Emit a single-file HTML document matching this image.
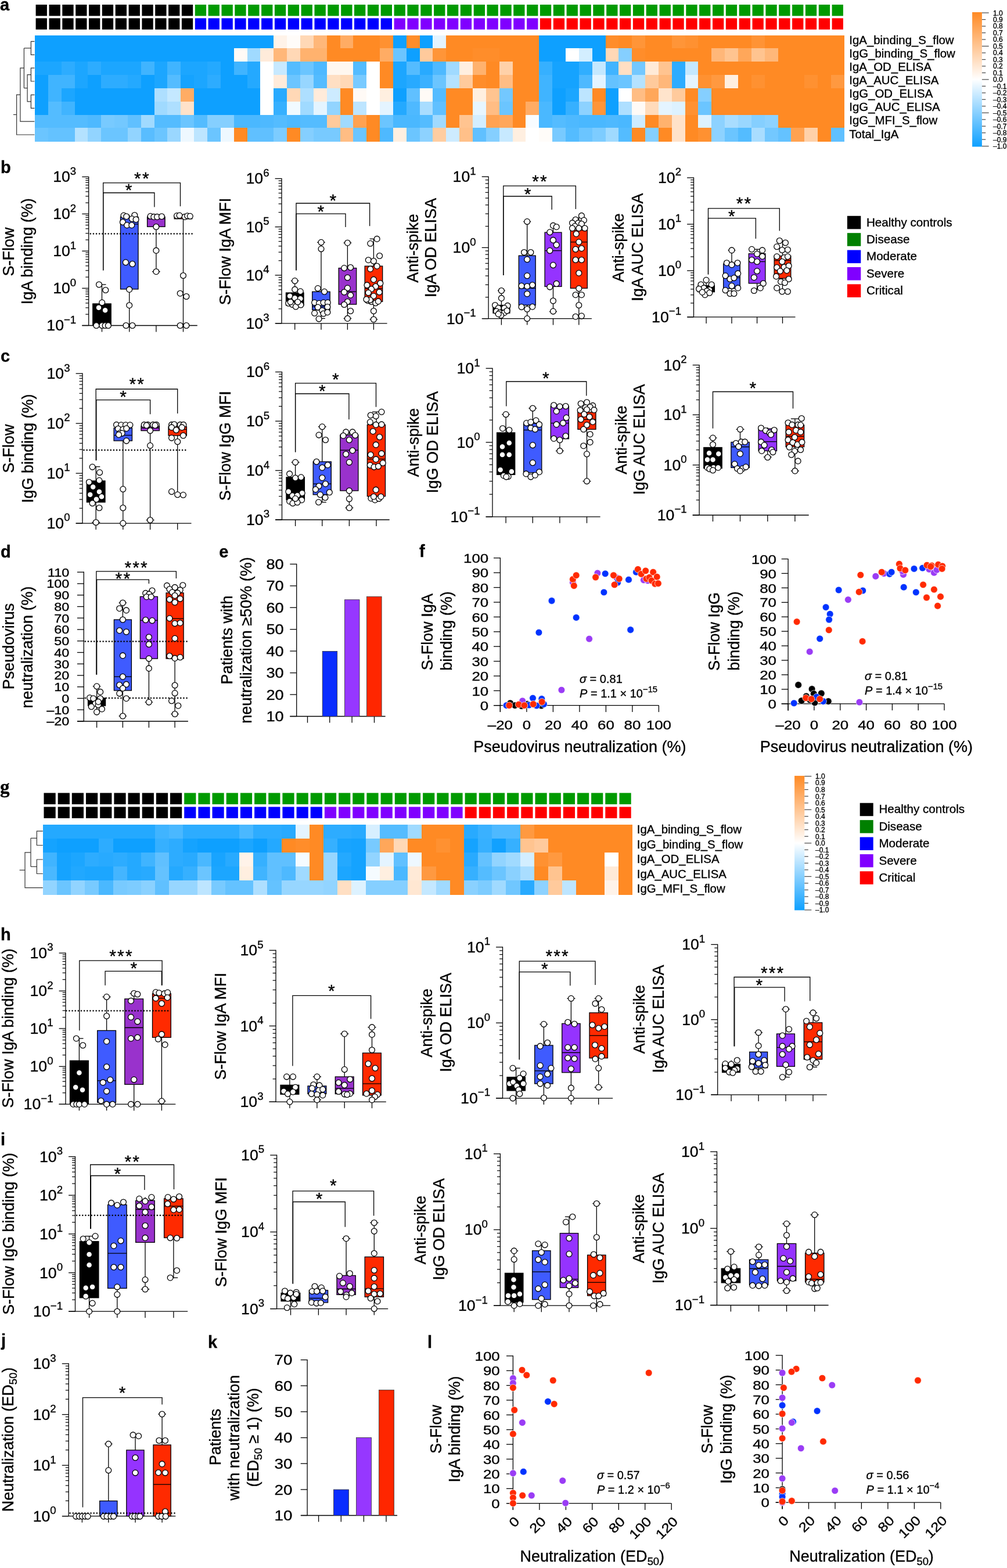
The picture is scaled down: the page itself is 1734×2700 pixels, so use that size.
<!DOCTYPE html>
<html><head><meta charset="utf-8"><style>
html,body{margin:0;padding:0;background:#fff;}
svg{display:block;}
text{stroke:#000;stroke-width:0.35px;}
</style></head><body>
<svg width="1734" height="2700" viewBox="0 0 1734 2700">
<rect width="100%" height="100%" fill="#fff"/>
<rect x="59.9" y="60.5" width="23.4" height="23.3" fill="#0ea0ff" shape-rendering="crispEdges"/>
<rect x="82.8" y="60.5" width="23.4" height="23.3" fill="#0ea0ff" shape-rendering="crispEdges"/>
<rect x="105.6" y="60.5" width="23.4" height="23.3" fill="#0ea0ff" shape-rendering="crispEdges"/>
<rect x="128.5" y="60.5" width="23.4" height="23.3" fill="#0ea0ff" shape-rendering="crispEdges"/>
<rect x="151.3" y="60.5" width="23.4" height="23.3" fill="#0ea0ff" shape-rendering="crispEdges"/>
<rect x="174.2" y="60.5" width="23.4" height="23.3" fill="#0ea0ff" shape-rendering="crispEdges"/>
<rect x="197" y="60.5" width="23.4" height="23.3" fill="#0ea0ff" shape-rendering="crispEdges"/>
<rect x="219.9" y="60.5" width="23.4" height="23.3" fill="#0ea0ff" shape-rendering="crispEdges"/>
<rect x="242.7" y="60.5" width="23.4" height="23.3" fill="#0ea0ff" shape-rendering="crispEdges"/>
<rect x="265.6" y="60.5" width="23.4" height="23.3" fill="#0ea0ff" shape-rendering="crispEdges"/>
<rect x="288.4" y="60.5" width="23.4" height="23.3" fill="#0ea0ff" shape-rendering="crispEdges"/>
<rect x="311.2" y="60.5" width="23.4" height="23.3" fill="#0ea0ff" shape-rendering="crispEdges"/>
<rect x="334.1" y="60.5" width="23.4" height="23.3" fill="#0ea0ff" shape-rendering="crispEdges"/>
<rect x="356.9" y="60.5" width="23.4" height="23.3" fill="#0ea0ff" shape-rendering="crispEdges"/>
<rect x="379.8" y="60.5" width="23.4" height="23.3" fill="#0ea0ff" shape-rendering="crispEdges"/>
<rect x="402.6" y="60.5" width="23.4" height="23.3" fill="#0ea0ff" shape-rendering="crispEdges"/>
<rect x="425.5" y="60.5" width="23.4" height="23.3" fill="#0ea0ff" shape-rendering="crispEdges"/>
<rect x="448.4" y="60.5" width="23.4" height="23.3" fill="#0ea0ff" shape-rendering="crispEdges"/>
<rect x="471.2" y="60.5" width="23.4" height="23.3" fill="#fff3e9" shape-rendering="crispEdges"/>
<rect x="494.1" y="60.5" width="23.4" height="23.3" fill="#fffcf9" shape-rendering="crispEdges"/>
<rect x="516.9" y="60.5" width="23.4" height="23.3" fill="#ffd8b6" shape-rendering="crispEdges"/>
<rect x="539.8" y="60.5" width="23.4" height="23.3" fill="#ffb779" shape-rendering="crispEdges"/>
<rect x="562.6" y="60.5" width="23.4" height="23.3" fill="#ff8a24" shape-rendering="crispEdges"/>
<rect x="585.5" y="60.5" width="23.4" height="23.3" fill="#ffac64" shape-rendering="crispEdges"/>
<rect x="608.3" y="60.5" width="23.4" height="23.3" fill="#ff8a24" shape-rendering="crispEdges"/>
<rect x="631.1" y="60.5" width="23.4" height="23.3" fill="#ff8a24" shape-rendering="crispEdges"/>
<rect x="654" y="60.5" width="23.4" height="23.3" fill="#ff9131" shape-rendering="crispEdges"/>
<rect x="676.9" y="60.5" width="23.4" height="23.3" fill="#0ea0ff" shape-rendering="crispEdges"/>
<rect x="699.7" y="60.5" width="23.4" height="23.3" fill="#ff8d2a" shape-rendering="crispEdges"/>
<rect x="722.6" y="60.5" width="23.4" height="23.3" fill="#0ea0ff" shape-rendering="crispEdges"/>
<rect x="745.4" y="60.5" width="23.4" height="23.3" fill="#e4f4ff" shape-rendering="crispEdges"/>
<rect x="768.2" y="60.5" width="23.4" height="23.3" fill="#ff8a24" shape-rendering="crispEdges"/>
<rect x="791.1" y="60.5" width="23.4" height="23.3" fill="#ff8a24" shape-rendering="crispEdges"/>
<rect x="814" y="60.5" width="23.4" height="23.3" fill="#ff8a24" shape-rendering="crispEdges"/>
<rect x="836.8" y="60.5" width="23.4" height="23.3" fill="#ff8a24" shape-rendering="crispEdges"/>
<rect x="859.6" y="60.5" width="23.4" height="23.3" fill="#ff8a24" shape-rendering="crispEdges"/>
<rect x="882.5" y="60.5" width="23.4" height="23.3" fill="#ff8a24" shape-rendering="crispEdges"/>
<rect x="905.4" y="60.5" width="23.4" height="23.3" fill="#ff8a24" shape-rendering="crispEdges"/>
<rect x="928.2" y="60.5" width="23.4" height="23.3" fill="#0ea0ff" shape-rendering="crispEdges"/>
<rect x="951.1" y="60.5" width="23.4" height="23.3" fill="#0ea0ff" shape-rendering="crispEdges"/>
<rect x="973.9" y="60.5" width="23.4" height="23.3" fill="#0ea0ff" shape-rendering="crispEdges"/>
<rect x="996.8" y="60.5" width="23.4" height="23.3" fill="#0ea0ff" shape-rendering="crispEdges"/>
<rect x="1019.6" y="60.5" width="23.4" height="23.3" fill="#0ea0ff" shape-rendering="crispEdges"/>
<rect x="1042.5" y="60.5" width="23.4" height="23.3" fill="#ff8d2a" shape-rendering="crispEdges"/>
<rect x="1065.3" y="60.5" width="23.4" height="23.3" fill="#ff8a24" shape-rendering="crispEdges"/>
<rect x="1088.2" y="60.5" width="23.4" height="23.3" fill="#ff9538" shape-rendering="crispEdges"/>
<rect x="1111" y="60.5" width="23.4" height="23.3" fill="#ff8a24" shape-rendering="crispEdges"/>
<rect x="1133.9" y="60.5" width="23.4" height="23.3" fill="#ff8a24" shape-rendering="crispEdges"/>
<rect x="1156.7" y="60.5" width="23.4" height="23.3" fill="#ff9538" shape-rendering="crispEdges"/>
<rect x="1179.6" y="60.5" width="23.4" height="23.3" fill="#ff9131" shape-rendering="crispEdges"/>
<rect x="1202.4" y="60.5" width="23.4" height="23.3" fill="#ff8a24" shape-rendering="crispEdges"/>
<rect x="1225.3" y="60.5" width="23.4" height="23.3" fill="#ff8a24" shape-rendering="crispEdges"/>
<rect x="1248.1" y="60.5" width="23.4" height="23.3" fill="#ff8a24" shape-rendering="crispEdges"/>
<rect x="1271" y="60.5" width="23.4" height="23.3" fill="#ff8a24" shape-rendering="crispEdges"/>
<rect x="1293.8" y="60.5" width="23.4" height="23.3" fill="#ff9335" shape-rendering="crispEdges"/>
<rect x="1316.7" y="60.5" width="23.4" height="23.3" fill="#ff8a24" shape-rendering="crispEdges"/>
<rect x="1339.5" y="60.5" width="23.4" height="23.3" fill="#ff8a24" shape-rendering="crispEdges"/>
<rect x="1362.4" y="60.5" width="23.4" height="23.3" fill="#ff8a24" shape-rendering="crispEdges"/>
<rect x="1385.2" y="60.5" width="23.4" height="23.3" fill="#ff8a24" shape-rendering="crispEdges"/>
<rect x="1408.1" y="60.5" width="23.4" height="23.3" fill="#ff8a24" shape-rendering="crispEdges"/>
<rect x="1430.9" y="60.5" width="23.4" height="23.3" fill="#ff8a24" shape-rendering="crispEdges"/>
<rect x="59.9" y="83.3" width="23.4" height="23.3" fill="#0ea0ff" shape-rendering="crispEdges"/>
<rect x="82.8" y="83.3" width="23.4" height="23.3" fill="#0ea0ff" shape-rendering="crispEdges"/>
<rect x="105.6" y="83.3" width="23.4" height="23.3" fill="#0ea0ff" shape-rendering="crispEdges"/>
<rect x="128.5" y="83.3" width="23.4" height="23.3" fill="#0ea0ff" shape-rendering="crispEdges"/>
<rect x="151.3" y="83.3" width="23.4" height="23.3" fill="#0ea0ff" shape-rendering="crispEdges"/>
<rect x="174.2" y="83.3" width="23.4" height="23.3" fill="#0ea0ff" shape-rendering="crispEdges"/>
<rect x="197" y="83.3" width="23.4" height="23.3" fill="#0ea0ff" shape-rendering="crispEdges"/>
<rect x="219.9" y="83.3" width="23.4" height="23.3" fill="#0ea0ff" shape-rendering="crispEdges"/>
<rect x="242.7" y="83.3" width="23.4" height="23.3" fill="#0ea0ff" shape-rendering="crispEdges"/>
<rect x="265.6" y="83.3" width="23.4" height="23.3" fill="#0ea0ff" shape-rendering="crispEdges"/>
<rect x="288.4" y="83.3" width="23.4" height="23.3" fill="#0ea0ff" shape-rendering="crispEdges"/>
<rect x="311.2" y="83.3" width="23.4" height="23.3" fill="#0ea0ff" shape-rendering="crispEdges"/>
<rect x="334.1" y="83.3" width="23.4" height="23.3" fill="#0ea0ff" shape-rendering="crispEdges"/>
<rect x="356.9" y="83.3" width="23.4" height="23.3" fill="#0ea0ff" shape-rendering="crispEdges"/>
<rect x="379.8" y="83.3" width="23.4" height="23.3" fill="#0ea0ff" shape-rendering="crispEdges"/>
<rect x="402.6" y="83.3" width="23.4" height="23.3" fill="#fffaf6" shape-rendering="crispEdges"/>
<rect x="425.5" y="83.3" width="23.4" height="23.3" fill="#a0daff" shape-rendering="crispEdges"/>
<rect x="448.4" y="83.3" width="23.4" height="23.3" fill="#ffebda" shape-rendering="crispEdges"/>
<rect x="471.2" y="83.3" width="23.4" height="23.3" fill="#ffb779" shape-rendering="crispEdges"/>
<rect x="494.1" y="83.3" width="23.4" height="23.3" fill="#ffd8b6" shape-rendering="crispEdges"/>
<rect x="516.9" y="83.3" width="23.4" height="23.3" fill="#ffb26e" shape-rendering="crispEdges"/>
<rect x="539.8" y="83.3" width="23.4" height="23.3" fill="#ffb26e" shape-rendering="crispEdges"/>
<rect x="562.6" y="83.3" width="23.4" height="23.3" fill="#ff8a24" shape-rendering="crispEdges"/>
<rect x="585.5" y="83.3" width="23.4" height="23.3" fill="#ff8a24" shape-rendering="crispEdges"/>
<rect x="608.3" y="83.3" width="23.4" height="23.3" fill="#ff8a24" shape-rendering="crispEdges"/>
<rect x="631.1" y="83.3" width="23.4" height="23.3" fill="#ff8a24" shape-rendering="crispEdges"/>
<rect x="654" y="83.3" width="23.4" height="23.3" fill="#ffac64" shape-rendering="crispEdges"/>
<rect x="676.9" y="83.3" width="23.4" height="23.3" fill="#6bc5ff" shape-rendering="crispEdges"/>
<rect x="699.7" y="83.3" width="23.4" height="23.3" fill="#0ea0ff" shape-rendering="crispEdges"/>
<rect x="722.6" y="83.3" width="23.4" height="23.3" fill="#ffca9c" shape-rendering="crispEdges"/>
<rect x="745.4" y="83.3" width="23.4" height="23.3" fill="#ff9538" shape-rendering="crispEdges"/>
<rect x="768.2" y="83.3" width="23.4" height="23.3" fill="#ff8a24" shape-rendering="crispEdges"/>
<rect x="791.1" y="83.3" width="23.4" height="23.3" fill="#ff8a24" shape-rendering="crispEdges"/>
<rect x="814" y="83.3" width="23.4" height="23.3" fill="#ff8d2a" shape-rendering="crispEdges"/>
<rect x="836.8" y="83.3" width="23.4" height="23.3" fill="#ff8d2a" shape-rendering="crispEdges"/>
<rect x="859.6" y="83.3" width="23.4" height="23.3" fill="#ff8a24" shape-rendering="crispEdges"/>
<rect x="882.5" y="83.3" width="23.4" height="23.3" fill="#ff8a24" shape-rendering="crispEdges"/>
<rect x="905.4" y="83.3" width="23.4" height="23.3" fill="#ff8a24" shape-rendering="crispEdges"/>
<rect x="928.2" y="83.3" width="23.4" height="23.3" fill="#0ea0ff" shape-rendering="crispEdges"/>
<rect x="951.1" y="83.3" width="23.4" height="23.3" fill="#0ea0ff" shape-rendering="crispEdges"/>
<rect x="973.9" y="83.3" width="23.4" height="23.3" fill="#ffffff" shape-rendering="crispEdges"/>
<rect x="996.8" y="83.3" width="23.4" height="23.3" fill="#d3eeff" shape-rendering="crispEdges"/>
<rect x="1019.6" y="83.3" width="23.4" height="23.3" fill="#0ea0ff" shape-rendering="crispEdges"/>
<rect x="1042.5" y="83.3" width="23.4" height="23.3" fill="#ffd8b6" shape-rendering="crispEdges"/>
<rect x="1065.3" y="83.3" width="23.4" height="23.3" fill="#85cfff" shape-rendering="crispEdges"/>
<rect x="1088.2" y="83.3" width="23.4" height="23.3" fill="#ff8d2a" shape-rendering="crispEdges"/>
<rect x="1111" y="83.3" width="23.4" height="23.3" fill="#ff8a24" shape-rendering="crispEdges"/>
<rect x="1133.9" y="83.3" width="23.4" height="23.3" fill="#ff8a24" shape-rendering="crispEdges"/>
<rect x="1156.7" y="83.3" width="23.4" height="23.3" fill="#ff8a24" shape-rendering="crispEdges"/>
<rect x="1179.6" y="83.3" width="23.4" height="23.3" fill="#ff8a24" shape-rendering="crispEdges"/>
<rect x="1202.4" y="83.3" width="23.4" height="23.3" fill="#ff8a24" shape-rendering="crispEdges"/>
<rect x="1225.3" y="83.3" width="23.4" height="23.3" fill="#ffb779" shape-rendering="crispEdges"/>
<rect x="1248.1" y="83.3" width="23.4" height="23.3" fill="#ffc490" shape-rendering="crispEdges"/>
<rect x="1271" y="83.3" width="23.4" height="23.3" fill="#ffa75a" shape-rendering="crispEdges"/>
<rect x="1293.8" y="83.3" width="23.4" height="23.3" fill="#ffc490" shape-rendering="crispEdges"/>
<rect x="1316.7" y="83.3" width="23.4" height="23.3" fill="#ffb779" shape-rendering="crispEdges"/>
<rect x="1339.5" y="83.3" width="23.4" height="23.3" fill="#ff8a24" shape-rendering="crispEdges"/>
<rect x="1362.4" y="83.3" width="23.4" height="23.3" fill="#ff8a24" shape-rendering="crispEdges"/>
<rect x="1385.2" y="83.3" width="23.4" height="23.3" fill="#ff8a24" shape-rendering="crispEdges"/>
<rect x="1408.1" y="83.3" width="23.4" height="23.3" fill="#ff8a24" shape-rendering="crispEdges"/>
<rect x="1430.9" y="83.3" width="23.4" height="23.3" fill="#ff8a24" shape-rendering="crispEdges"/>
<rect x="59.9" y="106.2" width="23.4" height="23.3" fill="#1ca6ff" shape-rendering="crispEdges"/>
<rect x="82.8" y="106.2" width="23.4" height="23.3" fill="#1ca6ff" shape-rendering="crispEdges"/>
<rect x="105.6" y="106.2" width="23.4" height="23.3" fill="#2dacff" shape-rendering="crispEdges"/>
<rect x="128.5" y="106.2" width="23.4" height="23.3" fill="#1ca6ff" shape-rendering="crispEdges"/>
<rect x="151.3" y="106.2" width="23.4" height="23.3" fill="#2dacff" shape-rendering="crispEdges"/>
<rect x="174.2" y="106.2" width="23.4" height="23.3" fill="#1ca6ff" shape-rendering="crispEdges"/>
<rect x="197" y="106.2" width="23.4" height="23.3" fill="#1ca6ff" shape-rendering="crispEdges"/>
<rect x="219.9" y="106.2" width="23.4" height="23.3" fill="#1ca6ff" shape-rendering="crispEdges"/>
<rect x="242.7" y="106.2" width="23.4" height="23.3" fill="#40b4ff" shape-rendering="crispEdges"/>
<rect x="265.6" y="106.2" width="23.4" height="23.3" fill="#1ca6ff" shape-rendering="crispEdges"/>
<rect x="288.4" y="106.2" width="23.4" height="23.3" fill="#40b4ff" shape-rendering="crispEdges"/>
<rect x="311.2" y="106.2" width="23.4" height="23.3" fill="#1ca6ff" shape-rendering="crispEdges"/>
<rect x="334.1" y="106.2" width="23.4" height="23.3" fill="#1ca6ff" shape-rendering="crispEdges"/>
<rect x="356.9" y="106.2" width="23.4" height="23.3" fill="#24a9ff" shape-rendering="crispEdges"/>
<rect x="379.8" y="106.2" width="23.4" height="23.3" fill="#0ea0ff" shape-rendering="crispEdges"/>
<rect x="402.6" y="106.2" width="23.4" height="23.3" fill="#40b4ff" shape-rendering="crispEdges"/>
<rect x="425.5" y="106.2" width="23.4" height="23.3" fill="#24a9ff" shape-rendering="crispEdges"/>
<rect x="448.4" y="106.2" width="23.4" height="23.3" fill="#ffffff" shape-rendering="crispEdges"/>
<rect x="471.2" y="106.2" width="23.4" height="23.3" fill="#c7e9ff" shape-rendering="crispEdges"/>
<rect x="494.1" y="106.2" width="23.4" height="23.3" fill="#54bcff" shape-rendering="crispEdges"/>
<rect x="516.9" y="106.2" width="23.4" height="23.3" fill="#6bc5ff" shape-rendering="crispEdges"/>
<rect x="539.8" y="106.2" width="23.4" height="23.3" fill="#4eb9ff" shape-rendering="crispEdges"/>
<rect x="562.6" y="106.2" width="23.4" height="23.3" fill="#fff7ef" shape-rendering="crispEdges"/>
<rect x="585.5" y="106.2" width="23.4" height="23.3" fill="#fff7ef" shape-rendering="crispEdges"/>
<rect x="608.3" y="106.2" width="23.4" height="23.3" fill="#54bcff" shape-rendering="crispEdges"/>
<rect x="631.1" y="106.2" width="23.4" height="23.3" fill="#ffffff" shape-rendering="crispEdges"/>
<rect x="654" y="106.2" width="23.4" height="23.3" fill="#ff8a24" shape-rendering="crispEdges"/>
<rect x="676.9" y="106.2" width="23.4" height="23.3" fill="#1ca6ff" shape-rendering="crispEdges"/>
<rect x="699.7" y="106.2" width="23.4" height="23.3" fill="#54bcff" shape-rendering="crispEdges"/>
<rect x="722.6" y="106.2" width="23.4" height="23.3" fill="#28aaff" shape-rendering="crispEdges"/>
<rect x="745.4" y="106.2" width="23.4" height="23.3" fill="#4eb9ff" shape-rendering="crispEdges"/>
<rect x="768.2" y="106.2" width="23.4" height="23.3" fill="#a0daff" shape-rendering="crispEdges"/>
<rect x="791.1" y="106.2" width="23.4" height="23.3" fill="#ffefe0" shape-rendering="crispEdges"/>
<rect x="814" y="106.2" width="23.4" height="23.3" fill="#ffb26e" shape-rendering="crispEdges"/>
<rect x="836.8" y="106.2" width="23.4" height="23.3" fill="#ff8a24" shape-rendering="crispEdges"/>
<rect x="859.6" y="106.2" width="23.4" height="23.3" fill="#ffd1a9" shape-rendering="crispEdges"/>
<rect x="882.5" y="106.2" width="23.4" height="23.3" fill="#ff8a24" shape-rendering="crispEdges"/>
<rect x="905.4" y="106.2" width="23.4" height="23.3" fill="#ff8a24" shape-rendering="crispEdges"/>
<rect x="928.2" y="106.2" width="23.4" height="23.3" fill="#36b0ff" shape-rendering="crispEdges"/>
<rect x="951.1" y="106.2" width="23.4" height="23.3" fill="#15a3ff" shape-rendering="crispEdges"/>
<rect x="973.9" y="106.2" width="23.4" height="23.3" fill="#15a3ff" shape-rendering="crispEdges"/>
<rect x="996.8" y="106.2" width="23.4" height="23.3" fill="#30aeff" shape-rendering="crispEdges"/>
<rect x="1019.6" y="106.2" width="23.4" height="23.3" fill="#c4e8ff" shape-rendering="crispEdges"/>
<rect x="1042.5" y="106.2" width="23.4" height="23.3" fill="#40b4ff" shape-rendering="crispEdges"/>
<rect x="1065.3" y="106.2" width="23.4" height="23.3" fill="#ffdfc3" shape-rendering="crispEdges"/>
<rect x="1088.2" y="106.2" width="23.4" height="23.3" fill="#73c8ff" shape-rendering="crispEdges"/>
<rect x="1111" y="106.2" width="23.4" height="23.3" fill="#ffead7" shape-rendering="crispEdges"/>
<rect x="1133.9" y="106.2" width="23.4" height="23.3" fill="#ffc490" shape-rendering="crispEdges"/>
<rect x="1156.7" y="106.2" width="23.4" height="23.3" fill="#2dacff" shape-rendering="crispEdges"/>
<rect x="1179.6" y="106.2" width="23.4" height="23.3" fill="#c4e8ff" shape-rendering="crispEdges"/>
<rect x="1202.4" y="106.2" width="23.4" height="23.3" fill="#ff8a24" shape-rendering="crispEdges"/>
<rect x="1225.3" y="106.2" width="23.4" height="23.3" fill="#ff8a24" shape-rendering="crispEdges"/>
<rect x="1248.1" y="106.2" width="23.4" height="23.3" fill="#ff8a24" shape-rendering="crispEdges"/>
<rect x="1271" y="106.2" width="23.4" height="23.3" fill="#ff8a24" shape-rendering="crispEdges"/>
<rect x="1293.8" y="106.2" width="23.4" height="23.3" fill="#ff8a24" shape-rendering="crispEdges"/>
<rect x="1316.7" y="106.2" width="23.4" height="23.3" fill="#ff8a24" shape-rendering="crispEdges"/>
<rect x="1339.5" y="106.2" width="23.4" height="23.3" fill="#ff8a24" shape-rendering="crispEdges"/>
<rect x="1362.4" y="106.2" width="23.4" height="23.3" fill="#ff8a24" shape-rendering="crispEdges"/>
<rect x="1385.2" y="106.2" width="23.4" height="23.3" fill="#ff8a24" shape-rendering="crispEdges"/>
<rect x="1408.1" y="106.2" width="23.4" height="23.3" fill="#ff8a24" shape-rendering="crispEdges"/>
<rect x="1430.9" y="106.2" width="23.4" height="23.3" fill="#ff8a24" shape-rendering="crispEdges"/>
<rect x="59.9" y="129" width="23.4" height="23.3" fill="#0ea0ff" shape-rendering="crispEdges"/>
<rect x="82.8" y="129" width="23.4" height="23.3" fill="#40b4ff" shape-rendering="crispEdges"/>
<rect x="105.6" y="129" width="23.4" height="23.3" fill="#40b4ff" shape-rendering="crispEdges"/>
<rect x="128.5" y="129" width="23.4" height="23.3" fill="#1ca6ff" shape-rendering="crispEdges"/>
<rect x="151.3" y="129" width="23.4" height="23.3" fill="#0ea0ff" shape-rendering="crispEdges"/>
<rect x="174.2" y="129" width="23.4" height="23.3" fill="#2dacff" shape-rendering="crispEdges"/>
<rect x="197" y="129" width="23.4" height="23.3" fill="#2dacff" shape-rendering="crispEdges"/>
<rect x="219.9" y="129" width="23.4" height="23.3" fill="#24a9ff" shape-rendering="crispEdges"/>
<rect x="242.7" y="129" width="23.4" height="23.3" fill="#0ea0ff" shape-rendering="crispEdges"/>
<rect x="265.6" y="129" width="23.4" height="23.3" fill="#1ca6ff" shape-rendering="crispEdges"/>
<rect x="288.4" y="129" width="23.4" height="23.3" fill="#54bcff" shape-rendering="crispEdges"/>
<rect x="311.2" y="129" width="23.4" height="23.3" fill="#15a3ff" shape-rendering="crispEdges"/>
<rect x="334.1" y="129" width="23.4" height="23.3" fill="#1ca6ff" shape-rendering="crispEdges"/>
<rect x="356.9" y="129" width="23.4" height="23.3" fill="#2dacff" shape-rendering="crispEdges"/>
<rect x="379.8" y="129" width="23.4" height="23.3" fill="#0ea0ff" shape-rendering="crispEdges"/>
<rect x="402.6" y="129" width="23.4" height="23.3" fill="#0ea0ff" shape-rendering="crispEdges"/>
<rect x="425.5" y="129" width="23.4" height="23.3" fill="#24a9ff" shape-rendering="crispEdges"/>
<rect x="448.4" y="129" width="23.4" height="23.3" fill="#ffffff" shape-rendering="crispEdges"/>
<rect x="471.2" y="129" width="23.4" height="23.3" fill="#ffebda" shape-rendering="crispEdges"/>
<rect x="494.1" y="129" width="23.4" height="23.3" fill="#6bc5ff" shape-rendering="crispEdges"/>
<rect x="516.9" y="129" width="23.4" height="23.3" fill="#97d6ff" shape-rendering="crispEdges"/>
<rect x="539.8" y="129" width="23.4" height="23.3" fill="#54bcff" shape-rendering="crispEdges"/>
<rect x="562.6" y="129" width="23.4" height="23.3" fill="#ffdfc3" shape-rendering="crispEdges"/>
<rect x="585.5" y="129" width="23.4" height="23.3" fill="#ffd8b6" shape-rendering="crispEdges"/>
<rect x="608.3" y="129" width="23.4" height="23.3" fill="#78caff" shape-rendering="crispEdges"/>
<rect x="631.1" y="129" width="23.4" height="23.3" fill="#ffffff" shape-rendering="crispEdges"/>
<rect x="654" y="129" width="23.4" height="23.3" fill="#ff8a24" shape-rendering="crispEdges"/>
<rect x="676.9" y="129" width="23.4" height="23.3" fill="#1ca6ff" shape-rendering="crispEdges"/>
<rect x="699.7" y="129" width="23.4" height="23.3" fill="#28aaff" shape-rendering="crispEdges"/>
<rect x="722.6" y="129" width="23.4" height="23.3" fill="#3ab1ff" shape-rendering="crispEdges"/>
<rect x="745.4" y="129" width="23.4" height="23.3" fill="#6bc5ff" shape-rendering="crispEdges"/>
<rect x="768.2" y="129" width="23.4" height="23.3" fill="#b4e2ff" shape-rendering="crispEdges"/>
<rect x="791.1" y="129" width="23.4" height="23.3" fill="#ffca9c" shape-rendering="crispEdges"/>
<rect x="814" y="129" width="23.4" height="23.3" fill="#ff8d2a" shape-rendering="crispEdges"/>
<rect x="836.8" y="129" width="23.4" height="23.3" fill="#ff8a24" shape-rendering="crispEdges"/>
<rect x="859.6" y="129" width="23.4" height="23.3" fill="#ffbd84" shape-rendering="crispEdges"/>
<rect x="882.5" y="129" width="23.4" height="23.3" fill="#ff8a24" shape-rendering="crispEdges"/>
<rect x="905.4" y="129" width="23.4" height="23.3" fill="#ff8a24" shape-rendering="crispEdges"/>
<rect x="928.2" y="129" width="23.4" height="23.3" fill="#40b4ff" shape-rendering="crispEdges"/>
<rect x="951.1" y="129" width="23.4" height="23.3" fill="#15a3ff" shape-rendering="crispEdges"/>
<rect x="973.9" y="129" width="23.4" height="23.3" fill="#15a3ff" shape-rendering="crispEdges"/>
<rect x="996.8" y="129" width="23.4" height="23.3" fill="#4eb9ff" shape-rendering="crispEdges"/>
<rect x="1019.6" y="129" width="23.4" height="23.3" fill="#e4f4ff" shape-rendering="crispEdges"/>
<rect x="1042.5" y="129" width="23.4" height="23.3" fill="#64c2ff" shape-rendering="crispEdges"/>
<rect x="1065.3" y="129" width="23.4" height="23.3" fill="#6bc5ff" shape-rendering="crispEdges"/>
<rect x="1088.2" y="129" width="23.4" height="23.3" fill="#b4e2ff" shape-rendering="crispEdges"/>
<rect x="1111" y="129" width="23.4" height="23.3" fill="#ffca9c" shape-rendering="crispEdges"/>
<rect x="1133.9" y="129" width="23.4" height="23.3" fill="#ffb779" shape-rendering="crispEdges"/>
<rect x="1156.7" y="129" width="23.4" height="23.3" fill="#2dacff" shape-rendering="crispEdges"/>
<rect x="1179.6" y="129" width="23.4" height="23.3" fill="#e4f4ff" shape-rendering="crispEdges"/>
<rect x="1202.4" y="129" width="23.4" height="23.3" fill="#ff9131" shape-rendering="crispEdges"/>
<rect x="1225.3" y="129" width="23.4" height="23.3" fill="#ff9940" shape-rendering="crispEdges"/>
<rect x="1248.1" y="129" width="23.4" height="23.3" fill="#ffefe0" shape-rendering="crispEdges"/>
<rect x="1271" y="129" width="23.4" height="23.3" fill="#ff8a24" shape-rendering="crispEdges"/>
<rect x="1293.8" y="129" width="23.4" height="23.3" fill="#ff9131" shape-rendering="crispEdges"/>
<rect x="1316.7" y="129" width="23.4" height="23.3" fill="#ff8a24" shape-rendering="crispEdges"/>
<rect x="1339.5" y="129" width="23.4" height="23.3" fill="#ff8a24" shape-rendering="crispEdges"/>
<rect x="1362.4" y="129" width="23.4" height="23.3" fill="#ff8a24" shape-rendering="crispEdges"/>
<rect x="1385.2" y="129" width="23.4" height="23.3" fill="#ff9131" shape-rendering="crispEdges"/>
<rect x="1408.1" y="129" width="23.4" height="23.3" fill="#ff8a24" shape-rendering="crispEdges"/>
<rect x="1430.9" y="129" width="23.4" height="23.3" fill="#ff9940" shape-rendering="crispEdges"/>
<rect x="59.9" y="151.9" width="23.4" height="23.3" fill="#0ea0ff" shape-rendering="crispEdges"/>
<rect x="82.8" y="151.9" width="23.4" height="23.3" fill="#40b4ff" shape-rendering="crispEdges"/>
<rect x="105.6" y="151.9" width="23.4" height="23.3" fill="#1ca6ff" shape-rendering="crispEdges"/>
<rect x="128.5" y="151.9" width="23.4" height="23.3" fill="#0ea0ff" shape-rendering="crispEdges"/>
<rect x="151.3" y="151.9" width="23.4" height="23.3" fill="#0ea0ff" shape-rendering="crispEdges"/>
<rect x="174.2" y="151.9" width="23.4" height="23.3" fill="#0ea0ff" shape-rendering="crispEdges"/>
<rect x="197" y="151.9" width="23.4" height="23.3" fill="#0ea0ff" shape-rendering="crispEdges"/>
<rect x="219.9" y="151.9" width="23.4" height="23.3" fill="#0ea0ff" shape-rendering="crispEdges"/>
<rect x="242.7" y="151.9" width="23.4" height="23.3" fill="#0ea0ff" shape-rendering="crispEdges"/>
<rect x="265.6" y="151.9" width="23.4" height="23.3" fill="#aedfff" shape-rendering="crispEdges"/>
<rect x="288.4" y="151.9" width="23.4" height="23.3" fill="#c4e8ff" shape-rendering="crispEdges"/>
<rect x="311.2" y="151.9" width="23.4" height="23.3" fill="#ffac64" shape-rendering="crispEdges"/>
<rect x="334.1" y="151.9" width="23.4" height="23.3" fill="#0ea0ff" shape-rendering="crispEdges"/>
<rect x="356.9" y="151.9" width="23.4" height="23.3" fill="#0ea0ff" shape-rendering="crispEdges"/>
<rect x="379.8" y="151.9" width="23.4" height="23.3" fill="#0ea0ff" shape-rendering="crispEdges"/>
<rect x="402.6" y="151.9" width="23.4" height="23.3" fill="#0ea0ff" shape-rendering="crispEdges"/>
<rect x="425.5" y="151.9" width="23.4" height="23.3" fill="#0ea0ff" shape-rendering="crispEdges"/>
<rect x="448.4" y="151.9" width="23.4" height="23.3" fill="#ffffff" shape-rendering="crispEdges"/>
<rect x="471.2" y="151.9" width="23.4" height="23.3" fill="#28aaff" shape-rendering="crispEdges"/>
<rect x="494.1" y="151.9" width="23.4" height="23.3" fill="#ffd8b6" shape-rendering="crispEdges"/>
<rect x="516.9" y="151.9" width="23.4" height="23.3" fill="#aedfff" shape-rendering="crispEdges"/>
<rect x="539.8" y="151.9" width="23.4" height="23.3" fill="#ffebda" shape-rendering="crispEdges"/>
<rect x="562.6" y="151.9" width="23.4" height="23.3" fill="#cdebff" shape-rendering="crispEdges"/>
<rect x="585.5" y="151.9" width="23.4" height="23.3" fill="#ff8a24" shape-rendering="crispEdges"/>
<rect x="608.3" y="151.9" width="23.4" height="23.3" fill="#fffaf6" shape-rendering="crispEdges"/>
<rect x="631.1" y="151.9" width="23.4" height="23.3" fill="#ffffff" shape-rendering="crispEdges"/>
<rect x="654" y="151.9" width="23.4" height="23.3" fill="#ffefe0" shape-rendering="crispEdges"/>
<rect x="676.9" y="151.9" width="23.4" height="23.3" fill="#0ea0ff" shape-rendering="crispEdges"/>
<rect x="699.7" y="151.9" width="23.4" height="23.3" fill="#60c0ff" shape-rendering="crispEdges"/>
<rect x="722.6" y="151.9" width="23.4" height="23.3" fill="#fffaf6" shape-rendering="crispEdges"/>
<rect x="745.4" y="151.9" width="23.4" height="23.3" fill="#54bcff" shape-rendering="crispEdges"/>
<rect x="768.2" y="151.9" width="23.4" height="23.3" fill="#ff8a24" shape-rendering="crispEdges"/>
<rect x="791.1" y="151.9" width="23.4" height="23.3" fill="#ff8a24" shape-rendering="crispEdges"/>
<rect x="814" y="151.9" width="23.4" height="23.3" fill="#ffefe0" shape-rendering="crispEdges"/>
<rect x="836.8" y="151.9" width="23.4" height="23.3" fill="#ffc490" shape-rendering="crispEdges"/>
<rect x="859.6" y="151.9" width="23.4" height="23.3" fill="#73c8ff" shape-rendering="crispEdges"/>
<rect x="882.5" y="151.9" width="23.4" height="23.3" fill="#ff8a24" shape-rendering="crispEdges"/>
<rect x="905.4" y="151.9" width="23.4" height="23.3" fill="#ff8a24" shape-rendering="crispEdges"/>
<rect x="928.2" y="151.9" width="23.4" height="23.3" fill="#40b4ff" shape-rendering="crispEdges"/>
<rect x="951.1" y="151.9" width="23.4" height="23.3" fill="#0ea0ff" shape-rendering="crispEdges"/>
<rect x="973.9" y="151.9" width="23.4" height="23.3" fill="#1ca6ff" shape-rendering="crispEdges"/>
<rect x="996.8" y="151.9" width="23.4" height="23.3" fill="#bde5ff" shape-rendering="crispEdges"/>
<rect x="1019.6" y="151.9" width="23.4" height="23.3" fill="#ff8a24" shape-rendering="crispEdges"/>
<rect x="1042.5" y="151.9" width="23.4" height="23.3" fill="#0ea0ff" shape-rendering="crispEdges"/>
<rect x="1065.3" y="151.9" width="23.4" height="23.3" fill="#ffffff" shape-rendering="crispEdges"/>
<rect x="1088.2" y="151.9" width="23.4" height="23.3" fill="#ffbd84" shape-rendering="crispEdges"/>
<rect x="1111" y="151.9" width="23.4" height="23.3" fill="#ffa75a" shape-rendering="crispEdges"/>
<rect x="1133.9" y="151.9" width="23.4" height="23.3" fill="#ffe4cc" shape-rendering="crispEdges"/>
<rect x="1156.7" y="151.9" width="23.4" height="23.3" fill="#ffca9c" shape-rendering="crispEdges"/>
<rect x="1179.6" y="151.9" width="23.4" height="23.3" fill="#ff8a24" shape-rendering="crispEdges"/>
<rect x="1202.4" y="151.9" width="23.4" height="23.3" fill="#85cfff" shape-rendering="crispEdges"/>
<rect x="1225.3" y="151.9" width="23.4" height="23.3" fill="#ff8a24" shape-rendering="crispEdges"/>
<rect x="1248.1" y="151.9" width="23.4" height="23.3" fill="#ff8a24" shape-rendering="crispEdges"/>
<rect x="1271" y="151.9" width="23.4" height="23.3" fill="#ff8a24" shape-rendering="crispEdges"/>
<rect x="1293.8" y="151.9" width="23.4" height="23.3" fill="#ff8a24" shape-rendering="crispEdges"/>
<rect x="1316.7" y="151.9" width="23.4" height="23.3" fill="#ff8a24" shape-rendering="crispEdges"/>
<rect x="1339.5" y="151.9" width="23.4" height="23.3" fill="#ff8a24" shape-rendering="crispEdges"/>
<rect x="1362.4" y="151.9" width="23.4" height="23.3" fill="#ff8a24" shape-rendering="crispEdges"/>
<rect x="1385.2" y="151.9" width="23.4" height="23.3" fill="#ff8a24" shape-rendering="crispEdges"/>
<rect x="1408.1" y="151.9" width="23.4" height="23.3" fill="#ff8a24" shape-rendering="crispEdges"/>
<rect x="1430.9" y="151.9" width="23.4" height="23.3" fill="#ff8a24" shape-rendering="crispEdges"/>
<rect x="59.9" y="174.7" width="23.4" height="23.3" fill="#0ea0ff" shape-rendering="crispEdges"/>
<rect x="82.8" y="174.7" width="23.4" height="23.3" fill="#54bcff" shape-rendering="crispEdges"/>
<rect x="105.6" y="174.7" width="23.4" height="23.3" fill="#40b4ff" shape-rendering="crispEdges"/>
<rect x="128.5" y="174.7" width="23.4" height="23.3" fill="#0ea0ff" shape-rendering="crispEdges"/>
<rect x="151.3" y="174.7" width="23.4" height="23.3" fill="#0ea0ff" shape-rendering="crispEdges"/>
<rect x="174.2" y="174.7" width="23.4" height="23.3" fill="#0ea0ff" shape-rendering="crispEdges"/>
<rect x="197" y="174.7" width="23.4" height="23.3" fill="#0ea0ff" shape-rendering="crispEdges"/>
<rect x="219.9" y="174.7" width="23.4" height="23.3" fill="#0ea0ff" shape-rendering="crispEdges"/>
<rect x="242.7" y="174.7" width="23.4" height="23.3" fill="#0ea0ff" shape-rendering="crispEdges"/>
<rect x="265.6" y="174.7" width="23.4" height="23.3" fill="#a0daff" shape-rendering="crispEdges"/>
<rect x="288.4" y="174.7" width="23.4" height="23.3" fill="#aedfff" shape-rendering="crispEdges"/>
<rect x="311.2" y="174.7" width="23.4" height="23.3" fill="#ffe2c9" shape-rendering="crispEdges"/>
<rect x="334.1" y="174.7" width="23.4" height="23.3" fill="#0ea0ff" shape-rendering="crispEdges"/>
<rect x="356.9" y="174.7" width="23.4" height="23.3" fill="#0ea0ff" shape-rendering="crispEdges"/>
<rect x="379.8" y="174.7" width="23.4" height="23.3" fill="#0ea0ff" shape-rendering="crispEdges"/>
<rect x="402.6" y="174.7" width="23.4" height="23.3" fill="#0ea0ff" shape-rendering="crispEdges"/>
<rect x="425.5" y="174.7" width="23.4" height="23.3" fill="#0ea0ff" shape-rendering="crispEdges"/>
<rect x="448.4" y="174.7" width="23.4" height="23.3" fill="#ffffff" shape-rendering="crispEdges"/>
<rect x="471.2" y="174.7" width="23.4" height="23.3" fill="#36b0ff" shape-rendering="crispEdges"/>
<rect x="494.1" y="174.7" width="23.4" height="23.3" fill="#f1faff" shape-rendering="crispEdges"/>
<rect x="516.9" y="174.7" width="23.4" height="23.3" fill="#a0daff" shape-rendering="crispEdges"/>
<rect x="539.8" y="174.7" width="23.4" height="23.3" fill="#e4f4ff" shape-rendering="crispEdges"/>
<rect x="562.6" y="174.7" width="23.4" height="23.3" fill="#92d4ff" shape-rendering="crispEdges"/>
<rect x="585.5" y="174.7" width="23.4" height="23.3" fill="#ff8a24" shape-rendering="crispEdges"/>
<rect x="608.3" y="174.7" width="23.4" height="23.3" fill="#bde5ff" shape-rendering="crispEdges"/>
<rect x="631.1" y="174.7" width="23.4" height="23.3" fill="#ffffff" shape-rendering="crispEdges"/>
<rect x="654" y="174.7" width="23.4" height="23.3" fill="#e4f4ff" shape-rendering="crispEdges"/>
<rect x="676.9" y="174.7" width="23.4" height="23.3" fill="#24a9ff" shape-rendering="crispEdges"/>
<rect x="699.7" y="174.7" width="23.4" height="23.3" fill="#4eb9ff" shape-rendering="crispEdges"/>
<rect x="722.6" y="174.7" width="23.4" height="23.3" fill="#a9ddff" shape-rendering="crispEdges"/>
<rect x="745.4" y="174.7" width="23.4" height="23.3" fill="#60c0ff" shape-rendering="crispEdges"/>
<rect x="768.2" y="174.7" width="23.4" height="23.3" fill="#ff8a24" shape-rendering="crispEdges"/>
<rect x="791.1" y="174.7" width="23.4" height="23.3" fill="#ff8a24" shape-rendering="crispEdges"/>
<rect x="814" y="174.7" width="23.4" height="23.3" fill="#e7f6ff" shape-rendering="crispEdges"/>
<rect x="836.8" y="174.7" width="23.4" height="23.3" fill="#ffbd84" shape-rendering="crispEdges"/>
<rect x="859.6" y="174.7" width="23.4" height="23.3" fill="#6bc5ff" shape-rendering="crispEdges"/>
<rect x="882.5" y="174.7" width="23.4" height="23.3" fill="#ff8a24" shape-rendering="crispEdges"/>
<rect x="905.4" y="174.7" width="23.4" height="23.3" fill="#ffac64" shape-rendering="crispEdges"/>
<rect x="928.2" y="174.7" width="23.4" height="23.3" fill="#4ab8ff" shape-rendering="crispEdges"/>
<rect x="951.1" y="174.7" width="23.4" height="23.3" fill="#0ea0ff" shape-rendering="crispEdges"/>
<rect x="973.9" y="174.7" width="23.4" height="23.3" fill="#36b0ff" shape-rendering="crispEdges"/>
<rect x="996.8" y="174.7" width="23.4" height="23.3" fill="#8dd2ff" shape-rendering="crispEdges"/>
<rect x="1019.6" y="174.7" width="23.4" height="23.3" fill="#ff9538" shape-rendering="crispEdges"/>
<rect x="1042.5" y="174.7" width="23.4" height="23.3" fill="#0ea0ff" shape-rendering="crispEdges"/>
<rect x="1065.3" y="174.7" width="23.4" height="23.3" fill="#aedfff" shape-rendering="crispEdges"/>
<rect x="1088.2" y="174.7" width="23.4" height="23.3" fill="#fffaf6" shape-rendering="crispEdges"/>
<rect x="1111" y="174.7" width="23.4" height="23.3" fill="#ffdbbb" shape-rendering="crispEdges"/>
<rect x="1133.9" y="174.7" width="23.4" height="23.3" fill="#e4f4ff" shape-rendering="crispEdges"/>
<rect x="1156.7" y="174.7" width="23.4" height="23.3" fill="#ddf2ff" shape-rendering="crispEdges"/>
<rect x="1179.6" y="174.7" width="23.4" height="23.3" fill="#ff9131" shape-rendering="crispEdges"/>
<rect x="1202.4" y="174.7" width="23.4" height="23.3" fill="#6bc5ff" shape-rendering="crispEdges"/>
<rect x="1225.3" y="174.7" width="23.4" height="23.3" fill="#ff8a24" shape-rendering="crispEdges"/>
<rect x="1248.1" y="174.7" width="23.4" height="23.3" fill="#ff8a24" shape-rendering="crispEdges"/>
<rect x="1271" y="174.7" width="23.4" height="23.3" fill="#ff8a24" shape-rendering="crispEdges"/>
<rect x="1293.8" y="174.7" width="23.4" height="23.3" fill="#ff8a24" shape-rendering="crispEdges"/>
<rect x="1316.7" y="174.7" width="23.4" height="23.3" fill="#ff8a24" shape-rendering="crispEdges"/>
<rect x="1339.5" y="174.7" width="23.4" height="23.3" fill="#ff8a24" shape-rendering="crispEdges"/>
<rect x="1362.4" y="174.7" width="23.4" height="23.3" fill="#ff8a24" shape-rendering="crispEdges"/>
<rect x="1385.2" y="174.7" width="23.4" height="23.3" fill="#ff8a24" shape-rendering="crispEdges"/>
<rect x="1408.1" y="174.7" width="23.4" height="23.3" fill="#ff8a24" shape-rendering="crispEdges"/>
<rect x="1430.9" y="174.7" width="23.4" height="23.3" fill="#ff8a24" shape-rendering="crispEdges"/>
<rect x="59.9" y="197.5" width="23.4" height="23.3" fill="#54bcff" shape-rendering="crispEdges"/>
<rect x="82.8" y="197.5" width="23.4" height="23.3" fill="#54bcff" shape-rendering="crispEdges"/>
<rect x="105.6" y="197.5" width="23.4" height="23.3" fill="#54bcff" shape-rendering="crispEdges"/>
<rect x="128.5" y="197.5" width="23.4" height="23.3" fill="#54bcff" shape-rendering="crispEdges"/>
<rect x="151.3" y="197.5" width="23.4" height="23.3" fill="#4eb9ff" shape-rendering="crispEdges"/>
<rect x="174.2" y="197.5" width="23.4" height="23.3" fill="#78caff" shape-rendering="crispEdges"/>
<rect x="197" y="197.5" width="23.4" height="23.3" fill="#73c8ff" shape-rendering="crispEdges"/>
<rect x="219.9" y="197.5" width="23.4" height="23.3" fill="#60c0ff" shape-rendering="crispEdges"/>
<rect x="242.7" y="197.5" width="23.4" height="23.3" fill="#a0daff" shape-rendering="crispEdges"/>
<rect x="265.6" y="197.5" width="23.4" height="23.3" fill="#54bcff" shape-rendering="crispEdges"/>
<rect x="288.4" y="197.5" width="23.4" height="23.3" fill="#54bcff" shape-rendering="crispEdges"/>
<rect x="311.2" y="197.5" width="23.4" height="23.3" fill="#6bc5ff" shape-rendering="crispEdges"/>
<rect x="334.1" y="197.5" width="23.4" height="23.3" fill="#54bcff" shape-rendering="crispEdges"/>
<rect x="356.9" y="197.5" width="23.4" height="23.3" fill="#85cfff" shape-rendering="crispEdges"/>
<rect x="379.8" y="197.5" width="23.4" height="23.3" fill="#85cfff" shape-rendering="crispEdges"/>
<rect x="402.6" y="197.5" width="23.4" height="23.3" fill="#4ab8ff" shape-rendering="crispEdges"/>
<rect x="425.5" y="197.5" width="23.4" height="23.3" fill="#4ab8ff" shape-rendering="crispEdges"/>
<rect x="448.4" y="197.5" width="23.4" height="23.3" fill="#4eb9ff" shape-rendering="crispEdges"/>
<rect x="471.2" y="197.5" width="23.4" height="23.3" fill="#54bcff" shape-rendering="crispEdges"/>
<rect x="494.1" y="197.5" width="23.4" height="23.3" fill="#4eb9ff" shape-rendering="crispEdges"/>
<rect x="516.9" y="197.5" width="23.4" height="23.3" fill="#54bcff" shape-rendering="crispEdges"/>
<rect x="539.8" y="197.5" width="23.4" height="23.3" fill="#54bcff" shape-rendering="crispEdges"/>
<rect x="562.6" y="197.5" width="23.4" height="23.3" fill="#ffca9c" shape-rendering="crispEdges"/>
<rect x="585.5" y="197.5" width="23.4" height="23.3" fill="#a0daff" shape-rendering="crispEdges"/>
<rect x="608.3" y="197.5" width="23.4" height="23.3" fill="#ffa251" shape-rendering="crispEdges"/>
<rect x="631.1" y="197.5" width="23.4" height="23.3" fill="#ff8a24" shape-rendering="crispEdges"/>
<rect x="654" y="197.5" width="23.4" height="23.3" fill="#6bc5ff" shape-rendering="crispEdges"/>
<rect x="676.9" y="197.5" width="23.4" height="23.3" fill="#4ab8ff" shape-rendering="crispEdges"/>
<rect x="699.7" y="197.5" width="23.4" height="23.3" fill="#4ab8ff" shape-rendering="crispEdges"/>
<rect x="722.6" y="197.5" width="23.4" height="23.3" fill="#54bcff" shape-rendering="crispEdges"/>
<rect x="745.4" y="197.5" width="23.4" height="23.3" fill="#a0daff" shape-rendering="crispEdges"/>
<rect x="768.2" y="197.5" width="23.4" height="23.3" fill="#ff8a24" shape-rendering="crispEdges"/>
<rect x="791.1" y="197.5" width="23.4" height="23.3" fill="#ffc490" shape-rendering="crispEdges"/>
<rect x="814" y="197.5" width="23.4" height="23.3" fill="#d3eeff" shape-rendering="crispEdges"/>
<rect x="836.8" y="197.5" width="23.4" height="23.3" fill="#ffa251" shape-rendering="crispEdges"/>
<rect x="859.6" y="197.5" width="23.4" height="23.3" fill="#ffa75a" shape-rendering="crispEdges"/>
<rect x="882.5" y="197.5" width="23.4" height="23.3" fill="#ff8a24" shape-rendering="crispEdges"/>
<rect x="905.4" y="197.5" width="23.4" height="23.3" fill="#f8fcff" shape-rendering="crispEdges"/>
<rect x="928.2" y="197.5" width="23.4" height="23.3" fill="#4ab8ff" shape-rendering="crispEdges"/>
<rect x="951.1" y="197.5" width="23.4" height="23.3" fill="#54bcff" shape-rendering="crispEdges"/>
<rect x="973.9" y="197.5" width="23.4" height="23.3" fill="#4eb9ff" shape-rendering="crispEdges"/>
<rect x="996.8" y="197.5" width="23.4" height="23.3" fill="#4ab8ff" shape-rendering="crispEdges"/>
<rect x="1019.6" y="197.5" width="23.4" height="23.3" fill="#4ab8ff" shape-rendering="crispEdges"/>
<rect x="1042.5" y="197.5" width="23.4" height="23.3" fill="#4eb9ff" shape-rendering="crispEdges"/>
<rect x="1065.3" y="197.5" width="23.4" height="23.3" fill="#4ab8ff" shape-rendering="crispEdges"/>
<rect x="1088.2" y="197.5" width="23.4" height="23.3" fill="#cdebff" shape-rendering="crispEdges"/>
<rect x="1111" y="197.5" width="23.4" height="23.3" fill="#ff8a24" shape-rendering="crispEdges"/>
<rect x="1133.9" y="197.5" width="23.4" height="23.3" fill="#ffb26e" shape-rendering="crispEdges"/>
<rect x="1156.7" y="197.5" width="23.4" height="23.3" fill="#ffe2c9" shape-rendering="crispEdges"/>
<rect x="1179.6" y="197.5" width="23.4" height="23.3" fill="#ff8a24" shape-rendering="crispEdges"/>
<rect x="1202.4" y="197.5" width="23.4" height="23.3" fill="#ddf2ff" shape-rendering="crispEdges"/>
<rect x="1225.3" y="197.5" width="23.4" height="23.3" fill="#8dd2ff" shape-rendering="crispEdges"/>
<rect x="1248.1" y="197.5" width="23.4" height="23.3" fill="#a9ddff" shape-rendering="crispEdges"/>
<rect x="1271" y="197.5" width="23.4" height="23.3" fill="#9ad7ff" shape-rendering="crispEdges"/>
<rect x="1293.8" y="197.5" width="23.4" height="23.3" fill="#85cfff" shape-rendering="crispEdges"/>
<rect x="1316.7" y="197.5" width="23.4" height="23.3" fill="#8dd2ff" shape-rendering="crispEdges"/>
<rect x="1339.5" y="197.5" width="23.4" height="23.3" fill="#ff8a24" shape-rendering="crispEdges"/>
<rect x="1362.4" y="197.5" width="23.4" height="23.3" fill="#ff8a24" shape-rendering="crispEdges"/>
<rect x="1385.2" y="197.5" width="23.4" height="23.3" fill="#ff8a24" shape-rendering="crispEdges"/>
<rect x="1408.1" y="197.5" width="23.4" height="23.3" fill="#ff8a24" shape-rendering="crispEdges"/>
<rect x="1430.9" y="197.5" width="23.4" height="23.3" fill="#ff8a24" shape-rendering="crispEdges"/>
<rect x="59.9" y="220.4" width="23.4" height="23.3" fill="#6bc5ff" shape-rendering="crispEdges"/>
<rect x="82.8" y="220.4" width="23.4" height="23.3" fill="#64c2ff" shape-rendering="crispEdges"/>
<rect x="105.6" y="220.4" width="23.4" height="23.3" fill="#64c2ff" shape-rendering="crispEdges"/>
<rect x="128.5" y="220.4" width="23.4" height="23.3" fill="#b4e2ff" shape-rendering="crispEdges"/>
<rect x="151.3" y="220.4" width="23.4" height="23.3" fill="#92d4ff" shape-rendering="crispEdges"/>
<rect x="174.2" y="220.4" width="23.4" height="23.3" fill="#6bc5ff" shape-rendering="crispEdges"/>
<rect x="197" y="220.4" width="23.4" height="23.3" fill="#6bc5ff" shape-rendering="crispEdges"/>
<rect x="219.9" y="220.4" width="23.4" height="23.3" fill="#92d4ff" shape-rendering="crispEdges"/>
<rect x="242.7" y="220.4" width="23.4" height="23.3" fill="#59bdff" shape-rendering="crispEdges"/>
<rect x="265.6" y="220.4" width="23.4" height="23.3" fill="#6bc5ff" shape-rendering="crispEdges"/>
<rect x="288.4" y="220.4" width="23.4" height="23.3" fill="#9ad7ff" shape-rendering="crispEdges"/>
<rect x="311.2" y="220.4" width="23.4" height="23.3" fill="#eef8ff" shape-rendering="crispEdges"/>
<rect x="334.1" y="220.4" width="23.4" height="23.3" fill="#bde5ff" shape-rendering="crispEdges"/>
<rect x="356.9" y="220.4" width="23.4" height="23.3" fill="#6bc5ff" shape-rendering="crispEdges"/>
<rect x="379.8" y="220.4" width="23.4" height="23.3" fill="#eef8ff" shape-rendering="crispEdges"/>
<rect x="402.6" y="220.4" width="23.4" height="23.3" fill="#ff8a24" shape-rendering="crispEdges"/>
<rect x="425.5" y="220.4" width="23.4" height="23.3" fill="#60c0ff" shape-rendering="crispEdges"/>
<rect x="448.4" y="220.4" width="23.4" height="23.3" fill="#60c0ff" shape-rendering="crispEdges"/>
<rect x="471.2" y="220.4" width="23.4" height="23.3" fill="#7dccff" shape-rendering="crispEdges"/>
<rect x="494.1" y="220.4" width="23.4" height="23.3" fill="#ff8a24" shape-rendering="crispEdges"/>
<rect x="516.9" y="220.4" width="23.4" height="23.3" fill="#85cfff" shape-rendering="crispEdges"/>
<rect x="539.8" y="220.4" width="23.4" height="23.3" fill="#78caff" shape-rendering="crispEdges"/>
<rect x="562.6" y="220.4" width="23.4" height="23.3" fill="#78caff" shape-rendering="crispEdges"/>
<rect x="585.5" y="220.4" width="23.4" height="23.3" fill="#ffbd84" shape-rendering="crispEdges"/>
<rect x="608.3" y="220.4" width="23.4" height="23.3" fill="#6bc5ff" shape-rendering="crispEdges"/>
<rect x="631.1" y="220.4" width="23.4" height="23.3" fill="#ff8a24" shape-rendering="crispEdges"/>
<rect x="654" y="220.4" width="23.4" height="23.3" fill="#4eb9ff" shape-rendering="crispEdges"/>
<rect x="676.9" y="220.4" width="23.4" height="23.3" fill="#ffefe0" shape-rendering="crispEdges"/>
<rect x="699.7" y="220.4" width="23.4" height="23.3" fill="#6bc5ff" shape-rendering="crispEdges"/>
<rect x="722.6" y="220.4" width="23.4" height="23.3" fill="#8dd2ff" shape-rendering="crispEdges"/>
<rect x="745.4" y="220.4" width="23.4" height="23.3" fill="#ffcda1" shape-rendering="crispEdges"/>
<rect x="768.2" y="220.4" width="23.4" height="23.3" fill="#cdebff" shape-rendering="crispEdges"/>
<rect x="791.1" y="220.4" width="23.4" height="23.3" fill="#ffc089" shape-rendering="crispEdges"/>
<rect x="814" y="220.4" width="23.4" height="23.3" fill="#60c0ff" shape-rendering="crispEdges"/>
<rect x="836.8" y="220.4" width="23.4" height="23.3" fill="#85cfff" shape-rendering="crispEdges"/>
<rect x="859.6" y="220.4" width="23.4" height="23.3" fill="#c7e9ff" shape-rendering="crispEdges"/>
<rect x="882.5" y="220.4" width="23.4" height="23.3" fill="#ffefe0" shape-rendering="crispEdges"/>
<rect x="905.4" y="220.4" width="23.4" height="23.3" fill="#ffffff" shape-rendering="crispEdges"/>
<rect x="928.2" y="220.4" width="23.4" height="23.3" fill="#fffcf9" shape-rendering="crispEdges"/>
<rect x="951.1" y="220.4" width="23.4" height="23.3" fill="#78caff" shape-rendering="crispEdges"/>
<rect x="973.9" y="220.4" width="23.4" height="23.3" fill="#54bcff" shape-rendering="crispEdges"/>
<rect x="996.8" y="220.4" width="23.4" height="23.3" fill="#6bc5ff" shape-rendering="crispEdges"/>
<rect x="1019.6" y="220.4" width="23.4" height="23.3" fill="#7dccff" shape-rendering="crispEdges"/>
<rect x="1042.5" y="220.4" width="23.4" height="23.3" fill="#a0daff" shape-rendering="crispEdges"/>
<rect x="1065.3" y="220.4" width="23.4" height="23.3" fill="#54bcff" shape-rendering="crispEdges"/>
<rect x="1088.2" y="220.4" width="23.4" height="23.3" fill="#ff8a24" shape-rendering="crispEdges"/>
<rect x="1111" y="220.4" width="23.4" height="23.3" fill="#85cfff" shape-rendering="crispEdges"/>
<rect x="1133.9" y="220.4" width="23.4" height="23.3" fill="#ff8a24" shape-rendering="crispEdges"/>
<rect x="1156.7" y="220.4" width="23.4" height="23.3" fill="#ffe2c9" shape-rendering="crispEdges"/>
<rect x="1179.6" y="220.4" width="23.4" height="23.3" fill="#ff8a24" shape-rendering="crispEdges"/>
<rect x="1202.4" y="220.4" width="23.4" height="23.3" fill="#ff9131" shape-rendering="crispEdges"/>
<rect x="1225.3" y="220.4" width="23.4" height="23.3" fill="#8dd2ff" shape-rendering="crispEdges"/>
<rect x="1248.1" y="220.4" width="23.4" height="23.3" fill="#6bc5ff" shape-rendering="crispEdges"/>
<rect x="1271" y="220.4" width="23.4" height="23.3" fill="#54bcff" shape-rendering="crispEdges"/>
<rect x="1293.8" y="220.4" width="23.4" height="23.3" fill="#a9ddff" shape-rendering="crispEdges"/>
<rect x="1316.7" y="220.4" width="23.4" height="23.3" fill="#73c8ff" shape-rendering="crispEdges"/>
<rect x="1339.5" y="220.4" width="23.4" height="23.3" fill="#64c2ff" shape-rendering="crispEdges"/>
<rect x="1362.4" y="220.4" width="23.4" height="23.3" fill="#ffa251" shape-rendering="crispEdges"/>
<rect x="1385.2" y="220.4" width="23.4" height="23.3" fill="#ffd1a9" shape-rendering="crispEdges"/>
<rect x="1408.1" y="220.4" width="23.4" height="23.3" fill="#ff8a24" shape-rendering="crispEdges"/>
<rect x="1430.9" y="220.4" width="23.4" height="23.3" fill="#60c0ff" shape-rendering="crispEdges"/>
<rect x="61.6" y="8" width="19.3" height="19.4" fill="#000000"/>
<rect x="61.6" y="31.4" width="19.3" height="19.4" fill="#000000"/>
<rect x="84.5" y="8" width="19.3" height="19.4" fill="#000000"/>
<rect x="84.5" y="31.4" width="19.3" height="19.4" fill="#000000"/>
<rect x="107.3" y="8" width="19.3" height="19.4" fill="#000000"/>
<rect x="107.3" y="31.4" width="19.3" height="19.4" fill="#000000"/>
<rect x="130.2" y="8" width="19.3" height="19.4" fill="#000000"/>
<rect x="130.2" y="31.4" width="19.3" height="19.4" fill="#000000"/>
<rect x="153" y="8" width="19.3" height="19.4" fill="#000000"/>
<rect x="153" y="31.4" width="19.3" height="19.4" fill="#000000"/>
<rect x="175.8" y="8" width="19.3" height="19.4" fill="#000000"/>
<rect x="175.8" y="31.4" width="19.3" height="19.4" fill="#000000"/>
<rect x="198.7" y="8" width="19.3" height="19.4" fill="#000000"/>
<rect x="198.7" y="31.4" width="19.3" height="19.4" fill="#000000"/>
<rect x="221.6" y="8" width="19.3" height="19.4" fill="#000000"/>
<rect x="221.6" y="31.4" width="19.3" height="19.4" fill="#000000"/>
<rect x="244.4" y="8" width="19.3" height="19.4" fill="#000000"/>
<rect x="244.4" y="31.4" width="19.3" height="19.4" fill="#000000"/>
<rect x="267.2" y="8" width="19.3" height="19.4" fill="#000000"/>
<rect x="267.2" y="31.4" width="19.3" height="19.4" fill="#000000"/>
<rect x="290.1" y="8" width="19.3" height="19.4" fill="#000000"/>
<rect x="290.1" y="31.4" width="19.3" height="19.4" fill="#000000"/>
<rect x="312.9" y="8" width="19.3" height="19.4" fill="#000000"/>
<rect x="312.9" y="31.4" width="19.3" height="19.4" fill="#000000"/>
<rect x="335.8" y="8" width="19.3" height="19.4" fill="#009a00"/>
<rect x="335.8" y="31.4" width="19.3" height="19.4" fill="#0000ff"/>
<rect x="358.6" y="8" width="19.3" height="19.4" fill="#009a00"/>
<rect x="358.6" y="31.4" width="19.3" height="19.4" fill="#0000ff"/>
<rect x="381.5" y="8" width="19.3" height="19.4" fill="#009a00"/>
<rect x="381.5" y="31.4" width="19.3" height="19.4" fill="#0000ff"/>
<rect x="404.3" y="8" width="19.3" height="19.4" fill="#009a00"/>
<rect x="404.3" y="31.4" width="19.3" height="19.4" fill="#0000ff"/>
<rect x="427.2" y="8" width="19.3" height="19.4" fill="#009a00"/>
<rect x="427.2" y="31.4" width="19.3" height="19.4" fill="#0000ff"/>
<rect x="450.1" y="8" width="19.3" height="19.4" fill="#009a00"/>
<rect x="450.1" y="31.4" width="19.3" height="19.4" fill="#0000ff"/>
<rect x="472.9" y="8" width="19.3" height="19.4" fill="#009a00"/>
<rect x="472.9" y="31.4" width="19.3" height="19.4" fill="#0000ff"/>
<rect x="495.8" y="8" width="19.3" height="19.4" fill="#009a00"/>
<rect x="495.8" y="31.4" width="19.3" height="19.4" fill="#0000ff"/>
<rect x="518.6" y="8" width="19.3" height="19.4" fill="#009a00"/>
<rect x="518.6" y="31.4" width="19.3" height="19.4" fill="#0000ff"/>
<rect x="541.5" y="8" width="19.3" height="19.4" fill="#009a00"/>
<rect x="541.5" y="31.4" width="19.3" height="19.4" fill="#0000ff"/>
<rect x="564.3" y="8" width="19.3" height="19.4" fill="#009a00"/>
<rect x="564.3" y="31.4" width="19.3" height="19.4" fill="#0000ff"/>
<rect x="587.2" y="8" width="19.3" height="19.4" fill="#009a00"/>
<rect x="587.2" y="31.4" width="19.3" height="19.4" fill="#0000ff"/>
<rect x="610" y="8" width="19.3" height="19.4" fill="#009a00"/>
<rect x="610" y="31.4" width="19.3" height="19.4" fill="#0000ff"/>
<rect x="632.9" y="8" width="19.3" height="19.4" fill="#009a00"/>
<rect x="632.9" y="31.4" width="19.3" height="19.4" fill="#0000ff"/>
<rect x="655.7" y="8" width="19.3" height="19.4" fill="#009a00"/>
<rect x="655.7" y="31.4" width="19.3" height="19.4" fill="#0000ff"/>
<rect x="678.6" y="8" width="19.3" height="19.4" fill="#009a00"/>
<rect x="678.6" y="31.4" width="19.3" height="19.4" fill="#8000ff"/>
<rect x="701.4" y="8" width="19.3" height="19.4" fill="#009a00"/>
<rect x="701.4" y="31.4" width="19.3" height="19.4" fill="#8000ff"/>
<rect x="724.3" y="8" width="19.3" height="19.4" fill="#009a00"/>
<rect x="724.3" y="31.4" width="19.3" height="19.4" fill="#8000ff"/>
<rect x="747.1" y="8" width="19.3" height="19.4" fill="#009a00"/>
<rect x="747.1" y="31.4" width="19.3" height="19.4" fill="#8000ff"/>
<rect x="770" y="8" width="19.3" height="19.4" fill="#009a00"/>
<rect x="770" y="31.4" width="19.3" height="19.4" fill="#8000ff"/>
<rect x="792.8" y="8" width="19.3" height="19.4" fill="#009a00"/>
<rect x="792.8" y="31.4" width="19.3" height="19.4" fill="#8000ff"/>
<rect x="815.7" y="8" width="19.3" height="19.4" fill="#009a00"/>
<rect x="815.7" y="31.4" width="19.3" height="19.4" fill="#8000ff"/>
<rect x="838.5" y="8" width="19.3" height="19.4" fill="#009a00"/>
<rect x="838.5" y="31.4" width="19.3" height="19.4" fill="#8000ff"/>
<rect x="861.4" y="8" width="19.3" height="19.4" fill="#009a00"/>
<rect x="861.4" y="31.4" width="19.3" height="19.4" fill="#8000ff"/>
<rect x="884.2" y="8" width="19.3" height="19.4" fill="#009a00"/>
<rect x="884.2" y="31.4" width="19.3" height="19.4" fill="#8000ff"/>
<rect x="907.1" y="8" width="19.3" height="19.4" fill="#009a00"/>
<rect x="907.1" y="31.4" width="19.3" height="19.4" fill="#8000ff"/>
<rect x="929.9" y="8" width="19.3" height="19.4" fill="#009a00"/>
<rect x="929.9" y="31.4" width="19.3" height="19.4" fill="#ff0000"/>
<rect x="952.8" y="8" width="19.3" height="19.4" fill="#009a00"/>
<rect x="952.8" y="31.4" width="19.3" height="19.4" fill="#ff0000"/>
<rect x="975.6" y="8" width="19.3" height="19.4" fill="#009a00"/>
<rect x="975.6" y="31.4" width="19.3" height="19.4" fill="#ff0000"/>
<rect x="998.5" y="8" width="19.3" height="19.4" fill="#009a00"/>
<rect x="998.5" y="31.4" width="19.3" height="19.4" fill="#ff0000"/>
<rect x="1021.3" y="8" width="19.3" height="19.4" fill="#009a00"/>
<rect x="1021.3" y="31.4" width="19.3" height="19.4" fill="#ff0000"/>
<rect x="1044.2" y="8" width="19.3" height="19.4" fill="#009a00"/>
<rect x="1044.2" y="31.4" width="19.3" height="19.4" fill="#ff0000"/>
<rect x="1067" y="8" width="19.3" height="19.4" fill="#009a00"/>
<rect x="1067" y="31.4" width="19.3" height="19.4" fill="#ff0000"/>
<rect x="1089.9" y="8" width="19.3" height="19.4" fill="#009a00"/>
<rect x="1089.9" y="31.4" width="19.3" height="19.4" fill="#ff0000"/>
<rect x="1112.7" y="8" width="19.3" height="19.4" fill="#009a00"/>
<rect x="1112.7" y="31.4" width="19.3" height="19.4" fill="#ff0000"/>
<rect x="1135.6" y="8" width="19.3" height="19.4" fill="#009a00"/>
<rect x="1135.6" y="31.4" width="19.3" height="19.4" fill="#ff0000"/>
<rect x="1158.4" y="8" width="19.3" height="19.4" fill="#009a00"/>
<rect x="1158.4" y="31.4" width="19.3" height="19.4" fill="#ff0000"/>
<rect x="1181.3" y="8" width="19.3" height="19.4" fill="#009a00"/>
<rect x="1181.3" y="31.4" width="19.3" height="19.4" fill="#ff0000"/>
<rect x="1204.1" y="8" width="19.3" height="19.4" fill="#009a00"/>
<rect x="1204.1" y="31.4" width="19.3" height="19.4" fill="#ff0000"/>
<rect x="1227" y="8" width="19.3" height="19.4" fill="#009a00"/>
<rect x="1227" y="31.4" width="19.3" height="19.4" fill="#ff0000"/>
<rect x="1249.8" y="8" width="19.3" height="19.4" fill="#009a00"/>
<rect x="1249.8" y="31.4" width="19.3" height="19.4" fill="#ff0000"/>
<rect x="1272.7" y="8" width="19.3" height="19.4" fill="#009a00"/>
<rect x="1272.7" y="31.4" width="19.3" height="19.4" fill="#ff0000"/>
<rect x="1295.5" y="8" width="19.3" height="19.4" fill="#009a00"/>
<rect x="1295.5" y="31.4" width="19.3" height="19.4" fill="#ff0000"/>
<rect x="1318.4" y="8" width="19.3" height="19.4" fill="#009a00"/>
<rect x="1318.4" y="31.4" width="19.3" height="19.4" fill="#ff0000"/>
<rect x="1341.2" y="8" width="19.3" height="19.4" fill="#009a00"/>
<rect x="1341.2" y="31.4" width="19.3" height="19.4" fill="#ff0000"/>
<rect x="1364.1" y="8" width="19.3" height="19.4" fill="#009a00"/>
<rect x="1364.1" y="31.4" width="19.3" height="19.4" fill="#ff0000"/>
<rect x="1386.9" y="8" width="19.3" height="19.4" fill="#009a00"/>
<rect x="1386.9" y="31.4" width="19.3" height="19.4" fill="#ff0000"/>
<rect x="1409.8" y="8" width="19.3" height="19.4" fill="#009a00"/>
<rect x="1409.8" y="31.4" width="19.3" height="19.4" fill="#ff0000"/>
<rect x="1432.6" y="8" width="19.3" height="19.4" fill="#009a00"/>
<rect x="1432.6" y="31.4" width="19.3" height="19.4" fill="#ff0000"/>
<text x="1462.3" y="75.9" font-size="20.4" text-anchor="start" font-weight="normal" font-family='"Liberation Sans", Arial, sans-serif'>IgA_binding_S_flow</text>
<text x="1462.3" y="99" font-size="20.4" text-anchor="start" font-weight="normal" font-family='"Liberation Sans", Arial, sans-serif'>IgG_binding_S_flow</text>
<text x="1462.3" y="122.1" font-size="20.4" text-anchor="start" font-weight="normal" font-family='"Liberation Sans", Arial, sans-serif'>IgA_OD_ELISA</text>
<text x="1462.3" y="145.1" font-size="20.4" text-anchor="start" font-weight="normal" font-family='"Liberation Sans", Arial, sans-serif'>IgA_AUC_ELISA</text>
<text x="1462.3" y="168.2" font-size="20.4" text-anchor="start" font-weight="normal" font-family='"Liberation Sans", Arial, sans-serif'>IgG_OD_ELISA</text>
<text x="1462.3" y="191.3" font-size="20.4" text-anchor="start" font-weight="normal" font-family='"Liberation Sans", Arial, sans-serif'>IgG_AUC_ELISA</text>
<text x="1462.3" y="214.4" font-size="20.4" text-anchor="start" font-weight="normal" font-family='"Liberation Sans", Arial, sans-serif'>IgG_MFI_S_flow</text>
<text x="1462.3" y="237.5" font-size="20.4" text-anchor="start" font-weight="normal" font-family='"Liberation Sans", Arial, sans-serif'>Total_IgA</text>
<polyline points="59.4,71.4 53.4,71.4 53.4,94.3 59.4,94.3" fill="none" stroke="#333" stroke-width="1.2"/>
<polyline points="53.4,82.9 41.4,82.9" fill="none" stroke="#333" stroke-width="1.2"/>
<polyline points="59.4,117.1 53.4,117.1 53.4,140 59.4,140" fill="none" stroke="#333" stroke-width="1.2"/>
<polyline points="59.4,163.4 53.4,163.4 53.4,186.3 59.4,186.3" fill="none" stroke="#333" stroke-width="1.2"/>
<polyline points="53.4,128.6 47.1,128.6 47.1,174.9 53.4,174.9" fill="none" stroke="#333" stroke-width="1.2"/>
<polyline points="47.1,151.7 41.4,151.7" fill="none" stroke="#333" stroke-width="1.2"/>
<polyline points="41.4,82.9 41.4,151.7" fill="none" stroke="#333" stroke-width="1.2"/>
<polyline points="41.4,117.1 34.9,117.1 34.9,209.1 59.4,209.1" fill="none" stroke="#333" stroke-width="1.2"/>
<polyline points="34.9,163.1 28.6,163.1 28.6,232 59.4,232" fill="none" stroke="#333" stroke-width="1.2"/>
<polyline points="28.6,197.4 22.9,197.4" fill="none" stroke="#333" stroke-width="1.2"/>
<text x="0" y="18" font-size="29" text-anchor="start" font-weight="bold" font-family='"Liberation Sans", Arial, sans-serif'>a</text>
<defs><linearGradient id="cb629" x1="0" y1="0" x2="0" y2="1"><stop offset="0" stop-color="#ff8a24"/><stop offset="0.5" stop-color="#ffffff"/><stop offset="1" stop-color="#0ea0ff"/></linearGradient></defs>
<rect x="1674.1" y="21" width="16.8" height="231.6" fill="url(#cb629)"/>
<line x1="1690.9" y1="22.1" x2="1702.7" y2="22.1" stroke="#444" stroke-width="1.2"/>
<text x="1710" y="26.5" font-size="12.1" text-anchor="start" font-weight="normal" font-family='"Liberation Sans", Arial, sans-serif'>1.0</text>
<line x1="1690.9" y1="33.6" x2="1697.3" y2="33.6" stroke="#444" stroke-width="1.2"/>
<text x="1710" y="37.9" font-size="12.1" text-anchor="start" font-weight="normal" font-family='"Liberation Sans", Arial, sans-serif'>0.9</text>
<line x1="1690.9" y1="45.1" x2="1697.3" y2="45.1" stroke="#444" stroke-width="1.2"/>
<text x="1710" y="49.4" font-size="12.1" text-anchor="start" font-weight="normal" font-family='"Liberation Sans", Arial, sans-serif'>0.8</text>
<line x1="1690.9" y1="56.5" x2="1697.3" y2="56.5" stroke="#444" stroke-width="1.2"/>
<text x="1710" y="60.9" font-size="12.1" text-anchor="start" font-weight="normal" font-family='"Liberation Sans", Arial, sans-serif'>0.7</text>
<line x1="1690.9" y1="68" x2="1697.3" y2="68" stroke="#444" stroke-width="1.2"/>
<text x="1710" y="72.4" font-size="12.1" text-anchor="start" font-weight="normal" font-family='"Liberation Sans", Arial, sans-serif'>0.6</text>
<line x1="1690.9" y1="79.5" x2="1702.7" y2="79.5" stroke="#444" stroke-width="1.2"/>
<text x="1710" y="83.9" font-size="12.1" text-anchor="start" font-weight="normal" font-family='"Liberation Sans", Arial, sans-serif'>0.5</text>
<line x1="1690.9" y1="91" x2="1697.3" y2="91" stroke="#444" stroke-width="1.2"/>
<text x="1710" y="95.3" font-size="12.1" text-anchor="start" font-weight="normal" font-family='"Liberation Sans", Arial, sans-serif'>0.4</text>
<line x1="1690.9" y1="102.5" x2="1697.3" y2="102.5" stroke="#444" stroke-width="1.2"/>
<text x="1710" y="106.8" font-size="12.1" text-anchor="start" font-weight="normal" font-family='"Liberation Sans", Arial, sans-serif'>0.3</text>
<line x1="1690.9" y1="113.9" x2="1697.3" y2="113.9" stroke="#444" stroke-width="1.2"/>
<text x="1710" y="118.3" font-size="12.1" text-anchor="start" font-weight="normal" font-family='"Liberation Sans", Arial, sans-serif'>0.2</text>
<line x1="1690.9" y1="125.4" x2="1697.3" y2="125.4" stroke="#444" stroke-width="1.2"/>
<text x="1710" y="129.8" font-size="12.1" text-anchor="start" font-weight="normal" font-family='"Liberation Sans", Arial, sans-serif'>0.1</text>
<line x1="1690.9" y1="136.9" x2="1702.7" y2="136.9" stroke="#444" stroke-width="1.2"/>
<text x="1710" y="141.3" font-size="12.1" text-anchor="start" font-weight="normal" font-family='"Liberation Sans", Arial, sans-serif'>0.0</text>
<line x1="1690.9" y1="148.4" x2="1697.3" y2="148.4" stroke="#444" stroke-width="1.2"/>
<text x="1710" y="152.7" font-size="12.1" text-anchor="start" font-weight="normal" font-family='"Liberation Sans", Arial, sans-serif'>–0.1</text>
<line x1="1690.9" y1="159.9" x2="1697.3" y2="159.9" stroke="#444" stroke-width="1.2"/>
<text x="1710" y="164.2" font-size="12.1" text-anchor="start" font-weight="normal" font-family='"Liberation Sans", Arial, sans-serif'>–0.2</text>
<line x1="1690.9" y1="171.3" x2="1697.3" y2="171.3" stroke="#444" stroke-width="1.2"/>
<text x="1710" y="175.7" font-size="12.1" text-anchor="start" font-weight="normal" font-family='"Liberation Sans", Arial, sans-serif'>–0.3</text>
<line x1="1690.9" y1="182.8" x2="1697.3" y2="182.8" stroke="#444" stroke-width="1.2"/>
<text x="1710" y="187.2" font-size="12.1" text-anchor="start" font-weight="normal" font-family='"Liberation Sans", Arial, sans-serif'>–0.4</text>
<line x1="1690.9" y1="194.3" x2="1702.7" y2="194.3" stroke="#444" stroke-width="1.2"/>
<text x="1710" y="198.7" font-size="12.1" text-anchor="start" font-weight="normal" font-family='"Liberation Sans", Arial, sans-serif'>–0.5</text>
<line x1="1690.9" y1="205.8" x2="1697.3" y2="205.8" stroke="#444" stroke-width="1.2"/>
<text x="1710" y="210.1" font-size="12.1" text-anchor="start" font-weight="normal" font-family='"Liberation Sans", Arial, sans-serif'>–0.6</text>
<line x1="1690.9" y1="217.3" x2="1697.3" y2="217.3" stroke="#444" stroke-width="1.2"/>
<text x="1710" y="221.6" font-size="12.1" text-anchor="start" font-weight="normal" font-family='"Liberation Sans", Arial, sans-serif'>–0.7</text>
<line x1="1690.9" y1="228.7" x2="1697.3" y2="228.7" stroke="#444" stroke-width="1.2"/>
<text x="1710" y="233.1" font-size="12.1" text-anchor="start" font-weight="normal" font-family='"Liberation Sans", Arial, sans-serif'>–0.8</text>
<line x1="1690.9" y1="240.2" x2="1697.3" y2="240.2" stroke="#444" stroke-width="1.2"/>
<text x="1710" y="244.6" font-size="12.1" text-anchor="start" font-weight="normal" font-family='"Liberation Sans", Arial, sans-serif'>–0.9</text>
<line x1="1690.9" y1="251.7" x2="1702.7" y2="251.7" stroke="#444" stroke-width="1.2"/>
<text x="1710" y="256.1" font-size="12.1" text-anchor="start" font-weight="normal" font-family='"Liberation Sans", Arial, sans-serif'>–1.0</text>
<rect x="1458.9" y="371.8" width="23.4" height="22.6" fill="#000000"/>
<text x="1492" y="389.5" font-size="20.6" text-anchor="start" font-weight="normal" font-family='"Liberation Sans", Arial, sans-serif'>Healthy controls</text>
<rect x="1458.9" y="401.2" width="23.4" height="22.6" fill="#008000"/>
<text x="1492" y="418.9" font-size="20.6" text-anchor="start" font-weight="normal" font-family='"Liberation Sans", Arial, sans-serif'>Disease</text>
<rect x="1458.9" y="430.6" width="23.4" height="22.6" fill="#0000ff"/>
<text x="1492" y="448.3" font-size="20.6" text-anchor="start" font-weight="normal" font-family='"Liberation Sans", Arial, sans-serif'>Moderate</text>
<rect x="1458.9" y="460" width="23.4" height="22.6" fill="#8000ff"/>
<text x="1492" y="477.7" font-size="20.6" text-anchor="start" font-weight="normal" font-family='"Liberation Sans", Arial, sans-serif'>Severe</text>
<rect x="1458.9" y="489.4" width="23.4" height="22.6" fill="#ff0000"/>
<text x="1492" y="507.1" font-size="20.6" text-anchor="start" font-weight="normal" font-family='"Liberation Sans", Arial, sans-serif'>Critical</text>
<rect x="73.7" y="1419.9" width="24.7" height="24.6" fill="#24a9ff" shape-rendering="crispEdges"/>
<rect x="97.9" y="1419.9" width="24.7" height="24.6" fill="#24a9ff" shape-rendering="crispEdges"/>
<rect x="122" y="1419.9" width="24.7" height="24.6" fill="#24a9ff" shape-rendering="crispEdges"/>
<rect x="146.2" y="1419.9" width="24.7" height="24.6" fill="#24a9ff" shape-rendering="crispEdges"/>
<rect x="170.4" y="1419.9" width="24.7" height="24.6" fill="#24a9ff" shape-rendering="crispEdges"/>
<rect x="194.6" y="1419.9" width="24.7" height="24.6" fill="#24a9ff" shape-rendering="crispEdges"/>
<rect x="218.7" y="1419.9" width="24.7" height="24.6" fill="#24a9ff" shape-rendering="crispEdges"/>
<rect x="242.9" y="1419.9" width="24.7" height="24.6" fill="#24a9ff" shape-rendering="crispEdges"/>
<rect x="267.1" y="1419.9" width="24.7" height="24.6" fill="#40b4ff" shape-rendering="crispEdges"/>
<rect x="291.2" y="1419.9" width="24.7" height="24.6" fill="#4ab8ff" shape-rendering="crispEdges"/>
<rect x="315.4" y="1419.9" width="24.7" height="24.6" fill="#2dacff" shape-rendering="crispEdges"/>
<rect x="339.6" y="1419.9" width="24.7" height="24.6" fill="#2dacff" shape-rendering="crispEdges"/>
<rect x="363.7" y="1419.9" width="24.7" height="24.6" fill="#2dacff" shape-rendering="crispEdges"/>
<rect x="387.9" y="1419.9" width="24.7" height="24.6" fill="#2dacff" shape-rendering="crispEdges"/>
<rect x="412.1" y="1419.9" width="24.7" height="24.6" fill="#4ab8ff" shape-rendering="crispEdges"/>
<rect x="436.2" y="1419.9" width="24.7" height="24.6" fill="#2dacff" shape-rendering="crispEdges"/>
<rect x="460.4" y="1419.9" width="24.7" height="24.6" fill="#2dacff" shape-rendering="crispEdges"/>
<rect x="484.6" y="1419.9" width="24.7" height="24.6" fill="#28aaff" shape-rendering="crispEdges"/>
<rect x="508.8" y="1419.9" width="24.7" height="24.6" fill="#e4f4ff" shape-rendering="crispEdges"/>
<rect x="532.9" y="1419.9" width="24.7" height="24.6" fill="#ff8a24" shape-rendering="crispEdges"/>
<rect x="557.1" y="1419.9" width="24.7" height="24.6" fill="#2dacff" shape-rendering="crispEdges"/>
<rect x="581.3" y="1419.9" width="24.7" height="24.6" fill="#2dacff" shape-rendering="crispEdges"/>
<rect x="605.4" y="1419.9" width="24.7" height="24.6" fill="#28aaff" shape-rendering="crispEdges"/>
<rect x="629.6" y="1419.9" width="24.7" height="24.6" fill="#d7efff" shape-rendering="crispEdges"/>
<rect x="653.8" y="1419.9" width="24.7" height="24.6" fill="#54bcff" shape-rendering="crispEdges"/>
<rect x="678" y="1419.9" width="24.7" height="24.6" fill="#54bcff" shape-rendering="crispEdges"/>
<rect x="702.1" y="1419.9" width="24.7" height="24.6" fill="#a0daff" shape-rendering="crispEdges"/>
<rect x="726.3" y="1419.9" width="24.7" height="24.6" fill="#ff8a24" shape-rendering="crispEdges"/>
<rect x="750.5" y="1419.9" width="24.7" height="24.6" fill="#ff8a24" shape-rendering="crispEdges"/>
<rect x="774.6" y="1419.9" width="24.7" height="24.6" fill="#ff8a24" shape-rendering="crispEdges"/>
<rect x="798.8" y="1419.9" width="24.7" height="24.6" fill="#28aaff" shape-rendering="crispEdges"/>
<rect x="823" y="1419.9" width="24.7" height="24.6" fill="#3ab1ff" shape-rendering="crispEdges"/>
<rect x="847.1" y="1419.9" width="24.7" height="24.6" fill="#4eb9ff" shape-rendering="crispEdges"/>
<rect x="871.3" y="1419.9" width="24.7" height="24.6" fill="#4eb9ff" shape-rendering="crispEdges"/>
<rect x="895.5" y="1419.9" width="24.7" height="24.6" fill="#ff9940" shape-rendering="crispEdges"/>
<rect x="919.7" y="1419.9" width="24.7" height="24.6" fill="#ff8a24" shape-rendering="crispEdges"/>
<rect x="943.8" y="1419.9" width="24.7" height="24.6" fill="#ff8a24" shape-rendering="crispEdges"/>
<rect x="968" y="1419.9" width="24.7" height="24.6" fill="#ff8a24" shape-rendering="crispEdges"/>
<rect x="992.2" y="1419.9" width="24.7" height="24.6" fill="#ff8a24" shape-rendering="crispEdges"/>
<rect x="1016.3" y="1419.9" width="24.7" height="24.6" fill="#ff8a24" shape-rendering="crispEdges"/>
<rect x="1040.5" y="1419.9" width="24.7" height="24.6" fill="#ff8a24" shape-rendering="crispEdges"/>
<rect x="1064.7" y="1419.9" width="24.7" height="24.6" fill="#ff8a24" shape-rendering="crispEdges"/>
<rect x="73.7" y="1444" width="24.7" height="24.6" fill="#15a3ff" shape-rendering="crispEdges"/>
<rect x="97.9" y="1444" width="24.7" height="24.6" fill="#0ea0ff" shape-rendering="crispEdges"/>
<rect x="122" y="1444" width="24.7" height="24.6" fill="#0ea0ff" shape-rendering="crispEdges"/>
<rect x="146.2" y="1444" width="24.7" height="24.6" fill="#0ea0ff" shape-rendering="crispEdges"/>
<rect x="170.4" y="1444" width="24.7" height="24.6" fill="#2dacff" shape-rendering="crispEdges"/>
<rect x="194.6" y="1444" width="24.7" height="24.6" fill="#0ea0ff" shape-rendering="crispEdges"/>
<rect x="218.7" y="1444" width="24.7" height="24.6" fill="#0ea0ff" shape-rendering="crispEdges"/>
<rect x="242.9" y="1444" width="24.7" height="24.6" fill="#0ea0ff" shape-rendering="crispEdges"/>
<rect x="267.1" y="1444" width="24.7" height="24.6" fill="#36b0ff" shape-rendering="crispEdges"/>
<rect x="291.2" y="1444" width="24.7" height="24.6" fill="#2dacff" shape-rendering="crispEdges"/>
<rect x="315.4" y="1444" width="24.7" height="24.6" fill="#15a3ff" shape-rendering="crispEdges"/>
<rect x="339.6" y="1444" width="24.7" height="24.6" fill="#0ea0ff" shape-rendering="crispEdges"/>
<rect x="363.7" y="1444" width="24.7" height="24.6" fill="#0ea0ff" shape-rendering="crispEdges"/>
<rect x="387.9" y="1444" width="24.7" height="24.6" fill="#0ea0ff" shape-rendering="crispEdges"/>
<rect x="412.1" y="1444" width="24.7" height="24.6" fill="#1ca6ff" shape-rendering="crispEdges"/>
<rect x="436.2" y="1444" width="24.7" height="24.6" fill="#0ea0ff" shape-rendering="crispEdges"/>
<rect x="460.4" y="1444" width="24.7" height="24.6" fill="#24a9ff" shape-rendering="crispEdges"/>
<rect x="484.6" y="1444" width="24.7" height="24.6" fill="#ff8a24" shape-rendering="crispEdges"/>
<rect x="508.8" y="1444" width="24.7" height="24.6" fill="#ff8d2a" shape-rendering="crispEdges"/>
<rect x="532.9" y="1444" width="24.7" height="24.6" fill="#ff8a24" shape-rendering="crispEdges"/>
<rect x="557.1" y="1444" width="24.7" height="24.6" fill="#36b0ff" shape-rendering="crispEdges"/>
<rect x="581.3" y="1444" width="24.7" height="24.6" fill="#18a4ff" shape-rendering="crispEdges"/>
<rect x="605.4" y="1444" width="24.7" height="24.6" fill="#15a3ff" shape-rendering="crispEdges"/>
<rect x="629.6" y="1444" width="24.7" height="24.6" fill="#78caff" shape-rendering="crispEdges"/>
<rect x="653.8" y="1444" width="24.7" height="24.6" fill="#ffa75a" shape-rendering="crispEdges"/>
<rect x="678" y="1444" width="24.7" height="24.6" fill="#ffd8b6" shape-rendering="crispEdges"/>
<rect x="702.1" y="1444" width="24.7" height="24.6" fill="#ff8a24" shape-rendering="crispEdges"/>
<rect x="726.3" y="1444" width="24.7" height="24.6" fill="#ff8a24" shape-rendering="crispEdges"/>
<rect x="750.5" y="1444" width="24.7" height="24.6" fill="#ff9131" shape-rendering="crispEdges"/>
<rect x="774.6" y="1444" width="24.7" height="24.6" fill="#ff8a24" shape-rendering="crispEdges"/>
<rect x="798.8" y="1444" width="24.7" height="24.6" fill="#15a3ff" shape-rendering="crispEdges"/>
<rect x="823" y="1444" width="24.7" height="24.6" fill="#36b0ff" shape-rendering="crispEdges"/>
<rect x="847.1" y="1444" width="24.7" height="24.6" fill="#11a1ff" shape-rendering="crispEdges"/>
<rect x="871.3" y="1444" width="24.7" height="24.6" fill="#36b0ff" shape-rendering="crispEdges"/>
<rect x="895.5" y="1444" width="24.7" height="24.6" fill="#ffc490" shape-rendering="crispEdges"/>
<rect x="919.7" y="1444" width="24.7" height="24.6" fill="#ffca9c" shape-rendering="crispEdges"/>
<rect x="943.8" y="1444" width="24.7" height="24.6" fill="#ff8a24" shape-rendering="crispEdges"/>
<rect x="968" y="1444" width="24.7" height="24.6" fill="#ff8a24" shape-rendering="crispEdges"/>
<rect x="992.2" y="1444" width="24.7" height="24.6" fill="#ff8a24" shape-rendering="crispEdges"/>
<rect x="1016.3" y="1444" width="24.7" height="24.6" fill="#ff8a24" shape-rendering="crispEdges"/>
<rect x="1040.5" y="1444" width="24.7" height="24.6" fill="#ff8a24" shape-rendering="crispEdges"/>
<rect x="1064.7" y="1444" width="24.7" height="24.6" fill="#ff8a24" shape-rendering="crispEdges"/>
<rect x="73.7" y="1468.1" width="24.7" height="24.6" fill="#40b4ff" shape-rendering="crispEdges"/>
<rect x="97.9" y="1468.1" width="24.7" height="24.6" fill="#15a3ff" shape-rendering="crispEdges"/>
<rect x="122" y="1468.1" width="24.7" height="24.6" fill="#1ca6ff" shape-rendering="crispEdges"/>
<rect x="146.2" y="1468.1" width="24.7" height="24.6" fill="#2dacff" shape-rendering="crispEdges"/>
<rect x="170.4" y="1468.1" width="24.7" height="24.6" fill="#28aaff" shape-rendering="crispEdges"/>
<rect x="194.6" y="1468.1" width="24.7" height="24.6" fill="#2dacff" shape-rendering="crispEdges"/>
<rect x="218.7" y="1468.1" width="24.7" height="24.6" fill="#24a9ff" shape-rendering="crispEdges"/>
<rect x="242.9" y="1468.1" width="24.7" height="24.6" fill="#40b4ff" shape-rendering="crispEdges"/>
<rect x="267.1" y="1468.1" width="24.7" height="24.6" fill="#60c0ff" shape-rendering="crispEdges"/>
<rect x="291.2" y="1468.1" width="24.7" height="24.6" fill="#2dacff" shape-rendering="crispEdges"/>
<rect x="315.4" y="1468.1" width="24.7" height="24.6" fill="#28aaff" shape-rendering="crispEdges"/>
<rect x="339.6" y="1468.1" width="24.7" height="24.6" fill="#4ab8ff" shape-rendering="crispEdges"/>
<rect x="363.7" y="1468.1" width="24.7" height="24.6" fill="#18a4ff" shape-rendering="crispEdges"/>
<rect x="387.9" y="1468.1" width="24.7" height="24.6" fill="#28aaff" shape-rendering="crispEdges"/>
<rect x="412.1" y="1468.1" width="24.7" height="24.6" fill="#fff3e9" shape-rendering="crispEdges"/>
<rect x="436.2" y="1468.1" width="24.7" height="24.6" fill="#36b0ff" shape-rendering="crispEdges"/>
<rect x="460.4" y="1468.1" width="24.7" height="24.6" fill="#60c0ff" shape-rendering="crispEdges"/>
<rect x="484.6" y="1468.1" width="24.7" height="24.6" fill="#60c0ff" shape-rendering="crispEdges"/>
<rect x="508.8" y="1468.1" width="24.7" height="24.6" fill="#f5fbff" shape-rendering="crispEdges"/>
<rect x="532.9" y="1468.1" width="24.7" height="24.6" fill="#ff8a24" shape-rendering="crispEdges"/>
<rect x="557.1" y="1468.1" width="24.7" height="24.6" fill="#97d6ff" shape-rendering="crispEdges"/>
<rect x="581.3" y="1468.1" width="24.7" height="24.6" fill="#24a9ff" shape-rendering="crispEdges"/>
<rect x="605.4" y="1468.1" width="24.7" height="24.6" fill="#15a3ff" shape-rendering="crispEdges"/>
<rect x="629.6" y="1468.1" width="24.7" height="24.6" fill="#92d4ff" shape-rendering="crispEdges"/>
<rect x="653.8" y="1468.1" width="24.7" height="24.6" fill="#e4f4ff" shape-rendering="crispEdges"/>
<rect x="678" y="1468.1" width="24.7" height="24.6" fill="#60c0ff" shape-rendering="crispEdges"/>
<rect x="702.1" y="1468.1" width="24.7" height="24.6" fill="#eef8ff" shape-rendering="crispEdges"/>
<rect x="726.3" y="1468.1" width="24.7" height="24.6" fill="#ff8a24" shape-rendering="crispEdges"/>
<rect x="750.5" y="1468.1" width="24.7" height="24.6" fill="#ff8a24" shape-rendering="crispEdges"/>
<rect x="774.6" y="1468.1" width="24.7" height="24.6" fill="#ff8a24" shape-rendering="crispEdges"/>
<rect x="798.8" y="1468.1" width="24.7" height="24.6" fill="#28aaff" shape-rendering="crispEdges"/>
<rect x="823" y="1468.1" width="24.7" height="24.6" fill="#64c2ff" shape-rendering="crispEdges"/>
<rect x="847.1" y="1468.1" width="24.7" height="24.6" fill="#92d4ff" shape-rendering="crispEdges"/>
<rect x="871.3" y="1468.1" width="24.7" height="24.6" fill="#a0daff" shape-rendering="crispEdges"/>
<rect x="895.5" y="1468.1" width="24.7" height="24.6" fill="#d3eeff" shape-rendering="crispEdges"/>
<rect x="919.7" y="1468.1" width="24.7" height="24.6" fill="#ff9131" shape-rendering="crispEdges"/>
<rect x="943.8" y="1468.1" width="24.7" height="24.6" fill="#ff9940" shape-rendering="crispEdges"/>
<rect x="968" y="1468.1" width="24.7" height="24.6" fill="#ff8a24" shape-rendering="crispEdges"/>
<rect x="992.2" y="1468.1" width="24.7" height="24.6" fill="#ff8a24" shape-rendering="crispEdges"/>
<rect x="1016.3" y="1468.1" width="24.7" height="24.6" fill="#ff8a24" shape-rendering="crispEdges"/>
<rect x="1040.5" y="1468.1" width="24.7" height="24.6" fill="#ffffff" shape-rendering="crispEdges"/>
<rect x="1064.7" y="1468.1" width="24.7" height="24.6" fill="#ff8a24" shape-rendering="crispEdges"/>
<rect x="73.7" y="1492.2" width="24.7" height="24.6" fill="#4ab8ff" shape-rendering="crispEdges"/>
<rect x="97.9" y="1492.2" width="24.7" height="24.6" fill="#15a3ff" shape-rendering="crispEdges"/>
<rect x="122" y="1492.2" width="24.7" height="24.6" fill="#21a8ff" shape-rendering="crispEdges"/>
<rect x="146.2" y="1492.2" width="24.7" height="24.6" fill="#1ca6ff" shape-rendering="crispEdges"/>
<rect x="170.4" y="1492.2" width="24.7" height="24.6" fill="#1ca6ff" shape-rendering="crispEdges"/>
<rect x="194.6" y="1492.2" width="24.7" height="24.6" fill="#44b5ff" shape-rendering="crispEdges"/>
<rect x="218.7" y="1492.2" width="24.7" height="24.6" fill="#24a9ff" shape-rendering="crispEdges"/>
<rect x="242.9" y="1492.2" width="24.7" height="24.6" fill="#28aaff" shape-rendering="crispEdges"/>
<rect x="267.1" y="1492.2" width="24.7" height="24.6" fill="#64c2ff" shape-rendering="crispEdges"/>
<rect x="291.2" y="1492.2" width="24.7" height="24.6" fill="#24a9ff" shape-rendering="crispEdges"/>
<rect x="315.4" y="1492.2" width="24.7" height="24.6" fill="#36b0ff" shape-rendering="crispEdges"/>
<rect x="339.6" y="1492.2" width="24.7" height="24.6" fill="#6bc5ff" shape-rendering="crispEdges"/>
<rect x="363.7" y="1492.2" width="24.7" height="24.6" fill="#1ca6ff" shape-rendering="crispEdges"/>
<rect x="387.9" y="1492.2" width="24.7" height="24.6" fill="#1ca6ff" shape-rendering="crispEdges"/>
<rect x="412.1" y="1492.2" width="24.7" height="24.6" fill="#ffefe0" shape-rendering="crispEdges"/>
<rect x="436.2" y="1492.2" width="24.7" height="24.6" fill="#40b4ff" shape-rendering="crispEdges"/>
<rect x="460.4" y="1492.2" width="24.7" height="24.6" fill="#60c0ff" shape-rendering="crispEdges"/>
<rect x="484.6" y="1492.2" width="24.7" height="24.6" fill="#4eb9ff" shape-rendering="crispEdges"/>
<rect x="508.8" y="1492.2" width="24.7" height="24.6" fill="#a0daff" shape-rendering="crispEdges"/>
<rect x="532.9" y="1492.2" width="24.7" height="24.6" fill="#ff8a24" shape-rendering="crispEdges"/>
<rect x="557.1" y="1492.2" width="24.7" height="24.6" fill="#97d6ff" shape-rendering="crispEdges"/>
<rect x="581.3" y="1492.2" width="24.7" height="24.6" fill="#1ca6ff" shape-rendering="crispEdges"/>
<rect x="605.4" y="1492.2" width="24.7" height="24.6" fill="#15a3ff" shape-rendering="crispEdges"/>
<rect x="629.6" y="1492.2" width="24.7" height="24.6" fill="#f5fbff" shape-rendering="crispEdges"/>
<rect x="653.8" y="1492.2" width="24.7" height="24.6" fill="#ffefe0" shape-rendering="crispEdges"/>
<rect x="678" y="1492.2" width="24.7" height="24.6" fill="#4ab8ff" shape-rendering="crispEdges"/>
<rect x="702.1" y="1492.2" width="24.7" height="24.6" fill="#ffead7" shape-rendering="crispEdges"/>
<rect x="726.3" y="1492.2" width="24.7" height="24.6" fill="#ff9940" shape-rendering="crispEdges"/>
<rect x="750.5" y="1492.2" width="24.7" height="24.6" fill="#ff8a24" shape-rendering="crispEdges"/>
<rect x="774.6" y="1492.2" width="24.7" height="24.6" fill="#ff8a24" shape-rendering="crispEdges"/>
<rect x="798.8" y="1492.2" width="24.7" height="24.6" fill="#36b0ff" shape-rendering="crispEdges"/>
<rect x="823" y="1492.2" width="24.7" height="24.6" fill="#54bcff" shape-rendering="crispEdges"/>
<rect x="847.1" y="1492.2" width="24.7" height="24.6" fill="#6bc5ff" shape-rendering="crispEdges"/>
<rect x="871.3" y="1492.2" width="24.7" height="24.6" fill="#8ad1ff" shape-rendering="crispEdges"/>
<rect x="895.5" y="1492.2" width="24.7" height="24.6" fill="#a9ddff" shape-rendering="crispEdges"/>
<rect x="919.7" y="1492.2" width="24.7" height="24.6" fill="#ff8a24" shape-rendering="crispEdges"/>
<rect x="943.8" y="1492.2" width="24.7" height="24.6" fill="#ffc490" shape-rendering="crispEdges"/>
<rect x="968" y="1492.2" width="24.7" height="24.6" fill="#ff8a24" shape-rendering="crispEdges"/>
<rect x="992.2" y="1492.2" width="24.7" height="24.6" fill="#ff8a24" shape-rendering="crispEdges"/>
<rect x="1016.3" y="1492.2" width="24.7" height="24.6" fill="#ff8a24" shape-rendering="crispEdges"/>
<rect x="1040.5" y="1492.2" width="24.7" height="24.6" fill="#ffead7" shape-rendering="crispEdges"/>
<rect x="1064.7" y="1492.2" width="24.7" height="24.6" fill="#ff8a24" shape-rendering="crispEdges"/>
<rect x="73.7" y="1516.3" width="24.7" height="24.6" fill="#92d4ff" shape-rendering="crispEdges"/>
<rect x="97.9" y="1516.3" width="24.7" height="24.6" fill="#6bc5ff" shape-rendering="crispEdges"/>
<rect x="122" y="1516.3" width="24.7" height="24.6" fill="#92d4ff" shape-rendering="crispEdges"/>
<rect x="146.2" y="1516.3" width="24.7" height="24.6" fill="#78caff" shape-rendering="crispEdges"/>
<rect x="170.4" y="1516.3" width="24.7" height="24.6" fill="#4ab8ff" shape-rendering="crispEdges"/>
<rect x="194.6" y="1516.3" width="24.7" height="24.6" fill="#78caff" shape-rendering="crispEdges"/>
<rect x="218.7" y="1516.3" width="24.7" height="24.6" fill="#7dccff" shape-rendering="crispEdges"/>
<rect x="242.9" y="1516.3" width="24.7" height="24.6" fill="#8ad1ff" shape-rendering="crispEdges"/>
<rect x="267.1" y="1516.3" width="24.7" height="24.6" fill="#60c0ff" shape-rendering="crispEdges"/>
<rect x="291.2" y="1516.3" width="24.7" height="24.6" fill="#97d6ff" shape-rendering="crispEdges"/>
<rect x="315.4" y="1516.3" width="24.7" height="24.6" fill="#97d6ff" shape-rendering="crispEdges"/>
<rect x="339.6" y="1516.3" width="24.7" height="24.6" fill="#bde5ff" shape-rendering="crispEdges"/>
<rect x="363.7" y="1516.3" width="24.7" height="24.6" fill="#78caff" shape-rendering="crispEdges"/>
<rect x="387.9" y="1516.3" width="24.7" height="24.6" fill="#64c2ff" shape-rendering="crispEdges"/>
<rect x="412.1" y="1516.3" width="24.7" height="24.6" fill="#64c2ff" shape-rendering="crispEdges"/>
<rect x="436.2" y="1516.3" width="24.7" height="24.6" fill="#aedfff" shape-rendering="crispEdges"/>
<rect x="460.4" y="1516.3" width="24.7" height="24.6" fill="#64c2ff" shape-rendering="crispEdges"/>
<rect x="484.6" y="1516.3" width="24.7" height="24.6" fill="#97d6ff" shape-rendering="crispEdges"/>
<rect x="508.8" y="1516.3" width="24.7" height="24.6" fill="#97d6ff" shape-rendering="crispEdges"/>
<rect x="532.9" y="1516.3" width="24.7" height="24.6" fill="#97d6ff" shape-rendering="crispEdges"/>
<rect x="557.1" y="1516.3" width="24.7" height="24.6" fill="#92d4ff" shape-rendering="crispEdges"/>
<rect x="581.3" y="1516.3" width="24.7" height="24.6" fill="#ffdfc3" shape-rendering="crispEdges"/>
<rect x="605.4" y="1516.3" width="24.7" height="24.6" fill="#ddf2ff" shape-rendering="crispEdges"/>
<rect x="629.6" y="1516.3" width="24.7" height="24.6" fill="#85cfff" shape-rendering="crispEdges"/>
<rect x="653.8" y="1516.3" width="24.7" height="24.6" fill="#85cfff" shape-rendering="crispEdges"/>
<rect x="678" y="1516.3" width="24.7" height="24.6" fill="#85cfff" shape-rendering="crispEdges"/>
<rect x="702.1" y="1516.3" width="24.7" height="24.6" fill="#ffe7d2" shape-rendering="crispEdges"/>
<rect x="726.3" y="1516.3" width="24.7" height="24.6" fill="#c4e8ff" shape-rendering="crispEdges"/>
<rect x="750.5" y="1516.3" width="24.7" height="24.6" fill="#a0daff" shape-rendering="crispEdges"/>
<rect x="774.6" y="1516.3" width="24.7" height="24.6" fill="#ff8a24" shape-rendering="crispEdges"/>
<rect x="798.8" y="1516.3" width="24.7" height="24.6" fill="#8ad1ff" shape-rendering="crispEdges"/>
<rect x="823" y="1516.3" width="24.7" height="24.6" fill="#7dccff" shape-rendering="crispEdges"/>
<rect x="847.1" y="1516.3" width="24.7" height="24.6" fill="#a0daff" shape-rendering="crispEdges"/>
<rect x="871.3" y="1516.3" width="24.7" height="24.6" fill="#70c7ff" shape-rendering="crispEdges"/>
<rect x="895.5" y="1516.3" width="24.7" height="24.6" fill="#28aaff" shape-rendering="crispEdges"/>
<rect x="919.7" y="1516.3" width="24.7" height="24.6" fill="#8dd2ff" shape-rendering="crispEdges"/>
<rect x="943.8" y="1516.3" width="24.7" height="24.6" fill="#ffca9c" shape-rendering="crispEdges"/>
<rect x="968" y="1516.3" width="24.7" height="24.6" fill="#bde5ff" shape-rendering="crispEdges"/>
<rect x="992.2" y="1516.3" width="24.7" height="24.6" fill="#ff8a24" shape-rendering="crispEdges"/>
<rect x="1016.3" y="1516.3" width="24.7" height="24.6" fill="#ff8a24" shape-rendering="crispEdges"/>
<rect x="1040.5" y="1516.3" width="24.7" height="24.6" fill="#fff3e9" shape-rendering="crispEdges"/>
<rect x="1064.7" y="1516.3" width="24.7" height="24.6" fill="#ff8a24" shape-rendering="crispEdges"/>
<rect x="75.5" y="1365.4" width="20.2" height="19.5" fill="#000000"/>
<rect x="75.5" y="1389.4" width="20.2" height="19.5" fill="#000000"/>
<rect x="99.7" y="1365.4" width="20.2" height="19.5" fill="#000000"/>
<rect x="99.7" y="1389.4" width="20.2" height="19.5" fill="#000000"/>
<rect x="123.8" y="1365.4" width="20.2" height="19.5" fill="#000000"/>
<rect x="123.8" y="1389.4" width="20.2" height="19.5" fill="#000000"/>
<rect x="148" y="1365.4" width="20.2" height="19.5" fill="#000000"/>
<rect x="148" y="1389.4" width="20.2" height="19.5" fill="#000000"/>
<rect x="172.2" y="1365.4" width="20.2" height="19.5" fill="#000000"/>
<rect x="172.2" y="1389.4" width="20.2" height="19.5" fill="#000000"/>
<rect x="196.4" y="1365.4" width="20.2" height="19.5" fill="#000000"/>
<rect x="196.4" y="1389.4" width="20.2" height="19.5" fill="#000000"/>
<rect x="220.5" y="1365.4" width="20.2" height="19.5" fill="#000000"/>
<rect x="220.5" y="1389.4" width="20.2" height="19.5" fill="#000000"/>
<rect x="244.7" y="1365.4" width="20.2" height="19.5" fill="#000000"/>
<rect x="244.7" y="1389.4" width="20.2" height="19.5" fill="#000000"/>
<rect x="268.9" y="1365.4" width="20.2" height="19.5" fill="#000000"/>
<rect x="268.9" y="1389.4" width="20.2" height="19.5" fill="#000000"/>
<rect x="293" y="1365.4" width="20.2" height="19.5" fill="#000000"/>
<rect x="293" y="1389.4" width="20.2" height="19.5" fill="#000000"/>
<rect x="317.2" y="1365.4" width="20.2" height="19.5" fill="#009a00"/>
<rect x="317.2" y="1389.4" width="20.2" height="19.5" fill="#0000ff"/>
<rect x="341.4" y="1365.4" width="20.2" height="19.5" fill="#009a00"/>
<rect x="341.4" y="1389.4" width="20.2" height="19.5" fill="#0000ff"/>
<rect x="365.5" y="1365.4" width="20.2" height="19.5" fill="#009a00"/>
<rect x="365.5" y="1389.4" width="20.2" height="19.5" fill="#0000ff"/>
<rect x="389.7" y="1365.4" width="20.2" height="19.5" fill="#009a00"/>
<rect x="389.7" y="1389.4" width="20.2" height="19.5" fill="#0000ff"/>
<rect x="413.9" y="1365.4" width="20.2" height="19.5" fill="#009a00"/>
<rect x="413.9" y="1389.4" width="20.2" height="19.5" fill="#0000ff"/>
<rect x="438.1" y="1365.4" width="20.2" height="19.5" fill="#009a00"/>
<rect x="438.1" y="1389.4" width="20.2" height="19.5" fill="#0000ff"/>
<rect x="462.2" y="1365.4" width="20.2" height="19.5" fill="#009a00"/>
<rect x="462.2" y="1389.4" width="20.2" height="19.5" fill="#0000ff"/>
<rect x="486.4" y="1365.4" width="20.2" height="19.5" fill="#009a00"/>
<rect x="486.4" y="1389.4" width="20.2" height="19.5" fill="#0000ff"/>
<rect x="510.6" y="1365.4" width="20.2" height="19.5" fill="#009a00"/>
<rect x="510.6" y="1389.4" width="20.2" height="19.5" fill="#0000ff"/>
<rect x="534.7" y="1365.4" width="20.2" height="19.5" fill="#009a00"/>
<rect x="534.7" y="1389.4" width="20.2" height="19.5" fill="#0000ff"/>
<rect x="558.9" y="1365.4" width="20.2" height="19.5" fill="#009a00"/>
<rect x="558.9" y="1389.4" width="20.2" height="19.5" fill="#8000ff"/>
<rect x="583.1" y="1365.4" width="20.2" height="19.5" fill="#009a00"/>
<rect x="583.1" y="1389.4" width="20.2" height="19.5" fill="#8000ff"/>
<rect x="607.2" y="1365.4" width="20.2" height="19.5" fill="#009a00"/>
<rect x="607.2" y="1389.4" width="20.2" height="19.5" fill="#8000ff"/>
<rect x="631.4" y="1365.4" width="20.2" height="19.5" fill="#009a00"/>
<rect x="631.4" y="1389.4" width="20.2" height="19.5" fill="#8000ff"/>
<rect x="655.6" y="1365.4" width="20.2" height="19.5" fill="#009a00"/>
<rect x="655.6" y="1389.4" width="20.2" height="19.5" fill="#8000ff"/>
<rect x="679.8" y="1365.4" width="20.2" height="19.5" fill="#009a00"/>
<rect x="679.8" y="1389.4" width="20.2" height="19.5" fill="#8000ff"/>
<rect x="703.9" y="1365.4" width="20.2" height="19.5" fill="#009a00"/>
<rect x="703.9" y="1389.4" width="20.2" height="19.5" fill="#8000ff"/>
<rect x="728.1" y="1365.4" width="20.2" height="19.5" fill="#009a00"/>
<rect x="728.1" y="1389.4" width="20.2" height="19.5" fill="#8000ff"/>
<rect x="752.3" y="1365.4" width="20.2" height="19.5" fill="#009a00"/>
<rect x="752.3" y="1389.4" width="20.2" height="19.5" fill="#8000ff"/>
<rect x="776.4" y="1365.4" width="20.2" height="19.5" fill="#009a00"/>
<rect x="776.4" y="1389.4" width="20.2" height="19.5" fill="#8000ff"/>
<rect x="800.6" y="1365.4" width="20.2" height="19.5" fill="#009a00"/>
<rect x="800.6" y="1389.4" width="20.2" height="19.5" fill="#ff0000"/>
<rect x="824.8" y="1365.4" width="20.2" height="19.5" fill="#009a00"/>
<rect x="824.8" y="1389.4" width="20.2" height="19.5" fill="#ff0000"/>
<rect x="848.9" y="1365.4" width="20.2" height="19.5" fill="#009a00"/>
<rect x="848.9" y="1389.4" width="20.2" height="19.5" fill="#ff0000"/>
<rect x="873.1" y="1365.4" width="20.2" height="19.5" fill="#009a00"/>
<rect x="873.1" y="1389.4" width="20.2" height="19.5" fill="#ff0000"/>
<rect x="897.3" y="1365.4" width="20.2" height="19.5" fill="#009a00"/>
<rect x="897.3" y="1389.4" width="20.2" height="19.5" fill="#ff0000"/>
<rect x="921.5" y="1365.4" width="20.2" height="19.5" fill="#009a00"/>
<rect x="921.5" y="1389.4" width="20.2" height="19.5" fill="#ff0000"/>
<rect x="945.6" y="1365.4" width="20.2" height="19.5" fill="#009a00"/>
<rect x="945.6" y="1389.4" width="20.2" height="19.5" fill="#ff0000"/>
<rect x="969.8" y="1365.4" width="20.2" height="19.5" fill="#009a00"/>
<rect x="969.8" y="1389.4" width="20.2" height="19.5" fill="#ff0000"/>
<rect x="994" y="1365.4" width="20.2" height="19.5" fill="#009a00"/>
<rect x="994" y="1389.4" width="20.2" height="19.5" fill="#ff0000"/>
<rect x="1018.1" y="1365.4" width="20.2" height="19.5" fill="#009a00"/>
<rect x="1018.1" y="1389.4" width="20.2" height="19.5" fill="#ff0000"/>
<rect x="1042.3" y="1365.4" width="20.2" height="19.5" fill="#009a00"/>
<rect x="1042.3" y="1389.4" width="20.2" height="19.5" fill="#ff0000"/>
<rect x="1066.5" y="1365.4" width="20.2" height="19.5" fill="#009a00"/>
<rect x="1066.5" y="1389.4" width="20.2" height="19.5" fill="#ff0000"/>
<text x="1096.8" y="1435.1" font-size="20.4" text-anchor="start" font-weight="normal" font-family='"Liberation Sans", Arial, sans-serif'>IgA_binding_S_flow</text>
<text x="1096.8" y="1460.6" font-size="20.4" text-anchor="start" font-weight="normal" font-family='"Liberation Sans", Arial, sans-serif'>IgG_binding_S_flow</text>
<text x="1096.8" y="1486.2" font-size="20.4" text-anchor="start" font-weight="normal" font-family='"Liberation Sans", Arial, sans-serif'>IgA_OD_ELISA</text>
<text x="1096.8" y="1511.8" font-size="20.4" text-anchor="start" font-weight="normal" font-family='"Liberation Sans", Arial, sans-serif'>IgA_AUC_ELISA</text>
<text x="1096.8" y="1537.3" font-size="20.4" text-anchor="start" font-weight="normal" font-family='"Liberation Sans", Arial, sans-serif'>IgG_MFI_S_flow</text>
<polyline points="73.7,1431.2 63.4,1431.2 63.4,1455.5 73.7,1455.5" fill="none" stroke="#333" stroke-width="1.2"/>
<polyline points="63.4,1443.3 53,1443.3" fill="none" stroke="#333" stroke-width="1.2"/>
<polyline points="73.7,1480 63.4,1480 63.4,1504.5 73.7,1504.5" fill="none" stroke="#333" stroke-width="1.2"/>
<polyline points="63.4,1492.3 53,1492.3" fill="none" stroke="#333" stroke-width="1.2"/>
<polyline points="53,1443.3 53,1492.3" fill="none" stroke="#333" stroke-width="1.2"/>
<polyline points="53,1467.8 43,1467.8 43,1528.7 73.7,1528.7" fill="none" stroke="#333" stroke-width="1.2"/>
<polyline points="43,1498.3 33.6,1498.3" fill="none" stroke="#333" stroke-width="1.2"/>
<text x="0" y="1366" font-size="33" text-anchor="start" font-weight="bold" font-family='"Liberation Serif", serif'>g</text>
<defs><linearGradient id="cb990" x1="0" y1="0" x2="0" y2="1"><stop offset="0" stop-color="#ff8a24"/><stop offset="0.5" stop-color="#ffffff"/><stop offset="1" stop-color="#0ea0ff"/></linearGradient></defs>
<rect x="1368.1" y="1335.9" width="17.2" height="231.5" fill="url(#cb990)"/>
<line x1="1385.3" y1="1336.6" x2="1397.3" y2="1336.6" stroke="#444" stroke-width="1.2"/>
<text x="1404" y="1340.9" font-size="12" text-anchor="start" font-weight="normal" font-family='"Liberation Sans", Arial, sans-serif'>1.0</text>
<line x1="1385.3" y1="1348.1" x2="1391.8" y2="1348.1" stroke="#444" stroke-width="1.2"/>
<text x="1404" y="1352.4" font-size="12" text-anchor="start" font-weight="normal" font-family='"Liberation Sans", Arial, sans-serif'>0.9</text>
<line x1="1385.3" y1="1359.6" x2="1391.8" y2="1359.6" stroke="#444" stroke-width="1.2"/>
<text x="1404" y="1363.9" font-size="12" text-anchor="start" font-weight="normal" font-family='"Liberation Sans", Arial, sans-serif'>0.8</text>
<line x1="1385.3" y1="1371.1" x2="1391.8" y2="1371.1" stroke="#444" stroke-width="1.2"/>
<text x="1404" y="1375.5" font-size="12" text-anchor="start" font-weight="normal" font-family='"Liberation Sans", Arial, sans-serif'>0.7</text>
<line x1="1385.3" y1="1382.7" x2="1391.8" y2="1382.7" stroke="#444" stroke-width="1.2"/>
<text x="1404" y="1387" font-size="12" text-anchor="start" font-weight="normal" font-family='"Liberation Sans", Arial, sans-serif'>0.6</text>
<line x1="1385.3" y1="1394.2" x2="1397.3" y2="1394.2" stroke="#444" stroke-width="1.2"/>
<text x="1404" y="1398.5" font-size="12" text-anchor="start" font-weight="normal" font-family='"Liberation Sans", Arial, sans-serif'>0.5</text>
<line x1="1385.3" y1="1405.7" x2="1391.8" y2="1405.7" stroke="#444" stroke-width="1.2"/>
<text x="1404" y="1410" font-size="12" text-anchor="start" font-weight="normal" font-family='"Liberation Sans", Arial, sans-serif'>0.4</text>
<line x1="1385.3" y1="1417.2" x2="1391.8" y2="1417.2" stroke="#444" stroke-width="1.2"/>
<text x="1404" y="1421.5" font-size="12" text-anchor="start" font-weight="normal" font-family='"Liberation Sans", Arial, sans-serif'>0.3</text>
<line x1="1385.3" y1="1428.7" x2="1391.8" y2="1428.7" stroke="#444" stroke-width="1.2"/>
<text x="1404" y="1433" font-size="12" text-anchor="start" font-weight="normal" font-family='"Liberation Sans", Arial, sans-serif'>0.2</text>
<line x1="1385.3" y1="1440.2" x2="1391.8" y2="1440.2" stroke="#444" stroke-width="1.2"/>
<text x="1404" y="1444.6" font-size="12" text-anchor="start" font-weight="normal" font-family='"Liberation Sans", Arial, sans-serif'>0.1</text>
<line x1="1385.3" y1="1451.8" x2="1397.3" y2="1451.8" stroke="#444" stroke-width="1.2"/>
<text x="1404" y="1456.1" font-size="12" text-anchor="start" font-weight="normal" font-family='"Liberation Sans", Arial, sans-serif'>0.0</text>
<line x1="1385.3" y1="1463.3" x2="1391.8" y2="1463.3" stroke="#444" stroke-width="1.2"/>
<text x="1404" y="1467.6" font-size="12" text-anchor="start" font-weight="normal" font-family='"Liberation Sans", Arial, sans-serif'>–0.1</text>
<line x1="1385.3" y1="1474.8" x2="1391.8" y2="1474.8" stroke="#444" stroke-width="1.2"/>
<text x="1404" y="1479.1" font-size="12" text-anchor="start" font-weight="normal" font-family='"Liberation Sans", Arial, sans-serif'>–0.2</text>
<line x1="1385.3" y1="1486.3" x2="1391.8" y2="1486.3" stroke="#444" stroke-width="1.2"/>
<text x="1404" y="1490.6" font-size="12" text-anchor="start" font-weight="normal" font-family='"Liberation Sans", Arial, sans-serif'>–0.3</text>
<line x1="1385.3" y1="1497.8" x2="1391.8" y2="1497.8" stroke="#444" stroke-width="1.2"/>
<text x="1404" y="1502.1" font-size="12" text-anchor="start" font-weight="normal" font-family='"Liberation Sans", Arial, sans-serif'>–0.4</text>
<line x1="1385.3" y1="1509.3" x2="1397.3" y2="1509.3" stroke="#444" stroke-width="1.2"/>
<text x="1404" y="1513.6" font-size="12" text-anchor="start" font-weight="normal" font-family='"Liberation Sans", Arial, sans-serif'>–0.5</text>
<line x1="1385.3" y1="1520.8" x2="1391.8" y2="1520.8" stroke="#444" stroke-width="1.2"/>
<text x="1404" y="1525.2" font-size="12" text-anchor="start" font-weight="normal" font-family='"Liberation Sans", Arial, sans-serif'>–0.6</text>
<line x1="1385.3" y1="1532.4" x2="1391.8" y2="1532.4" stroke="#444" stroke-width="1.2"/>
<text x="1404" y="1536.7" font-size="12" text-anchor="start" font-weight="normal" font-family='"Liberation Sans", Arial, sans-serif'>–0.7</text>
<line x1="1385.3" y1="1543.9" x2="1391.8" y2="1543.9" stroke="#444" stroke-width="1.2"/>
<text x="1404" y="1548.2" font-size="12" text-anchor="start" font-weight="normal" font-family='"Liberation Sans", Arial, sans-serif'>–0.8</text>
<line x1="1385.3" y1="1555.4" x2="1391.8" y2="1555.4" stroke="#444" stroke-width="1.2"/>
<text x="1404" y="1559.7" font-size="12" text-anchor="start" font-weight="normal" font-family='"Liberation Sans", Arial, sans-serif'>–0.9</text>
<line x1="1385.3" y1="1566.9" x2="1397.3" y2="1566.9" stroke="#444" stroke-width="1.2"/>
<text x="1404" y="1571.2" font-size="12" text-anchor="start" font-weight="normal" font-family='"Liberation Sans", Arial, sans-serif'>–1.0</text>
<rect x="1480.7" y="1382.7" width="23" height="22.5" fill="#000000"/>
<text x="1513.4" y="1400.4" font-size="20.6" text-anchor="start" font-weight="normal" font-family='"Liberation Sans", Arial, sans-serif'>Healthy controls</text>
<rect x="1480.7" y="1412.1" width="23" height="22.5" fill="#008000"/>
<text x="1513.4" y="1429.8" font-size="20.6" text-anchor="start" font-weight="normal" font-family='"Liberation Sans", Arial, sans-serif'>Disease</text>
<rect x="1480.7" y="1441.5" width="23" height="22.5" fill="#0000ff"/>
<text x="1513.4" y="1459.2" font-size="20.6" text-anchor="start" font-weight="normal" font-family='"Liberation Sans", Arial, sans-serif'>Moderate</text>
<rect x="1480.7" y="1470.9" width="23" height="22.5" fill="#8000ff"/>
<text x="1513.4" y="1488.6" font-size="20.6" text-anchor="start" font-weight="normal" font-family='"Liberation Sans", Arial, sans-serif'>Severe</text>
<rect x="1480.7" y="1500.3" width="23" height="22.5" fill="#ff0000"/>
<text x="1513.4" y="1518" font-size="20.6" text-anchor="start" font-weight="normal" font-family='"Liberation Sans", Arial, sans-serif'>Critical</text>
<line x1="152.7" y1="303.9" x2="152.7" y2="560.5" stroke="#000" stroke-width="1.3"/>
<line x1="141.4" y1="560.5" x2="339.8" y2="560.5" stroke="#000" stroke-width="1.3"/>
<line x1="141.3" y1="304.5" x2="152.7" y2="304.5" stroke="#000" stroke-width="1.3"/>
<text x="131.2" y="313.4" font-size="26.7" text-anchor="end" font-family='"Liberation Sans", Arial, sans-serif'>10<tspan font-size="18.6" dy="-12.6">3</tspan></text>
<line x1="141.3" y1="368.4" x2="152.7" y2="368.4" stroke="#000" stroke-width="1.3"/>
<text x="131.2" y="377.3" font-size="26.7" text-anchor="end" font-family='"Liberation Sans", Arial, sans-serif'>10<tspan font-size="18.6" dy="-12.6">2</tspan></text>
<line x1="141.3" y1="432.3" x2="152.7" y2="432.3" stroke="#000" stroke-width="1.3"/>
<text x="131.2" y="441.2" font-size="26.7" text-anchor="end" font-family='"Liberation Sans", Arial, sans-serif'>10<tspan font-size="18.6" dy="-12.6">1</tspan></text>
<line x1="141.3" y1="496.4" x2="152.7" y2="496.4" stroke="#000" stroke-width="1.3"/>
<text x="131.2" y="505.3" font-size="26.7" text-anchor="end" font-family='"Liberation Sans", Arial, sans-serif'>10<tspan font-size="18.6" dy="-12.6">0</tspan></text>
<line x1="141.3" y1="560.5" x2="152.7" y2="560.5" stroke="#000" stroke-width="1.3"/>
<text x="131.2" y="569.4" font-size="26.7" text-anchor="end" font-family='"Liberation Sans", Arial, sans-serif'>10<tspan font-size="18.6" dy="-12.6">−1</tspan></text>
<line x1="147.3" y1="349.2" x2="152.7" y2="349.2" stroke="#000" stroke-width="1.2"/>
<line x1="147.3" y1="337.9" x2="152.7" y2="337.9" stroke="#000" stroke-width="1.2"/>
<line x1="147.3" y1="330" x2="152.7" y2="330" stroke="#000" stroke-width="1.2"/>
<line x1="147.3" y1="323.8" x2="152.7" y2="323.8" stroke="#000" stroke-width="1.2"/>
<line x1="147.3" y1="318.7" x2="152.7" y2="318.7" stroke="#000" stroke-width="1.2"/>
<line x1="147.3" y1="314.4" x2="152.7" y2="314.4" stroke="#000" stroke-width="1.2"/>
<line x1="147.3" y1="310.7" x2="152.7" y2="310.7" stroke="#000" stroke-width="1.2"/>
<line x1="147.3" y1="307.5" x2="152.7" y2="307.5" stroke="#000" stroke-width="1.2"/>
<line x1="147.3" y1="413" x2="152.7" y2="413" stroke="#000" stroke-width="1.2"/>
<line x1="147.3" y1="401.8" x2="152.7" y2="401.8" stroke="#000" stroke-width="1.2"/>
<line x1="147.3" y1="393.8" x2="152.7" y2="393.8" stroke="#000" stroke-width="1.2"/>
<line x1="147.3" y1="387.6" x2="152.7" y2="387.6" stroke="#000" stroke-width="1.2"/>
<line x1="147.3" y1="382.6" x2="152.7" y2="382.6" stroke="#000" stroke-width="1.2"/>
<line x1="147.3" y1="378.3" x2="152.7" y2="378.3" stroke="#000" stroke-width="1.2"/>
<line x1="147.3" y1="374.6" x2="152.7" y2="374.6" stroke="#000" stroke-width="1.2"/>
<line x1="147.3" y1="371.3" x2="152.7" y2="371.3" stroke="#000" stroke-width="1.2"/>
<line x1="147.3" y1="477.1" x2="152.7" y2="477.1" stroke="#000" stroke-width="1.2"/>
<line x1="147.3" y1="465.8" x2="152.7" y2="465.8" stroke="#000" stroke-width="1.2"/>
<line x1="147.3" y1="457.8" x2="152.7" y2="457.8" stroke="#000" stroke-width="1.2"/>
<line x1="147.3" y1="451.6" x2="152.7" y2="451.6" stroke="#000" stroke-width="1.2"/>
<line x1="147.3" y1="446.5" x2="152.7" y2="446.5" stroke="#000" stroke-width="1.2"/>
<line x1="147.3" y1="442.2" x2="152.7" y2="442.2" stroke="#000" stroke-width="1.2"/>
<line x1="147.3" y1="438.5" x2="152.7" y2="438.5" stroke="#000" stroke-width="1.2"/>
<line x1="147.3" y1="435.2" x2="152.7" y2="435.2" stroke="#000" stroke-width="1.2"/>
<line x1="147.3" y1="541.2" x2="152.7" y2="541.2" stroke="#000" stroke-width="1.2"/>
<line x1="147.3" y1="529.9" x2="152.7" y2="529.9" stroke="#000" stroke-width="1.2"/>
<line x1="147.3" y1="521.9" x2="152.7" y2="521.9" stroke="#000" stroke-width="1.2"/>
<line x1="147.3" y1="515.7" x2="152.7" y2="515.7" stroke="#000" stroke-width="1.2"/>
<line x1="147.3" y1="510.6" x2="152.7" y2="510.6" stroke="#000" stroke-width="1.2"/>
<line x1="147.3" y1="506.3" x2="152.7" y2="506.3" stroke="#000" stroke-width="1.2"/>
<line x1="147.3" y1="502.6" x2="152.7" y2="502.6" stroke="#000" stroke-width="1.2"/>
<line x1="147.3" y1="499.3" x2="152.7" y2="499.3" stroke="#000" stroke-width="1.2"/>
<line x1="175.5" y1="560.5" x2="175.5" y2="571.5" stroke="#000" stroke-width="1.3"/>
<line x1="222.7" y1="560.5" x2="222.7" y2="571.5" stroke="#000" stroke-width="1.3"/>
<line x1="268.9" y1="560.5" x2="268.9" y2="571.5" stroke="#000" stroke-width="1.3"/>
<line x1="315.5" y1="560.5" x2="315.5" y2="571.5" stroke="#000" stroke-width="1.3"/>
<line x1="175.5" y1="490" x2="175.5" y2="523" stroke="#000" stroke-width="1.3"/>
<line x1="168.4" y1="490" x2="182.5" y2="490" stroke="#000" stroke-width="1.3"/>
<rect x="159.8" y="523" width="31.4" height="37.5" fill="#000000" stroke="#000" stroke-width="1.3"/>
<line x1="222.7" y1="370" x2="222.7" y2="373.4" stroke="#000" stroke-width="1.3"/>
<line x1="222.7" y1="498" x2="222.7" y2="560.5" stroke="#000" stroke-width="1.3"/>
<rect x="207.5" y="373.4" width="30.5" height="124.5" fill="#3f5bff" stroke="#000" stroke-width="1.3"/>
<line x1="207.5" y1="385.9" x2="238" y2="385.9" stroke="#000" stroke-width="1.3"/>
<line x1="268.9" y1="390.5" x2="268.9" y2="467.7" stroke="#000" stroke-width="1.3"/>
<line x1="262" y1="467.7" x2="275.7" y2="467.7" stroke="#000" stroke-width="1.3"/>
<rect x="253.6" y="373.4" width="30.5" height="17" fill="#9932cc" stroke="#000" stroke-width="1.3"/>
<line x1="253.6" y1="376.8" x2="284.1" y2="376.8" stroke="#000" stroke-width="1.3"/>
<line x1="315.5" y1="376.8" x2="315.5" y2="560.5" stroke="#000" stroke-width="1.3"/>
<rect x="300.2" y="371.6" width="30.5" height="5.2" fill="#ff2a00" stroke="#000" stroke-width="1.3"/>
<line x1="300.2" y1="373.4" x2="330.7" y2="373.4" stroke="#000" stroke-width="1.3"/>
<line x1="155.8" y1="402.5" x2="331.8" y2="402.5" stroke="#000" stroke-width="2.6" stroke-linecap="round" stroke-dasharray="0.01,5.13"/>
<circle cx="170.5" cy="490" r="4.9" fill="#fff" stroke="#000" stroke-width="1.3"/>
<circle cx="181.8" cy="499.5" r="4.9" fill="#fff" stroke="#000" stroke-width="1.3"/>
<circle cx="175.7" cy="521.1" r="4.9" fill="#fff" stroke="#000" stroke-width="1.3"/>
<circle cx="170" cy="529.8" r="4.9" fill="#fff" stroke="#000" stroke-width="1.3"/>
<circle cx="181.1" cy="534.3" r="4.9" fill="#fff" stroke="#000" stroke-width="1.3"/>
<circle cx="165.9" cy="560.5" r="4.9" fill="#fff" stroke="#000" stroke-width="1.3"/>
<circle cx="175.7" cy="560.5" r="4.9" fill="#fff" stroke="#000" stroke-width="1.3"/>
<circle cx="181.1" cy="560.5" r="4.9" fill="#fff" stroke="#000" stroke-width="1.3"/>
<circle cx="186.4" cy="560.5" r="4.9" fill="#fff" stroke="#000" stroke-width="1.3"/>
<circle cx="213" cy="371.1" r="4.9" fill="#fff" stroke="#000" stroke-width="1.3"/>
<circle cx="217.7" cy="372.7" r="4.9" fill="#fff" stroke="#000" stroke-width="1.3"/>
<circle cx="231.8" cy="370.5" r="4.9" fill="#fff" stroke="#000" stroke-width="1.3"/>
<circle cx="227.3" cy="376.8" r="4.9" fill="#fff" stroke="#000" stroke-width="1.3"/>
<circle cx="234.1" cy="378" r="4.9" fill="#fff" stroke="#000" stroke-width="1.3"/>
<circle cx="211.4" cy="382.5" r="4.9" fill="#fff" stroke="#000" stroke-width="1.3"/>
<circle cx="218.6" cy="387.7" r="4.9" fill="#fff" stroke="#000" stroke-width="1.3"/>
<circle cx="226.8" cy="387.7" r="4.9" fill="#fff" stroke="#000" stroke-width="1.3"/>
<circle cx="216.4" cy="451.8" r="4.9" fill="#fff" stroke="#000" stroke-width="1.3"/>
<circle cx="228" cy="454.5" r="4.9" fill="#fff" stroke="#000" stroke-width="1.3"/>
<circle cx="222.7" cy="498.4" r="4.9" fill="#fff" stroke="#000" stroke-width="1.3"/>
<circle cx="222.7" cy="525.7" r="4.9" fill="#fff" stroke="#000" stroke-width="1.3"/>
<circle cx="217" cy="560.5" r="4.9" fill="#fff" stroke="#000" stroke-width="1.3"/>
<circle cx="228" cy="560.5" r="4.9" fill="#fff" stroke="#000" stroke-width="1.3"/>
<circle cx="259.1" cy="372.3" r="4.9" fill="#fff" stroke="#000" stroke-width="1.3"/>
<circle cx="264.8" cy="373.4" r="4.9" fill="#fff" stroke="#000" stroke-width="1.3"/>
<circle cx="270.5" cy="373.4" r="4.9" fill="#fff" stroke="#000" stroke-width="1.3"/>
<circle cx="278.4" cy="372.7" r="4.9" fill="#fff" stroke="#000" stroke-width="1.3"/>
<circle cx="268.9" cy="390.5" r="4.9" fill="#fff" stroke="#000" stroke-width="1.3"/>
<circle cx="268.9" cy="431.4" r="4.9" fill="#fff" stroke="#000" stroke-width="1.3"/>
<circle cx="268.9" cy="467.7" r="4.9" fill="#fff" stroke="#000" stroke-width="1.3"/>
<circle cx="304.5" cy="371.6" r="4.9" fill="#fff" stroke="#000" stroke-width="1.3"/>
<circle cx="309.1" cy="371.1" r="4.9" fill="#fff" stroke="#000" stroke-width="1.3"/>
<circle cx="318.2" cy="373.4" r="4.9" fill="#fff" stroke="#000" stroke-width="1.3"/>
<circle cx="322.7" cy="371.8" r="4.9" fill="#fff" stroke="#000" stroke-width="1.3"/>
<circle cx="327.3" cy="372.3" r="4.9" fill="#fff" stroke="#000" stroke-width="1.3"/>
<circle cx="315.5" cy="474.5" r="4.9" fill="#fff" stroke="#000" stroke-width="1.3"/>
<circle cx="310.2" cy="505.2" r="4.9" fill="#fff" stroke="#000" stroke-width="1.3"/>
<circle cx="320.9" cy="510.5" r="4.9" fill="#fff" stroke="#000" stroke-width="1.3"/>
<circle cx="310.2" cy="560.5" r="4.9" fill="#fff" stroke="#000" stroke-width="1.3"/>
<circle cx="320.9" cy="560.5" r="4.9" fill="#fff" stroke="#000" stroke-width="1.3"/>
<polyline points="177.7,465.5 177.7,332 265.9,332 265.9,356.4" fill="none" stroke="#000" stroke-width="1.3"/>
<text x="222.6" y="337.3" font-size="30" text-anchor="middle" font-weight="normal" font-family='"Liberation Sans", Arial, sans-serif' letter-spacing="2.1">*</text>
<polyline points="177.7,465.5 177.7,314.8 310.5,314.8 310.5,355.2" fill="none" stroke="#000" stroke-width="1.3"/>
<text x="244.9" y="316.9" font-size="30" text-anchor="middle" font-weight="normal" font-family='"Liberation Sans", Arial, sans-serif' letter-spacing="2.1">**</text>
<text x="23.9" y="433.6" font-size="27" text-anchor="middle" font-weight="normal" font-family='"Liberation Sans", Arial, sans-serif' transform="rotate(-90 23.9 433.6)">S-Flow</text>
<text x="55.7" y="432.7" font-size="27" text-anchor="middle" font-weight="normal" font-family='"Liberation Sans", Arial, sans-serif' transform="rotate(-90 55.7 432.7)">IgA binding (%)</text>
<text x="1.1" y="298.4" font-size="29" text-anchor="start" font-weight="bold" font-family='"Liberation Sans", Arial, sans-serif'>b</text>
<line x1="485" y1="306.9" x2="485" y2="556.8" stroke="#000" stroke-width="1.3"/>
<line x1="474.5" y1="556.8" x2="666.6" y2="556.8" stroke="#000" stroke-width="1.3"/>
<line x1="473.6" y1="307.5" x2="485" y2="307.5" stroke="#000" stroke-width="1.3"/>
<text x="463.5" y="316.4" font-size="26.7" text-anchor="end" font-family='"Liberation Sans", Arial, sans-serif'>10<tspan font-size="18.6" dy="-12.6">6</tspan></text>
<line x1="473.6" y1="390.7" x2="485" y2="390.7" stroke="#000" stroke-width="1.3"/>
<text x="463.5" y="399.6" font-size="26.7" text-anchor="end" font-family='"Liberation Sans", Arial, sans-serif'>10<tspan font-size="18.6" dy="-12.6">5</tspan></text>
<line x1="473.6" y1="473.9" x2="485" y2="473.9" stroke="#000" stroke-width="1.3"/>
<text x="463.5" y="482.8" font-size="26.7" text-anchor="end" font-family='"Liberation Sans", Arial, sans-serif'>10<tspan font-size="18.6" dy="-12.6">4</tspan></text>
<line x1="473.6" y1="556.8" x2="485" y2="556.8" stroke="#000" stroke-width="1.3"/>
<text x="463.5" y="565.7" font-size="26.7" text-anchor="end" font-family='"Liberation Sans", Arial, sans-serif'>10<tspan font-size="18.6" dy="-12.6">3</tspan></text>
<line x1="479.6" y1="365.6" x2="485" y2="365.6" stroke="#000" stroke-width="1.2"/>
<line x1="479.6" y1="351" x2="485" y2="351" stroke="#000" stroke-width="1.2"/>
<line x1="479.6" y1="340.6" x2="485" y2="340.6" stroke="#000" stroke-width="1.2"/>
<line x1="479.6" y1="332.5" x2="485" y2="332.5" stroke="#000" stroke-width="1.2"/>
<line x1="479.6" y1="326" x2="485" y2="326" stroke="#000" stroke-width="1.2"/>
<line x1="479.6" y1="320.4" x2="485" y2="320.4" stroke="#000" stroke-width="1.2"/>
<line x1="479.6" y1="315.6" x2="485" y2="315.6" stroke="#000" stroke-width="1.2"/>
<line x1="479.6" y1="311.3" x2="485" y2="311.3" stroke="#000" stroke-width="1.2"/>
<line x1="479.6" y1="448.8" x2="485" y2="448.8" stroke="#000" stroke-width="1.2"/>
<line x1="479.6" y1="434.2" x2="485" y2="434.2" stroke="#000" stroke-width="1.2"/>
<line x1="479.6" y1="423.8" x2="485" y2="423.8" stroke="#000" stroke-width="1.2"/>
<line x1="479.6" y1="415.7" x2="485" y2="415.7" stroke="#000" stroke-width="1.2"/>
<line x1="479.6" y1="409.1" x2="485" y2="409.1" stroke="#000" stroke-width="1.2"/>
<line x1="479.6" y1="403.6" x2="485" y2="403.6" stroke="#000" stroke-width="1.2"/>
<line x1="479.6" y1="398.7" x2="485" y2="398.7" stroke="#000" stroke-width="1.2"/>
<line x1="479.6" y1="394.5" x2="485" y2="394.5" stroke="#000" stroke-width="1.2"/>
<line x1="479.6" y1="531.8" x2="485" y2="531.8" stroke="#000" stroke-width="1.2"/>
<line x1="479.6" y1="517.2" x2="485" y2="517.2" stroke="#000" stroke-width="1.2"/>
<line x1="479.6" y1="506.9" x2="485" y2="506.9" stroke="#000" stroke-width="1.2"/>
<line x1="479.6" y1="498.8" x2="485" y2="498.8" stroke="#000" stroke-width="1.2"/>
<line x1="479.6" y1="492.3" x2="485" y2="492.3" stroke="#000" stroke-width="1.2"/>
<line x1="479.6" y1="486.7" x2="485" y2="486.7" stroke="#000" stroke-width="1.2"/>
<line x1="479.6" y1="481.9" x2="485" y2="481.9" stroke="#000" stroke-width="1.2"/>
<line x1="479.6" y1="477.7" x2="485" y2="477.7" stroke="#000" stroke-width="1.2"/>
<line x1="507.7" y1="556.8" x2="507.7" y2="567.8" stroke="#000" stroke-width="1.3"/>
<line x1="553" y1="556.8" x2="553" y2="567.8" stroke="#000" stroke-width="1.3"/>
<line x1="598.4" y1="556.8" x2="598.4" y2="567.8" stroke="#000" stroke-width="1.3"/>
<line x1="643.4" y1="556.8" x2="643.4" y2="567.8" stroke="#000" stroke-width="1.3"/>
<line x1="507.7" y1="483.6" x2="507.7" y2="504.1" stroke="#000" stroke-width="1.3"/>
<line x1="500.9" y1="483.6" x2="514.6" y2="483.6" stroke="#000" stroke-width="1.3"/>
<line x1="507.7" y1="525.7" x2="507.7" y2="531.4" stroke="#000" stroke-width="1.3"/>
<rect x="492.5" y="504.1" width="30.5" height="21.6" fill="#000000" stroke="#000" stroke-width="1.3"/>
<line x1="492.5" y1="514.3" x2="523" y2="514.3" stroke="#000" stroke-width="1.3"/>
<line x1="553" y1="417.3" x2="553" y2="502.3" stroke="#000" stroke-width="1.3"/>
<line x1="546.1" y1="417.3" x2="559.8" y2="417.3" stroke="#000" stroke-width="1.3"/>
<line x1="553" y1="533.6" x2="553" y2="548.4" stroke="#000" stroke-width="1.3"/>
<line x1="546.1" y1="548.4" x2="559.8" y2="548.4" stroke="#000" stroke-width="1.3"/>
<rect x="537.7" y="502.3" width="30.5" height="31.4" fill="#3f5bff" stroke="#000" stroke-width="1.3"/>
<line x1="537.7" y1="528" x2="568.2" y2="528" stroke="#000" stroke-width="1.3"/>
<line x1="598.4" y1="418.2" x2="598.4" y2="461.6" stroke="#000" stroke-width="1.3"/>
<line x1="591.6" y1="418.2" x2="605.3" y2="418.2" stroke="#000" stroke-width="1.3"/>
<line x1="598.4" y1="524.1" x2="598.4" y2="548.4" stroke="#000" stroke-width="1.3"/>
<line x1="591.6" y1="548.4" x2="605.3" y2="548.4" stroke="#000" stroke-width="1.3"/>
<rect x="583.2" y="461.6" width="30.5" height="62.5" fill="#9932cc" stroke="#000" stroke-width="1.3"/>
<line x1="583.2" y1="502.3" x2="613.6" y2="502.3" stroke="#000" stroke-width="1.3"/>
<line x1="643.4" y1="411.4" x2="643.4" y2="458.2" stroke="#000" stroke-width="1.3"/>
<line x1="636.6" y1="411.4" x2="650.3" y2="411.4" stroke="#000" stroke-width="1.3"/>
<line x1="643.4" y1="519.3" x2="643.4" y2="550" stroke="#000" stroke-width="1.3"/>
<line x1="636.6" y1="550" x2="650.3" y2="550" stroke="#000" stroke-width="1.3"/>
<rect x="628.2" y="458.2" width="30.5" height="61.1" fill="#ff2a00" stroke="#000" stroke-width="1.3"/>
<line x1="628.2" y1="496.8" x2="658.6" y2="496.8" stroke="#000" stroke-width="1.3"/>
<circle cx="507.7" cy="483.6" r="4.9" fill="#fff" stroke="#000" stroke-width="1.3"/>
<circle cx="507.7" cy="498.4" r="4.9" fill="#fff" stroke="#000" stroke-width="1.3"/>
<circle cx="517.3" cy="501.8" r="4.9" fill="#fff" stroke="#000" stroke-width="1.3"/>
<circle cx="499.1" cy="509.8" r="4.9" fill="#fff" stroke="#000" stroke-width="1.3"/>
<circle cx="507.7" cy="513.2" r="4.9" fill="#fff" stroke="#000" stroke-width="1.3"/>
<circle cx="517.3" cy="514.3" r="4.9" fill="#fff" stroke="#000" stroke-width="1.3"/>
<circle cx="496.8" cy="522.3" r="4.9" fill="#fff" stroke="#000" stroke-width="1.3"/>
<circle cx="503.6" cy="524.5" r="4.9" fill="#fff" stroke="#000" stroke-width="1.3"/>
<circle cx="509.3" cy="528" r="4.9" fill="#fff" stroke="#000" stroke-width="1.3"/>
<circle cx="518" cy="525" r="4.9" fill="#fff" stroke="#000" stroke-width="1.3"/>
<circle cx="500.2" cy="520" r="4.9" fill="#fff" stroke="#000" stroke-width="1.3"/>
<circle cx="512.7" cy="520" r="4.9" fill="#fff" stroke="#000" stroke-width="1.3"/>
<circle cx="553" cy="417.3" r="4.9" fill="#fff" stroke="#000" stroke-width="1.3"/>
<circle cx="553" cy="428.6" r="4.9" fill="#fff" stroke="#000" stroke-width="1.3"/>
<circle cx="547.3" cy="496.6" r="4.9" fill="#fff" stroke="#000" stroke-width="1.3"/>
<circle cx="558.6" cy="502.3" r="4.9" fill="#fff" stroke="#000" stroke-width="1.3"/>
<circle cx="541.6" cy="521.1" r="4.9" fill="#fff" stroke="#000" stroke-width="1.3"/>
<circle cx="549.5" cy="522.3" r="4.9" fill="#fff" stroke="#000" stroke-width="1.3"/>
<circle cx="557" cy="521.1" r="4.9" fill="#fff" stroke="#000" stroke-width="1.3"/>
<circle cx="564.3" cy="521.1" r="4.9" fill="#fff" stroke="#000" stroke-width="1.3"/>
<circle cx="547.3" cy="529.1" r="4.9" fill="#fff" stroke="#000" stroke-width="1.3"/>
<circle cx="554.8" cy="534.8" r="4.9" fill="#fff" stroke="#000" stroke-width="1.3"/>
<circle cx="563.9" cy="528.6" r="4.9" fill="#fff" stroke="#000" stroke-width="1.3"/>
<circle cx="541.6" cy="539.3" r="4.9" fill="#fff" stroke="#000" stroke-width="1.3"/>
<circle cx="557" cy="540" r="4.9" fill="#fff" stroke="#000" stroke-width="1.3"/>
<circle cx="563.9" cy="537.7" r="4.9" fill="#fff" stroke="#000" stroke-width="1.3"/>
<circle cx="549.1" cy="549.1" r="4.9" fill="#fff" stroke="#000" stroke-width="1.3"/>
<circle cx="592.7" cy="461.6" r="4.9" fill="#fff" stroke="#000" stroke-width="1.3"/>
<circle cx="603.6" cy="460.5" r="4.9" fill="#fff" stroke="#000" stroke-width="1.3"/>
<circle cx="598.4" cy="478" r="4.9" fill="#fff" stroke="#000" stroke-width="1.3"/>
<circle cx="598.4" cy="496.1" r="4.9" fill="#fff" stroke="#000" stroke-width="1.3"/>
<circle cx="592.7" cy="503" r="4.9" fill="#fff" stroke="#000" stroke-width="1.3"/>
<circle cx="603.6" cy="508.2" r="4.9" fill="#fff" stroke="#000" stroke-width="1.3"/>
<circle cx="598.4" cy="519.5" r="4.9" fill="#fff" stroke="#000" stroke-width="1.3"/>
<circle cx="592.7" cy="524.5" r="4.9" fill="#fff" stroke="#000" stroke-width="1.3"/>
<circle cx="603.6" cy="535.5" r="4.9" fill="#fff" stroke="#000" stroke-width="1.3"/>
<circle cx="598.4" cy="548.4" r="4.9" fill="#fff" stroke="#000" stroke-width="1.3"/>
<circle cx="598.4" cy="418.2" r="4.9" fill="#fff" stroke="#000" stroke-width="1.3"/>
<circle cx="649.1" cy="411.4" r="4.9" fill="#fff" stroke="#000" stroke-width="1.3"/>
<circle cx="637.7" cy="419.3" r="4.9" fill="#fff" stroke="#000" stroke-width="1.3"/>
<circle cx="653.6" cy="440.5" r="4.9" fill="#fff" stroke="#000" stroke-width="1.3"/>
<circle cx="634.3" cy="447.7" r="4.9" fill="#fff" stroke="#000" stroke-width="1.3"/>
<circle cx="643.4" cy="449.5" r="4.9" fill="#fff" stroke="#000" stroke-width="1.3"/>
<circle cx="649.1" cy="458.2" r="4.9" fill="#fff" stroke="#000" stroke-width="1.3"/>
<circle cx="637.7" cy="463.2" r="4.9" fill="#fff" stroke="#000" stroke-width="1.3"/>
<circle cx="643.4" cy="481.4" r="4.9" fill="#fff" stroke="#000" stroke-width="1.3"/>
<circle cx="654.8" cy="487.7" r="4.9" fill="#fff" stroke="#000" stroke-width="1.3"/>
<circle cx="632" cy="490.9" r="4.9" fill="#fff" stroke="#000" stroke-width="1.3"/>
<circle cx="646.8" cy="493.2" r="4.9" fill="#fff" stroke="#000" stroke-width="1.3"/>
<circle cx="639.5" cy="497.7" r="4.9" fill="#fff" stroke="#000" stroke-width="1.3"/>
<circle cx="634.3" cy="504.1" r="4.9" fill="#fff" stroke="#000" stroke-width="1.3"/>
<circle cx="653.2" cy="503" r="4.9" fill="#fff" stroke="#000" stroke-width="1.3"/>
<circle cx="643.4" cy="509.8" r="4.9" fill="#fff" stroke="#000" stroke-width="1.3"/>
<circle cx="633.2" cy="517.7" r="4.9" fill="#fff" stroke="#000" stroke-width="1.3"/>
<circle cx="639.5" cy="519.5" r="4.9" fill="#fff" stroke="#000" stroke-width="1.3"/>
<circle cx="646.8" cy="521.8" r="4.9" fill="#fff" stroke="#000" stroke-width="1.3"/>
<circle cx="651.4" cy="518.9" r="4.9" fill="#fff" stroke="#000" stroke-width="1.3"/>
<circle cx="643.4" cy="535.5" r="4.9" fill="#fff" stroke="#000" stroke-width="1.3"/>
<circle cx="643.4" cy="550" r="4.9" fill="#fff" stroke="#000" stroke-width="1.3"/>
<circle cx="637.3" cy="516.6" r="4.9" fill="#fff" stroke="#000" stroke-width="1.3"/>
<circle cx="630.9" cy="515.5" r="4.9" fill="#fff" stroke="#000" stroke-width="1.3"/>
<polyline points="510,465.5 510,368.2 595,368.2 595,390.9" fill="none" stroke="#000" stroke-width="1.3"/>
<text x="553.5" y="374.4" font-size="30" text-anchor="middle" font-weight="normal" font-family='"Liberation Sans", Arial, sans-serif' letter-spacing="2.1">*</text>
<polyline points="510,465.5 510,350 636.6,350 636.6,389.3" fill="none" stroke="#000" stroke-width="1.3"/>
<text x="574.5" y="355.1" font-size="30" text-anchor="middle" font-weight="normal" font-family='"Liberation Sans", Arial, sans-serif' letter-spacing="2.1">*</text>
<text x="396.8" y="433" font-size="27" text-anchor="middle" font-weight="normal" font-family='"Liberation Sans", Arial, sans-serif' transform="rotate(-90 396.8 433)">S-Flow IgA MFI</text>
<line x1="841.1" y1="303.7" x2="841.1" y2="548.6" stroke="#000" stroke-width="1.3"/>
<line x1="830.5" y1="548.6" x2="1018.9" y2="548.6" stroke="#000" stroke-width="1.3"/>
<line x1="829.7" y1="304.3" x2="841.1" y2="304.3" stroke="#000" stroke-width="1.3"/>
<text x="819.6" y="313.2" font-size="26.7" text-anchor="end" font-family='"Liberation Sans", Arial, sans-serif'>10<tspan font-size="18.6" dy="-12.6">1</tspan></text>
<line x1="829.7" y1="426.4" x2="841.1" y2="426.4" stroke="#000" stroke-width="1.3"/>
<text x="819.6" y="435.3" font-size="26.7" text-anchor="end" font-family='"Liberation Sans", Arial, sans-serif'>10<tspan font-size="18.6" dy="-12.6">0</tspan></text>
<line x1="829.7" y1="548.6" x2="841.1" y2="548.6" stroke="#000" stroke-width="1.3"/>
<text x="819.6" y="557.5" font-size="26.7" text-anchor="end" font-family='"Liberation Sans", Arial, sans-serif'>10<tspan font-size="18.6" dy="-12.6">−1</tspan></text>
<line x1="835.7" y1="389.6" x2="841.1" y2="389.6" stroke="#000" stroke-width="1.2"/>
<line x1="835.7" y1="368.1" x2="841.1" y2="368.1" stroke="#000" stroke-width="1.2"/>
<line x1="835.7" y1="352.9" x2="841.1" y2="352.9" stroke="#000" stroke-width="1.2"/>
<line x1="835.7" y1="341.1" x2="841.1" y2="341.1" stroke="#000" stroke-width="1.2"/>
<line x1="835.7" y1="331.4" x2="841.1" y2="331.4" stroke="#000" stroke-width="1.2"/>
<line x1="835.7" y1="323.2" x2="841.1" y2="323.2" stroke="#000" stroke-width="1.2"/>
<line x1="835.7" y1="316.1" x2="841.1" y2="316.1" stroke="#000" stroke-width="1.2"/>
<line x1="835.7" y1="309.9" x2="841.1" y2="309.9" stroke="#000" stroke-width="1.2"/>
<line x1="835.7" y1="511.8" x2="841.1" y2="511.8" stroke="#000" stroke-width="1.2"/>
<line x1="835.7" y1="490.3" x2="841.1" y2="490.3" stroke="#000" stroke-width="1.2"/>
<line x1="835.7" y1="475" x2="841.1" y2="475" stroke="#000" stroke-width="1.2"/>
<line x1="835.7" y1="463.2" x2="841.1" y2="463.2" stroke="#000" stroke-width="1.2"/>
<line x1="835.7" y1="453.5" x2="841.1" y2="453.5" stroke="#000" stroke-width="1.2"/>
<line x1="835.7" y1="445.3" x2="841.1" y2="445.3" stroke="#000" stroke-width="1.2"/>
<line x1="835.7" y1="438.2" x2="841.1" y2="438.2" stroke="#000" stroke-width="1.2"/>
<line x1="835.7" y1="432" x2="841.1" y2="432" stroke="#000" stroke-width="1.2"/>
<line x1="863.4" y1="548.6" x2="863.4" y2="559.6" stroke="#000" stroke-width="1.3"/>
<line x1="907.7" y1="548.6" x2="907.7" y2="559.6" stroke="#000" stroke-width="1.3"/>
<line x1="952.5" y1="548.6" x2="952.5" y2="559.6" stroke="#000" stroke-width="1.3"/>
<line x1="996.8" y1="548.6" x2="996.8" y2="559.6" stroke="#000" stroke-width="1.3"/>
<line x1="863.4" y1="500.5" x2="863.4" y2="525.5" stroke="#000" stroke-width="1.3"/>
<line x1="856.9" y1="500.5" x2="869.9" y2="500.5" stroke="#000" stroke-width="1.3"/>
<line x1="863.4" y1="539.1" x2="863.4" y2="544.1" stroke="#000" stroke-width="1.3"/>
<rect x="849" y="525.5" width="28.9" height="13.6" fill="#000000" stroke="#000" stroke-width="1.3"/>
<line x1="849" y1="531.6" x2="877.8" y2="531.6" stroke="#000" stroke-width="1.3"/>
<line x1="907.7" y1="381.6" x2="907.7" y2="440.2" stroke="#000" stroke-width="1.3"/>
<line x1="901.2" y1="381.6" x2="914.2" y2="381.6" stroke="#000" stroke-width="1.3"/>
<line x1="907.7" y1="525.5" x2="907.7" y2="548.6" stroke="#000" stroke-width="1.3"/>
<rect x="893.3" y="440.2" width="28.9" height="85.2" fill="#3f5bff" stroke="#000" stroke-width="1.3"/>
<line x1="893.3" y1="496.4" x2="922.2" y2="496.4" stroke="#000" stroke-width="1.3"/>
<line x1="952.5" y1="388.4" x2="952.5" y2="400.2" stroke="#000" stroke-width="1.3"/>
<line x1="952.5" y1="493.4" x2="952.5" y2="536.6" stroke="#000" stroke-width="1.3"/>
<line x1="946" y1="536.6" x2="959" y2="536.6" stroke="#000" stroke-width="1.3"/>
<rect x="938.1" y="400.2" width="28.9" height="93.2" fill="#9533ff" stroke="#000" stroke-width="1.3"/>
<line x1="938.1" y1="431.6" x2="966.9" y2="431.6" stroke="#000" stroke-width="1.3"/>
<line x1="996.8" y1="371.4" x2="996.8" y2="396.4" stroke="#000" stroke-width="1.3"/>
<line x1="996.8" y1="496.4" x2="996.8" y2="544.1" stroke="#000" stroke-width="1.3"/>
<rect x="982.4" y="396.4" width="28.9" height="100" fill="#ff2a00" stroke="#000" stroke-width="1.3"/>
<line x1="982.4" y1="416.8" x2="1011.2" y2="416.8" stroke="#000" stroke-width="1.3"/>
<circle cx="863.4" cy="500.5" r="4.9" fill="#fff" stroke="#000" stroke-width="1.3"/>
<circle cx="863.4" cy="513.4" r="4.9" fill="#fff" stroke="#000" stroke-width="1.3"/>
<circle cx="852.5" cy="525.5" r="4.9" fill="#fff" stroke="#000" stroke-width="1.3"/>
<circle cx="874.1" cy="526.4" r="4.9" fill="#fff" stroke="#000" stroke-width="1.3"/>
<circle cx="858.2" cy="530.5" r="4.9" fill="#fff" stroke="#000" stroke-width="1.3"/>
<circle cx="868.4" cy="530.5" r="4.9" fill="#fff" stroke="#000" stroke-width="1.3"/>
<circle cx="854.8" cy="536.1" r="4.9" fill="#fff" stroke="#000" stroke-width="1.3"/>
<circle cx="860.5" cy="538.4" r="4.9" fill="#fff" stroke="#000" stroke-width="1.3"/>
<circle cx="868.4" cy="538.4" r="4.9" fill="#fff" stroke="#000" stroke-width="1.3"/>
<circle cx="873" cy="535" r="4.9" fill="#fff" stroke="#000" stroke-width="1.3"/>
<circle cx="862.7" cy="543" r="4.9" fill="#fff" stroke="#000" stroke-width="1.3"/>
<circle cx="858.2" cy="540.7" r="4.9" fill="#fff" stroke="#000" stroke-width="1.3"/>
<circle cx="907.7" cy="381.6" r="4.9" fill="#fff" stroke="#000" stroke-width="1.3"/>
<circle cx="902.5" cy="434.5" r="4.9" fill="#fff" stroke="#000" stroke-width="1.3"/>
<circle cx="913.9" cy="434.5" r="4.9" fill="#fff" stroke="#000" stroke-width="1.3"/>
<circle cx="907.7" cy="446.8" r="4.9" fill="#fff" stroke="#000" stroke-width="1.3"/>
<circle cx="907.7" cy="474.8" r="4.9" fill="#fff" stroke="#000" stroke-width="1.3"/>
<circle cx="898" cy="492.3" r="4.9" fill="#fff" stroke="#000" stroke-width="1.3"/>
<circle cx="907.7" cy="493" r="4.9" fill="#fff" stroke="#000" stroke-width="1.3"/>
<circle cx="916.8" cy="490.7" r="4.9" fill="#fff" stroke="#000" stroke-width="1.3"/>
<circle cx="907.7" cy="505.9" r="4.9" fill="#fff" stroke="#000" stroke-width="1.3"/>
<circle cx="898" cy="528.6" r="4.9" fill="#fff" stroke="#000" stroke-width="1.3"/>
<circle cx="907.7" cy="532.3" r="4.9" fill="#fff" stroke="#000" stroke-width="1.3"/>
<circle cx="916.8" cy="528.2" r="4.9" fill="#fff" stroke="#000" stroke-width="1.3"/>
<circle cx="907.7" cy="548.6" r="4.9" fill="#fff" stroke="#000" stroke-width="1.3"/>
<circle cx="952.5" cy="388.4" r="4.9" fill="#fff" stroke="#000" stroke-width="1.3"/>
<circle cx="958.2" cy="390.7" r="4.9" fill="#fff" stroke="#000" stroke-width="1.3"/>
<circle cx="946.8" cy="399.8" r="4.9" fill="#fff" stroke="#000" stroke-width="1.3"/>
<circle cx="952.5" cy="413.4" r="4.9" fill="#fff" stroke="#000" stroke-width="1.3"/>
<circle cx="958.2" cy="421.8" r="4.9" fill="#fff" stroke="#000" stroke-width="1.3"/>
<circle cx="946.8" cy="431.6" r="4.9" fill="#fff" stroke="#000" stroke-width="1.3"/>
<circle cx="952.5" cy="456.6" r="4.9" fill="#fff" stroke="#000" stroke-width="1.3"/>
<circle cx="958.2" cy="488.4" r="4.9" fill="#fff" stroke="#000" stroke-width="1.3"/>
<circle cx="946.8" cy="494.1" r="4.9" fill="#fff" stroke="#000" stroke-width="1.3"/>
<circle cx="952.5" cy="518" r="4.9" fill="#fff" stroke="#000" stroke-width="1.3"/>
<circle cx="952.5" cy="536.1" r="4.9" fill="#fff" stroke="#000" stroke-width="1.3"/>
<circle cx="1001.4" cy="371.4" r="4.9" fill="#fff" stroke="#000" stroke-width="1.3"/>
<circle cx="991.1" cy="378.2" r="4.9" fill="#fff" stroke="#000" stroke-width="1.3"/>
<circle cx="1005.5" cy="379.3" r="4.9" fill="#fff" stroke="#000" stroke-width="1.3"/>
<circle cx="985.5" cy="383.9" r="4.9" fill="#fff" stroke="#000" stroke-width="1.3"/>
<circle cx="995.7" cy="383.9" r="4.9" fill="#fff" stroke="#000" stroke-width="1.3"/>
<circle cx="1001.4" cy="385.5" r="4.9" fill="#fff" stroke="#000" stroke-width="1.3"/>
<circle cx="990" cy="389.5" r="4.9" fill="#fff" stroke="#000" stroke-width="1.3"/>
<circle cx="985.5" cy="393" r="4.9" fill="#fff" stroke="#000" stroke-width="1.3"/>
<circle cx="996.8" cy="393" r="4.9" fill="#fff" stroke="#000" stroke-width="1.3"/>
<circle cx="1007" cy="393" r="4.9" fill="#fff" stroke="#000" stroke-width="1.3"/>
<circle cx="992.3" cy="402.7" r="4.9" fill="#fff" stroke="#000" stroke-width="1.3"/>
<circle cx="996.8" cy="416.8" r="4.9" fill="#fff" stroke="#000" stroke-width="1.3"/>
<circle cx="991.1" cy="429.3" r="4.9" fill="#fff" stroke="#000" stroke-width="1.3"/>
<circle cx="1001.4" cy="427.7" r="4.9" fill="#fff" stroke="#000" stroke-width="1.3"/>
<circle cx="991.1" cy="447.5" r="4.9" fill="#fff" stroke="#000" stroke-width="1.3"/>
<circle cx="1001.4" cy="447.5" r="4.9" fill="#fff" stroke="#000" stroke-width="1.3"/>
<circle cx="996.8" cy="470.2" r="4.9" fill="#fff" stroke="#000" stroke-width="1.3"/>
<circle cx="996.8" cy="496.8" r="4.9" fill="#fff" stroke="#000" stroke-width="1.3"/>
<circle cx="991.1" cy="507.7" r="4.9" fill="#fff" stroke="#000" stroke-width="1.3"/>
<circle cx="1001.4" cy="507.7" r="4.9" fill="#fff" stroke="#000" stroke-width="1.3"/>
<circle cx="996.8" cy="525.5" r="4.9" fill="#fff" stroke="#000" stroke-width="1.3"/>
<circle cx="991.1" cy="545.2" r="4.9" fill="#fff" stroke="#000" stroke-width="1.3"/>
<circle cx="1001.4" cy="544.1" r="4.9" fill="#fff" stroke="#000" stroke-width="1.3"/>
<polyline points="866.8,474.1 866.8,338 950.2,338 950.2,361.1" fill="none" stroke="#000" stroke-width="1.3"/>
<text x="909.7" y="344.4" font-size="30" text-anchor="middle" font-weight="normal" font-family='"Liberation Sans", Arial, sans-serif' letter-spacing="2.1">*</text>
<polyline points="866.8,474.1 866.8,320.2 991.4,320.2 991.4,360" fill="none" stroke="#000" stroke-width="1.3"/>
<text x="930.1" y="321.6" font-size="30" text-anchor="middle" font-weight="normal" font-family='"Liberation Sans", Arial, sans-serif' letter-spacing="2.1">**</text>
<text x="719.5" y="427.5" font-size="27" text-anchor="middle" font-weight="normal" font-family='"Liberation Sans", Arial, sans-serif' transform="rotate(-90 719.5 427.5)">Anti-spike</text>
<text x="751.4" y="426.4" font-size="27" text-anchor="middle" font-weight="normal" font-family='"Liberation Sans", Arial, sans-serif' transform="rotate(-90 751.4 426.4)">IgA OD ELISA</text>
<line x1="1194.5" y1="305.5" x2="1194.5" y2="545.9" stroke="#000" stroke-width="1.3"/>
<line x1="1183.6" y1="545.9" x2="1369.5" y2="545.9" stroke="#000" stroke-width="1.3"/>
<line x1="1183.1" y1="306.1" x2="1194.5" y2="306.1" stroke="#000" stroke-width="1.3"/>
<text x="1173" y="315" font-size="26.7" text-anchor="end" font-family='"Liberation Sans", Arial, sans-serif'>10<tspan font-size="18.6" dy="-12.6">2</tspan></text>
<line x1="1183.1" y1="386.1" x2="1194.5" y2="386.1" stroke="#000" stroke-width="1.3"/>
<text x="1173" y="395" font-size="26.7" text-anchor="end" font-family='"Liberation Sans", Arial, sans-serif'>10<tspan font-size="18.6" dy="-12.6">1</tspan></text>
<line x1="1183.1" y1="466.1" x2="1194.5" y2="466.1" stroke="#000" stroke-width="1.3"/>
<text x="1173" y="475" font-size="26.7" text-anchor="end" font-family='"Liberation Sans", Arial, sans-serif'>10<tspan font-size="18.6" dy="-12.6">0</tspan></text>
<line x1="1183.1" y1="545.9" x2="1194.5" y2="545.9" stroke="#000" stroke-width="1.3"/>
<text x="1173" y="554.8" font-size="26.7" text-anchor="end" font-family='"Liberation Sans", Arial, sans-serif'>10<tspan font-size="18.6" dy="-12.6">−1</tspan></text>
<line x1="1189.1" y1="362.1" x2="1194.5" y2="362.1" stroke="#000" stroke-width="1.2"/>
<line x1="1189.1" y1="348" x2="1194.5" y2="348" stroke="#000" stroke-width="1.2"/>
<line x1="1189.1" y1="338" x2="1194.5" y2="338" stroke="#000" stroke-width="1.2"/>
<line x1="1189.1" y1="330.2" x2="1194.5" y2="330.2" stroke="#000" stroke-width="1.2"/>
<line x1="1189.1" y1="323.9" x2="1194.5" y2="323.9" stroke="#000" stroke-width="1.2"/>
<line x1="1189.1" y1="318.5" x2="1194.5" y2="318.5" stroke="#000" stroke-width="1.2"/>
<line x1="1189.1" y1="313.9" x2="1194.5" y2="313.9" stroke="#000" stroke-width="1.2"/>
<line x1="1189.1" y1="309.8" x2="1194.5" y2="309.8" stroke="#000" stroke-width="1.2"/>
<line x1="1189.1" y1="442.1" x2="1194.5" y2="442.1" stroke="#000" stroke-width="1.2"/>
<line x1="1189.1" y1="428" x2="1194.5" y2="428" stroke="#000" stroke-width="1.2"/>
<line x1="1189.1" y1="418" x2="1194.5" y2="418" stroke="#000" stroke-width="1.2"/>
<line x1="1189.1" y1="410.2" x2="1194.5" y2="410.2" stroke="#000" stroke-width="1.2"/>
<line x1="1189.1" y1="403.9" x2="1194.5" y2="403.9" stroke="#000" stroke-width="1.2"/>
<line x1="1189.1" y1="398.5" x2="1194.5" y2="398.5" stroke="#000" stroke-width="1.2"/>
<line x1="1189.1" y1="393.9" x2="1194.5" y2="393.9" stroke="#000" stroke-width="1.2"/>
<line x1="1189.1" y1="389.8" x2="1194.5" y2="389.8" stroke="#000" stroke-width="1.2"/>
<line x1="1189.1" y1="521.9" x2="1194.5" y2="521.9" stroke="#000" stroke-width="1.2"/>
<line x1="1189.1" y1="507.8" x2="1194.5" y2="507.8" stroke="#000" stroke-width="1.2"/>
<line x1="1189.1" y1="497.9" x2="1194.5" y2="497.9" stroke="#000" stroke-width="1.2"/>
<line x1="1189.1" y1="490.2" x2="1194.5" y2="490.2" stroke="#000" stroke-width="1.2"/>
<line x1="1189.1" y1="483.8" x2="1194.5" y2="483.8" stroke="#000" stroke-width="1.2"/>
<line x1="1189.1" y1="478.5" x2="1194.5" y2="478.5" stroke="#000" stroke-width="1.2"/>
<line x1="1189.1" y1="473.9" x2="1194.5" y2="473.9" stroke="#000" stroke-width="1.2"/>
<line x1="1189.1" y1="469.8" x2="1194.5" y2="469.8" stroke="#000" stroke-width="1.2"/>
<line x1="1216.1" y1="545.9" x2="1216.1" y2="556.9" stroke="#000" stroke-width="1.3"/>
<line x1="1260" y1="545.9" x2="1260" y2="556.9" stroke="#000" stroke-width="1.3"/>
<line x1="1303.6" y1="545.9" x2="1303.6" y2="556.9" stroke="#000" stroke-width="1.3"/>
<line x1="1347.5" y1="545.9" x2="1347.5" y2="556.9" stroke="#000" stroke-width="1.3"/>
<line x1="1216.1" y1="481.6" x2="1216.1" y2="491.8" stroke="#000" stroke-width="1.3"/>
<line x1="1216.1" y1="502.7" x2="1216.1" y2="507.7" stroke="#000" stroke-width="1.3"/>
<rect x="1201.8" y="491.8" width="28.6" height="10.9" fill="#000000" stroke="#000" stroke-width="1.3"/>
<line x1="1201.8" y1="496.4" x2="1230.5" y2="496.4" stroke="#000" stroke-width="1.3"/>
<line x1="1260" y1="430.9" x2="1260" y2="454.3" stroke="#000" stroke-width="1.3"/>
<line x1="1253.6" y1="430.9" x2="1266.4" y2="430.9" stroke="#000" stroke-width="1.3"/>
<line x1="1260" y1="496.8" x2="1260" y2="506.6" stroke="#000" stroke-width="1.3"/>
<rect x="1245.7" y="454.3" width="28.6" height="42.5" fill="#3f5bff" stroke="#000" stroke-width="1.3"/>
<line x1="1245.7" y1="478.2" x2="1274.3" y2="478.2" stroke="#000" stroke-width="1.3"/>
<line x1="1303.6" y1="429.3" x2="1303.6" y2="436.8" stroke="#000" stroke-width="1.3"/>
<line x1="1297.2" y1="429.3" x2="1310.1" y2="429.3" stroke="#000" stroke-width="1.3"/>
<line x1="1303.6" y1="488" x2="1303.6" y2="500.5" stroke="#000" stroke-width="1.3"/>
<rect x="1289.3" y="436.8" width="28.6" height="51.1" fill="#9533ff" stroke="#000" stroke-width="1.3"/>
<line x1="1289.3" y1="450.5" x2="1318" y2="450.5" stroke="#000" stroke-width="1.3"/>
<line x1="1347.5" y1="414.5" x2="1347.5" y2="440.7" stroke="#000" stroke-width="1.3"/>
<line x1="1347.5" y1="479.3" x2="1347.5" y2="503.2" stroke="#000" stroke-width="1.3"/>
<line x1="1341.1" y1="503.2" x2="1353.9" y2="503.2" stroke="#000" stroke-width="1.3"/>
<rect x="1333.2" y="440.7" width="28.6" height="38.6" fill="#ff2a00" stroke="#000" stroke-width="1.3"/>
<line x1="1333.2" y1="448.6" x2="1361.8" y2="448.6" stroke="#000" stroke-width="1.3"/>
<circle cx="1216.1" cy="482.3" r="4.9" fill="#fff" stroke="#000" stroke-width="1.3"/>
<circle cx="1207" cy="490" r="4.9" fill="#fff" stroke="#000" stroke-width="1.3"/>
<circle cx="1225.2" cy="490" r="4.9" fill="#fff" stroke="#000" stroke-width="1.3"/>
<circle cx="1212" cy="495.9" r="4.9" fill="#fff" stroke="#000" stroke-width="1.3"/>
<circle cx="1221.8" cy="499.1" r="4.9" fill="#fff" stroke="#000" stroke-width="1.3"/>
<circle cx="1203.6" cy="497.5" r="4.9" fill="#fff" stroke="#000" stroke-width="1.3"/>
<circle cx="1217.3" cy="500.9" r="4.9" fill="#fff" stroke="#000" stroke-width="1.3"/>
<circle cx="1213.9" cy="507.7" r="4.9" fill="#fff" stroke="#000" stroke-width="1.3"/>
<circle cx="1209.3" cy="503.2" r="4.9" fill="#fff" stroke="#000" stroke-width="1.3"/>
<circle cx="1221.8" cy="504.3" r="4.9" fill="#fff" stroke="#000" stroke-width="1.3"/>
<circle cx="1260" cy="430.9" r="4.9" fill="#fff" stroke="#000" stroke-width="1.3"/>
<circle cx="1251.4" cy="452.7" r="4.9" fill="#fff" stroke="#000" stroke-width="1.3"/>
<circle cx="1260" cy="455.9" r="4.9" fill="#fff" stroke="#000" stroke-width="1.3"/>
<circle cx="1270" cy="452.7" r="4.9" fill="#fff" stroke="#000" stroke-width="1.3"/>
<circle cx="1249.1" cy="474.8" r="4.9" fill="#fff" stroke="#000" stroke-width="1.3"/>
<circle cx="1270.7" cy="470.9" r="4.9" fill="#fff" stroke="#000" stroke-width="1.3"/>
<circle cx="1257" cy="480.5" r="4.9" fill="#fff" stroke="#000" stroke-width="1.3"/>
<circle cx="1263.9" cy="478.6" r="4.9" fill="#fff" stroke="#000" stroke-width="1.3"/>
<circle cx="1260" cy="492.3" r="4.9" fill="#fff" stroke="#000" stroke-width="1.3"/>
<circle cx="1270.7" cy="495.9" r="4.9" fill="#fff" stroke="#000" stroke-width="1.3"/>
<circle cx="1249.1" cy="499.8" r="4.9" fill="#fff" stroke="#000" stroke-width="1.3"/>
<circle cx="1257" cy="505.5" r="4.9" fill="#fff" stroke="#000" stroke-width="1.3"/>
<circle cx="1263.9" cy="505.5" r="4.9" fill="#fff" stroke="#000" stroke-width="1.3"/>
<circle cx="1294.5" cy="429.3" r="4.9" fill="#fff" stroke="#000" stroke-width="1.3"/>
<circle cx="1312.7" cy="430.9" r="4.9" fill="#fff" stroke="#000" stroke-width="1.3"/>
<circle cx="1303.6" cy="437.3" r="4.9" fill="#fff" stroke="#000" stroke-width="1.3"/>
<circle cx="1312.7" cy="441.4" r="4.9" fill="#fff" stroke="#000" stroke-width="1.3"/>
<circle cx="1294.5" cy="447.5" r="4.9" fill="#fff" stroke="#000" stroke-width="1.3"/>
<circle cx="1303.6" cy="450.5" r="4.9" fill="#fff" stroke="#000" stroke-width="1.3"/>
<circle cx="1303.6" cy="466.8" r="4.9" fill="#fff" stroke="#000" stroke-width="1.3"/>
<circle cx="1298.4" cy="477.7" r="4.9" fill="#fff" stroke="#000" stroke-width="1.3"/>
<circle cx="1314.3" cy="488" r="4.9" fill="#fff" stroke="#000" stroke-width="1.3"/>
<circle cx="1309.3" cy="495.9" r="4.9" fill="#fff" stroke="#000" stroke-width="1.3"/>
<circle cx="1298.4" cy="500.5" r="4.9" fill="#fff" stroke="#000" stroke-width="1.3"/>
<circle cx="1342.3" cy="414.5" r="4.9" fill="#fff" stroke="#000" stroke-width="1.3"/>
<circle cx="1352.5" cy="418" r="4.9" fill="#fff" stroke="#000" stroke-width="1.3"/>
<circle cx="1337.7" cy="424.8" r="4.9" fill="#fff" stroke="#000" stroke-width="1.3"/>
<circle cx="1346.8" cy="430.5" r="4.9" fill="#fff" stroke="#000" stroke-width="1.3"/>
<circle cx="1356.4" cy="430" r="4.9" fill="#fff" stroke="#000" stroke-width="1.3"/>
<circle cx="1337.7" cy="441.8" r="4.9" fill="#fff" stroke="#000" stroke-width="1.3"/>
<circle cx="1350.2" cy="443.6" r="4.9" fill="#fff" stroke="#000" stroke-width="1.3"/>
<circle cx="1356.4" cy="441.8" r="4.9" fill="#fff" stroke="#000" stroke-width="1.3"/>
<circle cx="1346.8" cy="450.5" r="4.9" fill="#fff" stroke="#000" stroke-width="1.3"/>
<circle cx="1337.7" cy="460.5" r="4.9" fill="#fff" stroke="#000" stroke-width="1.3"/>
<circle cx="1350.2" cy="460" r="4.9" fill="#fff" stroke="#000" stroke-width="1.3"/>
<circle cx="1358.2" cy="457.7" r="4.9" fill="#fff" stroke="#000" stroke-width="1.3"/>
<circle cx="1343.4" cy="466.8" r="4.9" fill="#fff" stroke="#000" stroke-width="1.3"/>
<circle cx="1354.8" cy="465.7" r="4.9" fill="#fff" stroke="#000" stroke-width="1.3"/>
<circle cx="1336.6" cy="475.9" r="4.9" fill="#fff" stroke="#000" stroke-width="1.3"/>
<circle cx="1358.2" cy="480.5" r="4.9" fill="#fff" stroke="#000" stroke-width="1.3"/>
<circle cx="1344.5" cy="485" r="4.9" fill="#fff" stroke="#000" stroke-width="1.3"/>
<circle cx="1351.4" cy="486.8" r="4.9" fill="#fff" stroke="#000" stroke-width="1.3"/>
<circle cx="1337.7" cy="495.9" r="4.9" fill="#fff" stroke="#000" stroke-width="1.3"/>
<circle cx="1346.8" cy="502" r="4.9" fill="#fff" stroke="#000" stroke-width="1.3"/>
<circle cx="1356.4" cy="502" r="4.9" fill="#fff" stroke="#000" stroke-width="1.3"/>
<polyline points="1219.5,472.5 1219.5,358.9 1342.3,358.9 1342.3,397.5" fill="none" stroke="#000" stroke-width="1.3"/>
<text x="1281.5" y="360.3" font-size="30" text-anchor="middle" font-weight="normal" font-family='"Liberation Sans", Arial, sans-serif' letter-spacing="2.1">**</text>
<polyline points="1219.5,472.5 1219.5,375.9 1301.4,375.9 1301.4,411.1" fill="none" stroke="#000" stroke-width="1.3"/>
<text x="1261" y="381.9" font-size="30" text-anchor="middle" font-weight="normal" font-family='"Liberation Sans", Arial, sans-serif' letter-spacing="2.1">*</text>
<text x="1074.1" y="426.4" font-size="27" text-anchor="middle" font-weight="normal" font-family='"Liberation Sans", Arial, sans-serif' transform="rotate(-90 1074.1 426.4)">Anti-spike</text>
<text x="1107" y="425.7" font-size="27" text-anchor="middle" font-weight="normal" font-family='"Liberation Sans", Arial, sans-serif' transform="rotate(-90 1107 425.7)">IgA AUC ELISA</text>
<line x1="142" y1="642.6" x2="142" y2="901.1" stroke="#000" stroke-width="1.3"/>
<line x1="130.7" y1="901.1" x2="329.5" y2="901.1" stroke="#000" stroke-width="1.3"/>
<line x1="130.6" y1="643.2" x2="142" y2="643.2" stroke="#000" stroke-width="1.3"/>
<text x="120.5" y="652.1" font-size="26.7" text-anchor="end" font-family='"Liberation Sans", Arial, sans-serif'>10<tspan font-size="18.6" dy="-12.6">3</tspan></text>
<line x1="130.6" y1="729.1" x2="142" y2="729.1" stroke="#000" stroke-width="1.3"/>
<text x="120.5" y="738" font-size="26.7" text-anchor="end" font-family='"Liberation Sans", Arial, sans-serif'>10<tspan font-size="18.6" dy="-12.6">2</tspan></text>
<line x1="130.6" y1="815" x2="142" y2="815" stroke="#000" stroke-width="1.3"/>
<text x="120.5" y="823.9" font-size="26.7" text-anchor="end" font-family='"Liberation Sans", Arial, sans-serif'>10<tspan font-size="18.6" dy="-12.6">1</tspan></text>
<line x1="130.6" y1="901.1" x2="142" y2="901.1" stroke="#000" stroke-width="1.3"/>
<text x="120.5" y="910" font-size="26.7" text-anchor="end" font-family='"Liberation Sans", Arial, sans-serif'>10<tspan font-size="18.6" dy="-12.6">0</tspan></text>
<line x1="136.6" y1="703.2" x2="142" y2="703.2" stroke="#000" stroke-width="1.2"/>
<line x1="136.6" y1="688.1" x2="142" y2="688.1" stroke="#000" stroke-width="1.2"/>
<line x1="136.6" y1="677.4" x2="142" y2="677.4" stroke="#000" stroke-width="1.2"/>
<line x1="136.6" y1="669" x2="142" y2="669" stroke="#000" stroke-width="1.2"/>
<line x1="136.6" y1="662.2" x2="142" y2="662.2" stroke="#000" stroke-width="1.2"/>
<line x1="136.6" y1="656.5" x2="142" y2="656.5" stroke="#000" stroke-width="1.2"/>
<line x1="136.6" y1="651.5" x2="142" y2="651.5" stroke="#000" stroke-width="1.2"/>
<line x1="136.6" y1="647.1" x2="142" y2="647.1" stroke="#000" stroke-width="1.2"/>
<line x1="136.6" y1="789.1" x2="142" y2="789.1" stroke="#000" stroke-width="1.2"/>
<line x1="136.6" y1="774" x2="142" y2="774" stroke="#000" stroke-width="1.2"/>
<line x1="136.6" y1="763.3" x2="142" y2="763.3" stroke="#000" stroke-width="1.2"/>
<line x1="136.6" y1="755" x2="142" y2="755" stroke="#000" stroke-width="1.2"/>
<line x1="136.6" y1="748.1" x2="142" y2="748.1" stroke="#000" stroke-width="1.2"/>
<line x1="136.6" y1="742.4" x2="142" y2="742.4" stroke="#000" stroke-width="1.2"/>
<line x1="136.6" y1="737.4" x2="142" y2="737.4" stroke="#000" stroke-width="1.2"/>
<line x1="136.6" y1="733" x2="142" y2="733" stroke="#000" stroke-width="1.2"/>
<line x1="136.6" y1="875.2" x2="142" y2="875.2" stroke="#000" stroke-width="1.2"/>
<line x1="136.6" y1="860" x2="142" y2="860" stroke="#000" stroke-width="1.2"/>
<line x1="136.6" y1="849.3" x2="142" y2="849.3" stroke="#000" stroke-width="1.2"/>
<line x1="136.6" y1="840.9" x2="142" y2="840.9" stroke="#000" stroke-width="1.2"/>
<line x1="136.6" y1="834.1" x2="142" y2="834.1" stroke="#000" stroke-width="1.2"/>
<line x1="136.6" y1="828.3" x2="142" y2="828.3" stroke="#000" stroke-width="1.2"/>
<line x1="136.6" y1="823.3" x2="142" y2="823.3" stroke="#000" stroke-width="1.2"/>
<line x1="136.6" y1="818.9" x2="142" y2="818.9" stroke="#000" stroke-width="1.2"/>
<line x1="165.2" y1="901.1" x2="165.2" y2="912.1" stroke="#000" stroke-width="1.3"/>
<line x1="211.8" y1="901.1" x2="211.8" y2="912.1" stroke="#000" stroke-width="1.3"/>
<line x1="258.6" y1="901.1" x2="258.6" y2="912.1" stroke="#000" stroke-width="1.3"/>
<line x1="305.7" y1="901.1" x2="305.7" y2="912.1" stroke="#000" stroke-width="1.3"/>
<line x1="165.2" y1="803.6" x2="165.2" y2="828" stroke="#000" stroke-width="1.3"/>
<line x1="158.1" y1="803.6" x2="172.3" y2="803.6" stroke="#000" stroke-width="1.3"/>
<line x1="165.2" y1="864.8" x2="165.2" y2="899.5" stroke="#000" stroke-width="1.3"/>
<line x1="158.1" y1="899.5" x2="172.3" y2="899.5" stroke="#000" stroke-width="1.3"/>
<rect x="149.4" y="828" width="31.6" height="36.8" fill="#000000" stroke="#000" stroke-width="1.3"/>
<line x1="149.4" y1="847.3" x2="181" y2="847.3" stroke="#000" stroke-width="1.3"/>
<line x1="211.8" y1="731.4" x2="211.8" y2="737" stroke="#000" stroke-width="1.3"/>
<line x1="211.8" y1="759.1" x2="211.8" y2="901.1" stroke="#000" stroke-width="1.3"/>
<rect x="196.1" y="737" width="31.4" height="22" fill="#3f5bff" stroke="#000" stroke-width="1.3"/>
<line x1="196.1" y1="749.5" x2="227.5" y2="749.5" stroke="#000" stroke-width="1.3"/>
<line x1="258.6" y1="731.4" x2="258.6" y2="733.6" stroke="#000" stroke-width="1.3"/>
<line x1="258.6" y1="741.6" x2="258.6" y2="895.5" stroke="#000" stroke-width="1.3"/>
<line x1="251.6" y1="895.5" x2="265.7" y2="895.5" stroke="#000" stroke-width="1.3"/>
<rect x="243" y="733.6" width="31.4" height="8" fill="#9932cc" stroke="#000" stroke-width="1.3"/>
<line x1="243" y1="737" x2="274.3" y2="737" stroke="#000" stroke-width="1.3"/>
<line x1="305.7" y1="731.4" x2="305.7" y2="734.8" stroke="#000" stroke-width="1.3"/>
<line x1="305.7" y1="750" x2="305.7" y2="851.8" stroke="#000" stroke-width="1.3"/>
<rect x="290" y="734.8" width="31.4" height="15.2" fill="#ff2a00" stroke="#000" stroke-width="1.3"/>
<line x1="290" y1="739.3" x2="321.4" y2="739.3" stroke="#000" stroke-width="1.3"/>
<line x1="144.5" y1="775" x2="322.3" y2="775" stroke="#000" stroke-width="2.6" stroke-linecap="round" stroke-dasharray="0.01,5.13"/>
<circle cx="159.1" cy="804.1" r="4.9" fill="#fff" stroke="#000" stroke-width="1.3"/>
<circle cx="171.6" cy="813.6" r="4.9" fill="#fff" stroke="#000" stroke-width="1.3"/>
<circle cx="153.4" cy="830.2" r="4.9" fill="#fff" stroke="#000" stroke-width="1.3"/>
<circle cx="170.9" cy="827.3" r="4.9" fill="#fff" stroke="#000" stroke-width="1.3"/>
<circle cx="160.2" cy="838.6" r="4.9" fill="#fff" stroke="#000" stroke-width="1.3"/>
<circle cx="170.9" cy="846.8" r="4.9" fill="#fff" stroke="#000" stroke-width="1.3"/>
<circle cx="155.2" cy="851.8" r="4.9" fill="#fff" stroke="#000" stroke-width="1.3"/>
<circle cx="175" cy="855.2" r="4.9" fill="#fff" stroke="#000" stroke-width="1.3"/>
<circle cx="165.9" cy="859.8" r="4.9" fill="#fff" stroke="#000" stroke-width="1.3"/>
<circle cx="159.1" cy="866.6" r="4.9" fill="#fff" stroke="#000" stroke-width="1.3"/>
<circle cx="170.9" cy="874.5" r="4.9" fill="#fff" stroke="#000" stroke-width="1.3"/>
<circle cx="165.2" cy="899.5" r="4.9" fill="#fff" stroke="#000" stroke-width="1.3"/>
<circle cx="200.5" cy="731.4" r="4.9" fill="#fff" stroke="#000" stroke-width="1.3"/>
<circle cx="208.6" cy="731.8" r="4.9" fill="#fff" stroke="#000" stroke-width="1.3"/>
<circle cx="216.4" cy="731.8" r="4.9" fill="#fff" stroke="#000" stroke-width="1.3"/>
<circle cx="223.9" cy="731.8" r="4.9" fill="#fff" stroke="#000" stroke-width="1.3"/>
<circle cx="203.4" cy="738.2" r="4.9" fill="#fff" stroke="#000" stroke-width="1.3"/>
<circle cx="211.8" cy="739.3" r="4.9" fill="#fff" stroke="#000" stroke-width="1.3"/>
<circle cx="217.7" cy="737.7" r="4.9" fill="#fff" stroke="#000" stroke-width="1.3"/>
<circle cx="206.8" cy="745.5" r="4.9" fill="#fff" stroke="#000" stroke-width="1.3"/>
<circle cx="210.2" cy="746.1" r="4.9" fill="#fff" stroke="#000" stroke-width="1.3"/>
<circle cx="204.5" cy="748.4" r="4.9" fill="#fff" stroke="#000" stroke-width="1.3"/>
<circle cx="217.7" cy="759.1" r="4.9" fill="#fff" stroke="#000" stroke-width="1.3"/>
<circle cx="211.8" cy="842.3" r="4.9" fill="#fff" stroke="#000" stroke-width="1.3"/>
<circle cx="211.8" cy="874.5" r="4.9" fill="#fff" stroke="#000" stroke-width="1.3"/>
<circle cx="211.8" cy="901.1" r="4.9" fill="#fff" stroke="#000" stroke-width="1.3"/>
<circle cx="248.2" cy="731.4" r="4.9" fill="#fff" stroke="#000" stroke-width="1.3"/>
<circle cx="254.5" cy="731.4" r="4.9" fill="#fff" stroke="#000" stroke-width="1.3"/>
<circle cx="263.6" cy="731.4" r="4.9" fill="#fff" stroke="#000" stroke-width="1.3"/>
<circle cx="269.3" cy="731.4" r="4.9" fill="#fff" stroke="#000" stroke-width="1.3"/>
<circle cx="252.3" cy="732.5" r="4.9" fill="#fff" stroke="#000" stroke-width="1.3"/>
<circle cx="267" cy="732.5" r="4.9" fill="#fff" stroke="#000" stroke-width="1.3"/>
<circle cx="258.6" cy="741.6" r="4.9" fill="#fff" stroke="#000" stroke-width="1.3"/>
<circle cx="258.6" cy="767.3" r="4.9" fill="#fff" stroke="#000" stroke-width="1.3"/>
<circle cx="258.6" cy="895.5" r="4.9" fill="#fff" stroke="#000" stroke-width="1.3"/>
<circle cx="295.5" cy="731.4" r="4.9" fill="#fff" stroke="#000" stroke-width="1.3"/>
<circle cx="300" cy="730.7" r="4.9" fill="#fff" stroke="#000" stroke-width="1.3"/>
<circle cx="310.2" cy="731.4" r="4.9" fill="#fff" stroke="#000" stroke-width="1.3"/>
<circle cx="315.9" cy="731.4" r="4.9" fill="#fff" stroke="#000" stroke-width="1.3"/>
<circle cx="295.5" cy="735.9" r="4.9" fill="#fff" stroke="#000" stroke-width="1.3"/>
<circle cx="313.2" cy="735.9" r="4.9" fill="#fff" stroke="#000" stroke-width="1.3"/>
<circle cx="303.4" cy="740.5" r="4.9" fill="#fff" stroke="#000" stroke-width="1.3"/>
<circle cx="295.5" cy="754.1" r="4.9" fill="#fff" stroke="#000" stroke-width="1.3"/>
<circle cx="305.7" cy="760.5" r="4.9" fill="#fff" stroke="#000" stroke-width="1.3"/>
<circle cx="315.5" cy="750" r="4.9" fill="#fff" stroke="#000" stroke-width="1.3"/>
<circle cx="295.5" cy="846.6" r="4.9" fill="#fff" stroke="#000" stroke-width="1.3"/>
<circle cx="305.7" cy="851.8" r="4.9" fill="#fff" stroke="#000" stroke-width="1.3"/>
<circle cx="315.5" cy="852.3" r="4.9" fill="#fff" stroke="#000" stroke-width="1.3"/>
<polyline points="165.9,792.7 165.9,688.6 258.6,688.6 258.6,713.2" fill="none" stroke="#000" stroke-width="1.3"/>
<text x="213.1" y="693" font-size="30" text-anchor="middle" font-weight="normal" font-family='"Liberation Sans", Arial, sans-serif' letter-spacing="2.1">*</text>
<polyline points="165.2,792.7 165.2,670 305.7,670 305.7,712" fill="none" stroke="#000" stroke-width="1.3"/>
<text x="236.3" y="671.4" font-size="30" text-anchor="middle" font-weight="normal" font-family='"Liberation Sans", Arial, sans-serif' letter-spacing="2.1">**</text>
<text x="23.9" y="772.5" font-size="27" text-anchor="middle" font-weight="normal" font-family='"Liberation Sans", Arial, sans-serif' transform="rotate(-90 23.9 772.5)">S-Flow</text>
<text x="56.8" y="772.3" font-size="27" text-anchor="middle" font-weight="normal" font-family='"Liberation Sans", Arial, sans-serif' transform="rotate(-90 56.8 772.3)">IgG binding (%)</text>
<text x="1.1" y="623" font-size="29" text-anchor="start" font-weight="bold" font-family='"Liberation Sans", Arial, sans-serif'>c</text>
<line x1="485.5" y1="639.9" x2="485.5" y2="895" stroke="#000" stroke-width="1.3"/>
<line x1="474.1" y1="895" x2="670.7" y2="895" stroke="#000" stroke-width="1.3"/>
<line x1="474.1" y1="640.5" x2="485.5" y2="640.5" stroke="#000" stroke-width="1.3"/>
<text x="464" y="649.4" font-size="26.7" text-anchor="end" font-family='"Liberation Sans", Arial, sans-serif'>10<tspan font-size="18.6" dy="-12.6">6</tspan></text>
<line x1="474.1" y1="725.2" x2="485.5" y2="725.2" stroke="#000" stroke-width="1.3"/>
<text x="464" y="734.1" font-size="26.7" text-anchor="end" font-family='"Liberation Sans", Arial, sans-serif'>10<tspan font-size="18.6" dy="-12.6">5</tspan></text>
<line x1="474.1" y1="810.2" x2="485.5" y2="810.2" stroke="#000" stroke-width="1.3"/>
<text x="464" y="819.1" font-size="26.7" text-anchor="end" font-family='"Liberation Sans", Arial, sans-serif'>10<tspan font-size="18.6" dy="-12.6">4</tspan></text>
<line x1="474.1" y1="895" x2="485.5" y2="895" stroke="#000" stroke-width="1.3"/>
<text x="464" y="903.9" font-size="26.7" text-anchor="end" font-family='"Liberation Sans", Arial, sans-serif'>10<tspan font-size="18.6" dy="-12.6">3</tspan></text>
<line x1="480.1" y1="699.7" x2="485.5" y2="699.7" stroke="#000" stroke-width="1.2"/>
<line x1="480.1" y1="684.8" x2="485.5" y2="684.8" stroke="#000" stroke-width="1.2"/>
<line x1="480.1" y1="674.2" x2="485.5" y2="674.2" stroke="#000" stroke-width="1.2"/>
<line x1="480.1" y1="666" x2="485.5" y2="666" stroke="#000" stroke-width="1.2"/>
<line x1="480.1" y1="659.3" x2="485.5" y2="659.3" stroke="#000" stroke-width="1.2"/>
<line x1="480.1" y1="653.6" x2="485.5" y2="653.6" stroke="#000" stroke-width="1.2"/>
<line x1="480.1" y1="648.7" x2="485.5" y2="648.7" stroke="#000" stroke-width="1.2"/>
<line x1="480.1" y1="644.3" x2="485.5" y2="644.3" stroke="#000" stroke-width="1.2"/>
<line x1="480.1" y1="784.6" x2="485.5" y2="784.6" stroke="#000" stroke-width="1.2"/>
<line x1="480.1" y1="769.7" x2="485.5" y2="769.7" stroke="#000" stroke-width="1.2"/>
<line x1="480.1" y1="759.1" x2="485.5" y2="759.1" stroke="#000" stroke-width="1.2"/>
<line x1="480.1" y1="750.8" x2="485.5" y2="750.8" stroke="#000" stroke-width="1.2"/>
<line x1="480.1" y1="744.1" x2="485.5" y2="744.1" stroke="#000" stroke-width="1.2"/>
<line x1="480.1" y1="738.4" x2="485.5" y2="738.4" stroke="#000" stroke-width="1.2"/>
<line x1="480.1" y1="733.5" x2="485.5" y2="733.5" stroke="#000" stroke-width="1.2"/>
<line x1="480.1" y1="729.1" x2="485.5" y2="729.1" stroke="#000" stroke-width="1.2"/>
<line x1="480.1" y1="869.5" x2="485.5" y2="869.5" stroke="#000" stroke-width="1.2"/>
<line x1="480.1" y1="854.6" x2="485.5" y2="854.6" stroke="#000" stroke-width="1.2"/>
<line x1="480.1" y1="844" x2="485.5" y2="844" stroke="#000" stroke-width="1.2"/>
<line x1="480.1" y1="835.7" x2="485.5" y2="835.7" stroke="#000" stroke-width="1.2"/>
<line x1="480.1" y1="829" x2="485.5" y2="829" stroke="#000" stroke-width="1.2"/>
<line x1="480.1" y1="823.4" x2="485.5" y2="823.4" stroke="#000" stroke-width="1.2"/>
<line x1="480.1" y1="818.4" x2="485.5" y2="818.4" stroke="#000" stroke-width="1.2"/>
<line x1="480.1" y1="814.1" x2="485.5" y2="814.1" stroke="#000" stroke-width="1.2"/>
<line x1="508.6" y1="895" x2="508.6" y2="906" stroke="#000" stroke-width="1.3"/>
<line x1="554.8" y1="895" x2="554.8" y2="906" stroke="#000" stroke-width="1.3"/>
<line x1="601.4" y1="895" x2="601.4" y2="906" stroke="#000" stroke-width="1.3"/>
<line x1="648" y1="895" x2="648" y2="906" stroke="#000" stroke-width="1.3"/>
<line x1="508.6" y1="796.1" x2="508.6" y2="821.8" stroke="#000" stroke-width="1.3"/>
<line x1="501.6" y1="796.1" x2="515.7" y2="796.1" stroke="#000" stroke-width="1.3"/>
<line x1="508.6" y1="860.5" x2="508.6" y2="866.6" stroke="#000" stroke-width="1.3"/>
<rect x="493" y="821.8" width="31.4" height="38.6" fill="#000000" stroke="#000" stroke-width="1.3"/>
<line x1="493" y1="840.5" x2="524.3" y2="840.5" stroke="#000" stroke-width="1.3"/>
<line x1="554.8" y1="734.8" x2="554.8" y2="795" stroke="#000" stroke-width="1.3"/>
<line x1="547.8" y1="734.8" x2="561.8" y2="734.8" stroke="#000" stroke-width="1.3"/>
<line x1="554.8" y1="851.8" x2="554.8" y2="864.8" stroke="#000" stroke-width="1.3"/>
<line x1="547.8" y1="864.8" x2="561.8" y2="864.8" stroke="#000" stroke-width="1.3"/>
<rect x="539.2" y="795" width="31.1" height="56.8" fill="#3f5bff" stroke="#000" stroke-width="1.3"/>
<line x1="539.2" y1="833.2" x2="570.3" y2="833.2" stroke="#000" stroke-width="1.3"/>
<line x1="601.4" y1="743.9" x2="601.4" y2="749.1" stroke="#000" stroke-width="1.3"/>
<line x1="601.4" y1="845" x2="601.4" y2="874.5" stroke="#000" stroke-width="1.3"/>
<line x1="594.4" y1="874.5" x2="608.4" y2="874.5" stroke="#000" stroke-width="1.3"/>
<rect x="585.8" y="749.1" width="31.1" height="95.9" fill="#9932cc" stroke="#000" stroke-width="1.3"/>
<line x1="585.8" y1="775.2" x2="616.9" y2="775.2" stroke="#000" stroke-width="1.3"/>
<line x1="648" y1="709.3" x2="648" y2="731.4" stroke="#000" stroke-width="1.3"/>
<line x1="640.9" y1="709.3" x2="655" y2="709.3" stroke="#000" stroke-width="1.3"/>
<line x1="648" y1="854.5" x2="648" y2="860.9" stroke="#000" stroke-width="1.3"/>
<rect x="632.4" y="731.4" width="31.1" height="123.2" fill="#ff2a00" stroke="#000" stroke-width="1.3"/>
<line x1="632.4" y1="790.5" x2="663.5" y2="790.5" stroke="#000" stroke-width="1.3"/>
<circle cx="508.6" cy="796.1" r="4.9" fill="#fff" stroke="#000" stroke-width="1.3"/>
<circle cx="498.6" cy="815.9" r="4.9" fill="#fff" stroke="#000" stroke-width="1.3"/>
<circle cx="508.6" cy="823" r="4.9" fill="#fff" stroke="#000" stroke-width="1.3"/>
<circle cx="518.4" cy="821.8" r="4.9" fill="#fff" stroke="#000" stroke-width="1.3"/>
<circle cx="496.8" cy="846.6" r="4.9" fill="#fff" stroke="#000" stroke-width="1.3"/>
<circle cx="520.2" cy="849.1" r="4.9" fill="#fff" stroke="#000" stroke-width="1.3"/>
<circle cx="503.6" cy="853.6" r="4.9" fill="#fff" stroke="#000" stroke-width="1.3"/>
<circle cx="512" cy="853" r="4.9" fill="#fff" stroke="#000" stroke-width="1.3"/>
<circle cx="498.6" cy="863.2" r="4.9" fill="#fff" stroke="#000" stroke-width="1.3"/>
<circle cx="519.5" cy="860.9" r="4.9" fill="#fff" stroke="#000" stroke-width="1.3"/>
<circle cx="504.1" cy="866.6" r="4.9" fill="#fff" stroke="#000" stroke-width="1.3"/>
<circle cx="512" cy="865" r="4.9" fill="#fff" stroke="#000" stroke-width="1.3"/>
<circle cx="508.6" cy="858.6" r="4.9" fill="#fff" stroke="#000" stroke-width="1.3"/>
<circle cx="554.8" cy="734.8" r="4.9" fill="#fff" stroke="#000" stroke-width="1.3"/>
<circle cx="549.1" cy="749.1" r="4.9" fill="#fff" stroke="#000" stroke-width="1.3"/>
<circle cx="560.5" cy="757.5" r="4.9" fill="#fff" stroke="#000" stroke-width="1.3"/>
<circle cx="545" cy="795" r="4.9" fill="#fff" stroke="#000" stroke-width="1.3"/>
<circle cx="564.3" cy="800.7" r="4.9" fill="#fff" stroke="#000" stroke-width="1.3"/>
<circle cx="554.8" cy="805.2" r="4.9" fill="#fff" stroke="#000" stroke-width="1.3"/>
<circle cx="554.8" cy="822.7" r="4.9" fill="#fff" stroke="#000" stroke-width="1.3"/>
<circle cx="549.1" cy="837" r="4.9" fill="#fff" stroke="#000" stroke-width="1.3"/>
<circle cx="560.5" cy="833.2" r="4.9" fill="#fff" stroke="#000" stroke-width="1.3"/>
<circle cx="543.4" cy="842.7" r="4.9" fill="#fff" stroke="#000" stroke-width="1.3"/>
<circle cx="567.3" cy="847.7" r="4.9" fill="#fff" stroke="#000" stroke-width="1.3"/>
<circle cx="551.4" cy="851.8" r="4.9" fill="#fff" stroke="#000" stroke-width="1.3"/>
<circle cx="560" cy="856.8" r="4.9" fill="#fff" stroke="#000" stroke-width="1.3"/>
<circle cx="548.6" cy="864.8" r="4.9" fill="#fff" stroke="#000" stroke-width="1.3"/>
<circle cx="595.7" cy="743.9" r="4.9" fill="#fff" stroke="#000" stroke-width="1.3"/>
<circle cx="607" cy="743.9" r="4.9" fill="#fff" stroke="#000" stroke-width="1.3"/>
<circle cx="591.1" cy="750.2" r="4.9" fill="#fff" stroke="#000" stroke-width="1.3"/>
<circle cx="611.6" cy="749.5" r="4.9" fill="#fff" stroke="#000" stroke-width="1.3"/>
<circle cx="601.4" cy="757.5" r="4.9" fill="#fff" stroke="#000" stroke-width="1.3"/>
<circle cx="607" cy="775.7" r="4.9" fill="#fff" stroke="#000" stroke-width="1.3"/>
<circle cx="595.7" cy="782" r="4.9" fill="#fff" stroke="#000" stroke-width="1.3"/>
<circle cx="601.4" cy="796.1" r="4.9" fill="#fff" stroke="#000" stroke-width="1.3"/>
<circle cx="601.4" cy="845" r="4.9" fill="#fff" stroke="#000" stroke-width="1.3"/>
<circle cx="601.4" cy="859.1" r="4.9" fill="#fff" stroke="#000" stroke-width="1.3"/>
<circle cx="601.4" cy="874.5" r="4.9" fill="#fff" stroke="#000" stroke-width="1.3"/>
<circle cx="657" cy="709.3" r="4.9" fill="#fff" stroke="#000" stroke-width="1.3"/>
<circle cx="638.2" cy="715" r="4.9" fill="#fff" stroke="#000" stroke-width="1.3"/>
<circle cx="647.3" cy="716.6" r="4.9" fill="#fff" stroke="#000" stroke-width="1.3"/>
<circle cx="637.3" cy="726.8" r="4.9" fill="#fff" stroke="#000" stroke-width="1.3"/>
<circle cx="647.3" cy="731.4" r="4.9" fill="#fff" stroke="#000" stroke-width="1.3"/>
<circle cx="657" cy="730.9" r="4.9" fill="#fff" stroke="#000" stroke-width="1.3"/>
<circle cx="642.3" cy="742.7" r="4.9" fill="#fff" stroke="#000" stroke-width="1.3"/>
<circle cx="653.6" cy="752.5" r="4.9" fill="#fff" stroke="#000" stroke-width="1.3"/>
<circle cx="647.3" cy="765.9" r="4.9" fill="#fff" stroke="#000" stroke-width="1.3"/>
<circle cx="638.2" cy="783" r="4.9" fill="#fff" stroke="#000" stroke-width="1.3"/>
<circle cx="657" cy="780.9" r="4.9" fill="#fff" stroke="#000" stroke-width="1.3"/>
<circle cx="647.3" cy="790.9" r="4.9" fill="#fff" stroke="#000" stroke-width="1.3"/>
<circle cx="637.3" cy="801.1" r="4.9" fill="#fff" stroke="#000" stroke-width="1.3"/>
<circle cx="644.1" cy="804.1" r="4.9" fill="#fff" stroke="#000" stroke-width="1.3"/>
<circle cx="651.4" cy="803" r="4.9" fill="#fff" stroke="#000" stroke-width="1.3"/>
<circle cx="659.3" cy="797.3" r="4.9" fill="#fff" stroke="#000" stroke-width="1.3"/>
<circle cx="647.3" cy="843.4" r="4.9" fill="#fff" stroke="#000" stroke-width="1.3"/>
<circle cx="638.9" cy="858.2" r="4.9" fill="#fff" stroke="#000" stroke-width="1.3"/>
<circle cx="645.7" cy="860.9" r="4.9" fill="#fff" stroke="#000" stroke-width="1.3"/>
<circle cx="652.5" cy="858.6" r="4.9" fill="#fff" stroke="#000" stroke-width="1.3"/>
<circle cx="643.4" cy="855.2" r="4.9" fill="#fff" stroke="#000" stroke-width="1.3"/>
<circle cx="655.9" cy="855.2" r="4.9" fill="#fff" stroke="#000" stroke-width="1.3"/>
<polyline points="508.6,778.6 508.6,678 600.9,678 600.9,722.3" fill="none" stroke="#000" stroke-width="1.3"/>
<text x="555.8" y="682.8" font-size="30" text-anchor="middle" font-weight="normal" font-family='"Liberation Sans", Arial, sans-serif' letter-spacing="2.1">*</text>
<polyline points="508.6,778.6 508.6,659.8 647.5,659.8 647.5,700.7" fill="none" stroke="#000" stroke-width="1.3"/>
<text x="579" y="662.8" font-size="30" text-anchor="middle" font-weight="normal" font-family='"Liberation Sans", Arial, sans-serif' letter-spacing="2.1">*</text>
<text x="396.8" y="767.7" font-size="27" text-anchor="middle" font-weight="normal" font-family='"Liberation Sans", Arial, sans-serif' transform="rotate(-90 396.8 767.7)">S-Flow IgG MFI</text>
<line x1="848" y1="633.7" x2="848" y2="889.8" stroke="#000" stroke-width="1.3"/>
<line x1="836.6" y1="889.8" x2="1033.6" y2="889.8" stroke="#000" stroke-width="1.3"/>
<line x1="836.6" y1="634.3" x2="848" y2="634.3" stroke="#000" stroke-width="1.3"/>
<text x="826.5" y="643.2" font-size="26.7" text-anchor="end" font-family='"Liberation Sans", Arial, sans-serif'>10<tspan font-size="18.6" dy="-12.6">1</tspan></text>
<line x1="836.6" y1="761.6" x2="848" y2="761.6" stroke="#000" stroke-width="1.3"/>
<text x="826.5" y="770.5" font-size="26.7" text-anchor="end" font-family='"Liberation Sans", Arial, sans-serif'>10<tspan font-size="18.6" dy="-12.6">0</tspan></text>
<line x1="836.6" y1="889.8" x2="848" y2="889.8" stroke="#000" stroke-width="1.3"/>
<text x="826.5" y="898.7" font-size="26.7" text-anchor="end" font-family='"Liberation Sans", Arial, sans-serif'>10<tspan font-size="18.6" dy="-12.6">−1</tspan></text>
<line x1="842.6" y1="723.3" x2="848" y2="723.3" stroke="#000" stroke-width="1.2"/>
<line x1="842.6" y1="700.9" x2="848" y2="700.9" stroke="#000" stroke-width="1.2"/>
<line x1="842.6" y1="685" x2="848" y2="685" stroke="#000" stroke-width="1.2"/>
<line x1="842.6" y1="672.6" x2="848" y2="672.6" stroke="#000" stroke-width="1.2"/>
<line x1="842.6" y1="662.6" x2="848" y2="662.6" stroke="#000" stroke-width="1.2"/>
<line x1="842.6" y1="654" x2="848" y2="654" stroke="#000" stroke-width="1.2"/>
<line x1="842.6" y1="646.7" x2="848" y2="646.7" stroke="#000" stroke-width="1.2"/>
<line x1="842.6" y1="640.1" x2="848" y2="640.1" stroke="#000" stroke-width="1.2"/>
<line x1="842.6" y1="851.2" x2="848" y2="851.2" stroke="#000" stroke-width="1.2"/>
<line x1="842.6" y1="828.6" x2="848" y2="828.6" stroke="#000" stroke-width="1.2"/>
<line x1="842.6" y1="812.6" x2="848" y2="812.6" stroke="#000" stroke-width="1.2"/>
<line x1="842.6" y1="800.2" x2="848" y2="800.2" stroke="#000" stroke-width="1.2"/>
<line x1="842.6" y1="790" x2="848" y2="790" stroke="#000" stroke-width="1.2"/>
<line x1="842.6" y1="781.4" x2="848" y2="781.4" stroke="#000" stroke-width="1.2"/>
<line x1="842.6" y1="774" x2="848" y2="774" stroke="#000" stroke-width="1.2"/>
<line x1="842.6" y1="767.5" x2="848" y2="767.5" stroke="#000" stroke-width="1.2"/>
<line x1="871.1" y1="889.8" x2="871.1" y2="900.8" stroke="#000" stroke-width="1.3"/>
<line x1="917.3" y1="889.8" x2="917.3" y2="900.8" stroke="#000" stroke-width="1.3"/>
<line x1="963.9" y1="889.8" x2="963.9" y2="900.8" stroke="#000" stroke-width="1.3"/>
<line x1="1010.5" y1="889.8" x2="1010.5" y2="900.8" stroke="#000" stroke-width="1.3"/>
<line x1="871.1" y1="713.6" x2="871.1" y2="745" stroke="#000" stroke-width="1.3"/>
<line x1="864.1" y1="713.6" x2="878.1" y2="713.6" stroke="#000" stroke-width="1.3"/>
<line x1="871.1" y1="817.3" x2="871.1" y2="821.1" stroke="#000" stroke-width="1.3"/>
<rect x="855.6" y="745" width="31.1" height="72.3" fill="#000000" stroke="#000" stroke-width="1.3"/>
<line x1="855.6" y1="779.1" x2="886.7" y2="779.1" stroke="#000" stroke-width="1.3"/>
<line x1="917.3" y1="703" x2="917.3" y2="729.1" stroke="#000" stroke-width="1.3"/>
<line x1="910.3" y1="703" x2="924.3" y2="703" stroke="#000" stroke-width="1.3"/>
<line x1="917.3" y1="813.9" x2="917.3" y2="820" stroke="#000" stroke-width="1.3"/>
<rect x="901.7" y="729.1" width="31.1" height="84.8" fill="#3f5bff" stroke="#000" stroke-width="1.3"/>
<line x1="901.7" y1="740.5" x2="932.8" y2="740.5" stroke="#000" stroke-width="1.3"/>
<line x1="963.9" y1="697.3" x2="963.9" y2="699.5" stroke="#000" stroke-width="1.3"/>
<line x1="963.9" y1="755.7" x2="963.9" y2="776.4" stroke="#000" stroke-width="1.3"/>
<line x1="956.9" y1="776.4" x2="970.9" y2="776.4" stroke="#000" stroke-width="1.3"/>
<rect x="948.3" y="699.5" width="31.1" height="56.1" fill="#9533ff" stroke="#000" stroke-width="1.3"/>
<line x1="948.3" y1="728.6" x2="979.4" y2="728.6" stroke="#000" stroke-width="1.3"/>
<line x1="1010.5" y1="692.7" x2="1010.5" y2="709.8" stroke="#000" stroke-width="1.3"/>
<line x1="1010.5" y1="739.3" x2="1010.5" y2="828.6" stroke="#000" stroke-width="1.3"/>
<line x1="1003.4" y1="828.6" x2="1017.5" y2="828.6" stroke="#000" stroke-width="1.3"/>
<rect x="994.9" y="709.8" width="31.1" height="29.5" fill="#ff2a00" stroke="#000" stroke-width="1.3"/>
<line x1="994.9" y1="722.3" x2="1026" y2="722.3" stroke="#000" stroke-width="1.3"/>
<circle cx="871.1" cy="713.6" r="4.9" fill="#fff" stroke="#000" stroke-width="1.3"/>
<circle cx="865.5" cy="737.7" r="4.9" fill="#fff" stroke="#000" stroke-width="1.3"/>
<circle cx="876.8" cy="740.5" r="4.9" fill="#fff" stroke="#000" stroke-width="1.3"/>
<circle cx="876.8" cy="762.7" r="4.9" fill="#fff" stroke="#000" stroke-width="1.3"/>
<circle cx="865" cy="769.3" r="4.9" fill="#fff" stroke="#000" stroke-width="1.3"/>
<circle cx="865" cy="783" r="4.9" fill="#fff" stroke="#000" stroke-width="1.3"/>
<circle cx="876.8" cy="783" r="4.9" fill="#fff" stroke="#000" stroke-width="1.3"/>
<circle cx="861.6" cy="809.1" r="4.9" fill="#fff" stroke="#000" stroke-width="1.3"/>
<circle cx="880.9" cy="812" r="4.9" fill="#fff" stroke="#000" stroke-width="1.3"/>
<circle cx="867.3" cy="818.9" r="4.9" fill="#fff" stroke="#000" stroke-width="1.3"/>
<circle cx="875.2" cy="820.5" r="4.9" fill="#fff" stroke="#000" stroke-width="1.3"/>
<circle cx="871.8" cy="821.1" r="4.9" fill="#fff" stroke="#000" stroke-width="1.3"/>
<circle cx="917.3" cy="703" r="4.9" fill="#fff" stroke="#000" stroke-width="1.3"/>
<circle cx="923" cy="724.1" r="4.9" fill="#fff" stroke="#000" stroke-width="1.3"/>
<circle cx="906.6" cy="728.6" r="4.9" fill="#fff" stroke="#000" stroke-width="1.3"/>
<circle cx="913.9" cy="726.8" r="4.9" fill="#fff" stroke="#000" stroke-width="1.3"/>
<circle cx="928.6" cy="730.9" r="4.9" fill="#fff" stroke="#000" stroke-width="1.3"/>
<circle cx="913.9" cy="737" r="4.9" fill="#fff" stroke="#000" stroke-width="1.3"/>
<circle cx="921.4" cy="739.3" r="4.9" fill="#fff" stroke="#000" stroke-width="1.3"/>
<circle cx="917.3" cy="766.6" r="4.9" fill="#fff" stroke="#000" stroke-width="1.3"/>
<circle cx="917.3" cy="796.8" r="4.9" fill="#fff" stroke="#000" stroke-width="1.3"/>
<circle cx="905.9" cy="815.9" r="4.9" fill="#fff" stroke="#000" stroke-width="1.3"/>
<circle cx="928.6" cy="812.7" r="4.9" fill="#fff" stroke="#000" stroke-width="1.3"/>
<circle cx="913.9" cy="821.1" r="4.9" fill="#fff" stroke="#000" stroke-width="1.3"/>
<circle cx="921.4" cy="818.2" r="4.9" fill="#fff" stroke="#000" stroke-width="1.3"/>
<circle cx="953.6" cy="697.7" r="4.9" fill="#fff" stroke="#000" stroke-width="1.3"/>
<circle cx="963.9" cy="700" r="4.9" fill="#fff" stroke="#000" stroke-width="1.3"/>
<circle cx="974.1" cy="699.5" r="4.9" fill="#fff" stroke="#000" stroke-width="1.3"/>
<circle cx="958.2" cy="708.2" r="4.9" fill="#fff" stroke="#000" stroke-width="1.3"/>
<circle cx="975.2" cy="719.3" r="4.9" fill="#fff" stroke="#000" stroke-width="1.3"/>
<circle cx="958.2" cy="730.9" r="4.9" fill="#fff" stroke="#000" stroke-width="1.3"/>
<circle cx="969.5" cy="728.6" r="4.9" fill="#fff" stroke="#000" stroke-width="1.3"/>
<circle cx="953.6" cy="755.2" r="4.9" fill="#fff" stroke="#000" stroke-width="1.3"/>
<circle cx="963.9" cy="757.5" r="4.9" fill="#fff" stroke="#000" stroke-width="1.3"/>
<circle cx="974.1" cy="750.7" r="4.9" fill="#fff" stroke="#000" stroke-width="1.3"/>
<circle cx="963.9" cy="776.4" r="4.9" fill="#fff" stroke="#000" stroke-width="1.3"/>
<circle cx="1000.2" cy="695" r="4.9" fill="#fff" stroke="#000" stroke-width="1.3"/>
<circle cx="1010.5" cy="692.7" r="4.9" fill="#fff" stroke="#000" stroke-width="1.3"/>
<circle cx="1020.7" cy="698.4" r="4.9" fill="#fff" stroke="#000" stroke-width="1.3"/>
<circle cx="999.1" cy="706.4" r="4.9" fill="#fff" stroke="#000" stroke-width="1.3"/>
<circle cx="1008.2" cy="701.8" r="4.9" fill="#fff" stroke="#000" stroke-width="1.3"/>
<circle cx="1016.1" cy="700.7" r="4.9" fill="#fff" stroke="#000" stroke-width="1.3"/>
<circle cx="1023" cy="705.9" r="4.9" fill="#fff" stroke="#000" stroke-width="1.3"/>
<circle cx="1010.5" cy="705.2" r="4.9" fill="#fff" stroke="#000" stroke-width="1.3"/>
<circle cx="1005.9" cy="713.2" r="4.9" fill="#fff" stroke="#000" stroke-width="1.3"/>
<circle cx="1015" cy="717.7" r="4.9" fill="#fff" stroke="#000" stroke-width="1.3"/>
<circle cx="1000.2" cy="722.3" r="4.9" fill="#fff" stroke="#000" stroke-width="1.3"/>
<circle cx="1020.7" cy="726.4" r="4.9" fill="#fff" stroke="#000" stroke-width="1.3"/>
<circle cx="1010.5" cy="731.8" r="4.9" fill="#fff" stroke="#000" stroke-width="1.3"/>
<circle cx="1004.8" cy="739.3" r="4.9" fill="#fff" stroke="#000" stroke-width="1.3"/>
<circle cx="1016.1" cy="747.7" r="4.9" fill="#fff" stroke="#000" stroke-width="1.3"/>
<circle cx="1016.1" cy="761.4" r="4.9" fill="#fff" stroke="#000" stroke-width="1.3"/>
<circle cx="1004.8" cy="767.7" r="4.9" fill="#fff" stroke="#000" stroke-width="1.3"/>
<circle cx="1010.5" cy="781.8" r="4.9" fill="#fff" stroke="#000" stroke-width="1.3"/>
<circle cx="1010.5" cy="828.6" r="4.9" fill="#fff" stroke="#000" stroke-width="1.3"/>
<polyline points="871.8,699.5 871.8,657 1009.8,657 1009.8,681.4" fill="none" stroke="#000" stroke-width="1.3"/>
<text x="941" y="661.2" font-size="30" text-anchor="middle" font-weight="normal" font-family='"Liberation Sans", Arial, sans-serif' letter-spacing="2.1">*</text>
<text x="720.7" y="762" font-size="27" text-anchor="middle" font-weight="normal" font-family='"Liberation Sans", Arial, sans-serif' transform="rotate(-90 720.7 762)">Anti-spike</text>
<text x="753.6" y="761.4" font-size="27" text-anchor="middle" font-weight="normal" font-family='"Liberation Sans", Arial, sans-serif' transform="rotate(-90 753.6 761.4)">IgG OD ELISA</text>
<line x1="1204.1" y1="628" x2="1204.1" y2="887" stroke="#000" stroke-width="1.3"/>
<line x1="1192.7" y1="887" x2="1392.7" y2="887" stroke="#000" stroke-width="1.3"/>
<line x1="1192.7" y1="628.6" x2="1204.1" y2="628.6" stroke="#000" stroke-width="1.3"/>
<text x="1182.6" y="637.5" font-size="26.7" text-anchor="end" font-family='"Liberation Sans", Arial, sans-serif'>10<tspan font-size="18.6" dy="-12.6">2</tspan></text>
<line x1="1192.7" y1="714.3" x2="1204.1" y2="714.3" stroke="#000" stroke-width="1.3"/>
<text x="1182.6" y="723.2" font-size="26.7" text-anchor="end" font-family='"Liberation Sans", Arial, sans-serif'>10<tspan font-size="18.6" dy="-12.6">1</tspan></text>
<line x1="1192.7" y1="800.7" x2="1204.1" y2="800.7" stroke="#000" stroke-width="1.3"/>
<text x="1182.6" y="809.6" font-size="26.7" text-anchor="end" font-family='"Liberation Sans", Arial, sans-serif'>10<tspan font-size="18.6" dy="-12.6">0</tspan></text>
<line x1="1192.7" y1="887" x2="1204.1" y2="887" stroke="#000" stroke-width="1.3"/>
<text x="1182.6" y="895.9" font-size="26.7" text-anchor="end" font-family='"Liberation Sans", Arial, sans-serif'>10<tspan font-size="18.6" dy="-12.6">−1</tspan></text>
<line x1="1198.7" y1="688.5" x2="1204.1" y2="688.5" stroke="#000" stroke-width="1.2"/>
<line x1="1198.7" y1="673.4" x2="1204.1" y2="673.4" stroke="#000" stroke-width="1.2"/>
<line x1="1198.7" y1="662.7" x2="1204.1" y2="662.7" stroke="#000" stroke-width="1.2"/>
<line x1="1198.7" y1="654.4" x2="1204.1" y2="654.4" stroke="#000" stroke-width="1.2"/>
<line x1="1198.7" y1="647.6" x2="1204.1" y2="647.6" stroke="#000" stroke-width="1.2"/>
<line x1="1198.7" y1="641.9" x2="1204.1" y2="641.9" stroke="#000" stroke-width="1.2"/>
<line x1="1198.7" y1="636.9" x2="1204.1" y2="636.9" stroke="#000" stroke-width="1.2"/>
<line x1="1198.7" y1="632.6" x2="1204.1" y2="632.6" stroke="#000" stroke-width="1.2"/>
<line x1="1198.7" y1="774.7" x2="1204.1" y2="774.7" stroke="#000" stroke-width="1.2"/>
<line x1="1198.7" y1="759.5" x2="1204.1" y2="759.5" stroke="#000" stroke-width="1.2"/>
<line x1="1198.7" y1="748.7" x2="1204.1" y2="748.7" stroke="#000" stroke-width="1.2"/>
<line x1="1198.7" y1="740.3" x2="1204.1" y2="740.3" stroke="#000" stroke-width="1.2"/>
<line x1="1198.7" y1="733.5" x2="1204.1" y2="733.5" stroke="#000" stroke-width="1.2"/>
<line x1="1198.7" y1="727.7" x2="1204.1" y2="727.7" stroke="#000" stroke-width="1.2"/>
<line x1="1198.7" y1="722.7" x2="1204.1" y2="722.7" stroke="#000" stroke-width="1.2"/>
<line x1="1198.7" y1="718.3" x2="1204.1" y2="718.3" stroke="#000" stroke-width="1.2"/>
<line x1="1198.7" y1="861" x2="1204.1" y2="861" stroke="#000" stroke-width="1.2"/>
<line x1="1198.7" y1="845.8" x2="1204.1" y2="845.8" stroke="#000" stroke-width="1.2"/>
<line x1="1198.7" y1="835" x2="1204.1" y2="835" stroke="#000" stroke-width="1.2"/>
<line x1="1198.7" y1="826.7" x2="1204.1" y2="826.7" stroke="#000" stroke-width="1.2"/>
<line x1="1198.7" y1="819.8" x2="1204.1" y2="819.8" stroke="#000" stroke-width="1.2"/>
<line x1="1198.7" y1="814.1" x2="1204.1" y2="814.1" stroke="#000" stroke-width="1.2"/>
<line x1="1198.7" y1="809.1" x2="1204.1" y2="809.1" stroke="#000" stroke-width="1.2"/>
<line x1="1198.7" y1="804.6" x2="1204.1" y2="804.6" stroke="#000" stroke-width="1.2"/>
<line x1="1227.5" y1="887" x2="1227.5" y2="898" stroke="#000" stroke-width="1.3"/>
<line x1="1274.5" y1="887" x2="1274.5" y2="898" stroke="#000" stroke-width="1.3"/>
<line x1="1321.8" y1="887" x2="1321.8" y2="898" stroke="#000" stroke-width="1.3"/>
<line x1="1368.9" y1="887" x2="1368.9" y2="898" stroke="#000" stroke-width="1.3"/>
<line x1="1227.5" y1="754.1" x2="1227.5" y2="770.5" stroke="#000" stroke-width="1.3"/>
<line x1="1220.4" y1="754.1" x2="1234.6" y2="754.1" stroke="#000" stroke-width="1.3"/>
<line x1="1227.5" y1="806.4" x2="1227.5" y2="810.9" stroke="#000" stroke-width="1.3"/>
<rect x="1211.8" y="770.5" width="31.4" height="35.9" fill="#000000" stroke="#000" stroke-width="1.3"/>
<line x1="1211.8" y1="788.2" x2="1243.2" y2="788.2" stroke="#000" stroke-width="1.3"/>
<line x1="1274.5" y1="739.3" x2="1274.5" y2="761.4" stroke="#000" stroke-width="1.3"/>
<line x1="1267.5" y1="739.3" x2="1281.6" y2="739.3" stroke="#000" stroke-width="1.3"/>
<line x1="1274.5" y1="805.2" x2="1274.5" y2="810.9" stroke="#000" stroke-width="1.3"/>
<rect x="1258.9" y="761.4" width="31.4" height="43.9" fill="#3f5bff" stroke="#000" stroke-width="1.3"/>
<line x1="1258.9" y1="769.5" x2="1290.2" y2="769.5" stroke="#000" stroke-width="1.3"/>
<line x1="1321.8" y1="735.9" x2="1321.8" y2="738.2" stroke="#000" stroke-width="1.3"/>
<line x1="1321.8" y1="776.4" x2="1321.8" y2="787" stroke="#000" stroke-width="1.3"/>
<line x1="1314.8" y1="787" x2="1328.9" y2="787" stroke="#000" stroke-width="1.3"/>
<rect x="1306.1" y="738.2" width="31.4" height="38.2" fill="#9533ff" stroke="#000" stroke-width="1.3"/>
<line x1="1306.1" y1="760.5" x2="1337.5" y2="760.5" stroke="#000" stroke-width="1.3"/>
<line x1="1368.9" y1="721.1" x2="1368.9" y2="731.8" stroke="#000" stroke-width="1.3"/>
<line x1="1361.8" y1="721.1" x2="1375.9" y2="721.1" stroke="#000" stroke-width="1.3"/>
<line x1="1368.9" y1="769.5" x2="1368.9" y2="810.9" stroke="#000" stroke-width="1.3"/>
<line x1="1361.8" y1="810.9" x2="1375.9" y2="810.9" stroke="#000" stroke-width="1.3"/>
<rect x="1353.2" y="731.8" width="31.4" height="37.7" fill="#ff2a00" stroke="#000" stroke-width="1.3"/>
<line x1="1353.2" y1="751.4" x2="1384.5" y2="751.4" stroke="#000" stroke-width="1.3"/>
<circle cx="1227.5" cy="754.1" r="4.9" fill="#fff" stroke="#000" stroke-width="1.3"/>
<circle cx="1227.5" cy="765.5" r="4.9" fill="#fff" stroke="#000" stroke-width="1.3"/>
<circle cx="1221.1" cy="780.2" r="4.9" fill="#fff" stroke="#000" stroke-width="1.3"/>
<circle cx="1237.3" cy="781.4" r="4.9" fill="#fff" stroke="#000" stroke-width="1.3"/>
<circle cx="1218" cy="791.6" r="4.9" fill="#fff" stroke="#000" stroke-width="1.3"/>
<circle cx="1227.5" cy="791.6" r="4.9" fill="#fff" stroke="#000" stroke-width="1.3"/>
<circle cx="1218" cy="805.2" r="4.9" fill="#fff" stroke="#000" stroke-width="1.3"/>
<circle cx="1228.6" cy="805.2" r="4.9" fill="#fff" stroke="#000" stroke-width="1.3"/>
<circle cx="1236.6" cy="805.2" r="4.9" fill="#fff" stroke="#000" stroke-width="1.3"/>
<circle cx="1221.8" cy="807.5" r="4.9" fill="#fff" stroke="#000" stroke-width="1.3"/>
<circle cx="1227.5" cy="809.8" r="4.9" fill="#fff" stroke="#000" stroke-width="1.3"/>
<circle cx="1274.5" cy="739.3" r="4.9" fill="#fff" stroke="#000" stroke-width="1.3"/>
<circle cx="1267.3" cy="763.2" r="4.9" fill="#fff" stroke="#000" stroke-width="1.3"/>
<circle cx="1276.4" cy="760.9" r="4.9" fill="#fff" stroke="#000" stroke-width="1.3"/>
<circle cx="1282.7" cy="760.9" r="4.9" fill="#fff" stroke="#000" stroke-width="1.3"/>
<circle cx="1271.8" cy="768.9" r="4.9" fill="#fff" stroke="#000" stroke-width="1.3"/>
<circle cx="1274.5" cy="781.4" r="4.9" fill="#fff" stroke="#000" stroke-width="1.3"/>
<circle cx="1265" cy="799.1" r="4.9" fill="#fff" stroke="#000" stroke-width="1.3"/>
<circle cx="1269.5" cy="806.8" r="4.9" fill="#fff" stroke="#000" stroke-width="1.3"/>
<circle cx="1278.6" cy="806.8" r="4.9" fill="#fff" stroke="#000" stroke-width="1.3"/>
<circle cx="1284.3" cy="804.1" r="4.9" fill="#fff" stroke="#000" stroke-width="1.3"/>
<circle cx="1274.5" cy="810.9" r="4.9" fill="#fff" stroke="#000" stroke-width="1.3"/>
<circle cx="1310.5" cy="737" r="4.9" fill="#fff" stroke="#000" stroke-width="1.3"/>
<circle cx="1318.4" cy="741.6" r="4.9" fill="#fff" stroke="#000" stroke-width="1.3"/>
<circle cx="1333.2" cy="740.5" r="4.9" fill="#fff" stroke="#000" stroke-width="1.3"/>
<circle cx="1325.2" cy="745.5" r="4.9" fill="#fff" stroke="#000" stroke-width="1.3"/>
<circle cx="1327.5" cy="748.4" r="4.9" fill="#fff" stroke="#000" stroke-width="1.3"/>
<circle cx="1310.5" cy="760.9" r="4.9" fill="#fff" stroke="#000" stroke-width="1.3"/>
<circle cx="1316.1" cy="766.6" r="4.9" fill="#fff" stroke="#000" stroke-width="1.3"/>
<circle cx="1328.6" cy="774.5" r="4.9" fill="#fff" stroke="#000" stroke-width="1.3"/>
<circle cx="1311.6" cy="776.4" r="4.9" fill="#fff" stroke="#000" stroke-width="1.3"/>
<circle cx="1330.9" cy="778.6" r="4.9" fill="#fff" stroke="#000" stroke-width="1.3"/>
<circle cx="1321.8" cy="787.5" r="4.9" fill="#fff" stroke="#000" stroke-width="1.3"/>
<circle cx="1380.2" cy="720.5" r="4.9" fill="#fff" stroke="#000" stroke-width="1.3"/>
<circle cx="1357" cy="728" r="4.9" fill="#fff" stroke="#000" stroke-width="1.3"/>
<circle cx="1363.9" cy="731.4" r="4.9" fill="#fff" stroke="#000" stroke-width="1.3"/>
<circle cx="1374.1" cy="731.4" r="4.9" fill="#fff" stroke="#000" stroke-width="1.3"/>
<circle cx="1378.6" cy="731.8" r="4.9" fill="#fff" stroke="#000" stroke-width="1.3"/>
<circle cx="1358.2" cy="743.9" r="4.9" fill="#fff" stroke="#000" stroke-width="1.3"/>
<circle cx="1370.7" cy="740.9" r="4.9" fill="#fff" stroke="#000" stroke-width="1.3"/>
<circle cx="1378.6" cy="743.9" r="4.9" fill="#fff" stroke="#000" stroke-width="1.3"/>
<circle cx="1368.4" cy="753" r="4.9" fill="#fff" stroke="#000" stroke-width="1.3"/>
<circle cx="1357" cy="757.5" r="4.9" fill="#fff" stroke="#000" stroke-width="1.3"/>
<circle cx="1365" cy="762" r="4.9" fill="#fff" stroke="#000" stroke-width="1.3"/>
<circle cx="1373" cy="765.5" r="4.9" fill="#fff" stroke="#000" stroke-width="1.3"/>
<circle cx="1380.9" cy="761.4" r="4.9" fill="#fff" stroke="#000" stroke-width="1.3"/>
<circle cx="1359.3" cy="770" r="4.9" fill="#fff" stroke="#000" stroke-width="1.3"/>
<circle cx="1368.4" cy="776.8" r="4.9" fill="#fff" stroke="#000" stroke-width="1.3"/>
<circle cx="1378.6" cy="774.5" r="4.9" fill="#fff" stroke="#000" stroke-width="1.3"/>
<circle cx="1362.7" cy="783" r="4.9" fill="#fff" stroke="#000" stroke-width="1.3"/>
<circle cx="1374.1" cy="793.9" r="4.9" fill="#fff" stroke="#000" stroke-width="1.3"/>
<circle cx="1368.9" cy="810.9" r="4.9" fill="#fff" stroke="#000" stroke-width="1.3"/>
<polyline points="1227.5,737.7 1227.5,674.5 1365.5,674.5 1365.5,703.6" fill="none" stroke="#000" stroke-width="1.3"/>
<text x="1297.4" y="678.2" font-size="30" text-anchor="middle" font-weight="normal" font-family='"Liberation Sans", Arial, sans-serif' letter-spacing="2.1">*</text>
<text x="1078.6" y="757.5" font-size="27" text-anchor="middle" font-weight="normal" font-family='"Liberation Sans", Arial, sans-serif' transform="rotate(-90 1078.6 757.5)">Anti-spike</text>
<text x="1110.5" y="756.8" font-size="27" text-anchor="middle" font-weight="normal" font-family='"Liberation Sans", Arial, sans-serif' transform="rotate(-90 1110.5 756.8)">IgG AUC ELISA</text>
<line x1="144.3" y1="984.6" x2="144.3" y2="1242" stroke="#000" stroke-width="1.3"/>
<line x1="133" y1="1242" x2="323.9" y2="1242" stroke="#000" stroke-width="1.3"/>
<line x1="132.9" y1="985.2" x2="144.3" y2="985.2" stroke="#000" stroke-width="1.3"/>
<text x="119.3" y="992.6" font-size="20.5" text-anchor="end" font-family='"Liberation Sans", Arial, sans-serif' textLength="37.3" lengthAdjust="spacingAndGlyphs">110</text>
<line x1="132.9" y1="1005" x2="144.3" y2="1005" stroke="#000" stroke-width="1.3"/>
<text x="119.3" y="1012.3" font-size="20.5" text-anchor="end" font-family='"Liberation Sans", Arial, sans-serif' textLength="39" lengthAdjust="spacingAndGlyphs">100</text>
<line x1="132.9" y1="1024.7" x2="144.3" y2="1024.7" stroke="#000" stroke-width="1.3"/>
<text x="119.3" y="1032.1" font-size="20.5" text-anchor="end" font-family='"Liberation Sans", Arial, sans-serif' textLength="26" lengthAdjust="spacingAndGlyphs">90</text>
<line x1="132.9" y1="1044.5" x2="144.3" y2="1044.5" stroke="#000" stroke-width="1.3"/>
<text x="119.3" y="1051.8" font-size="20.5" text-anchor="end" font-family='"Liberation Sans", Arial, sans-serif' textLength="26" lengthAdjust="spacingAndGlyphs">80</text>
<line x1="132.9" y1="1064.2" x2="144.3" y2="1064.2" stroke="#000" stroke-width="1.3"/>
<text x="119.3" y="1071.6" font-size="20.5" text-anchor="end" font-family='"Liberation Sans", Arial, sans-serif' textLength="26" lengthAdjust="spacingAndGlyphs">70</text>
<line x1="132.9" y1="1084" x2="144.3" y2="1084" stroke="#000" stroke-width="1.3"/>
<text x="119.3" y="1091.3" font-size="20.5" text-anchor="end" font-family='"Liberation Sans", Arial, sans-serif' textLength="26" lengthAdjust="spacingAndGlyphs">60</text>
<line x1="132.9" y1="1103.7" x2="144.3" y2="1103.7" stroke="#000" stroke-width="1.3"/>
<text x="119.3" y="1111.1" font-size="20.5" text-anchor="end" font-family='"Liberation Sans", Arial, sans-serif' textLength="26" lengthAdjust="spacingAndGlyphs">50</text>
<line x1="132.9" y1="1123.5" x2="144.3" y2="1123.5" stroke="#000" stroke-width="1.3"/>
<text x="119.3" y="1130.8" font-size="20.5" text-anchor="end" font-family='"Liberation Sans", Arial, sans-serif' textLength="26" lengthAdjust="spacingAndGlyphs">40</text>
<line x1="132.9" y1="1143.2" x2="144.3" y2="1143.2" stroke="#000" stroke-width="1.3"/>
<text x="119.3" y="1150.6" font-size="20.5" text-anchor="end" font-family='"Liberation Sans", Arial, sans-serif' textLength="26" lengthAdjust="spacingAndGlyphs">30</text>
<line x1="132.9" y1="1163" x2="144.3" y2="1163" stroke="#000" stroke-width="1.3"/>
<text x="119.3" y="1170.3" font-size="20.5" text-anchor="end" font-family='"Liberation Sans", Arial, sans-serif' textLength="26" lengthAdjust="spacingAndGlyphs">20</text>
<line x1="132.9" y1="1182.7" x2="144.3" y2="1182.7" stroke="#000" stroke-width="1.3"/>
<text x="119.3" y="1190.1" font-size="20.5" text-anchor="end" font-family='"Liberation Sans", Arial, sans-serif' textLength="26" lengthAdjust="spacingAndGlyphs">10</text>
<line x1="132.9" y1="1202.5" x2="144.3" y2="1202.5" stroke="#000" stroke-width="1.3"/>
<text x="119.3" y="1209.8" font-size="20.5" text-anchor="end" font-family='"Liberation Sans", Arial, sans-serif' textLength="13" lengthAdjust="spacingAndGlyphs">0</text>
<line x1="132.9" y1="1222.2" x2="144.3" y2="1222.2" stroke="#000" stroke-width="1.3"/>
<text x="119.3" y="1229.6" font-size="20.5" text-anchor="end" font-family='"Liberation Sans", Arial, sans-serif' textLength="39" lengthAdjust="spacingAndGlyphs">–10</text>
<line x1="132.9" y1="1242" x2="144.3" y2="1242" stroke="#000" stroke-width="1.3"/>
<text x="119.3" y="1249.3" font-size="20.5" text-anchor="end" font-family='"Liberation Sans", Arial, sans-serif' textLength="39" lengthAdjust="spacingAndGlyphs">–20</text>
<line x1="166.6" y1="1242" x2="166.6" y2="1253" stroke="#000" stroke-width="1.3"/>
<line x1="211.4" y1="1242" x2="211.4" y2="1253" stroke="#000" stroke-width="1.3"/>
<line x1="256.4" y1="1242" x2="256.4" y2="1253" stroke="#000" stroke-width="1.3"/>
<line x1="301.1" y1="1242" x2="301.1" y2="1253" stroke="#000" stroke-width="1.3"/>
<line x1="166.6" y1="1181.8" x2="166.6" y2="1202" stroke="#000" stroke-width="1.3"/>
<line x1="159.8" y1="1181.8" x2="173.3" y2="1181.8" stroke="#000" stroke-width="1.3"/>
<line x1="166.6" y1="1215.2" x2="166.6" y2="1225.5" stroke="#000" stroke-width="1.3"/>
<rect x="151.6" y="1202" width="30" height="13.2" fill="#000000" stroke="#000" stroke-width="1.3"/>
<line x1="151.6" y1="1209.5" x2="181.6" y2="1209.5" stroke="#000" stroke-width="1.3"/>
<line x1="211.4" y1="1038" x2="211.4" y2="1067" stroke="#000" stroke-width="1.3"/>
<line x1="204.6" y1="1038" x2="218.1" y2="1038" stroke="#000" stroke-width="1.3"/>
<line x1="211.4" y1="1189.1" x2="211.4" y2="1233" stroke="#000" stroke-width="1.3"/>
<line x1="204.6" y1="1233" x2="218.1" y2="1233" stroke="#000" stroke-width="1.3"/>
<rect x="196.4" y="1067" width="30" height="122" fill="#3f5bff" stroke="#000" stroke-width="1.3"/>
<line x1="196.4" y1="1165.2" x2="226.4" y2="1165.2" stroke="#000" stroke-width="1.3"/>
<line x1="256.4" y1="1016.4" x2="256.4" y2="1027.3" stroke="#000" stroke-width="1.3"/>
<line x1="256.4" y1="1134.1" x2="256.4" y2="1209.1" stroke="#000" stroke-width="1.3"/>
<line x1="249.6" y1="1209.1" x2="263.1" y2="1209.1" stroke="#000" stroke-width="1.3"/>
<rect x="241.4" y="1027.3" width="30" height="106.8" fill="#9533ff" stroke="#000" stroke-width="1.3"/>
<line x1="241.4" y1="1068.2" x2="271.4" y2="1068.2" stroke="#000" stroke-width="1.3"/>
<line x1="301.1" y1="1007.3" x2="301.1" y2="1020.9" stroke="#000" stroke-width="1.3"/>
<line x1="301.1" y1="1134.1" x2="301.1" y2="1229.5" stroke="#000" stroke-width="1.3"/>
<line x1="294.4" y1="1229.5" x2="307.9" y2="1229.5" stroke="#000" stroke-width="1.3"/>
<rect x="286.1" y="1020.9" width="30" height="113.2" fill="#ff2a00" stroke="#000" stroke-width="1.3"/>
<line x1="286.1" y1="1065.2" x2="316.1" y2="1065.2" stroke="#000" stroke-width="1.3"/>
<line x1="146.8" y1="1104.5" x2="325" y2="1104.5" stroke="#000" stroke-width="2.6" stroke-linecap="round" stroke-dasharray="0.01,5.13"/>
<line x1="146.8" y1="1202" x2="323.9" y2="1202" stroke="#000" stroke-width="2.6" stroke-linecap="round" stroke-dasharray="0.01,5.13"/>
<circle cx="166.6" cy="1181.8" r="4.9" fill="#fff" stroke="#000" stroke-width="1.3"/>
<circle cx="172.7" cy="1191.4" r="4.9" fill="#fff" stroke="#000" stroke-width="1.3"/>
<circle cx="154.5" cy="1201.6" r="4.9" fill="#fff" stroke="#000" stroke-width="1.3"/>
<circle cx="160.7" cy="1202.7" r="4.9" fill="#fff" stroke="#000" stroke-width="1.3"/>
<circle cx="172.7" cy="1202.7" r="4.9" fill="#fff" stroke="#000" stroke-width="1.3"/>
<circle cx="164.1" cy="1211.4" r="4.9" fill="#fff" stroke="#000" stroke-width="1.3"/>
<circle cx="169.3" cy="1214.1" r="4.9" fill="#fff" stroke="#000" stroke-width="1.3"/>
<circle cx="157.3" cy="1216.8" r="4.9" fill="#fff" stroke="#000" stroke-width="1.3"/>
<circle cx="175.5" cy="1220.9" r="4.9" fill="#fff" stroke="#000" stroke-width="1.3"/>
<circle cx="166.6" cy="1226.1" r="4.9" fill="#fff" stroke="#000" stroke-width="1.3"/>
<circle cx="169.3" cy="1208.4" r="4.9" fill="#fff" stroke="#000" stroke-width="1.3"/>
<circle cx="211.4" cy="1038" r="4.9" fill="#fff" stroke="#000" stroke-width="1.3"/>
<circle cx="205.7" cy="1047.7" r="4.9" fill="#fff" stroke="#000" stroke-width="1.3"/>
<circle cx="217.5" cy="1050.9" r="4.9" fill="#fff" stroke="#000" stroke-width="1.3"/>
<circle cx="211.4" cy="1067" r="4.9" fill="#fff" stroke="#000" stroke-width="1.3"/>
<circle cx="205.7" cy="1085.7" r="4.9" fill="#fff" stroke="#000" stroke-width="1.3"/>
<circle cx="217.5" cy="1088" r="4.9" fill="#fff" stroke="#000" stroke-width="1.3"/>
<circle cx="211.4" cy="1128.9" r="4.9" fill="#fff" stroke="#000" stroke-width="1.3"/>
<circle cx="211.4" cy="1165.2" r="4.9" fill="#fff" stroke="#000" stroke-width="1.3"/>
<circle cx="205.7" cy="1179.5" r="4.9" fill="#fff" stroke="#000" stroke-width="1.3"/>
<circle cx="217.5" cy="1178.4" r="4.9" fill="#fff" stroke="#000" stroke-width="1.3"/>
<circle cx="211.4" cy="1185.2" r="4.9" fill="#fff" stroke="#000" stroke-width="1.3"/>
<circle cx="205.7" cy="1194.1" r="4.9" fill="#fff" stroke="#000" stroke-width="1.3"/>
<circle cx="217.5" cy="1202.7" r="4.9" fill="#fff" stroke="#000" stroke-width="1.3"/>
<circle cx="211.4" cy="1233" r="4.9" fill="#fff" stroke="#000" stroke-width="1.3"/>
<circle cx="262" cy="1017" r="4.9" fill="#fff" stroke="#000" stroke-width="1.3"/>
<circle cx="250.7" cy="1021.4" r="4.9" fill="#fff" stroke="#000" stroke-width="1.3"/>
<circle cx="256.8" cy="1023.2" r="4.9" fill="#fff" stroke="#000" stroke-width="1.3"/>
<circle cx="252.3" cy="1027.7" r="4.9" fill="#fff" stroke="#000" stroke-width="1.3"/>
<circle cx="260.2" cy="1027.7" r="4.9" fill="#fff" stroke="#000" stroke-width="1.3"/>
<circle cx="250.7" cy="1067.5" r="4.9" fill="#fff" stroke="#000" stroke-width="1.3"/>
<circle cx="262" cy="1068.6" r="4.9" fill="#fff" stroke="#000" stroke-width="1.3"/>
<circle cx="256.4" cy="1097" r="4.9" fill="#fff" stroke="#000" stroke-width="1.3"/>
<circle cx="256.4" cy="1109.5" r="4.9" fill="#fff" stroke="#000" stroke-width="1.3"/>
<circle cx="256.4" cy="1134.1" r="4.9" fill="#fff" stroke="#000" stroke-width="1.3"/>
<circle cx="256.4" cy="1150.9" r="4.9" fill="#fff" stroke="#000" stroke-width="1.3"/>
<circle cx="256.4" cy="1209.1" r="4.9" fill="#fff" stroke="#000" stroke-width="1.3"/>
<circle cx="287.5" cy="1008.4" r="4.9" fill="#fff" stroke="#000" stroke-width="1.3"/>
<circle cx="314.8" cy="1007.7" r="4.9" fill="#fff" stroke="#000" stroke-width="1.3"/>
<circle cx="301.1" cy="1011.4" r="4.9" fill="#fff" stroke="#000" stroke-width="1.3"/>
<circle cx="292" cy="1014.5" r="4.9" fill="#fff" stroke="#000" stroke-width="1.3"/>
<circle cx="310.2" cy="1015.9" r="4.9" fill="#fff" stroke="#000" stroke-width="1.3"/>
<circle cx="296.6" cy="1019.8" r="4.9" fill="#fff" stroke="#000" stroke-width="1.3"/>
<circle cx="305.7" cy="1020.9" r="4.9" fill="#fff" stroke="#000" stroke-width="1.3"/>
<circle cx="301.1" cy="1025.5" r="4.9" fill="#fff" stroke="#000" stroke-width="1.3"/>
<circle cx="292" cy="1032.3" r="4.9" fill="#fff" stroke="#000" stroke-width="1.3"/>
<circle cx="310.2" cy="1031.1" r="4.9" fill="#fff" stroke="#000" stroke-width="1.3"/>
<circle cx="301.1" cy="1037.3" r="4.9" fill="#fff" stroke="#000" stroke-width="1.3"/>
<circle cx="292" cy="1064.8" r="4.9" fill="#fff" stroke="#000" stroke-width="1.3"/>
<circle cx="301.1" cy="1073.6" r="4.9" fill="#fff" stroke="#000" stroke-width="1.3"/>
<circle cx="310.2" cy="1072.7" r="4.9" fill="#fff" stroke="#000" stroke-width="1.3"/>
<circle cx="301.1" cy="1099.3" r="4.9" fill="#fff" stroke="#000" stroke-width="1.3"/>
<circle cx="292" cy="1129.5" r="4.9" fill="#fff" stroke="#000" stroke-width="1.3"/>
<circle cx="301.1" cy="1133.4" r="4.9" fill="#fff" stroke="#000" stroke-width="1.3"/>
<circle cx="310.2" cy="1131.8" r="4.9" fill="#fff" stroke="#000" stroke-width="1.3"/>
<circle cx="301.1" cy="1180" r="4.9" fill="#fff" stroke="#000" stroke-width="1.3"/>
<circle cx="301.1" cy="1193.6" r="4.9" fill="#fff" stroke="#000" stroke-width="1.3"/>
<circle cx="295.5" cy="1206.8" r="4.9" fill="#fff" stroke="#000" stroke-width="1.3"/>
<circle cx="306.8" cy="1215.2" r="4.9" fill="#fff" stroke="#000" stroke-width="1.3"/>
<circle cx="301.1" cy="1229.5" r="4.9" fill="#fff" stroke="#000" stroke-width="1.3"/>
<polyline points="166.6,1161.8 166.6,998.2 256.4,998.2 256.4,1005" fill="none" stroke="#000" stroke-width="1.3"/>
<text x="212.4" y="1006.4" font-size="30" text-anchor="middle" font-weight="normal" font-family='"Liberation Sans", Arial, sans-serif' letter-spacing="2.1">**</text>
<polyline points="165.9,1161.8 165.9,983.9 303.4,983.9 303.4,995.9" fill="none" stroke="#000" stroke-width="1.3"/>
<text x="235.1" y="987.1" font-size="30" text-anchor="middle" font-weight="normal" font-family='"Liberation Sans", Arial, sans-serif' letter-spacing="2.1">***</text>
<text x="23.9" y="1113" font-size="27" text-anchor="middle" font-weight="normal" font-family='"Liberation Sans", Arial, sans-serif' transform="rotate(-90 23.9 1113)">Pseudovirus</text>
<text x="55.7" y="1114.5" font-size="27" text-anchor="middle" font-weight="normal" font-family='"Liberation Sans", Arial, sans-serif' transform="rotate(-90 55.7 1114.5)">neutralization (%)</text>
<text x="1.1" y="959.5" font-size="29" text-anchor="start" font-weight="bold" font-family='"Liberation Sans", Arial, sans-serif'>d</text>
<line x1="510.7" y1="970.8" x2="510.7" y2="1233.5" stroke="#000" stroke-width="1.3"/>
<line x1="499.3" y1="1233.5" x2="663.6" y2="1233.5" stroke="#000" stroke-width="1.3"/>
<line x1="499.3" y1="971.4" x2="510.7" y2="971.4" stroke="#000" stroke-width="1.3"/>
<text x="488.7" y="979.9" font-size="23.8" text-anchor="end" font-family='"Liberation Sans", Arial, sans-serif' textLength="30.2" lengthAdjust="spacingAndGlyphs">80</text>
<line x1="499.3" y1="1008.8" x2="510.7" y2="1008.8" stroke="#000" stroke-width="1.3"/>
<text x="488.7" y="1017.3" font-size="23.8" text-anchor="end" font-family='"Liberation Sans", Arial, sans-serif' textLength="30.2" lengthAdjust="spacingAndGlyphs">70</text>
<line x1="499.3" y1="1046.2" x2="510.7" y2="1046.2" stroke="#000" stroke-width="1.3"/>
<text x="488.7" y="1054.8" font-size="23.8" text-anchor="end" font-family='"Liberation Sans", Arial, sans-serif' textLength="30.2" lengthAdjust="spacingAndGlyphs">60</text>
<line x1="499.3" y1="1083.7" x2="510.7" y2="1083.7" stroke="#000" stroke-width="1.3"/>
<text x="488.7" y="1092.2" font-size="23.8" text-anchor="end" font-family='"Liberation Sans", Arial, sans-serif' textLength="30.2" lengthAdjust="spacingAndGlyphs">50</text>
<line x1="499.3" y1="1121.1" x2="510.7" y2="1121.1" stroke="#000" stroke-width="1.3"/>
<text x="488.7" y="1129.7" font-size="23.8" text-anchor="end" font-family='"Liberation Sans", Arial, sans-serif' textLength="30.2" lengthAdjust="spacingAndGlyphs">40</text>
<line x1="499.3" y1="1158.6" x2="510.7" y2="1158.6" stroke="#000" stroke-width="1.3"/>
<text x="488.7" y="1167.1" font-size="23.8" text-anchor="end" font-family='"Liberation Sans", Arial, sans-serif' textLength="30.2" lengthAdjust="spacingAndGlyphs">30</text>
<line x1="499.3" y1="1196" x2="510.7" y2="1196" stroke="#000" stroke-width="1.3"/>
<text x="488.7" y="1204.5" font-size="23.8" text-anchor="end" font-family='"Liberation Sans", Arial, sans-serif' textLength="30.2" lengthAdjust="spacingAndGlyphs">20</text>
<line x1="499.3" y1="1233.5" x2="510.7" y2="1233.5" stroke="#000" stroke-width="1.3"/>
<text x="488.7" y="1242" font-size="23.8" text-anchor="end" font-family='"Liberation Sans", Arial, sans-serif' textLength="30.2" lengthAdjust="spacingAndGlyphs">10</text>
<line x1="529.5" y1="1233.6" x2="529.5" y2="1244.6" stroke="#000" stroke-width="1.3"/>
<line x1="567.7" y1="1233.6" x2="567.7" y2="1244.6" stroke="#000" stroke-width="1.3"/>
<line x1="606.1" y1="1233.6" x2="606.1" y2="1244.6" stroke="#000" stroke-width="1.3"/>
<line x1="644.5" y1="1233.6" x2="644.5" y2="1244.6" stroke="#000" stroke-width="1.3"/>
<rect x="555.2" y="1121.4" width="25.5" height="112.3" fill="#0a2dff" stroke="#333" stroke-width="0.8"/>
<rect x="593.5" y="1032.7" width="25.5" height="200.9" fill="#9637ff" stroke="#333" stroke-width="0.8"/>
<rect x="631.6" y="1027.3" width="25.5" height="206.4" fill="#ff2600" stroke="#333" stroke-width="0.8"/>
<text x="400" y="1102" font-size="27" text-anchor="middle" font-weight="normal" font-family='"Liberation Sans", Arial, sans-serif' transform="rotate(-90 400 1102)">Patients with</text>
<text x="433" y="1102.5" font-size="27" text-anchor="middle" font-weight="normal" font-family='"Liberation Sans", Arial, sans-serif' transform="rotate(-90 433 1102.5)">neutralization ≥50% (%)</text>
<text x="377.3" y="959.5" font-size="29" text-anchor="start" font-weight="bold" font-family='"Liberation Sans", Arial, sans-serif'>e</text>
<line x1="861.4" y1="960.2" x2="861.4" y2="1226.1" stroke="#000" stroke-width="1.3"/>
<line x1="850" y1="1214.7" x2="861.4" y2="1214.7" stroke="#000" stroke-width="1.3"/>
<text x="841.2" y="1222.9" font-size="22.7" text-anchor="end" font-family='"Liberation Sans", Arial, sans-serif' textLength="14.4" lengthAdjust="spacingAndGlyphs">0</text>
<line x1="850" y1="1189.4" x2="861.4" y2="1189.4" stroke="#000" stroke-width="1.3"/>
<text x="841.2" y="1197.5" font-size="22.7" text-anchor="end" font-family='"Liberation Sans", Arial, sans-serif' textLength="28.8" lengthAdjust="spacingAndGlyphs">10</text>
<line x1="850" y1="1164" x2="861.4" y2="1164" stroke="#000" stroke-width="1.3"/>
<text x="841.2" y="1172.1" font-size="22.7" text-anchor="end" font-family='"Liberation Sans", Arial, sans-serif' textLength="28.8" lengthAdjust="spacingAndGlyphs">20</text>
<line x1="850" y1="1138.6" x2="861.4" y2="1138.6" stroke="#000" stroke-width="1.3"/>
<text x="841.2" y="1146.7" font-size="22.7" text-anchor="end" font-family='"Liberation Sans", Arial, sans-serif' textLength="28.8" lengthAdjust="spacingAndGlyphs">30</text>
<line x1="850" y1="1113.2" x2="861.4" y2="1113.2" stroke="#000" stroke-width="1.3"/>
<text x="841.2" y="1121.3" font-size="22.7" text-anchor="end" font-family='"Liberation Sans", Arial, sans-serif' textLength="28.8" lengthAdjust="spacingAndGlyphs">40</text>
<line x1="850" y1="1087.8" x2="861.4" y2="1087.8" stroke="#000" stroke-width="1.3"/>
<text x="841.2" y="1095.9" font-size="22.7" text-anchor="end" font-family='"Liberation Sans", Arial, sans-serif' textLength="28.8" lengthAdjust="spacingAndGlyphs">50</text>
<line x1="850" y1="1062.4" x2="861.4" y2="1062.4" stroke="#000" stroke-width="1.3"/>
<text x="841.2" y="1070.5" font-size="22.7" text-anchor="end" font-family='"Liberation Sans", Arial, sans-serif' textLength="28.8" lengthAdjust="spacingAndGlyphs">60</text>
<line x1="850" y1="1037" x2="861.4" y2="1037" stroke="#000" stroke-width="1.3"/>
<text x="841.2" y="1045.1" font-size="22.7" text-anchor="end" font-family='"Liberation Sans", Arial, sans-serif' textLength="28.8" lengthAdjust="spacingAndGlyphs">70</text>
<line x1="850" y1="1011.6" x2="861.4" y2="1011.6" stroke="#000" stroke-width="1.3"/>
<text x="841.2" y="1019.7" font-size="22.7" text-anchor="end" font-family='"Liberation Sans", Arial, sans-serif' textLength="28.8" lengthAdjust="spacingAndGlyphs">80</text>
<line x1="850" y1="986.2" x2="861.4" y2="986.2" stroke="#000" stroke-width="1.3"/>
<text x="841.2" y="994.4" font-size="22.7" text-anchor="end" font-family='"Liberation Sans", Arial, sans-serif' textLength="28.8" lengthAdjust="spacingAndGlyphs">90</text>
<line x1="850" y1="960.8" x2="861.4" y2="960.8" stroke="#000" stroke-width="1.3"/>
<text x="841.2" y="969" font-size="22.7" text-anchor="end" font-family='"Liberation Sans", Arial, sans-serif' textLength="43.2" lengthAdjust="spacingAndGlyphs">100</text>
<line x1="850" y1="1214.7" x2="1134.4" y2="1214.7" stroke="#000" stroke-width="1.3"/>
<line x1="861.4" y1="1214.7" x2="861.4" y2="1226.1" stroke="#000" stroke-width="1.3"/>
<text x="861.4" y="1256.3" font-size="22.7" text-anchor="middle" font-family='"Liberation Sans", Arial, sans-serif' textLength="43.2" lengthAdjust="spacingAndGlyphs">–20</text>
<line x1="906.9" y1="1214.7" x2="906.9" y2="1226.1" stroke="#000" stroke-width="1.3"/>
<text x="906.9" y="1256.3" font-size="22.7" text-anchor="middle" font-family='"Liberation Sans", Arial, sans-serif' textLength="14.4" lengthAdjust="spacingAndGlyphs">0</text>
<line x1="952.4" y1="1214.7" x2="952.4" y2="1226.1" stroke="#000" stroke-width="1.3"/>
<text x="952.4" y="1256.3" font-size="22.7" text-anchor="middle" font-family='"Liberation Sans", Arial, sans-serif' textLength="28.8" lengthAdjust="spacingAndGlyphs">20</text>
<line x1="997.9" y1="1214.7" x2="997.9" y2="1226.1" stroke="#000" stroke-width="1.3"/>
<text x="997.9" y="1256.3" font-size="22.7" text-anchor="middle" font-family='"Liberation Sans", Arial, sans-serif' textLength="28.8" lengthAdjust="spacingAndGlyphs">40</text>
<line x1="1043.4" y1="1214.7" x2="1043.4" y2="1226.1" stroke="#000" stroke-width="1.3"/>
<text x="1043.4" y="1256.3" font-size="22.7" text-anchor="middle" font-family='"Liberation Sans", Arial, sans-serif' textLength="28.8" lengthAdjust="spacingAndGlyphs">60</text>
<line x1="1088.9" y1="1214.7" x2="1088.9" y2="1226.1" stroke="#000" stroke-width="1.3"/>
<text x="1088.9" y="1256.3" font-size="22.7" text-anchor="middle" font-family='"Liberation Sans", Arial, sans-serif' textLength="28.8" lengthAdjust="spacingAndGlyphs">80</text>
<line x1="1134.4" y1="1214.7" x2="1134.4" y2="1226.1" stroke="#000" stroke-width="1.3"/>
<text x="1134.4" y="1256.3" font-size="22.7" text-anchor="middle" font-family='"Liberation Sans", Arial, sans-serif' textLength="43.2" lengthAdjust="spacingAndGlyphs">100</text>
<circle cx="878.6" cy="1210.8" r="5.9" fill="#000000" stroke="#fff" stroke-width="0.7"/>
<circle cx="886.7" cy="1214.7" r="5.9" fill="#000000" stroke="#fff" stroke-width="0.7"/>
<circle cx="898.1" cy="1215.7" r="5.9" fill="#000000" stroke="#fff" stroke-width="0.7"/>
<circle cx="907.8" cy="1212.5" r="5.9" fill="#000000" stroke="#fff" stroke-width="0.7"/>
<circle cx="932.1" cy="1215.1" r="5.9" fill="#000000" stroke="#fff" stroke-width="0.7"/>
<circle cx="1028.9" cy="986.8" r="5.9" fill="#9a3cf5" stroke="#fff" stroke-width="0.7"/>
<circle cx="1014.6" cy="1100.1" r="5.9" fill="#9a3cf5" stroke="#fff" stroke-width="0.7"/>
<circle cx="966.9" cy="1188.1" r="5.9" fill="#9a3cf5" stroke="#fff" stroke-width="0.7"/>
<circle cx="899.7" cy="1206.9" r="5.9" fill="#9a3cf5" stroke="#fff" stroke-width="0.7"/>
<circle cx="986.4" cy="1003.1" r="5.9" fill="#9a3cf5" stroke="#fff" stroke-width="0.7"/>
<circle cx="1108.4" cy="998.8" r="5.9" fill="#9a3cf5" stroke="#fff" stroke-width="0.7"/>
<circle cx="1115.6" cy="999.8" r="5.9" fill="#9a3cf5" stroke="#fff" stroke-width="0.7"/>
<circle cx="1062" cy="994.9" r="5.9" fill="#9a3cf5" stroke="#fff" stroke-width="0.7"/>
<circle cx="927.9" cy="1089.1" r="5.9" fill="#0033ff" stroke="#fff" stroke-width="0.7"/>
<circle cx="950" cy="1034.5" r="5.9" fill="#0033ff" stroke="#fff" stroke-width="0.7"/>
<circle cx="992.2" cy="1063.4" r="5.9" fill="#0033ff" stroke="#fff" stroke-width="0.7"/>
<circle cx="1039.9" cy="1019.9" r="5.9" fill="#0033ff" stroke="#fff" stroke-width="0.7"/>
<circle cx="1042.2" cy="987.8" r="5.9" fill="#0033ff" stroke="#fff" stroke-width="0.7"/>
<circle cx="1082.5" cy="998.2" r="5.9" fill="#0033ff" stroke="#fff" stroke-width="0.7"/>
<circle cx="1085.7" cy="1084.5" r="5.9" fill="#0033ff" stroke="#fff" stroke-width="0.7"/>
<circle cx="1095.5" cy="985.2" r="5.9" fill="#0033ff" stroke="#fff" stroke-width="0.7"/>
<circle cx="917.5" cy="1202.1" r="5.9" fill="#0033ff" stroke="#fff" stroke-width="0.7"/>
<circle cx="932.8" cy="1203.4" r="5.9" fill="#0033ff" stroke="#fff" stroke-width="0.7"/>
<circle cx="872.1" cy="1214.7" r="5.9" fill="#0033ff" stroke="#fff" stroke-width="0.7"/>
<circle cx="911" cy="1214.1" r="5.9" fill="#0033ff" stroke="#fff" stroke-width="0.7"/>
<circle cx="924" cy="1215.1" r="5.9" fill="#0033ff" stroke="#fff" stroke-width="0.7"/>
<circle cx="936.4" cy="1212.5" r="5.9" fill="#0033ff" stroke="#fff" stroke-width="0.7"/>
<circle cx="1063.6" cy="1003.1" r="5.9" fill="#0033ff" stroke="#fff" stroke-width="0.7"/>
<circle cx="986.4" cy="997.5" r="5.9" fill="#ff2a00" stroke="#fff" stroke-width="0.7"/>
<circle cx="992.2" cy="990.7" r="5.9" fill="#ff2a00" stroke="#fff" stroke-width="0.7"/>
<circle cx="988.3" cy="1008.6" r="5.9" fill="#ff2a00" stroke="#fff" stroke-width="0.7"/>
<circle cx="1025.6" cy="994" r="5.9" fill="#ff2a00" stroke="#fff" stroke-width="0.7"/>
<circle cx="1056.5" cy="990.7" r="5.9" fill="#ff2a00" stroke="#fff" stroke-width="0.7"/>
<circle cx="1058.1" cy="1006.9" r="5.9" fill="#ff2a00" stroke="#fff" stroke-width="0.7"/>
<circle cx="1066.2" cy="996.6" r="5.9" fill="#ff2a00" stroke="#fff" stroke-width="0.7"/>
<circle cx="1098.4" cy="980.3" r="5.9" fill="#ff2a00" stroke="#fff" stroke-width="0.7"/>
<circle cx="1104.2" cy="988.4" r="5.9" fill="#ff2a00" stroke="#fff" stroke-width="0.7"/>
<circle cx="1111.7" cy="982.9" r="5.9" fill="#ff2a00" stroke="#fff" stroke-width="0.7"/>
<circle cx="1113" cy="996.6" r="5.9" fill="#ff2a00" stroke="#fff" stroke-width="0.7"/>
<circle cx="1118.2" cy="994.3" r="5.9" fill="#ff2a00" stroke="#fff" stroke-width="0.7"/>
<circle cx="1124.7" cy="985.2" r="5.9" fill="#ff2a00" stroke="#fff" stroke-width="0.7"/>
<circle cx="1122.1" cy="999.8" r="5.9" fill="#ff2a00" stroke="#fff" stroke-width="0.7"/>
<circle cx="1127.9" cy="1005.3" r="5.9" fill="#ff2a00" stroke="#fff" stroke-width="0.7"/>
<circle cx="1131.2" cy="993.3" r="5.9" fill="#ff2a00" stroke="#fff" stroke-width="0.7"/>
<circle cx="1133.4" cy="1004.7" r="5.9" fill="#ff2a00" stroke="#fff" stroke-width="0.7"/>
<circle cx="876.9" cy="1214.7" r="5.9" fill="#ff2a00" stroke="#fff" stroke-width="0.7"/>
<circle cx="893.2" cy="1213.1" r="5.9" fill="#ff2a00" stroke="#fff" stroke-width="0.7"/>
<circle cx="902.9" cy="1214.7" r="5.9" fill="#ff2a00" stroke="#fff" stroke-width="0.7"/>
<circle cx="918.2" cy="1212.5" r="5.9" fill="#ff2a00" stroke="#fff" stroke-width="0.7"/>
<circle cx="933.1" cy="1208.6" r="5.9" fill="#ff2a00" stroke="#fff" stroke-width="0.7"/>
<text x="998.4" y="1295.3" font-size="27" text-anchor="middle" font-weight="normal" font-family='"Liberation Sans", Arial, sans-serif'>Pseudovirus neutralization (%)</text>
<text x="744.6" y="1088.1" font-size="27" text-anchor="middle" font-weight="normal" font-family='"Liberation Sans", Arial, sans-serif' transform="rotate(-90 744.6 1088.1)">S-Flow IgA</text>
<text x="777.9" y="1086.5" font-size="27" text-anchor="middle" font-weight="normal" font-family='"Liberation Sans", Arial, sans-serif' transform="rotate(-90 777.9 1086.5)">binding (%)</text>
<text x="998" y="1176" font-size="20" font-family='"Liberation Sans", Arial, sans-serif'><tspan font-style="italic">σ</tspan> = 0.81</text>
<text x="998" y="1201" font-size="20" font-family='"Liberation Sans", Arial, sans-serif'><tspan font-style="italic">P</tspan> = 1.1 × 10<tspan font-size="14.8" dy="-9">−15</tspan></text>
<text x="722" y="959" font-size="29" text-anchor="start" font-weight="bold" font-family='"Liberation Sans", Arial, sans-serif'>f</text>
<line x1="1357.1" y1="961.9" x2="1357.1" y2="1223.8" stroke="#000" stroke-width="1.3"/>
<line x1="1345.7" y1="1211.8" x2="1357.1" y2="1211.8" stroke="#000" stroke-width="1.3"/>
<text x="1337" y="1219.9" font-size="22.7" text-anchor="end" font-family='"Liberation Sans", Arial, sans-serif' textLength="14.4" lengthAdjust="spacingAndGlyphs">0</text>
<line x1="1345.7" y1="1186.9" x2="1357.1" y2="1186.9" stroke="#000" stroke-width="1.3"/>
<text x="1337" y="1195" font-size="22.7" text-anchor="end" font-family='"Liberation Sans", Arial, sans-serif' textLength="28.8" lengthAdjust="spacingAndGlyphs">10</text>
<line x1="1345.7" y1="1161.9" x2="1357.1" y2="1161.9" stroke="#000" stroke-width="1.3"/>
<text x="1337" y="1170.1" font-size="22.7" text-anchor="end" font-family='"Liberation Sans", Arial, sans-serif' textLength="28.8" lengthAdjust="spacingAndGlyphs">20</text>
<line x1="1345.7" y1="1137" x2="1357.1" y2="1137" stroke="#000" stroke-width="1.3"/>
<text x="1337" y="1145.1" font-size="22.7" text-anchor="end" font-family='"Liberation Sans", Arial, sans-serif' textLength="28.8" lengthAdjust="spacingAndGlyphs">30</text>
<line x1="1345.7" y1="1112.1" x2="1357.1" y2="1112.1" stroke="#000" stroke-width="1.3"/>
<text x="1337" y="1120.2" font-size="22.7" text-anchor="end" font-family='"Liberation Sans", Arial, sans-serif' textLength="28.8" lengthAdjust="spacingAndGlyphs">40</text>
<line x1="1345.7" y1="1087.1" x2="1357.1" y2="1087.1" stroke="#000" stroke-width="1.3"/>
<text x="1337" y="1095.3" font-size="22.7" text-anchor="end" font-family='"Liberation Sans", Arial, sans-serif' textLength="28.8" lengthAdjust="spacingAndGlyphs">50</text>
<line x1="1345.7" y1="1062.2" x2="1357.1" y2="1062.2" stroke="#000" stroke-width="1.3"/>
<text x="1337" y="1070.3" font-size="22.7" text-anchor="end" font-family='"Liberation Sans", Arial, sans-serif' textLength="28.8" lengthAdjust="spacingAndGlyphs">60</text>
<line x1="1345.7" y1="1037.3" x2="1357.1" y2="1037.3" stroke="#000" stroke-width="1.3"/>
<text x="1337" y="1045.4" font-size="22.7" text-anchor="end" font-family='"Liberation Sans", Arial, sans-serif' textLength="28.8" lengthAdjust="spacingAndGlyphs">70</text>
<line x1="1345.7" y1="1012.3" x2="1357.1" y2="1012.3" stroke="#000" stroke-width="1.3"/>
<text x="1337" y="1020.5" font-size="22.7" text-anchor="end" font-family='"Liberation Sans", Arial, sans-serif' textLength="28.8" lengthAdjust="spacingAndGlyphs">80</text>
<line x1="1345.7" y1="987.4" x2="1357.1" y2="987.4" stroke="#000" stroke-width="1.3"/>
<text x="1337" y="995.5" font-size="22.7" text-anchor="end" font-family='"Liberation Sans", Arial, sans-serif' textLength="28.8" lengthAdjust="spacingAndGlyphs">90</text>
<line x1="1345.7" y1="962.5" x2="1357.1" y2="962.5" stroke="#000" stroke-width="1.3"/>
<text x="1337" y="970.6" font-size="22.7" text-anchor="end" font-family='"Liberation Sans", Arial, sans-serif' textLength="43.2" lengthAdjust="spacingAndGlyphs">100</text>
<line x1="1345.7" y1="1211.8" x2="1626" y2="1211.8" stroke="#000" stroke-width="1.3"/>
<line x1="1357.1" y1="1211.8" x2="1357.1" y2="1223.2" stroke="#000" stroke-width="1.3"/>
<text x="1357.1" y="1256.3" font-size="22.7" text-anchor="middle" font-family='"Liberation Sans", Arial, sans-serif' textLength="43.2" lengthAdjust="spacingAndGlyphs">–20</text>
<line x1="1401.9" y1="1211.8" x2="1401.9" y2="1223.2" stroke="#000" stroke-width="1.3"/>
<text x="1401.9" y="1256.3" font-size="22.7" text-anchor="middle" font-family='"Liberation Sans", Arial, sans-serif' textLength="14.4" lengthAdjust="spacingAndGlyphs">0</text>
<line x1="1446.8" y1="1211.8" x2="1446.8" y2="1223.2" stroke="#000" stroke-width="1.3"/>
<text x="1446.8" y="1256.3" font-size="22.7" text-anchor="middle" font-family='"Liberation Sans", Arial, sans-serif' textLength="28.8" lengthAdjust="spacingAndGlyphs">20</text>
<line x1="1491.6" y1="1211.8" x2="1491.6" y2="1223.2" stroke="#000" stroke-width="1.3"/>
<text x="1491.6" y="1256.3" font-size="22.7" text-anchor="middle" font-family='"Liberation Sans", Arial, sans-serif' textLength="28.8" lengthAdjust="spacingAndGlyphs">40</text>
<line x1="1536.4" y1="1211.8" x2="1536.4" y2="1223.2" stroke="#000" stroke-width="1.3"/>
<text x="1536.4" y="1256.3" font-size="22.7" text-anchor="middle" font-family='"Liberation Sans", Arial, sans-serif' textLength="28.8" lengthAdjust="spacingAndGlyphs">60</text>
<line x1="1581.2" y1="1211.8" x2="1581.2" y2="1223.2" stroke="#000" stroke-width="1.3"/>
<text x="1581.2" y="1256.3" font-size="22.7" text-anchor="middle" font-family='"Liberation Sans", Arial, sans-serif' textLength="28.8" lengthAdjust="spacingAndGlyphs">80</text>
<line x1="1626" y1="1211.8" x2="1626" y2="1223.2" stroke="#000" stroke-width="1.3"/>
<text x="1626" y="1256.3" font-size="22.7" text-anchor="middle" font-family='"Liberation Sans", Arial, sans-serif' textLength="43.2" lengthAdjust="spacingAndGlyphs">100</text>
<circle cx="1374.7" cy="1179.4" r="5.9" fill="#000000" stroke="#fff" stroke-width="0.7"/>
<circle cx="1398.1" cy="1186.5" r="5.9" fill="#000000" stroke="#fff" stroke-width="0.7"/>
<circle cx="1401.3" cy="1194.6" r="5.9" fill="#000000" stroke="#fff" stroke-width="0.7"/>
<circle cx="1414.3" cy="1194" r="5.9" fill="#000000" stroke="#fff" stroke-width="0.7"/>
<circle cx="1380.2" cy="1206.6" r="5.9" fill="#000000" stroke="#fff" stroke-width="0.7"/>
<circle cx="1388.3" cy="1198.8" r="5.9" fill="#000000" stroke="#fff" stroke-width="0.7"/>
<circle cx="1402.9" cy="1209.9" r="5.9" fill="#000000" stroke="#fff" stroke-width="0.7"/>
<circle cx="1426.3" cy="1207.6" r="5.9" fill="#000000" stroke="#fff" stroke-width="0.7"/>
<circle cx="1394.8" cy="1205.3" r="5.9" fill="#000000" stroke="#fff" stroke-width="0.7"/>
<circle cx="1394.2" cy="1122.2" r="5.9" fill="#9a3cf5" stroke="#fff" stroke-width="0.7"/>
<circle cx="1460.4" cy="1032.6" r="5.9" fill="#9a3cf5" stroke="#fff" stroke-width="0.7"/>
<circle cx="1507.8" cy="992.3" r="5.9" fill="#9a3cf5" stroke="#fff" stroke-width="0.7"/>
<circle cx="1522.1" cy="987.5" r="5.9" fill="#9a3cf5" stroke="#fff" stroke-width="0.7"/>
<circle cx="1555.5" cy="989.4" r="5.9" fill="#9a3cf5" stroke="#fff" stroke-width="0.7"/>
<circle cx="1600" cy="980.3" r="5.9" fill="#9a3cf5" stroke="#fff" stroke-width="0.7"/>
<circle cx="1608.4" cy="986.2" r="5.9" fill="#9a3cf5" stroke="#fff" stroke-width="0.7"/>
<circle cx="1613" cy="981.3" r="5.9" fill="#9a3cf5" stroke="#fff" stroke-width="0.7"/>
<circle cx="1479.9" cy="1209.2" r="5.9" fill="#9a3cf5" stroke="#fff" stroke-width="0.7"/>
<circle cx="1553.9" cy="983.6" r="5.9" fill="#9a3cf5" stroke="#fff" stroke-width="0.7"/>
<circle cx="1367.2" cy="1210.8" r="5.9" fill="#0033ff" stroke="#fff" stroke-width="0.7"/>
<circle cx="1411.7" cy="1099.8" r="5.9" fill="#0033ff" stroke="#fff" stroke-width="0.7"/>
<circle cx="1422.1" cy="1045.6" r="5.9" fill="#0033ff" stroke="#fff" stroke-width="0.7"/>
<circle cx="1429.2" cy="1057.3" r="5.9" fill="#0033ff" stroke="#fff" stroke-width="0.7"/>
<circle cx="1427.6" cy="1067" r="5.9" fill="#0033ff" stroke="#fff" stroke-width="0.7"/>
<circle cx="1444.2" cy="1016" r="5.9" fill="#0033ff" stroke="#fff" stroke-width="0.7"/>
<circle cx="1485.7" cy="1017" r="5.9" fill="#0033ff" stroke="#fff" stroke-width="0.7"/>
<circle cx="1531.8" cy="988.4" r="5.9" fill="#0033ff" stroke="#fff" stroke-width="0.7"/>
<circle cx="1535.1" cy="985.2" r="5.9" fill="#0033ff" stroke="#fff" stroke-width="0.7"/>
<circle cx="1556.2" cy="1011.2" r="5.9" fill="#0033ff" stroke="#fff" stroke-width="0.7"/>
<circle cx="1574" cy="979.4" r="5.9" fill="#0033ff" stroke="#fff" stroke-width="0.7"/>
<circle cx="1588.6" cy="978.1" r="5.9" fill="#0033ff" stroke="#fff" stroke-width="0.7"/>
<circle cx="1577.3" cy="1019.9" r="5.9" fill="#0033ff" stroke="#fff" stroke-width="0.7"/>
<circle cx="1406.2" cy="1200.1" r="5.9" fill="#0033ff" stroke="#fff" stroke-width="0.7"/>
<circle cx="1417.5" cy="1207.6" r="5.9" fill="#0033ff" stroke="#fff" stroke-width="0.7"/>
<circle cx="1372.1" cy="1070.6" r="5.9" fill="#ff2a00" stroke="#fff" stroke-width="0.7"/>
<circle cx="1427.3" cy="1084.9" r="5.9" fill="#ff2a00" stroke="#fff" stroke-width="0.7"/>
<circle cx="1485.1" cy="1104.4" r="5.9" fill="#ff2a00" stroke="#fff" stroke-width="0.7"/>
<circle cx="1481.8" cy="990.1" r="5.9" fill="#ff2a00" stroke="#fff" stroke-width="0.7"/>
<circle cx="1479.2" cy="1019.3" r="5.9" fill="#ff2a00" stroke="#fff" stroke-width="0.7"/>
<circle cx="1518.2" cy="985.2" r="5.9" fill="#ff2a00" stroke="#fff" stroke-width="0.7"/>
<circle cx="1548.4" cy="971.2" r="5.9" fill="#ff2a00" stroke="#fff" stroke-width="0.7"/>
<circle cx="1550" cy="978.7" r="5.9" fill="#ff2a00" stroke="#fff" stroke-width="0.7"/>
<circle cx="1558.8" cy="981.9" r="5.9" fill="#ff2a00" stroke="#fff" stroke-width="0.7"/>
<circle cx="1596.1" cy="973.2" r="5.9" fill="#ff2a00" stroke="#fff" stroke-width="0.7"/>
<circle cx="1604.2" cy="973.8" r="5.9" fill="#ff2a00" stroke="#fff" stroke-width="0.7"/>
<circle cx="1615.6" cy="972.2" r="5.9" fill="#ff2a00" stroke="#fff" stroke-width="0.7"/>
<circle cx="1622.7" cy="974.8" r="5.9" fill="#ff2a00" stroke="#fff" stroke-width="0.7"/>
<circle cx="1622.1" cy="979.4" r="5.9" fill="#ff2a00" stroke="#fff" stroke-width="0.7"/>
<circle cx="1589.6" cy="1006.9" r="5.9" fill="#ff2a00" stroke="#fff" stroke-width="0.7"/>
<circle cx="1608.4" cy="1015.1" r="5.9" fill="#ff2a00" stroke="#fff" stroke-width="0.7"/>
<circle cx="1595.5" cy="1029" r="5.9" fill="#ff2a00" stroke="#fff" stroke-width="0.7"/>
<circle cx="1619.5" cy="1027.4" r="5.9" fill="#ff2a00" stroke="#fff" stroke-width="0.7"/>
<circle cx="1614.6" cy="1043.3" r="5.9" fill="#ff2a00" stroke="#fff" stroke-width="0.7"/>
<circle cx="1387.7" cy="1201.8" r="5.9" fill="#ff2a00" stroke="#fff" stroke-width="0.7"/>
<circle cx="1397.1" cy="1203.7" r="5.9" fill="#ff2a00" stroke="#fff" stroke-width="0.7"/>
<circle cx="1411.7" cy="1203.7" r="5.9" fill="#ff2a00" stroke="#fff" stroke-width="0.7"/>
<circle cx="1602.6" cy="975.5" r="5.9" fill="#ff2a00" stroke="#fff" stroke-width="0.7"/>
<text x="1491.9" y="1295.3" font-size="27" text-anchor="middle" font-weight="normal" font-family='"Liberation Sans", Arial, sans-serif'>Pseudovirus neutralization (%)</text>
<text x="1239.4" y="1087.5" font-size="27" text-anchor="middle" font-weight="normal" font-family='"Liberation Sans", Arial, sans-serif' transform="rotate(-90 1239.4 1087.5)">S-Flow IgG</text>
<text x="1273" y="1086.5" font-size="27" text-anchor="middle" font-weight="normal" font-family='"Liberation Sans", Arial, sans-serif' transform="rotate(-90 1273 1086.5)">binding (%)</text>
<text x="1489" y="1171" font-size="20" font-family='"Liberation Sans", Arial, sans-serif'><tspan font-style="italic">σ</tspan> = 0.81</text>
<text x="1489" y="1196.2" font-size="20" font-family='"Liberation Sans", Arial, sans-serif'><tspan font-style="italic">P</tspan> = 1.4 × 10<tspan font-size="14.8" dy="-9">−15</tspan></text>
<line x1="113" y1="1640.5" x2="113" y2="1901.4" stroke="#000" stroke-width="1.3"/>
<line x1="101.6" y1="1901.4" x2="302.3" y2="1901.4" stroke="#000" stroke-width="1.3"/>
<line x1="101.6" y1="1641.1" x2="113" y2="1641.1" stroke="#000" stroke-width="1.3"/>
<text x="91.5" y="1650" font-size="26.7" text-anchor="end" font-family='"Liberation Sans", Arial, sans-serif'>10<tspan font-size="18.6" dy="-12.6">3</tspan></text>
<line x1="101.6" y1="1706.4" x2="113" y2="1706.4" stroke="#000" stroke-width="1.3"/>
<text x="91.5" y="1715.3" font-size="26.7" text-anchor="end" font-family='"Liberation Sans", Arial, sans-serif'>10<tspan font-size="18.6" dy="-12.6">2</tspan></text>
<line x1="101.6" y1="1771.1" x2="113" y2="1771.1" stroke="#000" stroke-width="1.3"/>
<text x="91.5" y="1780" font-size="26.7" text-anchor="end" font-family='"Liberation Sans", Arial, sans-serif'>10<tspan font-size="18.6" dy="-12.6">1</tspan></text>
<line x1="101.6" y1="1836.4" x2="113" y2="1836.4" stroke="#000" stroke-width="1.3"/>
<text x="91.5" y="1845.3" font-size="26.7" text-anchor="end" font-family='"Liberation Sans", Arial, sans-serif'>10<tspan font-size="18.6" dy="-12.6">0</tspan></text>
<line x1="101.6" y1="1901.4" x2="113" y2="1901.4" stroke="#000" stroke-width="1.3"/>
<text x="91.5" y="1910.3" font-size="26.7" text-anchor="end" font-family='"Liberation Sans", Arial, sans-serif'>10<tspan font-size="18.6" dy="-12.6">−1</tspan></text>
<line x1="107.6" y1="1686.7" x2="113" y2="1686.7" stroke="#000" stroke-width="1.2"/>
<line x1="107.6" y1="1675.2" x2="113" y2="1675.2" stroke="#000" stroke-width="1.2"/>
<line x1="107.6" y1="1667.1" x2="113" y2="1667.1" stroke="#000" stroke-width="1.2"/>
<line x1="107.6" y1="1660.8" x2="113" y2="1660.8" stroke="#000" stroke-width="1.2"/>
<line x1="107.6" y1="1655.6" x2="113" y2="1655.6" stroke="#000" stroke-width="1.2"/>
<line x1="107.6" y1="1651.2" x2="113" y2="1651.2" stroke="#000" stroke-width="1.2"/>
<line x1="107.6" y1="1647.5" x2="113" y2="1647.5" stroke="#000" stroke-width="1.2"/>
<line x1="107.6" y1="1644.1" x2="113" y2="1644.1" stroke="#000" stroke-width="1.2"/>
<line x1="107.6" y1="1751.6" x2="113" y2="1751.6" stroke="#000" stroke-width="1.2"/>
<line x1="107.6" y1="1740.2" x2="113" y2="1740.2" stroke="#000" stroke-width="1.2"/>
<line x1="107.6" y1="1732.1" x2="113" y2="1732.1" stroke="#000" stroke-width="1.2"/>
<line x1="107.6" y1="1725.9" x2="113" y2="1725.9" stroke="#000" stroke-width="1.2"/>
<line x1="107.6" y1="1720.7" x2="113" y2="1720.7" stroke="#000" stroke-width="1.2"/>
<line x1="107.6" y1="1716.4" x2="113" y2="1716.4" stroke="#000" stroke-width="1.2"/>
<line x1="107.6" y1="1712.6" x2="113" y2="1712.6" stroke="#000" stroke-width="1.2"/>
<line x1="107.6" y1="1709.3" x2="113" y2="1709.3" stroke="#000" stroke-width="1.2"/>
<line x1="107.6" y1="1816.7" x2="113" y2="1816.7" stroke="#000" stroke-width="1.2"/>
<line x1="107.6" y1="1805.2" x2="113" y2="1805.2" stroke="#000" stroke-width="1.2"/>
<line x1="107.6" y1="1797.1" x2="113" y2="1797.1" stroke="#000" stroke-width="1.2"/>
<line x1="107.6" y1="1790.8" x2="113" y2="1790.8" stroke="#000" stroke-width="1.2"/>
<line x1="107.6" y1="1785.6" x2="113" y2="1785.6" stroke="#000" stroke-width="1.2"/>
<line x1="107.6" y1="1781.2" x2="113" y2="1781.2" stroke="#000" stroke-width="1.2"/>
<line x1="107.6" y1="1777.5" x2="113" y2="1777.5" stroke="#000" stroke-width="1.2"/>
<line x1="107.6" y1="1774.1" x2="113" y2="1774.1" stroke="#000" stroke-width="1.2"/>
<line x1="107.6" y1="1881.8" x2="113" y2="1881.8" stroke="#000" stroke-width="1.2"/>
<line x1="107.6" y1="1870.4" x2="113" y2="1870.4" stroke="#000" stroke-width="1.2"/>
<line x1="107.6" y1="1862.2" x2="113" y2="1862.2" stroke="#000" stroke-width="1.2"/>
<line x1="107.6" y1="1855.9" x2="113" y2="1855.9" stroke="#000" stroke-width="1.2"/>
<line x1="107.6" y1="1850.8" x2="113" y2="1850.8" stroke="#000" stroke-width="1.2"/>
<line x1="107.6" y1="1846.4" x2="113" y2="1846.4" stroke="#000" stroke-width="1.2"/>
<line x1="107.6" y1="1842.7" x2="113" y2="1842.7" stroke="#000" stroke-width="1.2"/>
<line x1="107.6" y1="1839.3" x2="113" y2="1839.3" stroke="#000" stroke-width="1.2"/>
<line x1="136.4" y1="1901.4" x2="136.4" y2="1912.4" stroke="#000" stroke-width="1.3"/>
<line x1="183.6" y1="1901.4" x2="183.6" y2="1912.4" stroke="#000" stroke-width="1.3"/>
<line x1="230.7" y1="1901.4" x2="230.7" y2="1912.4" stroke="#000" stroke-width="1.3"/>
<line x1="278.4" y1="1901.4" x2="278.4" y2="1912.4" stroke="#000" stroke-width="1.3"/>
<line x1="136.4" y1="1788.2" x2="136.4" y2="1826.4" stroke="#000" stroke-width="1.3"/>
<line x1="129.2" y1="1788.2" x2="143.5" y2="1788.2" stroke="#000" stroke-width="1.3"/>
<rect x="120.5" y="1826.4" width="31.8" height="75" fill="#000000" stroke="#000" stroke-width="1.3"/>
<line x1="183.6" y1="1716.6" x2="183.6" y2="1774.5" stroke="#000" stroke-width="1.3"/>
<line x1="176.5" y1="1716.6" x2="190.8" y2="1716.6" stroke="#000" stroke-width="1.3"/>
<line x1="183.6" y1="1898.4" x2="183.6" y2="1901.4" stroke="#000" stroke-width="1.3"/>
<rect x="167.7" y="1774.5" width="31.8" height="123.9" fill="#3f5bff" stroke="#000" stroke-width="1.3"/>
<line x1="167.7" y1="1860.9" x2="199.5" y2="1860.9" stroke="#000" stroke-width="1.3"/>
<line x1="230.7" y1="1710.9" x2="230.7" y2="1720" stroke="#000" stroke-width="1.3"/>
<line x1="223.5" y1="1710.9" x2="237.8" y2="1710.9" stroke="#000" stroke-width="1.3"/>
<line x1="230.7" y1="1867.3" x2="230.7" y2="1901.4" stroke="#000" stroke-width="1.3"/>
<rect x="214.8" y="1720" width="31.8" height="147.3" fill="#9932cc" stroke="#000" stroke-width="1.3"/>
<line x1="214.8" y1="1769.5" x2="246.6" y2="1769.5" stroke="#000" stroke-width="1.3"/>
<line x1="278.4" y1="1707.5" x2="278.4" y2="1710.9" stroke="#000" stroke-width="1.3"/>
<line x1="278.4" y1="1786.4" x2="278.4" y2="1896.1" stroke="#000" stroke-width="1.3"/>
<line x1="271.2" y1="1896.1" x2="285.6" y2="1896.1" stroke="#000" stroke-width="1.3"/>
<rect x="262.5" y="1710.9" width="31.8" height="75.5" fill="#ff2a00" stroke="#000" stroke-width="1.3"/>
<line x1="262.5" y1="1718.9" x2="294.3" y2="1718.9" stroke="#000" stroke-width="1.3"/>
<line x1="114.3" y1="1740.5" x2="293.2" y2="1740.5" stroke="#000" stroke-width="2.6" stroke-linecap="round" stroke-dasharray="0.01,5.13"/>
<circle cx="131.4" cy="1788.2" r="4.9" fill="#fff" stroke="#000" stroke-width="1.3"/>
<circle cx="142.7" cy="1800" r="4.9" fill="#fff" stroke="#000" stroke-width="1.3"/>
<circle cx="136.4" cy="1847.3" r="4.9" fill="#fff" stroke="#000" stroke-width="1.3"/>
<circle cx="130.2" cy="1872.3" r="4.9" fill="#fff" stroke="#000" stroke-width="1.3"/>
<circle cx="142" cy="1876.8" r="4.9" fill="#fff" stroke="#000" stroke-width="1.3"/>
<circle cx="126.1" cy="1901.4" r="4.9" fill="#fff" stroke="#000" stroke-width="1.3"/>
<circle cx="131.8" cy="1901.4" r="4.9" fill="#fff" stroke="#000" stroke-width="1.3"/>
<circle cx="136.4" cy="1901.4" r="4.9" fill="#fff" stroke="#000" stroke-width="1.3"/>
<circle cx="145.5" cy="1901.4" r="4.9" fill="#fff" stroke="#000" stroke-width="1.3"/>
<circle cx="183.6" cy="1716.6" r="4.9" fill="#fff" stroke="#000" stroke-width="1.3"/>
<circle cx="183.6" cy="1749.5" r="4.9" fill="#fff" stroke="#000" stroke-width="1.3"/>
<circle cx="183.6" cy="1793.2" r="4.9" fill="#fff" stroke="#000" stroke-width="1.3"/>
<circle cx="183.6" cy="1837" r="4.9" fill="#fff" stroke="#000" stroke-width="1.3"/>
<circle cx="189.8" cy="1859.3" r="4.9" fill="#fff" stroke="#000" stroke-width="1.3"/>
<circle cx="177.3" cy="1863.9" r="4.9" fill="#fff" stroke="#000" stroke-width="1.3"/>
<circle cx="183.6" cy="1879.1" r="4.9" fill="#fff" stroke="#000" stroke-width="1.3"/>
<circle cx="173.9" cy="1895.5" r="4.9" fill="#fff" stroke="#000" stroke-width="1.3"/>
<circle cx="183.6" cy="1901.4" r="4.9" fill="#fff" stroke="#000" stroke-width="1.3"/>
<circle cx="193.9" cy="1901.4" r="4.9" fill="#fff" stroke="#000" stroke-width="1.3"/>
<circle cx="230.7" cy="1710.5" r="4.9" fill="#fff" stroke="#000" stroke-width="1.3"/>
<circle cx="236.8" cy="1712" r="4.9" fill="#fff" stroke="#000" stroke-width="1.3"/>
<circle cx="225.5" cy="1723.4" r="4.9" fill="#fff" stroke="#000" stroke-width="1.3"/>
<circle cx="225.5" cy="1751.4" r="4.9" fill="#fff" stroke="#000" stroke-width="1.3"/>
<circle cx="236.8" cy="1759.1" r="4.9" fill="#fff" stroke="#000" stroke-width="1.3"/>
<circle cx="225.5" cy="1788.2" r="4.9" fill="#fff" stroke="#000" stroke-width="1.3"/>
<circle cx="236.8" cy="1786.4" r="4.9" fill="#fff" stroke="#000" stroke-width="1.3"/>
<circle cx="230.7" cy="1859.1" r="4.9" fill="#fff" stroke="#000" stroke-width="1.3"/>
<circle cx="225.5" cy="1901.4" r="4.9" fill="#fff" stroke="#000" stroke-width="1.3"/>
<circle cx="236.8" cy="1901.4" r="4.9" fill="#fff" stroke="#000" stroke-width="1.3"/>
<circle cx="268.2" cy="1708.6" r="4.9" fill="#fff" stroke="#000" stroke-width="1.3"/>
<circle cx="273.9" cy="1709.8" r="4.9" fill="#fff" stroke="#000" stroke-width="1.3"/>
<circle cx="283" cy="1710.9" r="4.9" fill="#fff" stroke="#000" stroke-width="1.3"/>
<circle cx="288.6" cy="1709.1" r="4.9" fill="#fff" stroke="#000" stroke-width="1.3"/>
<circle cx="268.2" cy="1718.9" r="4.9" fill="#fff" stroke="#000" stroke-width="1.3"/>
<circle cx="288.2" cy="1717.7" r="4.9" fill="#fff" stroke="#000" stroke-width="1.3"/>
<circle cx="278.4" cy="1728" r="4.9" fill="#fff" stroke="#000" stroke-width="1.3"/>
<circle cx="278.4" cy="1780.9" r="4.9" fill="#fff" stroke="#000" stroke-width="1.3"/>
<circle cx="272.3" cy="1789.3" r="4.9" fill="#fff" stroke="#000" stroke-width="1.3"/>
<circle cx="284.1" cy="1798.9" r="4.9" fill="#fff" stroke="#000" stroke-width="1.3"/>
<circle cx="278.4" cy="1896.1" r="4.9" fill="#fff" stroke="#000" stroke-width="1.3"/>
<polyline points="136.8,1774.5 136.8,1654.1 279.1,1654.1 279.1,1696.8" fill="none" stroke="#000" stroke-width="1.3"/>
<text x="209" y="1655.5" font-size="30" text-anchor="middle" font-weight="normal" font-family='"Liberation Sans", Arial, sans-serif' letter-spacing="2.1">***</text>
<polyline points="181.1,1696.8 181.1,1672.3 278.4,1672.3 278.4,1696.8" fill="none" stroke="#000" stroke-width="1.3"/>
<text x="231.3" y="1677.1" font-size="30" text-anchor="middle" font-weight="normal" font-family='"Liberation Sans", Arial, sans-serif' letter-spacing="2.1">*</text>
<text x="23.4" y="1770.5" font-size="27" text-anchor="middle" font-weight="normal" font-family='"Liberation Sans", Arial, sans-serif' transform="rotate(-90 23.4 1770.5)">S-Flow IgA binding (%)</text>
<text x="1.1" y="1618.9" font-size="29" text-anchor="start" font-weight="bold" font-family='"Liberation Sans", Arial, sans-serif'>h</text>
<line x1="475" y1="1635.8" x2="475" y2="1897.3" stroke="#000" stroke-width="1.3"/>
<line x1="463.6" y1="1897.3" x2="664.8" y2="1897.3" stroke="#000" stroke-width="1.3"/>
<line x1="463.6" y1="1636.4" x2="475" y2="1636.4" stroke="#000" stroke-width="1.3"/>
<text x="453.5" y="1645.3" font-size="26.7" text-anchor="end" font-family='"Liberation Sans", Arial, sans-serif'>10<tspan font-size="18.6" dy="-12.6">5</tspan></text>
<line x1="463.6" y1="1766.6" x2="475" y2="1766.6" stroke="#000" stroke-width="1.3"/>
<text x="453.5" y="1775.5" font-size="26.7" text-anchor="end" font-family='"Liberation Sans", Arial, sans-serif'>10<tspan font-size="18.6" dy="-12.6">4</tspan></text>
<line x1="463.6" y1="1897.3" x2="475" y2="1897.3" stroke="#000" stroke-width="1.3"/>
<text x="453.5" y="1906.2" font-size="26.7" text-anchor="end" font-family='"Liberation Sans", Arial, sans-serif'>10<tspan font-size="18.6" dy="-12.6">3</tspan></text>
<line x1="469.6" y1="1727.4" x2="475" y2="1727.4" stroke="#000" stroke-width="1.2"/>
<line x1="469.6" y1="1704.5" x2="475" y2="1704.5" stroke="#000" stroke-width="1.2"/>
<line x1="469.6" y1="1688.2" x2="475" y2="1688.2" stroke="#000" stroke-width="1.2"/>
<line x1="469.6" y1="1675.6" x2="475" y2="1675.6" stroke="#000" stroke-width="1.2"/>
<line x1="469.6" y1="1665.3" x2="475" y2="1665.3" stroke="#000" stroke-width="1.2"/>
<line x1="469.6" y1="1656.5" x2="475" y2="1656.5" stroke="#000" stroke-width="1.2"/>
<line x1="469.6" y1="1649" x2="475" y2="1649" stroke="#000" stroke-width="1.2"/>
<line x1="469.6" y1="1642.3" x2="475" y2="1642.3" stroke="#000" stroke-width="1.2"/>
<line x1="469.6" y1="1857.9" x2="475" y2="1857.9" stroke="#000" stroke-width="1.2"/>
<line x1="469.6" y1="1834.9" x2="475" y2="1834.9" stroke="#000" stroke-width="1.2"/>
<line x1="469.6" y1="1818.6" x2="475" y2="1818.6" stroke="#000" stroke-width="1.2"/>
<line x1="469.6" y1="1805.9" x2="475" y2="1805.9" stroke="#000" stroke-width="1.2"/>
<line x1="469.6" y1="1795.6" x2="475" y2="1795.6" stroke="#000" stroke-width="1.2"/>
<line x1="469.6" y1="1786.8" x2="475" y2="1786.8" stroke="#000" stroke-width="1.2"/>
<line x1="469.6" y1="1779.3" x2="475" y2="1779.3" stroke="#000" stroke-width="1.2"/>
<line x1="469.6" y1="1772.6" x2="475" y2="1772.6" stroke="#000" stroke-width="1.2"/>
<line x1="498.9" y1="1897.3" x2="498.9" y2="1908.3" stroke="#000" stroke-width="1.3"/>
<line x1="545.9" y1="1897.3" x2="545.9" y2="1908.3" stroke="#000" stroke-width="1.3"/>
<line x1="593.2" y1="1897.3" x2="593.2" y2="1908.3" stroke="#000" stroke-width="1.3"/>
<line x1="640.5" y1="1897.3" x2="640.5" y2="1908.3" stroke="#000" stroke-width="1.3"/>
<line x1="498.9" y1="1854.1" x2="498.9" y2="1868.4" stroke="#000" stroke-width="1.3"/>
<line x1="498.9" y1="1884.3" x2="498.9" y2="1897.3" stroke="#000" stroke-width="1.3"/>
<rect x="483" y="1868.4" width="31.8" height="15.9" fill="#000000" stroke="#000" stroke-width="1.3"/>
<line x1="483" y1="1876.8" x2="514.8" y2="1876.8" stroke="#000" stroke-width="1.3"/>
<line x1="545.9" y1="1854.1" x2="545.9" y2="1870" stroke="#000" stroke-width="1.3"/>
<line x1="538.8" y1="1854.1" x2="553.1" y2="1854.1" stroke="#000" stroke-width="1.3"/>
<line x1="545.9" y1="1883.6" x2="545.9" y2="1893.9" stroke="#000" stroke-width="1.3"/>
<line x1="538.8" y1="1893.9" x2="553.1" y2="1893.9" stroke="#000" stroke-width="1.3"/>
<rect x="530" y="1870" width="31.8" height="13.6" fill="#3f5bff" stroke="#000" stroke-width="1.3"/>
<line x1="530" y1="1882.5" x2="561.8" y2="1882.5" stroke="#000" stroke-width="1.3"/>
<line x1="593.2" y1="1780.2" x2="593.2" y2="1854.1" stroke="#000" stroke-width="1.3"/>
<line x1="586" y1="1780.2" x2="600.3" y2="1780.2" stroke="#000" stroke-width="1.3"/>
<line x1="593.2" y1="1883.6" x2="593.2" y2="1887" stroke="#000" stroke-width="1.3"/>
<rect x="577.3" y="1854.1" width="31.8" height="29.5" fill="#9932cc" stroke="#000" stroke-width="1.3"/>
<line x1="577.3" y1="1874.1" x2="609.1" y2="1874.1" stroke="#000" stroke-width="1.3"/>
<line x1="640.5" y1="1768.9" x2="640.5" y2="1813.2" stroke="#000" stroke-width="1.3"/>
<line x1="633.3" y1="1768.9" x2="647.6" y2="1768.9" stroke="#000" stroke-width="1.3"/>
<line x1="640.5" y1="1885.9" x2="640.5" y2="1893.9" stroke="#000" stroke-width="1.3"/>
<rect x="624.5" y="1813.2" width="31.8" height="72.7" fill="#ff2a00" stroke="#000" stroke-width="1.3"/>
<line x1="624.5" y1="1866.1" x2="656.4" y2="1866.1" stroke="#000" stroke-width="1.3"/>
<circle cx="493.6" cy="1854.1" r="4.9" fill="#fff" stroke="#000" stroke-width="1.3"/>
<circle cx="504.5" cy="1854.1" r="4.9" fill="#fff" stroke="#000" stroke-width="1.3"/>
<circle cx="508.6" cy="1872.3" r="4.9" fill="#fff" stroke="#000" stroke-width="1.3"/>
<circle cx="488.6" cy="1879.1" r="4.9" fill="#fff" stroke="#000" stroke-width="1.3"/>
<circle cx="495.5" cy="1883.6" r="4.9" fill="#fff" stroke="#000" stroke-width="1.3"/>
<circle cx="504.5" cy="1880.2" r="4.9" fill="#fff" stroke="#000" stroke-width="1.3"/>
<circle cx="498.9" cy="1897.3" r="4.9" fill="#fff" stroke="#000" stroke-width="1.3"/>
<circle cx="545.9" cy="1854.1" r="4.9" fill="#fff" stroke="#000" stroke-width="1.3"/>
<circle cx="539.8" cy="1867.7" r="4.9" fill="#fff" stroke="#000" stroke-width="1.3"/>
<circle cx="550" cy="1868.9" r="4.9" fill="#fff" stroke="#000" stroke-width="1.3"/>
<circle cx="537.5" cy="1874.1" r="4.9" fill="#fff" stroke="#000" stroke-width="1.3"/>
<circle cx="548.9" cy="1877.5" r="4.9" fill="#fff" stroke="#000" stroke-width="1.3"/>
<circle cx="555.7" cy="1875.7" r="4.9" fill="#fff" stroke="#000" stroke-width="1.3"/>
<circle cx="536.4" cy="1883.6" r="4.9" fill="#fff" stroke="#000" stroke-width="1.3"/>
<circle cx="545.9" cy="1884.8" r="4.9" fill="#fff" stroke="#000" stroke-width="1.3"/>
<circle cx="555.7" cy="1885.9" r="4.9" fill="#fff" stroke="#000" stroke-width="1.3"/>
<circle cx="545.9" cy="1893.9" r="4.9" fill="#fff" stroke="#000" stroke-width="1.3"/>
<circle cx="593.2" cy="1780.2" r="4.9" fill="#fff" stroke="#000" stroke-width="1.3"/>
<circle cx="593.2" cy="1841.6" r="4.9" fill="#fff" stroke="#000" stroke-width="1.3"/>
<circle cx="583" cy="1864.3" r="4.9" fill="#fff" stroke="#000" stroke-width="1.3"/>
<circle cx="602.7" cy="1858.6" r="4.9" fill="#fff" stroke="#000" stroke-width="1.3"/>
<circle cx="593.2" cy="1868.4" r="4.9" fill="#fff" stroke="#000" stroke-width="1.3"/>
<circle cx="583" cy="1879.5" r="4.9" fill="#fff" stroke="#000" stroke-width="1.3"/>
<circle cx="593.2" cy="1884.1" r="4.9" fill="#fff" stroke="#000" stroke-width="1.3"/>
<circle cx="602.7" cy="1883.2" r="4.9" fill="#fff" stroke="#000" stroke-width="1.3"/>
<circle cx="597.7" cy="1884.8" r="4.9" fill="#fff" stroke="#000" stroke-width="1.3"/>
<circle cx="640.5" cy="1768.9" r="4.9" fill="#fff" stroke="#000" stroke-width="1.3"/>
<circle cx="640.5" cy="1781.4" r="4.9" fill="#fff" stroke="#000" stroke-width="1.3"/>
<circle cx="640.5" cy="1808" r="4.9" fill="#fff" stroke="#000" stroke-width="1.3"/>
<circle cx="634.1" cy="1831.8" r="4.9" fill="#fff" stroke="#000" stroke-width="1.3"/>
<circle cx="646.1" cy="1839.3" r="4.9" fill="#fff" stroke="#000" stroke-width="1.3"/>
<circle cx="640.5" cy="1857" r="4.9" fill="#fff" stroke="#000" stroke-width="1.3"/>
<circle cx="640.5" cy="1878" r="4.9" fill="#fff" stroke="#000" stroke-width="1.3"/>
<circle cx="631.1" cy="1883.2" r="4.9" fill="#fff" stroke="#000" stroke-width="1.3"/>
<circle cx="650" cy="1884.8" r="4.9" fill="#fff" stroke="#000" stroke-width="1.3"/>
<circle cx="645.5" cy="1888.6" r="4.9" fill="#fff" stroke="#000" stroke-width="1.3"/>
<circle cx="640.5" cy="1893.9" r="4.9" fill="#fff" stroke="#000" stroke-width="1.3"/>
<polyline points="503.9,1835.5 503.9,1714.3 638.6,1714.3 638.6,1754.5" fill="none" stroke="#000" stroke-width="1.3"/>
<text x="572" y="1715.7" font-size="30" text-anchor="middle" font-weight="normal" font-family='"Liberation Sans", Arial, sans-serif' letter-spacing="2.1">*</text>
<text x="388.6" y="1767.3" font-size="27" text-anchor="middle" font-weight="normal" font-family='"Liberation Sans", Arial, sans-serif' transform="rotate(-90 388.6 1767.3)">S-Flow IgA MFI</text>
<line x1="865.5" y1="1630.3" x2="865.5" y2="1891.1" stroke="#000" stroke-width="1.3"/>
<line x1="854.1" y1="1891.1" x2="1055.2" y2="1891.1" stroke="#000" stroke-width="1.3"/>
<line x1="854.1" y1="1630.9" x2="865.5" y2="1630.9" stroke="#000" stroke-width="1.3"/>
<text x="844" y="1639.8" font-size="26.7" text-anchor="end" font-family='"Liberation Sans", Arial, sans-serif'>10<tspan font-size="18.6" dy="-12.6">1</tspan></text>
<line x1="854.1" y1="1761.4" x2="865.5" y2="1761.4" stroke="#000" stroke-width="1.3"/>
<text x="844" y="1770.3" font-size="26.7" text-anchor="end" font-family='"Liberation Sans", Arial, sans-serif'>10<tspan font-size="18.6" dy="-12.6">0</tspan></text>
<line x1="854.1" y1="1891.1" x2="865.5" y2="1891.1" stroke="#000" stroke-width="1.3"/>
<text x="844" y="1900" font-size="26.7" text-anchor="end" font-family='"Liberation Sans", Arial, sans-serif'>10<tspan font-size="18.6" dy="-12.6">−1</tspan></text>
<line x1="860.1" y1="1722.1" x2="865.5" y2="1722.1" stroke="#000" stroke-width="1.2"/>
<line x1="860.1" y1="1699.1" x2="865.5" y2="1699.1" stroke="#000" stroke-width="1.2"/>
<line x1="860.1" y1="1682.8" x2="865.5" y2="1682.8" stroke="#000" stroke-width="1.2"/>
<line x1="860.1" y1="1670.2" x2="865.5" y2="1670.2" stroke="#000" stroke-width="1.2"/>
<line x1="860.1" y1="1659.9" x2="865.5" y2="1659.9" stroke="#000" stroke-width="1.2"/>
<line x1="860.1" y1="1651.1" x2="865.5" y2="1651.1" stroke="#000" stroke-width="1.2"/>
<line x1="860.1" y1="1643.6" x2="865.5" y2="1643.6" stroke="#000" stroke-width="1.2"/>
<line x1="860.1" y1="1636.9" x2="865.5" y2="1636.9" stroke="#000" stroke-width="1.2"/>
<line x1="860.1" y1="1852.1" x2="865.5" y2="1852.1" stroke="#000" stroke-width="1.2"/>
<line x1="860.1" y1="1829.2" x2="865.5" y2="1829.2" stroke="#000" stroke-width="1.2"/>
<line x1="860.1" y1="1813" x2="865.5" y2="1813" stroke="#000" stroke-width="1.2"/>
<line x1="860.1" y1="1800.4" x2="865.5" y2="1800.4" stroke="#000" stroke-width="1.2"/>
<line x1="860.1" y1="1790.2" x2="865.5" y2="1790.2" stroke="#000" stroke-width="1.2"/>
<line x1="860.1" y1="1781.5" x2="865.5" y2="1781.5" stroke="#000" stroke-width="1.2"/>
<line x1="860.1" y1="1773.9" x2="865.5" y2="1773.9" stroke="#000" stroke-width="1.2"/>
<line x1="860.1" y1="1767.3" x2="865.5" y2="1767.3" stroke="#000" stroke-width="1.2"/>
<line x1="888.6" y1="1891.1" x2="888.6" y2="1902.1" stroke="#000" stroke-width="1.3"/>
<line x1="936.4" y1="1891.1" x2="936.4" y2="1902.1" stroke="#000" stroke-width="1.3"/>
<line x1="983.4" y1="1891.1" x2="983.4" y2="1902.1" stroke="#000" stroke-width="1.3"/>
<line x1="1030.7" y1="1891.1" x2="1030.7" y2="1902.1" stroke="#000" stroke-width="1.3"/>
<line x1="888.6" y1="1839.3" x2="888.6" y2="1854.8" stroke="#000" stroke-width="1.3"/>
<line x1="881.6" y1="1839.3" x2="895.7" y2="1839.3" stroke="#000" stroke-width="1.3"/>
<line x1="888.6" y1="1878" x2="888.6" y2="1891.1" stroke="#000" stroke-width="1.3"/>
<rect x="873" y="1854.8" width="31.4" height="23.2" fill="#000000" stroke="#000" stroke-width="1.3"/>
<line x1="936.4" y1="1763.6" x2="936.4" y2="1800" stroke="#000" stroke-width="1.3"/>
<line x1="929.3" y1="1763.6" x2="943.4" y2="1763.6" stroke="#000" stroke-width="1.3"/>
<line x1="936.4" y1="1866.1" x2="936.4" y2="1891.1" stroke="#000" stroke-width="1.3"/>
<rect x="920.7" y="1800" width="31.4" height="66.1" fill="#3f5bff" stroke="#000" stroke-width="1.3"/>
<line x1="920.7" y1="1843.9" x2="952" y2="1843.9" stroke="#000" stroke-width="1.3"/>
<line x1="983.4" y1="1719.3" x2="983.4" y2="1762.5" stroke="#000" stroke-width="1.3"/>
<line x1="976.4" y1="1719.3" x2="990.5" y2="1719.3" stroke="#000" stroke-width="1.3"/>
<line x1="983.4" y1="1846.8" x2="983.4" y2="1891.1" stroke="#000" stroke-width="1.3"/>
<rect x="967.7" y="1762.5" width="31.4" height="84.3" fill="#9533ff" stroke="#000" stroke-width="1.3"/>
<line x1="967.7" y1="1812.5" x2="999.1" y2="1812.5" stroke="#000" stroke-width="1.3"/>
<line x1="1030.7" y1="1719.3" x2="1030.7" y2="1743.9" stroke="#000" stroke-width="1.3"/>
<line x1="1023.6" y1="1719.3" x2="1037.7" y2="1719.3" stroke="#000" stroke-width="1.3"/>
<line x1="1030.7" y1="1821.8" x2="1030.7" y2="1872.3" stroke="#000" stroke-width="1.3"/>
<line x1="1023.6" y1="1872.3" x2="1037.7" y2="1872.3" stroke="#000" stroke-width="1.3"/>
<rect x="1015" y="1743.9" width="31.4" height="78" fill="#ff2a00" stroke="#000" stroke-width="1.3"/>
<line x1="1015" y1="1783.2" x2="1046.4" y2="1783.2" stroke="#000" stroke-width="1.3"/>
<circle cx="883" cy="1839.3" r="4.9" fill="#fff" stroke="#000" stroke-width="1.3"/>
<circle cx="901.1" cy="1849.1" r="4.9" fill="#fff" stroke="#000" stroke-width="1.3"/>
<circle cx="894.8" cy="1856.4" r="4.9" fill="#fff" stroke="#000" stroke-width="1.3"/>
<circle cx="877.3" cy="1865.9" r="4.9" fill="#fff" stroke="#000" stroke-width="1.3"/>
<circle cx="883.6" cy="1863.2" r="4.9" fill="#fff" stroke="#000" stroke-width="1.3"/>
<circle cx="901.1" cy="1865.9" r="4.9" fill="#fff" stroke="#000" stroke-width="1.3"/>
<circle cx="889.8" cy="1870" r="4.9" fill="#fff" stroke="#000" stroke-width="1.3"/>
<circle cx="893.2" cy="1876.4" r="4.9" fill="#fff" stroke="#000" stroke-width="1.3"/>
<circle cx="894.8" cy="1883.6" r="4.9" fill="#fff" stroke="#000" stroke-width="1.3"/>
<circle cx="883" cy="1891.1" r="4.9" fill="#fff" stroke="#000" stroke-width="1.3"/>
<circle cx="936.4" cy="1763.6" r="4.9" fill="#fff" stroke="#000" stroke-width="1.3"/>
<circle cx="942.7" cy="1795.5" r="4.9" fill="#fff" stroke="#000" stroke-width="1.3"/>
<circle cx="930.2" cy="1801.4" r="4.9" fill="#fff" stroke="#000" stroke-width="1.3"/>
<circle cx="930.2" cy="1834.8" r="4.9" fill="#fff" stroke="#000" stroke-width="1.3"/>
<circle cx="948.9" cy="1839.3" r="4.9" fill="#fff" stroke="#000" stroke-width="1.3"/>
<circle cx="942.7" cy="1849.5" r="4.9" fill="#fff" stroke="#000" stroke-width="1.3"/>
<circle cx="930.2" cy="1854.1" r="4.9" fill="#fff" stroke="#000" stroke-width="1.3"/>
<circle cx="930.2" cy="1866.1" r="4.9" fill="#fff" stroke="#000" stroke-width="1.3"/>
<circle cx="942.7" cy="1868.9" r="4.9" fill="#fff" stroke="#000" stroke-width="1.3"/>
<circle cx="936.4" cy="1890.5" r="4.9" fill="#fff" stroke="#000" stroke-width="1.3"/>
<circle cx="983.4" cy="1719.3" r="4.9" fill="#fff" stroke="#000" stroke-width="1.3"/>
<circle cx="977.7" cy="1760.2" r="4.9" fill="#fff" stroke="#000" stroke-width="1.3"/>
<circle cx="989.1" cy="1763.2" r="4.9" fill="#fff" stroke="#000" stroke-width="1.3"/>
<circle cx="977.7" cy="1803.6" r="4.9" fill="#fff" stroke="#000" stroke-width="1.3"/>
<circle cx="989.1" cy="1803.6" r="4.9" fill="#fff" stroke="#000" stroke-width="1.3"/>
<circle cx="977.7" cy="1821.8" r="4.9" fill="#fff" stroke="#000" stroke-width="1.3"/>
<circle cx="989.1" cy="1823" r="4.9" fill="#fff" stroke="#000" stroke-width="1.3"/>
<circle cx="983.4" cy="1840.5" r="4.9" fill="#fff" stroke="#000" stroke-width="1.3"/>
<circle cx="983.4" cy="1873.4" r="4.9" fill="#fff" stroke="#000" stroke-width="1.3"/>
<circle cx="983.4" cy="1891.1" r="4.9" fill="#fff" stroke="#000" stroke-width="1.3"/>
<circle cx="1030.7" cy="1719.3" r="4.9" fill="#fff" stroke="#000" stroke-width="1.3"/>
<circle cx="1025" cy="1728" r="4.9" fill="#fff" stroke="#000" stroke-width="1.3"/>
<circle cx="1035.9" cy="1738.2" r="4.9" fill="#fff" stroke="#000" stroke-width="1.3"/>
<circle cx="1020" cy="1765" r="4.9" fill="#fff" stroke="#000" stroke-width="1.3"/>
<circle cx="1030.7" cy="1770.5" r="4.9" fill="#fff" stroke="#000" stroke-width="1.3"/>
<circle cx="1040.9" cy="1767.7" r="4.9" fill="#fff" stroke="#000" stroke-width="1.3"/>
<circle cx="1024.5" cy="1799.5" r="4.9" fill="#fff" stroke="#000" stroke-width="1.3"/>
<circle cx="1035.9" cy="1805.2" r="4.9" fill="#fff" stroke="#000" stroke-width="1.3"/>
<circle cx="1025" cy="1823.4" r="4.9" fill="#fff" stroke="#000" stroke-width="1.3"/>
<circle cx="1035.9" cy="1818.9" r="4.9" fill="#fff" stroke="#000" stroke-width="1.3"/>
<circle cx="1030.7" cy="1839.3" r="4.9" fill="#fff" stroke="#000" stroke-width="1.3"/>
<circle cx="1030.7" cy="1872.3" r="4.9" fill="#fff" stroke="#000" stroke-width="1.3"/>
<polyline points="894.3,1824.5 894.3,1673.6 981.8,1673.6 981.8,1697.3" fill="none" stroke="#000" stroke-width="1.3"/>
<text x="939" y="1678.2" font-size="30" text-anchor="middle" font-weight="normal" font-family='"Liberation Sans", Arial, sans-serif' letter-spacing="2.1">*</text>
<polyline points="894.3,1824.5 894.3,1655.2 1025,1655.2 1025,1696.1" fill="none" stroke="#000" stroke-width="1.3"/>
<text x="960.1" y="1655.5" font-size="30" text-anchor="middle" font-weight="normal" font-family='"Liberation Sans", Arial, sans-serif' letter-spacing="2.1">***</text>
<text x="744.3" y="1761.4" font-size="27" text-anchor="middle" font-weight="normal" font-family='"Liberation Sans", Arial, sans-serif' transform="rotate(-90 744.3 1761.4)">Anti-spike</text>
<text x="777.3" y="1760.5" font-size="27" text-anchor="middle" font-weight="normal" font-family='"Liberation Sans", Arial, sans-serif' transform="rotate(-90 777.3 1760.5)">IgA OD ELISA</text>
<line x1="1235.7" y1="1625.8" x2="1235.7" y2="1885.2" stroke="#000" stroke-width="1.3"/>
<line x1="1224.3" y1="1885.2" x2="1423.9" y2="1885.2" stroke="#000" stroke-width="1.3"/>
<line x1="1224.3" y1="1626.4" x2="1235.7" y2="1626.4" stroke="#000" stroke-width="1.3"/>
<text x="1214.2" y="1635.3" font-size="26.7" text-anchor="end" font-family='"Liberation Sans", Arial, sans-serif'>10<tspan font-size="18.6" dy="-12.6">1</tspan></text>
<line x1="1224.3" y1="1755.7" x2="1235.7" y2="1755.7" stroke="#000" stroke-width="1.3"/>
<text x="1214.2" y="1764.6" font-size="26.7" text-anchor="end" font-family='"Liberation Sans", Arial, sans-serif'>10<tspan font-size="18.6" dy="-12.6">0</tspan></text>
<line x1="1224.3" y1="1885.2" x2="1235.7" y2="1885.2" stroke="#000" stroke-width="1.3"/>
<text x="1214.2" y="1894.1" font-size="26.7" text-anchor="end" font-family='"Liberation Sans", Arial, sans-serif'>10<tspan font-size="18.6" dy="-12.6">−1</tspan></text>
<line x1="1230.3" y1="1716.8" x2="1235.7" y2="1716.8" stroke="#000" stroke-width="1.2"/>
<line x1="1230.3" y1="1694" x2="1235.7" y2="1694" stroke="#000" stroke-width="1.2"/>
<line x1="1230.3" y1="1677.8" x2="1235.7" y2="1677.8" stroke="#000" stroke-width="1.2"/>
<line x1="1230.3" y1="1665.3" x2="1235.7" y2="1665.3" stroke="#000" stroke-width="1.2"/>
<line x1="1230.3" y1="1655.1" x2="1235.7" y2="1655.1" stroke="#000" stroke-width="1.2"/>
<line x1="1230.3" y1="1646.4" x2="1235.7" y2="1646.4" stroke="#000" stroke-width="1.2"/>
<line x1="1230.3" y1="1638.9" x2="1235.7" y2="1638.9" stroke="#000" stroke-width="1.2"/>
<line x1="1230.3" y1="1632.3" x2="1235.7" y2="1632.3" stroke="#000" stroke-width="1.2"/>
<line x1="1230.3" y1="1846.2" x2="1235.7" y2="1846.2" stroke="#000" stroke-width="1.2"/>
<line x1="1230.3" y1="1823.4" x2="1235.7" y2="1823.4" stroke="#000" stroke-width="1.2"/>
<line x1="1230.3" y1="1807.2" x2="1235.7" y2="1807.2" stroke="#000" stroke-width="1.2"/>
<line x1="1230.3" y1="1794.7" x2="1235.7" y2="1794.7" stroke="#000" stroke-width="1.2"/>
<line x1="1230.3" y1="1784.4" x2="1235.7" y2="1784.4" stroke="#000" stroke-width="1.2"/>
<line x1="1230.3" y1="1775.7" x2="1235.7" y2="1775.7" stroke="#000" stroke-width="1.2"/>
<line x1="1230.3" y1="1768.2" x2="1235.7" y2="1768.2" stroke="#000" stroke-width="1.2"/>
<line x1="1230.3" y1="1761.6" x2="1235.7" y2="1761.6" stroke="#000" stroke-width="1.2"/>
<line x1="1259.1" y1="1885.2" x2="1259.1" y2="1896.2" stroke="#000" stroke-width="1.3"/>
<line x1="1306.1" y1="1885.2" x2="1306.1" y2="1896.2" stroke="#000" stroke-width="1.3"/>
<line x1="1353" y1="1885.2" x2="1353" y2="1896.2" stroke="#000" stroke-width="1.3"/>
<line x1="1400" y1="1885.2" x2="1400" y2="1896.2" stroke="#000" stroke-width="1.3"/>
<line x1="1259.1" y1="1825.7" x2="1259.1" y2="1832.5" stroke="#000" stroke-width="1.3"/>
<line x1="1259.1" y1="1846.6" x2="1259.1" y2="1850.7" stroke="#000" stroke-width="1.3"/>
<rect x="1243.6" y="1832.5" width="30.9" height="14.1" fill="#000000" stroke="#000" stroke-width="1.3"/>
<line x1="1243.6" y1="1839.3" x2="1274.5" y2="1839.3" stroke="#000" stroke-width="1.3"/>
<line x1="1306.1" y1="1778" x2="1306.1" y2="1811.4" stroke="#000" stroke-width="1.3"/>
<line x1="1299.2" y1="1778" x2="1313.1" y2="1778" stroke="#000" stroke-width="1.3"/>
<line x1="1306.1" y1="1838.6" x2="1306.1" y2="1845" stroke="#000" stroke-width="1.3"/>
<rect x="1290.7" y="1811.4" width="30.9" height="27.3" fill="#3f5bff" stroke="#000" stroke-width="1.3"/>
<line x1="1290.7" y1="1832.5" x2="1321.6" y2="1832.5" stroke="#000" stroke-width="1.3"/>
<line x1="1353" y1="1737.7" x2="1353" y2="1780.2" stroke="#000" stroke-width="1.3"/>
<line x1="1346" y1="1737.7" x2="1359.9" y2="1737.7" stroke="#000" stroke-width="1.3"/>
<line x1="1353" y1="1836.4" x2="1353" y2="1854.8" stroke="#000" stroke-width="1.3"/>
<line x1="1346" y1="1854.8" x2="1359.9" y2="1854.8" stroke="#000" stroke-width="1.3"/>
<rect x="1337.5" y="1780.2" width="30.9" height="56.1" fill="#9533ff" stroke="#000" stroke-width="1.3"/>
<line x1="1337.5" y1="1803.6" x2="1368.4" y2="1803.6" stroke="#000" stroke-width="1.3"/>
<line x1="1400" y1="1743.9" x2="1400" y2="1760.9" stroke="#000" stroke-width="1.3"/>
<line x1="1392.9" y1="1743.9" x2="1407.1" y2="1743.9" stroke="#000" stroke-width="1.3"/>
<line x1="1400" y1="1824.1" x2="1400" y2="1837.5" stroke="#000" stroke-width="1.3"/>
<line x1="1392.9" y1="1837.5" x2="1407.1" y2="1837.5" stroke="#000" stroke-width="1.3"/>
<rect x="1384.3" y="1760.9" width="31.4" height="63.2" fill="#ff2a00" stroke="#000" stroke-width="1.3"/>
<line x1="1384.3" y1="1793.9" x2="1415.7" y2="1793.9" stroke="#000" stroke-width="1.3"/>
<circle cx="1269.3" cy="1825.7" r="4.9" fill="#fff" stroke="#000" stroke-width="1.3"/>
<circle cx="1248.9" cy="1831.8" r="4.9" fill="#fff" stroke="#000" stroke-width="1.3"/>
<circle cx="1259.1" cy="1832.5" r="4.9" fill="#fff" stroke="#000" stroke-width="1.3"/>
<circle cx="1248.9" cy="1839.3" r="4.9" fill="#fff" stroke="#000" stroke-width="1.3"/>
<circle cx="1269.3" cy="1840.5" r="4.9" fill="#fff" stroke="#000" stroke-width="1.3"/>
<circle cx="1264.8" cy="1842.7" r="4.9" fill="#fff" stroke="#000" stroke-width="1.3"/>
<circle cx="1255.7" cy="1846.1" r="4.9" fill="#fff" stroke="#000" stroke-width="1.3"/>
<circle cx="1261.8" cy="1847.3" r="4.9" fill="#fff" stroke="#000" stroke-width="1.3"/>
<circle cx="1306.1" cy="1778" r="4.9" fill="#fff" stroke="#000" stroke-width="1.3"/>
<circle cx="1306.1" cy="1800.7" r="4.9" fill="#fff" stroke="#000" stroke-width="1.3"/>
<circle cx="1306.1" cy="1815.5" r="4.9" fill="#fff" stroke="#000" stroke-width="1.3"/>
<circle cx="1295.9" cy="1827.3" r="4.9" fill="#fff" stroke="#000" stroke-width="1.3"/>
<circle cx="1315.9" cy="1825.7" r="4.9" fill="#fff" stroke="#000" stroke-width="1.3"/>
<circle cx="1306.1" cy="1830.9" r="4.9" fill="#fff" stroke="#000" stroke-width="1.3"/>
<circle cx="1294.3" cy="1837" r="4.9" fill="#fff" stroke="#000" stroke-width="1.3"/>
<circle cx="1317.7" cy="1834.1" r="4.9" fill="#fff" stroke="#000" stroke-width="1.3"/>
<circle cx="1301.1" cy="1845" r="4.9" fill="#fff" stroke="#000" stroke-width="1.3"/>
<circle cx="1310.2" cy="1845" r="4.9" fill="#fff" stroke="#000" stroke-width="1.3"/>
<circle cx="1353" cy="1737.7" r="4.9" fill="#fff" stroke="#000" stroke-width="1.3"/>
<circle cx="1358.6" cy="1772.3" r="4.9" fill="#fff" stroke="#000" stroke-width="1.3"/>
<circle cx="1347.3" cy="1783.2" r="4.9" fill="#fff" stroke="#000" stroke-width="1.3"/>
<circle cx="1347.3" cy="1801.4" r="4.9" fill="#fff" stroke="#000" stroke-width="1.3"/>
<circle cx="1364.1" cy="1801.4" r="4.9" fill="#fff" stroke="#000" stroke-width="1.3"/>
<circle cx="1358.6" cy="1806.4" r="4.9" fill="#fff" stroke="#000" stroke-width="1.3"/>
<circle cx="1347.3" cy="1815.5" r="4.9" fill="#fff" stroke="#000" stroke-width="1.3"/>
<circle cx="1353" cy="1833.6" r="4.9" fill="#fff" stroke="#000" stroke-width="1.3"/>
<circle cx="1358.6" cy="1846.1" r="4.9" fill="#fff" stroke="#000" stroke-width="1.3"/>
<circle cx="1347.3" cy="1854.8" r="4.9" fill="#fff" stroke="#000" stroke-width="1.3"/>
<circle cx="1400" cy="1743.9" r="4.9" fill="#fff" stroke="#000" stroke-width="1.3"/>
<circle cx="1405.7" cy="1753.6" r="4.9" fill="#fff" stroke="#000" stroke-width="1.3"/>
<circle cx="1388.6" cy="1758.2" r="4.9" fill="#fff" stroke="#000" stroke-width="1.3"/>
<circle cx="1394.3" cy="1768.2" r="4.9" fill="#fff" stroke="#000" stroke-width="1.3"/>
<circle cx="1411.8" cy="1779.1" r="4.9" fill="#fff" stroke="#000" stroke-width="1.3"/>
<circle cx="1405.7" cy="1790.5" r="4.9" fill="#fff" stroke="#000" stroke-width="1.3"/>
<circle cx="1394.3" cy="1799.1" r="4.9" fill="#fff" stroke="#000" stroke-width="1.3"/>
<circle cx="1409.5" cy="1814.8" r="4.9" fill="#fff" stroke="#000" stroke-width="1.3"/>
<circle cx="1389.8" cy="1820.5" r="4.9" fill="#fff" stroke="#000" stroke-width="1.3"/>
<circle cx="1400" cy="1825.7" r="4.9" fill="#fff" stroke="#000" stroke-width="1.3"/>
<circle cx="1405.7" cy="1830.2" r="4.9" fill="#fff" stroke="#000" stroke-width="1.3"/>
<circle cx="1394.3" cy="1837.5" r="4.9" fill="#fff" stroke="#000" stroke-width="1.3"/>
<polyline points="1264.8,1801.8 1264.8,1700.2 1351.1,1700.2 1351.1,1724.5" fill="none" stroke="#000" stroke-width="1.3"/>
<text x="1308.3" y="1705.5" font-size="30" text-anchor="middle" font-weight="normal" font-family='"Liberation Sans", Arial, sans-serif' letter-spacing="2.1">*</text>
<polyline points="1264.1,1801.8 1264.1,1682.5 1394.8,1682.5 1394.8,1723.4" fill="none" stroke="#000" stroke-width="1.3"/>
<text x="1330.6" y="1685.1" font-size="30" text-anchor="middle" font-weight="normal" font-family='"Liberation Sans", Arial, sans-serif' letter-spacing="2.1">***</text>
<text x="1110.2" y="1755.2" font-size="27" text-anchor="middle" font-weight="normal" font-family='"Liberation Sans", Arial, sans-serif' transform="rotate(-90 1110.2 1755.2)">Anti-spike</text>
<text x="1143.2" y="1754.5" font-size="27" text-anchor="middle" font-weight="normal" font-family='"Liberation Sans", Arial, sans-serif' transform="rotate(-90 1143.2 1754.5)">IgA AUC ELISA</text>
<line x1="129.5" y1="1991" x2="129.5" y2="2258.2" stroke="#000" stroke-width="1.3"/>
<line x1="118.2" y1="2258.2" x2="323.2" y2="2258.2" stroke="#000" stroke-width="1.3"/>
<line x1="118.1" y1="1991.6" x2="129.5" y2="1991.6" stroke="#000" stroke-width="1.3"/>
<text x="108" y="2000.5" font-size="26.7" text-anchor="end" font-family='"Liberation Sans", Arial, sans-serif'>10<tspan font-size="18.6" dy="-12.6">3</tspan></text>
<line x1="118.1" y1="2058.2" x2="129.5" y2="2058.2" stroke="#000" stroke-width="1.3"/>
<text x="108" y="2067.1" font-size="26.7" text-anchor="end" font-family='"Liberation Sans", Arial, sans-serif'>10<tspan font-size="18.6" dy="-12.6">2</tspan></text>
<line x1="118.1" y1="2124.8" x2="129.5" y2="2124.8" stroke="#000" stroke-width="1.3"/>
<text x="108" y="2133.7" font-size="26.7" text-anchor="end" font-family='"Liberation Sans", Arial, sans-serif'>10<tspan font-size="18.6" dy="-12.6">1</tspan></text>
<line x1="118.1" y1="2191.6" x2="129.5" y2="2191.6" stroke="#000" stroke-width="1.3"/>
<text x="108" y="2200.5" font-size="26.7" text-anchor="end" font-family='"Liberation Sans", Arial, sans-serif'>10<tspan font-size="18.6" dy="-12.6">0</tspan></text>
<line x1="118.1" y1="2258.2" x2="129.5" y2="2258.2" stroke="#000" stroke-width="1.3"/>
<text x="108" y="2267.1" font-size="26.7" text-anchor="end" font-family='"Liberation Sans", Arial, sans-serif'>10<tspan font-size="18.6" dy="-12.6">−1</tspan></text>
<line x1="124.1" y1="2038.1" x2="129.5" y2="2038.1" stroke="#000" stroke-width="1.2"/>
<line x1="124.1" y1="2026.4" x2="129.5" y2="2026.4" stroke="#000" stroke-width="1.2"/>
<line x1="124.1" y1="2018.1" x2="129.5" y2="2018.1" stroke="#000" stroke-width="1.2"/>
<line x1="124.1" y1="2011.6" x2="129.5" y2="2011.6" stroke="#000" stroke-width="1.2"/>
<line x1="124.1" y1="2006.4" x2="129.5" y2="2006.4" stroke="#000" stroke-width="1.2"/>
<line x1="124.1" y1="2001.9" x2="129.5" y2="2001.9" stroke="#000" stroke-width="1.2"/>
<line x1="124.1" y1="1998" x2="129.5" y2="1998" stroke="#000" stroke-width="1.2"/>
<line x1="124.1" y1="1994.6" x2="129.5" y2="1994.6" stroke="#000" stroke-width="1.2"/>
<line x1="124.1" y1="2104.7" x2="129.5" y2="2104.7" stroke="#000" stroke-width="1.2"/>
<line x1="124.1" y1="2093" x2="129.5" y2="2093" stroke="#000" stroke-width="1.2"/>
<line x1="124.1" y1="2084.7" x2="129.5" y2="2084.7" stroke="#000" stroke-width="1.2"/>
<line x1="124.1" y1="2078.2" x2="129.5" y2="2078.2" stroke="#000" stroke-width="1.2"/>
<line x1="124.1" y1="2073" x2="129.5" y2="2073" stroke="#000" stroke-width="1.2"/>
<line x1="124.1" y1="2068.5" x2="129.5" y2="2068.5" stroke="#000" stroke-width="1.2"/>
<line x1="124.1" y1="2064.6" x2="129.5" y2="2064.6" stroke="#000" stroke-width="1.2"/>
<line x1="124.1" y1="2061.2" x2="129.5" y2="2061.2" stroke="#000" stroke-width="1.2"/>
<line x1="124.1" y1="2171.5" x2="129.5" y2="2171.5" stroke="#000" stroke-width="1.2"/>
<line x1="124.1" y1="2159.7" x2="129.5" y2="2159.7" stroke="#000" stroke-width="1.2"/>
<line x1="124.1" y1="2151.4" x2="129.5" y2="2151.4" stroke="#000" stroke-width="1.2"/>
<line x1="124.1" y1="2144.9" x2="129.5" y2="2144.9" stroke="#000" stroke-width="1.2"/>
<line x1="124.1" y1="2139.6" x2="129.5" y2="2139.6" stroke="#000" stroke-width="1.2"/>
<line x1="124.1" y1="2135.1" x2="129.5" y2="2135.1" stroke="#000" stroke-width="1.2"/>
<line x1="124.1" y1="2131.2" x2="129.5" y2="2131.2" stroke="#000" stroke-width="1.2"/>
<line x1="124.1" y1="2127.8" x2="129.5" y2="2127.8" stroke="#000" stroke-width="1.2"/>
<line x1="124.1" y1="2238.1" x2="129.5" y2="2238.1" stroke="#000" stroke-width="1.2"/>
<line x1="124.1" y1="2226.4" x2="129.5" y2="2226.4" stroke="#000" stroke-width="1.2"/>
<line x1="124.1" y1="2218.1" x2="129.5" y2="2218.1" stroke="#000" stroke-width="1.2"/>
<line x1="124.1" y1="2211.6" x2="129.5" y2="2211.6" stroke="#000" stroke-width="1.2"/>
<line x1="124.1" y1="2206.4" x2="129.5" y2="2206.4" stroke="#000" stroke-width="1.2"/>
<line x1="124.1" y1="2201.9" x2="129.5" y2="2201.9" stroke="#000" stroke-width="1.2"/>
<line x1="124.1" y1="2198" x2="129.5" y2="2198" stroke="#000" stroke-width="1.2"/>
<line x1="124.1" y1="2194.6" x2="129.5" y2="2194.6" stroke="#000" stroke-width="1.2"/>
<line x1="153.6" y1="2258.2" x2="153.6" y2="2269.2" stroke="#000" stroke-width="1.3"/>
<line x1="201.8" y1="2258.2" x2="201.8" y2="2269.2" stroke="#000" stroke-width="1.3"/>
<line x1="250" y1="2258.2" x2="250" y2="2269.2" stroke="#000" stroke-width="1.3"/>
<line x1="298.9" y1="2258.2" x2="298.9" y2="2269.2" stroke="#000" stroke-width="1.3"/>
<line x1="153.6" y1="2128.6" x2="153.6" y2="2137.7" stroke="#000" stroke-width="1.3"/>
<line x1="146.3" y1="2128.6" x2="160.9" y2="2128.6" stroke="#000" stroke-width="1.3"/>
<line x1="153.6" y1="2234.8" x2="153.6" y2="2258.2" stroke="#000" stroke-width="1.3"/>
<rect x="137.4" y="2137.7" width="32.5" height="97" fill="#000000" stroke="#000" stroke-width="1.3"/>
<line x1="201.8" y1="2070" x2="201.8" y2="2074.5" stroke="#000" stroke-width="1.3"/>
<line x1="201.8" y1="2218.4" x2="201.8" y2="2258.2" stroke="#000" stroke-width="1.3"/>
<rect x="185.6" y="2074.5" width="32.5" height="143.9" fill="#3f5bff" stroke="#000" stroke-width="1.3"/>
<line x1="185.6" y1="2158.2" x2="218.1" y2="2158.2" stroke="#000" stroke-width="1.3"/>
<line x1="250" y1="2061.6" x2="250" y2="2067.3" stroke="#000" stroke-width="1.3"/>
<line x1="250" y1="2139.3" x2="250" y2="2220" stroke="#000" stroke-width="1.3"/>
<line x1="242.7" y1="2220" x2="257.3" y2="2220" stroke="#000" stroke-width="1.3"/>
<rect x="233.7" y="2067.3" width="32.5" height="72" fill="#9932cc" stroke="#000" stroke-width="1.3"/>
<line x1="233.7" y1="2082.5" x2="266.2" y2="2082.5" stroke="#000" stroke-width="1.3"/>
<line x1="298.9" y1="2060.5" x2="298.9" y2="2063.9" stroke="#000" stroke-width="1.3"/>
<line x1="298.9" y1="2131.4" x2="298.9" y2="2200.2" stroke="#000" stroke-width="1.3"/>
<line x1="291.6" y1="2200.2" x2="306.2" y2="2200.2" stroke="#000" stroke-width="1.3"/>
<rect x="282.6" y="2063.9" width="32.5" height="67.5" fill="#ff2a00" stroke="#000" stroke-width="1.3"/>
<line x1="282.6" y1="2076.8" x2="315.1" y2="2076.8" stroke="#000" stroke-width="1.3"/>
<line x1="132" y1="2092.7" x2="314.8" y2="2092.7" stroke="#000" stroke-width="2.6" stroke-linecap="round" stroke-dasharray="0.01,5.13"/>
<circle cx="143.2" cy="2133.2" r="4.9" fill="#fff" stroke="#000" stroke-width="1.3"/>
<circle cx="164.1" cy="2128.6" r="4.9" fill="#fff" stroke="#000" stroke-width="1.3"/>
<circle cx="153.6" cy="2139.5" r="4.9" fill="#fff" stroke="#000" stroke-width="1.3"/>
<circle cx="153.6" cy="2160" r="4.9" fill="#fff" stroke="#000" stroke-width="1.3"/>
<circle cx="153.6" cy="2178.2" r="4.9" fill="#fff" stroke="#000" stroke-width="1.3"/>
<circle cx="147.7" cy="2217.7" r="4.9" fill="#fff" stroke="#000" stroke-width="1.3"/>
<circle cx="159.1" cy="2216.1" r="4.9" fill="#fff" stroke="#000" stroke-width="1.3"/>
<circle cx="147.7" cy="2232" r="4.9" fill="#fff" stroke="#000" stroke-width="1.3"/>
<circle cx="159.1" cy="2244.1" r="4.9" fill="#fff" stroke="#000" stroke-width="1.3"/>
<circle cx="153.6" cy="2258.2" r="4.9" fill="#fff" stroke="#000" stroke-width="1.3"/>
<circle cx="191.6" cy="2071.4" r="4.9" fill="#fff" stroke="#000" stroke-width="1.3"/>
<circle cx="201.8" cy="2075.2" r="4.9" fill="#fff" stroke="#000" stroke-width="1.3"/>
<circle cx="212.5" cy="2070" r="4.9" fill="#fff" stroke="#000" stroke-width="1.3"/>
<circle cx="195.9" cy="2145.2" r="4.9" fill="#fff" stroke="#000" stroke-width="1.3"/>
<circle cx="208" cy="2136.6" r="4.9" fill="#fff" stroke="#000" stroke-width="1.3"/>
<circle cx="195.9" cy="2182" r="4.9" fill="#fff" stroke="#000" stroke-width="1.3"/>
<circle cx="208" cy="2182" r="4.9" fill="#fff" stroke="#000" stroke-width="1.3"/>
<circle cx="201.8" cy="2216.1" r="4.9" fill="#fff" stroke="#000" stroke-width="1.3"/>
<circle cx="201.8" cy="2229.1" r="4.9" fill="#fff" stroke="#000" stroke-width="1.3"/>
<circle cx="201.8" cy="2258.2" r="4.9" fill="#fff" stroke="#000" stroke-width="1.3"/>
<circle cx="239.8" cy="2064.3" r="4.9" fill="#fff" stroke="#000" stroke-width="1.3"/>
<circle cx="250" cy="2068.4" r="4.9" fill="#fff" stroke="#000" stroke-width="1.3"/>
<circle cx="260.9" cy="2061.6" r="4.9" fill="#fff" stroke="#000" stroke-width="1.3"/>
<circle cx="239.8" cy="2076.4" r="4.9" fill="#fff" stroke="#000" stroke-width="1.3"/>
<circle cx="260.9" cy="2078.2" r="4.9" fill="#fff" stroke="#000" stroke-width="1.3"/>
<circle cx="250" cy="2087.3" r="4.9" fill="#fff" stroke="#000" stroke-width="1.3"/>
<circle cx="250" cy="2110.5" r="4.9" fill="#fff" stroke="#000" stroke-width="1.3"/>
<circle cx="250" cy="2131.4" r="4.9" fill="#fff" stroke="#000" stroke-width="1.3"/>
<circle cx="250" cy="2203.6" r="4.9" fill="#fff" stroke="#000" stroke-width="1.3"/>
<circle cx="250" cy="2220" r="4.9" fill="#fff" stroke="#000" stroke-width="1.3"/>
<circle cx="289.1" cy="2061.6" r="4.9" fill="#fff" stroke="#000" stroke-width="1.3"/>
<circle cx="298.9" cy="2065" r="4.9" fill="#fff" stroke="#000" stroke-width="1.3"/>
<circle cx="308.6" cy="2060.5" r="4.9" fill="#fff" stroke="#000" stroke-width="1.3"/>
<circle cx="288.6" cy="2073" r="4.9" fill="#fff" stroke="#000" stroke-width="1.3"/>
<circle cx="298.9" cy="2083.2" r="4.9" fill="#fff" stroke="#000" stroke-width="1.3"/>
<circle cx="308.6" cy="2082.7" r="4.9" fill="#fff" stroke="#000" stroke-width="1.3"/>
<circle cx="293.2" cy="2131.6" r="4.9" fill="#fff" stroke="#000" stroke-width="1.3"/>
<circle cx="304.5" cy="2132" r="4.9" fill="#fff" stroke="#000" stroke-width="1.3"/>
<circle cx="304.5" cy="2187.7" r="4.9" fill="#fff" stroke="#000" stroke-width="1.3"/>
<circle cx="293.2" cy="2200.2" r="4.9" fill="#fff" stroke="#000" stroke-width="1.3"/>
<polyline points="156.4,2116.1 156.4,2024.5 248.9,2024.5 248.9,2049.1" fill="none" stroke="#000" stroke-width="1.3"/>
<text x="203.3" y="2030.7" font-size="30" text-anchor="middle" font-weight="normal" font-family='"Liberation Sans", Arial, sans-serif' letter-spacing="2.1">*</text>
<polyline points="155.7,2116.1 155.7,2005.5 299.5,2005.5 299.5,2048" fill="none" stroke="#000" stroke-width="1.3"/>
<text x="228.3" y="2010.3" font-size="30" text-anchor="middle" font-weight="normal" font-family='"Liberation Sans", Arial, sans-serif' letter-spacing="2.1">**</text>
<text x="23.9" y="2124.5" font-size="27" text-anchor="middle" font-weight="normal" font-family='"Liberation Sans", Arial, sans-serif' transform="rotate(-90 23.9 2124.5)">S-Flow IgG binding (%)</text>
<text x="1.1" y="1971.8" font-size="29" text-anchor="start" font-weight="bold" font-family='"Liberation Sans", Arial, sans-serif'>i</text>
<line x1="476.6" y1="1988.5" x2="476.6" y2="2253.6" stroke="#000" stroke-width="1.3"/>
<line x1="465.5" y1="2253.6" x2="668.2" y2="2253.6" stroke="#000" stroke-width="1.3"/>
<line x1="465.2" y1="1989.1" x2="476.6" y2="1989.1" stroke="#000" stroke-width="1.3"/>
<text x="455.1" y="1998" font-size="26.7" text-anchor="end" font-family='"Liberation Sans", Arial, sans-serif'>10<tspan font-size="18.6" dy="-12.6">5</tspan></text>
<line x1="465.2" y1="2121.4" x2="476.6" y2="2121.4" stroke="#000" stroke-width="1.3"/>
<text x="455.1" y="2130.3" font-size="26.7" text-anchor="end" font-family='"Liberation Sans", Arial, sans-serif'>10<tspan font-size="18.6" dy="-12.6">4</tspan></text>
<line x1="465.2" y1="2253.6" x2="476.6" y2="2253.6" stroke="#000" stroke-width="1.3"/>
<text x="455.1" y="2262.5" font-size="26.7" text-anchor="end" font-family='"Liberation Sans", Arial, sans-serif'>10<tspan font-size="18.6" dy="-12.6">3</tspan></text>
<line x1="471.2" y1="2081.5" x2="476.6" y2="2081.5" stroke="#000" stroke-width="1.2"/>
<line x1="471.2" y1="2058.3" x2="476.6" y2="2058.3" stroke="#000" stroke-width="1.2"/>
<line x1="471.2" y1="2041.7" x2="476.6" y2="2041.7" stroke="#000" stroke-width="1.2"/>
<line x1="471.2" y1="2028.9" x2="476.6" y2="2028.9" stroke="#000" stroke-width="1.2"/>
<line x1="471.2" y1="2018.4" x2="476.6" y2="2018.4" stroke="#000" stroke-width="1.2"/>
<line x1="471.2" y1="2009.6" x2="476.6" y2="2009.6" stroke="#000" stroke-width="1.2"/>
<line x1="471.2" y1="2001.9" x2="476.6" y2="2001.9" stroke="#000" stroke-width="1.2"/>
<line x1="471.2" y1="1995.1" x2="476.6" y2="1995.1" stroke="#000" stroke-width="1.2"/>
<line x1="471.2" y1="2213.8" x2="476.6" y2="2213.8" stroke="#000" stroke-width="1.2"/>
<line x1="471.2" y1="2190.5" x2="476.6" y2="2190.5" stroke="#000" stroke-width="1.2"/>
<line x1="471.2" y1="2174" x2="476.6" y2="2174" stroke="#000" stroke-width="1.2"/>
<line x1="471.2" y1="2161.2" x2="476.6" y2="2161.2" stroke="#000" stroke-width="1.2"/>
<line x1="471.2" y1="2150.7" x2="476.6" y2="2150.7" stroke="#000" stroke-width="1.2"/>
<line x1="471.2" y1="2141.9" x2="476.6" y2="2141.9" stroke="#000" stroke-width="1.2"/>
<line x1="471.2" y1="2134.2" x2="476.6" y2="2134.2" stroke="#000" stroke-width="1.2"/>
<line x1="471.2" y1="2127.4" x2="476.6" y2="2127.4" stroke="#000" stroke-width="1.2"/>
<line x1="500.5" y1="2253.6" x2="500.5" y2="2264.6" stroke="#000" stroke-width="1.3"/>
<line x1="548.4" y1="2253.6" x2="548.4" y2="2264.6" stroke="#000" stroke-width="1.3"/>
<line x1="596.1" y1="2253.6" x2="596.1" y2="2264.6" stroke="#000" stroke-width="1.3"/>
<line x1="644.3" y1="2253.6" x2="644.3" y2="2264.6" stroke="#000" stroke-width="1.3"/>
<line x1="500.5" y1="2221.8" x2="500.5" y2="2226.4" stroke="#000" stroke-width="1.3"/>
<line x1="500.5" y1="2240.5" x2="500.5" y2="2251.4" stroke="#000" stroke-width="1.3"/>
<rect x="484.1" y="2226.4" width="32.7" height="14.1" fill="#000000" stroke="#000" stroke-width="1.3"/>
<line x1="484.1" y1="2234.3" x2="516.8" y2="2234.3" stroke="#000" stroke-width="1.3"/>
<line x1="548.4" y1="2215" x2="548.4" y2="2221.8" stroke="#000" stroke-width="1.3"/>
<line x1="548.4" y1="2243" x2="548.4" y2="2244.1" stroke="#000" stroke-width="1.3"/>
<rect x="532.3" y="2221.8" width="32.3" height="21.1" fill="#3f5bff" stroke="#000" stroke-width="1.3"/>
<line x1="532.3" y1="2235.5" x2="564.5" y2="2235.5" stroke="#000" stroke-width="1.3"/>
<line x1="596.1" y1="2132.7" x2="596.1" y2="2196.4" stroke="#000" stroke-width="1.3"/>
<line x1="588.9" y1="2132.7" x2="603.4" y2="2132.7" stroke="#000" stroke-width="1.3"/>
<line x1="596.1" y1="2229.3" x2="596.1" y2="2233.2" stroke="#000" stroke-width="1.3"/>
<rect x="580" y="2196.4" width="32.3" height="33" fill="#9932cc" stroke="#000" stroke-width="1.3"/>
<line x1="580" y1="2219.5" x2="612.3" y2="2219.5" stroke="#000" stroke-width="1.3"/>
<line x1="644.3" y1="2105.5" x2="644.3" y2="2164.3" stroke="#000" stroke-width="1.3"/>
<line x1="637.1" y1="2105.5" x2="651.6" y2="2105.5" stroke="#000" stroke-width="1.3"/>
<line x1="644.3" y1="2233.2" x2="644.3" y2="2253.6" stroke="#000" stroke-width="1.3"/>
<rect x="628.2" y="2164.3" width="32.3" height="68.9" fill="#ff2a00" stroke="#000" stroke-width="1.3"/>
<line x1="628.2" y1="2219.1" x2="660.5" y2="2219.1" stroke="#000" stroke-width="1.3"/>
<circle cx="490.5" cy="2223" r="4.9" fill="#fff" stroke="#000" stroke-width="1.3"/>
<circle cx="500" cy="2226.4" r="4.9" fill="#fff" stroke="#000" stroke-width="1.3"/>
<circle cx="510.2" cy="2225.2" r="4.9" fill="#fff" stroke="#000" stroke-width="1.3"/>
<circle cx="488.6" cy="2233.2" r="4.9" fill="#fff" stroke="#000" stroke-width="1.3"/>
<circle cx="495.5" cy="2235.9" r="4.9" fill="#fff" stroke="#000" stroke-width="1.3"/>
<circle cx="505.7" cy="2234.3" r="4.9" fill="#fff" stroke="#000" stroke-width="1.3"/>
<circle cx="510.2" cy="2228.6" r="4.9" fill="#fff" stroke="#000" stroke-width="1.3"/>
<circle cx="506.8" cy="2245.7" r="4.9" fill="#fff" stroke="#000" stroke-width="1.3"/>
<circle cx="494.3" cy="2251.8" r="4.9" fill="#fff" stroke="#000" stroke-width="1.3"/>
<circle cx="542" cy="2215" r="4.9" fill="#fff" stroke="#000" stroke-width="1.3"/>
<circle cx="553.4" cy="2217.3" r="4.9" fill="#fff" stroke="#000" stroke-width="1.3"/>
<circle cx="537.5" cy="2223.6" r="4.9" fill="#fff" stroke="#000" stroke-width="1.3"/>
<circle cx="545.5" cy="2223.6" r="4.9" fill="#fff" stroke="#000" stroke-width="1.3"/>
<circle cx="555.7" cy="2223" r="4.9" fill="#fff" stroke="#000" stroke-width="1.3"/>
<circle cx="560.2" cy="2233.2" r="4.9" fill="#fff" stroke="#000" stroke-width="1.3"/>
<circle cx="536.4" cy="2242.7" r="4.9" fill="#fff" stroke="#000" stroke-width="1.3"/>
<circle cx="545" cy="2244.1" r="4.9" fill="#fff" stroke="#000" stroke-width="1.3"/>
<circle cx="552.3" cy="2243.4" r="4.9" fill="#fff" stroke="#000" stroke-width="1.3"/>
<circle cx="596.1" cy="2132.7" r="4.9" fill="#fff" stroke="#000" stroke-width="1.3"/>
<circle cx="584.5" cy="2197.3" r="4.9" fill="#fff" stroke="#000" stroke-width="1.3"/>
<circle cx="602.3" cy="2192.7" r="4.9" fill="#fff" stroke="#000" stroke-width="1.3"/>
<circle cx="590.5" cy="2209.3" r="4.9" fill="#fff" stroke="#000" stroke-width="1.3"/>
<circle cx="602.3" cy="2215" r="4.9" fill="#fff" stroke="#000" stroke-width="1.3"/>
<circle cx="586.4" cy="2224.1" r="4.9" fill="#fff" stroke="#000" stroke-width="1.3"/>
<circle cx="596.6" cy="2229.8" r="4.9" fill="#fff" stroke="#000" stroke-width="1.3"/>
<circle cx="605.7" cy="2226.4" r="4.9" fill="#fff" stroke="#000" stroke-width="1.3"/>
<circle cx="596.1" cy="2233.2" r="4.9" fill="#fff" stroke="#000" stroke-width="1.3"/>
<circle cx="644.3" cy="2105.5" r="4.9" fill="#fff" stroke="#000" stroke-width="1.3"/>
<circle cx="644.3" cy="2120" r="4.9" fill="#fff" stroke="#000" stroke-width="1.3"/>
<circle cx="644.3" cy="2158.2" r="4.9" fill="#fff" stroke="#000" stroke-width="1.3"/>
<circle cx="644.3" cy="2187.3" r="4.9" fill="#fff" stroke="#000" stroke-width="1.3"/>
<circle cx="644.3" cy="2200.9" r="4.9" fill="#fff" stroke="#000" stroke-width="1.3"/>
<circle cx="644.3" cy="2215.5" r="4.9" fill="#fff" stroke="#000" stroke-width="1.3"/>
<circle cx="634.1" cy="2223" r="4.9" fill="#fff" stroke="#000" stroke-width="1.3"/>
<circle cx="644.3" cy="2228.2" r="4.9" fill="#fff" stroke="#000" stroke-width="1.3"/>
<circle cx="654.5" cy="2227.5" r="4.9" fill="#fff" stroke="#000" stroke-width="1.3"/>
<circle cx="638.2" cy="2235.5" r="4.9" fill="#fff" stroke="#000" stroke-width="1.3"/>
<circle cx="650" cy="2240.7" r="4.9" fill="#fff" stroke="#000" stroke-width="1.3"/>
<circle cx="644.3" cy="2253.6" r="4.9" fill="#fff" stroke="#000" stroke-width="1.3"/>
<polyline points="504.5,2210.5 504.5,2069.5 594.3,2069.5 594.3,2112.7" fill="none" stroke="#000" stroke-width="1.3"/>
<text x="550.6" y="2074.4" font-size="30" text-anchor="middle" font-weight="normal" font-family='"Liberation Sans", Arial, sans-serif' letter-spacing="2.1">*</text>
<polyline points="504.1,2210.5 504.1,2050.9 643.6,2050.9 643.6,2093.4" fill="none" stroke="#000" stroke-width="1.3"/>
<text x="574.9" y="2050.5" font-size="30" text-anchor="middle" font-weight="normal" font-family='"Liberation Sans", Arial, sans-serif' letter-spacing="2.1">*</text>
<text x="389.8" y="2121.8" font-size="27" text-anchor="middle" font-weight="normal" font-family='"Liberation Sans", Arial, sans-serif' transform="rotate(-90 389.8 2121.8)">S-Flow IgG MFI</text>
<line x1="861.4" y1="1986.2" x2="861.4" y2="2248.2" stroke="#000" stroke-width="1.3"/>
<line x1="850" y1="2248.2" x2="1051.1" y2="2248.2" stroke="#000" stroke-width="1.3"/>
<line x1="850" y1="1986.8" x2="861.4" y2="1986.8" stroke="#000" stroke-width="1.3"/>
<text x="839.9" y="1995.7" font-size="26.7" text-anchor="end" font-family='"Liberation Sans", Arial, sans-serif'>10<tspan font-size="18.6" dy="-12.6">1</tspan></text>
<line x1="850" y1="2117.5" x2="861.4" y2="2117.5" stroke="#000" stroke-width="1.3"/>
<text x="839.9" y="2126.4" font-size="26.7" text-anchor="end" font-family='"Liberation Sans", Arial, sans-serif'>10<tspan font-size="18.6" dy="-12.6">0</tspan></text>
<line x1="850" y1="2248.2" x2="861.4" y2="2248.2" stroke="#000" stroke-width="1.3"/>
<text x="839.9" y="2257.1" font-size="26.7" text-anchor="end" font-family='"Liberation Sans", Arial, sans-serif'>10<tspan font-size="18.6" dy="-12.6">−1</tspan></text>
<line x1="856" y1="2078.2" x2="861.4" y2="2078.2" stroke="#000" stroke-width="1.2"/>
<line x1="856" y1="2055.1" x2="861.4" y2="2055.1" stroke="#000" stroke-width="1.2"/>
<line x1="856" y1="2038.8" x2="861.4" y2="2038.8" stroke="#000" stroke-width="1.2"/>
<line x1="856" y1="2026.2" x2="861.4" y2="2026.2" stroke="#000" stroke-width="1.2"/>
<line x1="856" y1="2015.8" x2="861.4" y2="2015.8" stroke="#000" stroke-width="1.2"/>
<line x1="856" y1="2007.1" x2="861.4" y2="2007.1" stroke="#000" stroke-width="1.2"/>
<line x1="856" y1="1999.5" x2="861.4" y2="1999.5" stroke="#000" stroke-width="1.2"/>
<line x1="856" y1="1992.8" x2="861.4" y2="1992.8" stroke="#000" stroke-width="1.2"/>
<line x1="856" y1="2208.8" x2="861.4" y2="2208.8" stroke="#000" stroke-width="1.2"/>
<line x1="856" y1="2185.8" x2="861.4" y2="2185.8" stroke="#000" stroke-width="1.2"/>
<line x1="856" y1="2169.5" x2="861.4" y2="2169.5" stroke="#000" stroke-width="1.2"/>
<line x1="856" y1="2156.8" x2="861.4" y2="2156.8" stroke="#000" stroke-width="1.2"/>
<line x1="856" y1="2146.5" x2="861.4" y2="2146.5" stroke="#000" stroke-width="1.2"/>
<line x1="856" y1="2137.7" x2="861.4" y2="2137.7" stroke="#000" stroke-width="1.2"/>
<line x1="856" y1="2130.2" x2="861.4" y2="2130.2" stroke="#000" stroke-width="1.2"/>
<line x1="856" y1="2123.5" x2="861.4" y2="2123.5" stroke="#000" stroke-width="1.2"/>
<line x1="885.2" y1="2248.2" x2="885.2" y2="2259.2" stroke="#000" stroke-width="1.3"/>
<line x1="932.3" y1="2248.2" x2="932.3" y2="2259.2" stroke="#000" stroke-width="1.3"/>
<line x1="980" y1="2248.2" x2="980" y2="2259.2" stroke="#000" stroke-width="1.3"/>
<line x1="1027.3" y1="2248.2" x2="1027.3" y2="2259.2" stroke="#000" stroke-width="1.3"/>
<line x1="885.2" y1="2153.9" x2="885.2" y2="2192.3" stroke="#000" stroke-width="1.3"/>
<line x1="878.2" y1="2153.9" x2="892.3" y2="2153.9" stroke="#000" stroke-width="1.3"/>
<line x1="885.2" y1="2242.5" x2="885.2" y2="2248.2" stroke="#000" stroke-width="1.3"/>
<rect x="869.5" y="2192.3" width="31.4" height="50.2" fill="#000000" stroke="#000" stroke-width="1.3"/>
<line x1="932.3" y1="2143" x2="932.3" y2="2153.6" stroke="#000" stroke-width="1.3"/>
<line x1="932.3" y1="2237.7" x2="932.3" y2="2246.4" stroke="#000" stroke-width="1.3"/>
<rect x="916.6" y="2153.6" width="31.4" height="84.1" fill="#3f5bff" stroke="#000" stroke-width="1.3"/>
<line x1="916.6" y1="2190" x2="948" y2="2190" stroke="#000" stroke-width="1.3"/>
<line x1="980" y1="2095.2" x2="980" y2="2123.6" stroke="#000" stroke-width="1.3"/>
<line x1="972.9" y1="2095.2" x2="987.1" y2="2095.2" stroke="#000" stroke-width="1.3"/>
<line x1="980" y1="2217.3" x2="980" y2="2248.2" stroke="#000" stroke-width="1.3"/>
<rect x="964.3" y="2123.6" width="31.4" height="93.6" fill="#9533ff" stroke="#000" stroke-width="1.3"/>
<line x1="964.3" y1="2202.7" x2="995.7" y2="2202.7" stroke="#000" stroke-width="1.3"/>
<line x1="1027.3" y1="2072.5" x2="1027.3" y2="2161.1" stroke="#000" stroke-width="1.3"/>
<line x1="1020.2" y1="2072.5" x2="1034.3" y2="2072.5" stroke="#000" stroke-width="1.3"/>
<line x1="1027.3" y1="2231.1" x2="1027.3" y2="2248.2" stroke="#000" stroke-width="1.3"/>
<rect x="1011.6" y="2161.1" width="31.4" height="70" fill="#ff2a00" stroke="#000" stroke-width="1.3"/>
<line x1="1011.6" y1="2208.2" x2="1043" y2="2208.2" stroke="#000" stroke-width="1.3"/>
<circle cx="885.2" cy="2153.9" r="4.9" fill="#fff" stroke="#000" stroke-width="1.3"/>
<circle cx="885.2" cy="2168.6" r="4.9" fill="#fff" stroke="#000" stroke-width="1.3"/>
<circle cx="884.5" cy="2203.6" r="4.9" fill="#fff" stroke="#000" stroke-width="1.3"/>
<circle cx="884.5" cy="2216.4" r="4.9" fill="#fff" stroke="#000" stroke-width="1.3"/>
<circle cx="875" cy="2230.9" r="4.9" fill="#fff" stroke="#000" stroke-width="1.3"/>
<circle cx="885.2" cy="2230.9" r="4.9" fill="#fff" stroke="#000" stroke-width="1.3"/>
<circle cx="895" cy="2228.2" r="4.9" fill="#fff" stroke="#000" stroke-width="1.3"/>
<circle cx="874.5" cy="2241.4" r="4.9" fill="#fff" stroke="#000" stroke-width="1.3"/>
<circle cx="885.2" cy="2248.2" r="4.9" fill="#fff" stroke="#000" stroke-width="1.3"/>
<circle cx="895" cy="2245.2" r="4.9" fill="#fff" stroke="#000" stroke-width="1.3"/>
<circle cx="926.8" cy="2141.8" r="4.9" fill="#fff" stroke="#000" stroke-width="1.3"/>
<circle cx="938.2" cy="2143.6" r="4.9" fill="#fff" stroke="#000" stroke-width="1.3"/>
<circle cx="932.3" cy="2156.6" r="4.9" fill="#fff" stroke="#000" stroke-width="1.3"/>
<circle cx="926.8" cy="2169.1" r="4.9" fill="#fff" stroke="#000" stroke-width="1.3"/>
<circle cx="938.2" cy="2173.2" r="4.9" fill="#fff" stroke="#000" stroke-width="1.3"/>
<circle cx="938.2" cy="2212.3" r="4.9" fill="#fff" stroke="#000" stroke-width="1.3"/>
<circle cx="926.8" cy="2219.1" r="4.9" fill="#fff" stroke="#000" stroke-width="1.3"/>
<circle cx="932.3" cy="2236.1" r="4.9" fill="#fff" stroke="#000" stroke-width="1.3"/>
<circle cx="926.8" cy="2248.2" r="4.9" fill="#fff" stroke="#000" stroke-width="1.3"/>
<circle cx="938.2" cy="2245.9" r="4.9" fill="#fff" stroke="#000" stroke-width="1.3"/>
<circle cx="985.9" cy="2095.2" r="4.9" fill="#fff" stroke="#000" stroke-width="1.3"/>
<circle cx="974.5" cy="2104.3" r="4.9" fill="#fff" stroke="#000" stroke-width="1.3"/>
<circle cx="980" cy="2132.3" r="4.9" fill="#fff" stroke="#000" stroke-width="1.3"/>
<circle cx="980" cy="2159.3" r="4.9" fill="#fff" stroke="#000" stroke-width="1.3"/>
<circle cx="970" cy="2204.3" r="4.9" fill="#fff" stroke="#000" stroke-width="1.3"/>
<circle cx="980" cy="2201.6" r="4.9" fill="#fff" stroke="#000" stroke-width="1.3"/>
<circle cx="990.5" cy="2209.5" r="4.9" fill="#fff" stroke="#000" stroke-width="1.3"/>
<circle cx="980" cy="2214.1" r="4.9" fill="#fff" stroke="#000" stroke-width="1.3"/>
<circle cx="980" cy="2228.2" r="4.9" fill="#fff" stroke="#000" stroke-width="1.3"/>
<circle cx="980" cy="2248.2" r="4.9" fill="#fff" stroke="#000" stroke-width="1.3"/>
<circle cx="1027.3" cy="2072.5" r="4.9" fill="#fff" stroke="#000" stroke-width="1.3"/>
<circle cx="1027.3" cy="2130.5" r="4.9" fill="#fff" stroke="#000" stroke-width="1.3"/>
<circle cx="1022.3" cy="2160" r="4.9" fill="#fff" stroke="#000" stroke-width="1.3"/>
<circle cx="1033" cy="2165.7" r="4.9" fill="#fff" stroke="#000" stroke-width="1.3"/>
<circle cx="1021.6" cy="2195.9" r="4.9" fill="#fff" stroke="#000" stroke-width="1.3"/>
<circle cx="1033" cy="2192.3" r="4.9" fill="#fff" stroke="#000" stroke-width="1.3"/>
<circle cx="1015.5" cy="2224.1" r="4.9" fill="#fff" stroke="#000" stroke-width="1.3"/>
<circle cx="1039.1" cy="2227" r="4.9" fill="#fff" stroke="#000" stroke-width="1.3"/>
<circle cx="1023.2" cy="2231.6" r="4.9" fill="#fff" stroke="#000" stroke-width="1.3"/>
<circle cx="1030.7" cy="2231.6" r="4.9" fill="#fff" stroke="#000" stroke-width="1.3"/>
<circle cx="1021.6" cy="2248.2" r="4.9" fill="#fff" stroke="#000" stroke-width="1.3"/>
<circle cx="1033" cy="2245.9" r="4.9" fill="#fff" stroke="#000" stroke-width="1.3"/>
<text x="733" y="2118" font-size="27" text-anchor="middle" font-weight="normal" font-family='"Liberation Sans", Arial, sans-serif' transform="rotate(-90 733 2118)">Anti-spike</text>
<text x="764.8" y="2116.8" font-size="27" text-anchor="middle" font-weight="normal" font-family='"Liberation Sans", Arial, sans-serif' transform="rotate(-90 764.8 2116.8)">IgG OD ELISA</text>
<line x1="1234.5" y1="1982.6" x2="1234.5" y2="2247.5" stroke="#000" stroke-width="1.3"/>
<line x1="1223.2" y1="2247.5" x2="1426.6" y2="2247.5" stroke="#000" stroke-width="1.3"/>
<line x1="1223.1" y1="1983.2" x2="1234.5" y2="1983.2" stroke="#000" stroke-width="1.3"/>
<text x="1213" y="1992.1" font-size="26.7" text-anchor="end" font-family='"Liberation Sans", Arial, sans-serif'>10<tspan font-size="18.6" dy="-12.6">1</tspan></text>
<line x1="1223.1" y1="2115.2" x2="1234.5" y2="2115.2" stroke="#000" stroke-width="1.3"/>
<text x="1213" y="2124.1" font-size="26.7" text-anchor="end" font-family='"Liberation Sans", Arial, sans-serif'>10<tspan font-size="18.6" dy="-12.6">0</tspan></text>
<line x1="1223.1" y1="2247.5" x2="1234.5" y2="2247.5" stroke="#000" stroke-width="1.3"/>
<text x="1213" y="2256.4" font-size="26.7" text-anchor="end" font-family='"Liberation Sans", Arial, sans-serif'>10<tspan font-size="18.6" dy="-12.6">−1</tspan></text>
<line x1="1229.1" y1="2075.5" x2="1234.5" y2="2075.5" stroke="#000" stroke-width="1.2"/>
<line x1="1229.1" y1="2052.2" x2="1234.5" y2="2052.2" stroke="#000" stroke-width="1.2"/>
<line x1="1229.1" y1="2035.7" x2="1234.5" y2="2035.7" stroke="#000" stroke-width="1.2"/>
<line x1="1229.1" y1="2022.9" x2="1234.5" y2="2022.9" stroke="#000" stroke-width="1.2"/>
<line x1="1229.1" y1="2012.5" x2="1234.5" y2="2012.5" stroke="#000" stroke-width="1.2"/>
<line x1="1229.1" y1="2003.6" x2="1234.5" y2="2003.6" stroke="#000" stroke-width="1.2"/>
<line x1="1229.1" y1="1996" x2="1234.5" y2="1996" stroke="#000" stroke-width="1.2"/>
<line x1="1229.1" y1="1989.2" x2="1234.5" y2="1989.2" stroke="#000" stroke-width="1.2"/>
<line x1="1229.1" y1="2207.7" x2="1234.5" y2="2207.7" stroke="#000" stroke-width="1.2"/>
<line x1="1229.1" y1="2184.4" x2="1234.5" y2="2184.4" stroke="#000" stroke-width="1.2"/>
<line x1="1229.1" y1="2167.9" x2="1234.5" y2="2167.9" stroke="#000" stroke-width="1.2"/>
<line x1="1229.1" y1="2155" x2="1234.5" y2="2155" stroke="#000" stroke-width="1.2"/>
<line x1="1229.1" y1="2144.6" x2="1234.5" y2="2144.6" stroke="#000" stroke-width="1.2"/>
<line x1="1229.1" y1="2135.7" x2="1234.5" y2="2135.7" stroke="#000" stroke-width="1.2"/>
<line x1="1229.1" y1="2128" x2="1234.5" y2="2128" stroke="#000" stroke-width="1.2"/>
<line x1="1229.1" y1="2121.3" x2="1234.5" y2="2121.3" stroke="#000" stroke-width="1.2"/>
<line x1="1258.4" y1="2247.5" x2="1258.4" y2="2258.5" stroke="#000" stroke-width="1.3"/>
<line x1="1306.6" y1="2247.5" x2="1306.6" y2="2258.5" stroke="#000" stroke-width="1.3"/>
<line x1="1354.5" y1="2247.5" x2="1354.5" y2="2258.5" stroke="#000" stroke-width="1.3"/>
<line x1="1402.7" y1="2247.5" x2="1402.7" y2="2258.5" stroke="#000" stroke-width="1.3"/>
<line x1="1258.4" y1="2155" x2="1258.4" y2="2184.3" stroke="#000" stroke-width="1.3"/>
<line x1="1251.1" y1="2155" x2="1265.7" y2="2155" stroke="#000" stroke-width="1.3"/>
<line x1="1258.4" y1="2208.9" x2="1258.4" y2="2218" stroke="#000" stroke-width="1.3"/>
<rect x="1242.3" y="2184.3" width="32.3" height="24.5" fill="#000000" stroke="#000" stroke-width="1.3"/>
<line x1="1306.6" y1="2147" x2="1306.6" y2="2169.1" stroke="#000" stroke-width="1.3"/>
<line x1="1299.3" y1="2147" x2="1313.9" y2="2147" stroke="#000" stroke-width="1.3"/>
<line x1="1306.6" y1="2212.7" x2="1306.6" y2="2214.5" stroke="#000" stroke-width="1.3"/>
<rect x="1290.5" y="2169.1" width="32.3" height="43.6" fill="#3f5bff" stroke="#000" stroke-width="1.3"/>
<line x1="1290.5" y1="2184.5" x2="1322.7" y2="2184.5" stroke="#000" stroke-width="1.3"/>
<line x1="1354.5" y1="2107.3" x2="1354.5" y2="2141.4" stroke="#000" stroke-width="1.3"/>
<line x1="1347.3" y1="2107.3" x2="1361.8" y2="2107.3" stroke="#000" stroke-width="1.3"/>
<line x1="1354.5" y1="2205.5" x2="1354.5" y2="2222.5" stroke="#000" stroke-width="1.3"/>
<line x1="1347.3" y1="2222.5" x2="1361.8" y2="2222.5" stroke="#000" stroke-width="1.3"/>
<rect x="1338.4" y="2141.4" width="32.3" height="64.1" fill="#9533ff" stroke="#000" stroke-width="1.3"/>
<line x1="1338.4" y1="2180.5" x2="1370.7" y2="2180.5" stroke="#000" stroke-width="1.3"/>
<line x1="1402.7" y1="2091.8" x2="1402.7" y2="2157.7" stroke="#000" stroke-width="1.3"/>
<line x1="1395.5" y1="2091.8" x2="1410" y2="2091.8" stroke="#000" stroke-width="1.3"/>
<line x1="1402.7" y1="2207.7" x2="1402.7" y2="2218" stroke="#000" stroke-width="1.3"/>
<rect x="1386.6" y="2157.7" width="32.3" height="50" fill="#ff2a00" stroke="#000" stroke-width="1.3"/>
<line x1="1386.6" y1="2202.7" x2="1418.9" y2="2202.7" stroke="#000" stroke-width="1.3"/>
<circle cx="1258.4" cy="2155" r="4.9" fill="#fff" stroke="#000" stroke-width="1.3"/>
<circle cx="1252.7" cy="2185" r="4.9" fill="#fff" stroke="#000" stroke-width="1.3"/>
<circle cx="1264.1" cy="2181.6" r="4.9" fill="#fff" stroke="#000" stroke-width="1.3"/>
<circle cx="1249.3" cy="2199.8" r="4.9" fill="#fff" stroke="#000" stroke-width="1.3"/>
<circle cx="1268.6" cy="2196.4" r="4.9" fill="#fff" stroke="#000" stroke-width="1.3"/>
<circle cx="1258.4" cy="2196.4" r="4.9" fill="#fff" stroke="#000" stroke-width="1.3"/>
<circle cx="1253.9" cy="2206.6" r="4.9" fill="#fff" stroke="#000" stroke-width="1.3"/>
<circle cx="1264.1" cy="2203.2" r="4.9" fill="#fff" stroke="#000" stroke-width="1.3"/>
<circle cx="1252.7" cy="2218" r="4.9" fill="#fff" stroke="#000" stroke-width="1.3"/>
<circle cx="1263.6" cy="2216.8" r="4.9" fill="#fff" stroke="#000" stroke-width="1.3"/>
<circle cx="1306.6" cy="2147" r="4.9" fill="#fff" stroke="#000" stroke-width="1.3"/>
<circle cx="1306.6" cy="2161.1" r="4.9" fill="#fff" stroke="#000" stroke-width="1.3"/>
<circle cx="1295.9" cy="2172.5" r="4.9" fill="#fff" stroke="#000" stroke-width="1.3"/>
<circle cx="1306.6" cy="2178.6" r="4.9" fill="#fff" stroke="#000" stroke-width="1.3"/>
<circle cx="1316.8" cy="2177.7" r="4.9" fill="#fff" stroke="#000" stroke-width="1.3"/>
<circle cx="1300.5" cy="2190.7" r="4.9" fill="#fff" stroke="#000" stroke-width="1.3"/>
<circle cx="1313" cy="2202" r="4.9" fill="#fff" stroke="#000" stroke-width="1.3"/>
<circle cx="1295.9" cy="2213.4" r="4.9" fill="#fff" stroke="#000" stroke-width="1.3"/>
<circle cx="1306.6" cy="2214.1" r="4.9" fill="#fff" stroke="#000" stroke-width="1.3"/>
<circle cx="1316.8" cy="2213.4" r="4.9" fill="#fff" stroke="#000" stroke-width="1.3"/>
<circle cx="1354.5" cy="2107.3" r="4.9" fill="#fff" stroke="#000" stroke-width="1.3"/>
<circle cx="1354.5" cy="2127" r="4.9" fill="#fff" stroke="#000" stroke-width="1.3"/>
<circle cx="1354.5" cy="2146.4" r="4.9" fill="#fff" stroke="#000" stroke-width="1.3"/>
<circle cx="1348.9" cy="2166.8" r="4.9" fill="#fff" stroke="#000" stroke-width="1.3"/>
<circle cx="1360.7" cy="2171.4" r="4.9" fill="#fff" stroke="#000" stroke-width="1.3"/>
<circle cx="1354.5" cy="2190.7" r="4.9" fill="#fff" stroke="#000" stroke-width="1.3"/>
<circle cx="1344.1" cy="2205.5" r="4.9" fill="#fff" stroke="#000" stroke-width="1.3"/>
<circle cx="1354.5" cy="2207.7" r="4.9" fill="#fff" stroke="#000" stroke-width="1.3"/>
<circle cx="1365.2" cy="2201.4" r="4.9" fill="#fff" stroke="#000" stroke-width="1.3"/>
<circle cx="1354.5" cy="2222.5" r="4.9" fill="#fff" stroke="#000" stroke-width="1.3"/>
<circle cx="1402.7" cy="2091.8" r="4.9" fill="#fff" stroke="#000" stroke-width="1.3"/>
<circle cx="1392.5" cy="2155.9" r="4.9" fill="#fff" stroke="#000" stroke-width="1.3"/>
<circle cx="1413" cy="2155.9" r="4.9" fill="#fff" stroke="#000" stroke-width="1.3"/>
<circle cx="1402.7" cy="2163.4" r="4.9" fill="#fff" stroke="#000" stroke-width="1.3"/>
<circle cx="1392.5" cy="2198.2" r="4.9" fill="#fff" stroke="#000" stroke-width="1.3"/>
<circle cx="1413" cy="2194.5" r="4.9" fill="#fff" stroke="#000" stroke-width="1.3"/>
<circle cx="1392.5" cy="2207.7" r="4.9" fill="#fff" stroke="#000" stroke-width="1.3"/>
<circle cx="1397.5" cy="2209.5" r="4.9" fill="#fff" stroke="#000" stroke-width="1.3"/>
<circle cx="1407.3" cy="2208.9" r="4.9" fill="#fff" stroke="#000" stroke-width="1.3"/>
<circle cx="1413" cy="2208.2" r="4.9" fill="#fff" stroke="#000" stroke-width="1.3"/>
<circle cx="1402.7" cy="2219.1" r="4.9" fill="#fff" stroke="#000" stroke-width="1.3"/>
<circle cx="1407.3" cy="2218" r="4.9" fill="#fff" stroke="#000" stroke-width="1.3"/>
<text x="1109.5" y="2115.7" font-size="27" text-anchor="middle" font-weight="normal" font-family='"Liberation Sans", Arial, sans-serif' transform="rotate(-90 1109.5 2115.7)">Anti-spike</text>
<text x="1142.5" y="2115" font-size="27" text-anchor="middle" font-weight="normal" font-family='"Liberation Sans", Arial, sans-serif' transform="rotate(-90 1142.5 2115)">IgG AUC ELISA</text>
<line x1="118.2" y1="2347.6" x2="118.2" y2="2610.7" stroke="#000" stroke-width="1.3"/>
<line x1="107.3" y1="2610.7" x2="302.3" y2="2610.7" stroke="#000" stroke-width="1.3"/>
<line x1="106.8" y1="2348.2" x2="118.2" y2="2348.2" stroke="#000" stroke-width="1.3"/>
<text x="96.7" y="2357.1" font-size="26.7" text-anchor="end" font-family='"Liberation Sans", Arial, sans-serif'>10<tspan font-size="18.6" dy="-12.6">3</tspan></text>
<line x1="106.8" y1="2435.7" x2="118.2" y2="2435.7" stroke="#000" stroke-width="1.3"/>
<text x="96.7" y="2444.6" font-size="26.7" text-anchor="end" font-family='"Liberation Sans", Arial, sans-serif'>10<tspan font-size="18.6" dy="-12.6">2</tspan></text>
<line x1="106.8" y1="2523.2" x2="118.2" y2="2523.2" stroke="#000" stroke-width="1.3"/>
<text x="96.7" y="2532.1" font-size="26.7" text-anchor="end" font-family='"Liberation Sans", Arial, sans-serif'>10<tspan font-size="18.6" dy="-12.6">1</tspan></text>
<line x1="106.8" y1="2610.7" x2="118.2" y2="2610.7" stroke="#000" stroke-width="1.3"/>
<text x="96.7" y="2619.6" font-size="26.7" text-anchor="end" font-family='"Liberation Sans", Arial, sans-serif'>10<tspan font-size="18.6" dy="-12.6">0</tspan></text>
<line x1="112.8" y1="2409.3" x2="118.2" y2="2409.3" stroke="#000" stroke-width="1.2"/>
<line x1="112.8" y1="2393.9" x2="118.2" y2="2393.9" stroke="#000" stroke-width="1.2"/>
<line x1="112.8" y1="2383" x2="118.2" y2="2383" stroke="#000" stroke-width="1.2"/>
<line x1="112.8" y1="2374.5" x2="118.2" y2="2374.5" stroke="#000" stroke-width="1.2"/>
<line x1="112.8" y1="2367.6" x2="118.2" y2="2367.6" stroke="#000" stroke-width="1.2"/>
<line x1="112.8" y1="2361.7" x2="118.2" y2="2361.7" stroke="#000" stroke-width="1.2"/>
<line x1="112.8" y1="2356.7" x2="118.2" y2="2356.7" stroke="#000" stroke-width="1.2"/>
<line x1="112.8" y1="2352.2" x2="118.2" y2="2352.2" stroke="#000" stroke-width="1.2"/>
<line x1="112.8" y1="2496.8" x2="118.2" y2="2496.8" stroke="#000" stroke-width="1.2"/>
<line x1="112.8" y1="2481.4" x2="118.2" y2="2481.4" stroke="#000" stroke-width="1.2"/>
<line x1="112.8" y1="2470.5" x2="118.2" y2="2470.5" stroke="#000" stroke-width="1.2"/>
<line x1="112.8" y1="2462" x2="118.2" y2="2462" stroke="#000" stroke-width="1.2"/>
<line x1="112.8" y1="2455.1" x2="118.2" y2="2455.1" stroke="#000" stroke-width="1.2"/>
<line x1="112.8" y1="2449.2" x2="118.2" y2="2449.2" stroke="#000" stroke-width="1.2"/>
<line x1="112.8" y1="2444.2" x2="118.2" y2="2444.2" stroke="#000" stroke-width="1.2"/>
<line x1="112.8" y1="2439.7" x2="118.2" y2="2439.7" stroke="#000" stroke-width="1.2"/>
<line x1="112.8" y1="2584.3" x2="118.2" y2="2584.3" stroke="#000" stroke-width="1.2"/>
<line x1="112.8" y1="2568.9" x2="118.2" y2="2568.9" stroke="#000" stroke-width="1.2"/>
<line x1="112.8" y1="2558" x2="118.2" y2="2558" stroke="#000" stroke-width="1.2"/>
<line x1="112.8" y1="2549.5" x2="118.2" y2="2549.5" stroke="#000" stroke-width="1.2"/>
<line x1="112.8" y1="2542.6" x2="118.2" y2="2542.6" stroke="#000" stroke-width="1.2"/>
<line x1="112.8" y1="2536.7" x2="118.2" y2="2536.7" stroke="#000" stroke-width="1.2"/>
<line x1="112.8" y1="2531.7" x2="118.2" y2="2531.7" stroke="#000" stroke-width="1.2"/>
<line x1="112.8" y1="2527.2" x2="118.2" y2="2527.2" stroke="#000" stroke-width="1.2"/>
<line x1="141.4" y1="2610.7" x2="141.4" y2="2621.7" stroke="#000" stroke-width="1.3"/>
<line x1="186.8" y1="2610.7" x2="186.8" y2="2621.7" stroke="#000" stroke-width="1.3"/>
<line x1="233" y1="2610.7" x2="233" y2="2621.7" stroke="#000" stroke-width="1.3"/>
<line x1="279.1" y1="2610.7" x2="279.1" y2="2621.7" stroke="#000" stroke-width="1.3"/>
<line x1="186.8" y1="2486.4" x2="186.8" y2="2584.5" stroke="#000" stroke-width="1.3"/>
<line x1="180" y1="2486.4" x2="193.6" y2="2486.4" stroke="#000" stroke-width="1.3"/>
<rect x="171.7" y="2584.5" width="30.2" height="26.1" fill="#3f5bff" stroke="#000" stroke-width="1.3"/>
<line x1="171.7" y1="2610.7" x2="201.9" y2="2610.7" stroke="#000" stroke-width="1.3"/>
<line x1="233" y1="2470.9" x2="233" y2="2497" stroke="#000" stroke-width="1.3"/>
<rect x="217.8" y="2497" width="30.2" height="113.6" fill="#9533ff" stroke="#000" stroke-width="1.3"/>
<line x1="279.1" y1="2435" x2="279.1" y2="2488" stroke="#000" stroke-width="1.3"/>
<line x1="272.3" y1="2435" x2="285.9" y2="2435" stroke="#000" stroke-width="1.3"/>
<rect x="264" y="2488" width="30.2" height="122.7" fill="#ff2a00" stroke="#000" stroke-width="1.3"/>
<line x1="264" y1="2556.1" x2="294.2" y2="2556.1" stroke="#000" stroke-width="1.3"/>
<line x1="120.6" y1="2605.5" x2="302.3" y2="2605.5" stroke="#000" stroke-width="2.6" stroke-linecap="round" stroke-dasharray="0.01,5.13"/>
<circle cx="130.7" cy="2611.1" r="4.9" fill="#fff" stroke="#000" stroke-width="1.3"/>
<circle cx="136.4" cy="2611.1" r="4.9" fill="#fff" stroke="#000" stroke-width="1.3"/>
<circle cx="141.4" cy="2611.1" r="4.9" fill="#fff" stroke="#000" stroke-width="1.3"/>
<circle cx="146.6" cy="2611.1" r="4.9" fill="#fff" stroke="#000" stroke-width="1.3"/>
<circle cx="151.1" cy="2611.1" r="4.9" fill="#fff" stroke="#000" stroke-width="1.3"/>
<circle cx="186.8" cy="2486.4" r="4.9" fill="#fff" stroke="#000" stroke-width="1.3"/>
<circle cx="186.8" cy="2531.8" r="4.9" fill="#fff" stroke="#000" stroke-width="1.3"/>
<circle cx="178.4" cy="2611.1" r="4.9" fill="#fff" stroke="#000" stroke-width="1.3"/>
<circle cx="184.1" cy="2611.1" r="4.9" fill="#fff" stroke="#000" stroke-width="1.3"/>
<circle cx="190.9" cy="2611.1" r="4.9" fill="#fff" stroke="#000" stroke-width="1.3"/>
<circle cx="195.5" cy="2611.1" r="4.9" fill="#fff" stroke="#000" stroke-width="1.3"/>
<circle cx="229.1" cy="2470.9" r="4.9" fill="#fff" stroke="#000" stroke-width="1.3"/>
<circle cx="238.6" cy="2472.7" r="4.9" fill="#fff" stroke="#000" stroke-width="1.3"/>
<circle cx="233" cy="2510" r="4.9" fill="#fff" stroke="#000" stroke-width="1.3"/>
<circle cx="233" cy="2536.1" r="4.9" fill="#fff" stroke="#000" stroke-width="1.3"/>
<circle cx="227.3" cy="2611.1" r="4.9" fill="#fff" stroke="#000" stroke-width="1.3"/>
<circle cx="231.8" cy="2611.1" r="4.9" fill="#fff" stroke="#000" stroke-width="1.3"/>
<circle cx="237.5" cy="2611.1" r="4.9" fill="#fff" stroke="#000" stroke-width="1.3"/>
<circle cx="240.9" cy="2611.1" r="4.9" fill="#fff" stroke="#000" stroke-width="1.3"/>
<circle cx="279.1" cy="2435" r="4.9" fill="#fff" stroke="#000" stroke-width="1.3"/>
<circle cx="273.9" cy="2480.5" r="4.9" fill="#fff" stroke="#000" stroke-width="1.3"/>
<circle cx="284.5" cy="2480.5" r="4.9" fill="#fff" stroke="#000" stroke-width="1.3"/>
<circle cx="279.1" cy="2520.9" r="4.9" fill="#fff" stroke="#000" stroke-width="1.3"/>
<circle cx="272.7" cy="2535.7" r="4.9" fill="#fff" stroke="#000" stroke-width="1.3"/>
<circle cx="284.5" cy="2536.1" r="4.9" fill="#fff" stroke="#000" stroke-width="1.3"/>
<circle cx="284.5" cy="2602.7" r="4.9" fill="#fff" stroke="#000" stroke-width="1.3"/>
<circle cx="272.7" cy="2611.1" r="4.9" fill="#fff" stroke="#000" stroke-width="1.3"/>
<circle cx="278.4" cy="2611.1" r="4.9" fill="#fff" stroke="#000" stroke-width="1.3"/>
<circle cx="285.2" cy="2611.1" r="4.9" fill="#fff" stroke="#000" stroke-width="1.3"/>
<polyline points="142.5,2595.5 142.5,2406.6 279.1,2406.6 279.1,2418.6" fill="none" stroke="#000" stroke-width="1.3"/>
<text x="211.7" y="2407.6" font-size="30" text-anchor="middle" font-weight="normal" font-family='"Liberation Sans", Arial, sans-serif' letter-spacing="2.1">*</text>
<text x="23.4" y="2478.9" font-size="27" text-anchor="middle" font-family='"Liberation Sans", Arial, sans-serif' transform="rotate(-90 23.4 2478.9)">Neutralization (ED<tspan font-size="18.5" dy="6">50</tspan><tspan dy="-6">)</tspan></text>
<text x="2" y="2318" font-size="29" text-anchor="start" font-weight="bold" font-family='"Liberation Sans", Arial, sans-serif'>j</text>
<line x1="529.1" y1="2341" x2="529.1" y2="2609.5" stroke="#000" stroke-width="1.3"/>
<line x1="518" y1="2609.5" x2="684.1" y2="2609.5" stroke="#000" stroke-width="1.3"/>
<line x1="517.7" y1="2341.6" x2="529.1" y2="2341.6" stroke="#000" stroke-width="1.3"/>
<text x="503.4" y="2350.3" font-size="24.4" text-anchor="end" font-family='"Liberation Sans", Arial, sans-serif' textLength="30.9" lengthAdjust="spacingAndGlyphs">70</text>
<line x1="517.7" y1="2386.2" x2="529.1" y2="2386.2" stroke="#000" stroke-width="1.3"/>
<text x="503.4" y="2395" font-size="24.4" text-anchor="end" font-family='"Liberation Sans", Arial, sans-serif' textLength="30.9" lengthAdjust="spacingAndGlyphs">60</text>
<line x1="517.7" y1="2430.9" x2="529.1" y2="2430.9" stroke="#000" stroke-width="1.3"/>
<text x="503.4" y="2439.6" font-size="24.4" text-anchor="end" font-family='"Liberation Sans", Arial, sans-serif' textLength="30.9" lengthAdjust="spacingAndGlyphs">50</text>
<line x1="517.7" y1="2475.6" x2="529.1" y2="2475.6" stroke="#000" stroke-width="1.3"/>
<text x="503.4" y="2484.3" font-size="24.4" text-anchor="end" font-family='"Liberation Sans", Arial, sans-serif' textLength="30.9" lengthAdjust="spacingAndGlyphs">40</text>
<line x1="517.7" y1="2520.2" x2="529.1" y2="2520.2" stroke="#000" stroke-width="1.3"/>
<text x="503.4" y="2529" font-size="24.4" text-anchor="end" font-family='"Liberation Sans", Arial, sans-serif' textLength="30.9" lengthAdjust="spacingAndGlyphs">30</text>
<line x1="517.7" y1="2564.9" x2="529.1" y2="2564.9" stroke="#000" stroke-width="1.3"/>
<text x="503.4" y="2573.6" font-size="24.4" text-anchor="end" font-family='"Liberation Sans", Arial, sans-serif' textLength="30.9" lengthAdjust="spacingAndGlyphs">20</text>
<line x1="517.7" y1="2609.5" x2="529.1" y2="2609.5" stroke="#000" stroke-width="1.3"/>
<text x="503.4" y="2618.3" font-size="24.4" text-anchor="end" font-family='"Liberation Sans", Arial, sans-serif' textLength="30.9" lengthAdjust="spacingAndGlyphs">10</text>
<line x1="548.6" y1="2609.5" x2="548.6" y2="2620.5" stroke="#000" stroke-width="1.3"/>
<line x1="587.3" y1="2609.5" x2="587.3" y2="2620.5" stroke="#000" stroke-width="1.3"/>
<line x1="626.4" y1="2609.5" x2="626.4" y2="2620.5" stroke="#000" stroke-width="1.3"/>
<line x1="665" y1="2609.5" x2="665" y2="2620.5" stroke="#000" stroke-width="1.3"/>
<rect x="574.5" y="2565" width="25.9" height="44.5" fill="#0a2dff" stroke="#333" stroke-width="0.8"/>
<rect x="613.5" y="2475.5" width="25.9" height="134.1" fill="#9637ff" stroke="#333" stroke-width="0.8"/>
<rect x="652.6" y="2393.4" width="25.9" height="216.1" fill="#ff2600" stroke="#333" stroke-width="0.8"/>
<text x="379.5" y="2474.5" font-size="27" text-anchor="middle" font-weight="normal" font-family='"Liberation Sans", Arial, sans-serif' transform="rotate(-90 379.5 2474.5)">Patients</text>
<text x="411.8" y="2475.7" font-size="27" text-anchor="middle" font-weight="normal" font-family='"Liberation Sans", Arial, sans-serif' transform="rotate(-90 411.8 2475.7)">with neutralization</text>
<text x="444.8" y="2475.2" font-size="27" text-anchor="middle" font-family='"Liberation Sans", Arial, sans-serif' transform="rotate(-90 444.8 2475.2)">(ED<tspan font-size="18.5" dy="6">50</tspan><tspan dy="-6"> ≥ 1) (%)</tspan></text>
<text x="358" y="2320.7" font-size="29" text-anchor="start" font-weight="bold" font-family='"Liberation Sans", Arial, sans-serif'>k</text>
<line x1="883.4" y1="2334.2" x2="883.4" y2="2600.1" stroke="#000" stroke-width="1.3"/>
<line x1="872" y1="2588.7" x2="883.4" y2="2588.7" stroke="#000" stroke-width="1.3"/>
<text x="860.7" y="2596.8" font-size="22.7" text-anchor="end" font-family='"Liberation Sans", Arial, sans-serif' textLength="14.4" lengthAdjust="spacingAndGlyphs">0</text>
<line x1="872" y1="2563.3" x2="883.4" y2="2563.3" stroke="#000" stroke-width="1.3"/>
<text x="860.7" y="2571.4" font-size="22.7" text-anchor="end" font-family='"Liberation Sans", Arial, sans-serif' textLength="28.8" lengthAdjust="spacingAndGlyphs">10</text>
<line x1="872" y1="2537.9" x2="883.4" y2="2537.9" stroke="#000" stroke-width="1.3"/>
<text x="860.7" y="2546" font-size="22.7" text-anchor="end" font-family='"Liberation Sans", Arial, sans-serif' textLength="28.8" lengthAdjust="spacingAndGlyphs">20</text>
<line x1="872" y1="2512.5" x2="883.4" y2="2512.5" stroke="#000" stroke-width="1.3"/>
<text x="860.7" y="2520.7" font-size="22.7" text-anchor="end" font-family='"Liberation Sans", Arial, sans-serif' textLength="28.8" lengthAdjust="spacingAndGlyphs">30</text>
<line x1="872" y1="2487.1" x2="883.4" y2="2487.1" stroke="#000" stroke-width="1.3"/>
<text x="860.7" y="2495.3" font-size="22.7" text-anchor="end" font-family='"Liberation Sans", Arial, sans-serif' textLength="28.8" lengthAdjust="spacingAndGlyphs">40</text>
<line x1="872" y1="2461.8" x2="883.4" y2="2461.8" stroke="#000" stroke-width="1.3"/>
<text x="860.7" y="2469.9" font-size="22.7" text-anchor="end" font-family='"Liberation Sans", Arial, sans-serif' textLength="28.8" lengthAdjust="spacingAndGlyphs">50</text>
<line x1="872" y1="2436.4" x2="883.4" y2="2436.4" stroke="#000" stroke-width="1.3"/>
<text x="860.7" y="2444.5" font-size="22.7" text-anchor="end" font-family='"Liberation Sans", Arial, sans-serif' textLength="28.8" lengthAdjust="spacingAndGlyphs">60</text>
<line x1="872" y1="2411" x2="883.4" y2="2411" stroke="#000" stroke-width="1.3"/>
<text x="860.7" y="2419.1" font-size="22.7" text-anchor="end" font-family='"Liberation Sans", Arial, sans-serif' textLength="28.8" lengthAdjust="spacingAndGlyphs">70</text>
<line x1="872" y1="2385.6" x2="883.4" y2="2385.6" stroke="#000" stroke-width="1.3"/>
<text x="860.7" y="2393.7" font-size="22.7" text-anchor="end" font-family='"Liberation Sans", Arial, sans-serif' textLength="28.8" lengthAdjust="spacingAndGlyphs">80</text>
<line x1="872" y1="2360.2" x2="883.4" y2="2360.2" stroke="#000" stroke-width="1.3"/>
<text x="860.7" y="2368.3" font-size="22.7" text-anchor="end" font-family='"Liberation Sans", Arial, sans-serif' textLength="28.8" lengthAdjust="spacingAndGlyphs">90</text>
<line x1="872" y1="2334.8" x2="883.4" y2="2334.8" stroke="#000" stroke-width="1.3"/>
<text x="860.7" y="2342.9" font-size="22.7" text-anchor="end" font-family='"Liberation Sans", Arial, sans-serif' textLength="43.2" lengthAdjust="spacingAndGlyphs">100</text>
<line x1="872" y1="2588.7" x2="1156.2" y2="2588.7" stroke="#000" stroke-width="1.3"/>
<line x1="883.4" y1="2588.7" x2="883.4" y2="2600.1" stroke="#000" stroke-width="1.3"/>
<text x="895.9" y="2621.2" font-size="22.7" text-anchor="end" font-family='"Liberation Sans", Arial, sans-serif' textLength="14.4" lengthAdjust="spacingAndGlyphs" transform="rotate(-45 895.9 2621.2)">0</text>
<line x1="928.9" y1="2588.7" x2="928.9" y2="2600.1" stroke="#000" stroke-width="1.3"/>
<text x="941.4" y="2621.2" font-size="22.7" text-anchor="end" font-family='"Liberation Sans", Arial, sans-serif' textLength="28.8" lengthAdjust="spacingAndGlyphs" transform="rotate(-45 941.4 2621.2)">20</text>
<line x1="974.4" y1="2588.7" x2="974.4" y2="2600.1" stroke="#000" stroke-width="1.3"/>
<text x="986.9" y="2621.2" font-size="22.7" text-anchor="end" font-family='"Liberation Sans", Arial, sans-serif' textLength="28.8" lengthAdjust="spacingAndGlyphs" transform="rotate(-45 986.9 2621.2)">40</text>
<line x1="1019.8" y1="2588.7" x2="1019.8" y2="2600.1" stroke="#000" stroke-width="1.3"/>
<text x="1032.3" y="2621.2" font-size="22.7" text-anchor="end" font-family='"Liberation Sans", Arial, sans-serif' textLength="28.8" lengthAdjust="spacingAndGlyphs" transform="rotate(-45 1032.3 2621.2)">60</text>
<line x1="1065.3" y1="2588.7" x2="1065.3" y2="2600.1" stroke="#000" stroke-width="1.3"/>
<text x="1077.8" y="2621.2" font-size="22.7" text-anchor="end" font-family='"Liberation Sans", Arial, sans-serif' textLength="28.8" lengthAdjust="spacingAndGlyphs" transform="rotate(-45 1077.8 2621.2)">80</text>
<line x1="1110.7" y1="2588.7" x2="1110.7" y2="2600.1" stroke="#000" stroke-width="1.3"/>
<text x="1123.2" y="2621.2" font-size="22.7" text-anchor="end" font-family='"Liberation Sans", Arial, sans-serif' textLength="43.2" lengthAdjust="spacingAndGlyphs" transform="rotate(-45 1123.2 2621.2)">100</text>
<line x1="1156.2" y1="2588.7" x2="1156.2" y2="2600.1" stroke="#000" stroke-width="1.3"/>
<text x="1168.7" y="2621.2" font-size="22.7" text-anchor="end" font-family='"Liberation Sans", Arial, sans-serif' textLength="43.2" lengthAdjust="spacingAndGlyphs" transform="rotate(-45 1168.7 2621.2)">120</text>
<circle cx="943.5" cy="2413.4" r="5.9" fill="#0033ff" stroke="#fff" stroke-width="0.7"/>
<circle cx="901.3" cy="2534.2" r="5.9" fill="#0033ff" stroke="#fff" stroke-width="0.7"/>
<circle cx="883.4" cy="2373.4" r="5.9" fill="#9a3cf5" stroke="#fff" stroke-width="0.7"/>
<circle cx="883.4" cy="2381.6" r="5.9" fill="#9a3cf5" stroke="#fff" stroke-width="0.7"/>
<circle cx="899.4" cy="2449.7" r="5.9" fill="#9a3cf5" stroke="#fff" stroke-width="0.7"/>
<circle cx="883.4" cy="2536.8" r="5.9" fill="#9a3cf5" stroke="#fff" stroke-width="0.7"/>
<circle cx="968.8" cy="2549.7" r="5.9" fill="#9a3cf5" stroke="#fff" stroke-width="0.7"/>
<circle cx="915.3" cy="2575.1" r="5.9" fill="#9a3cf5" stroke="#fff" stroke-width="0.7"/>
<circle cx="973.7" cy="2588.1" r="5.9" fill="#9a3cf5" stroke="#fff" stroke-width="0.7"/>
<circle cx="899" cy="2359.2" r="5.9" fill="#ff2a00" stroke="#fff" stroke-width="0.7"/>
<circle cx="906.8" cy="2367.9" r="5.9" fill="#ff2a00" stroke="#fff" stroke-width="0.7"/>
<circle cx="1117.2" cy="2364" r="5.9" fill="#ff2a00" stroke="#fff" stroke-width="0.7"/>
<circle cx="952.3" cy="2377" r="5.9" fill="#ff2a00" stroke="#fff" stroke-width="0.7"/>
<circle cx="883.4" cy="2389.7" r="5.9" fill="#ff2a00" stroke="#fff" stroke-width="0.7"/>
<circle cx="954.2" cy="2417.6" r="5.9" fill="#ff2a00" stroke="#fff" stroke-width="0.7"/>
<circle cx="885.7" cy="2428" r="5.9" fill="#ff2a00" stroke="#fff" stroke-width="0.7"/>
<circle cx="883.4" cy="2469.2" r="5.9" fill="#ff2a00" stroke="#fff" stroke-width="0.7"/>
<circle cx="883.4" cy="2570.8" r="5.9" fill="#ff2a00" stroke="#fff" stroke-width="0.7"/>
<circle cx="883.4" cy="2579" r="5.9" fill="#ff2a00" stroke="#fff" stroke-width="0.7"/>
<circle cx="883.4" cy="2588.7" r="5.9" fill="#ff2a00" stroke="#fff" stroke-width="0.7"/>
<circle cx="899.7" cy="2575.1" r="5.9" fill="#ff2a00" stroke="#fff" stroke-width="0.7"/>
<text x="1019.8" y="2689.4" font-size="27" text-anchor="middle" font-family='"Liberation Sans", Arial, sans-serif'>Neutralization (ED<tspan font-size="18.360000000000003" dy="6">50</tspan><tspan dy="-6">)</tspan></text>
<text x="759.9" y="2461" font-size="27" text-anchor="middle" font-weight="normal" font-family='"Liberation Sans", Arial, sans-serif' transform="rotate(-90 759.9 2461)">S-Flow</text>
<text x="792.4" y="2461" font-size="27" text-anchor="middle" font-weight="normal" font-family='"Liberation Sans", Arial, sans-serif' transform="rotate(-90 792.4 2461)">IgA binding (%)</text>
<text x="1027.9" y="2546.5" font-size="20" font-family='"Liberation Sans", Arial, sans-serif'><tspan font-style="italic">σ</tspan> = 0.57</text>
<text x="1027.9" y="2571.8" font-size="20" font-family='"Liberation Sans", Arial, sans-serif'><tspan font-style="italic">P</tspan> = 1.2 × 10<tspan font-size="14.8" dy="-9">−6</tspan></text>
<text x="736" y="2321" font-size="29" text-anchor="start" font-weight="bold" font-family='"Liberation Sans", Arial, sans-serif'>l</text>
<line x1="1347.1" y1="2333.2" x2="1347.1" y2="2598.5" stroke="#000" stroke-width="1.3"/>
<line x1="1335.7" y1="2587.1" x2="1347.1" y2="2587.1" stroke="#000" stroke-width="1.3"/>
<text x="1325" y="2595.2" font-size="22.7" text-anchor="end" font-family='"Liberation Sans", Arial, sans-serif' textLength="14.4" lengthAdjust="spacingAndGlyphs">0</text>
<line x1="1335.7" y1="2561.8" x2="1347.1" y2="2561.8" stroke="#000" stroke-width="1.3"/>
<text x="1325" y="2569.9" font-size="22.7" text-anchor="end" font-family='"Liberation Sans", Arial, sans-serif' textLength="28.8" lengthAdjust="spacingAndGlyphs">10</text>
<line x1="1335.7" y1="2536.4" x2="1347.1" y2="2536.4" stroke="#000" stroke-width="1.3"/>
<text x="1325" y="2544.6" font-size="22.7" text-anchor="end" font-family='"Liberation Sans", Arial, sans-serif' textLength="28.8" lengthAdjust="spacingAndGlyphs">20</text>
<line x1="1335.7" y1="2511.1" x2="1347.1" y2="2511.1" stroke="#000" stroke-width="1.3"/>
<text x="1325" y="2519.2" font-size="22.7" text-anchor="end" font-family='"Liberation Sans", Arial, sans-serif' textLength="28.8" lengthAdjust="spacingAndGlyphs">30</text>
<line x1="1335.7" y1="2485.8" x2="1347.1" y2="2485.8" stroke="#000" stroke-width="1.3"/>
<text x="1325" y="2493.9" font-size="22.7" text-anchor="end" font-family='"Liberation Sans", Arial, sans-serif' textLength="28.8" lengthAdjust="spacingAndGlyphs">40</text>
<line x1="1335.7" y1="2460.5" x2="1347.1" y2="2460.5" stroke="#000" stroke-width="1.3"/>
<text x="1325" y="2468.6" font-size="22.7" text-anchor="end" font-family='"Liberation Sans", Arial, sans-serif' textLength="28.8" lengthAdjust="spacingAndGlyphs">50</text>
<line x1="1335.7" y1="2435.1" x2="1347.1" y2="2435.1" stroke="#000" stroke-width="1.3"/>
<text x="1325" y="2443.3" font-size="22.7" text-anchor="end" font-family='"Liberation Sans", Arial, sans-serif' textLength="28.8" lengthAdjust="spacingAndGlyphs">60</text>
<line x1="1335.7" y1="2409.8" x2="1347.1" y2="2409.8" stroke="#000" stroke-width="1.3"/>
<text x="1325" y="2417.9" font-size="22.7" text-anchor="end" font-family='"Liberation Sans", Arial, sans-serif' textLength="28.8" lengthAdjust="spacingAndGlyphs">70</text>
<line x1="1335.7" y1="2384.5" x2="1347.1" y2="2384.5" stroke="#000" stroke-width="1.3"/>
<text x="1325" y="2392.6" font-size="22.7" text-anchor="end" font-family='"Liberation Sans", Arial, sans-serif' textLength="28.8" lengthAdjust="spacingAndGlyphs">80</text>
<line x1="1335.7" y1="2359.2" x2="1347.1" y2="2359.2" stroke="#000" stroke-width="1.3"/>
<text x="1325" y="2367.3" font-size="22.7" text-anchor="end" font-family='"Liberation Sans", Arial, sans-serif' textLength="28.8" lengthAdjust="spacingAndGlyphs">90</text>
<line x1="1335.7" y1="2333.8" x2="1347.1" y2="2333.8" stroke="#000" stroke-width="1.3"/>
<text x="1325" y="2342" font-size="22.7" text-anchor="end" font-family='"Liberation Sans", Arial, sans-serif' textLength="43.2" lengthAdjust="spacingAndGlyphs">100</text>
<line x1="1335.7" y1="2587.1" x2="1619.8" y2="2587.1" stroke="#000" stroke-width="1.3"/>
<line x1="1347.1" y1="2587.1" x2="1347.1" y2="2598.5" stroke="#000" stroke-width="1.3"/>
<text x="1359.6" y="2619.6" font-size="22.7" text-anchor="end" font-family='"Liberation Sans", Arial, sans-serif' textLength="14.4" lengthAdjust="spacingAndGlyphs" transform="rotate(-45 1359.6 2619.6)">0</text>
<line x1="1392.5" y1="2587.1" x2="1392.5" y2="2598.5" stroke="#000" stroke-width="1.3"/>
<text x="1405" y="2619.6" font-size="22.7" text-anchor="end" font-family='"Liberation Sans", Arial, sans-serif' textLength="28.8" lengthAdjust="spacingAndGlyphs" transform="rotate(-45 1405 2619.6)">20</text>
<line x1="1438" y1="2587.1" x2="1438" y2="2598.5" stroke="#000" stroke-width="1.3"/>
<text x="1450.5" y="2619.6" font-size="22.7" text-anchor="end" font-family='"Liberation Sans", Arial, sans-serif' textLength="28.8" lengthAdjust="spacingAndGlyphs" transform="rotate(-45 1450.5 2619.6)">40</text>
<line x1="1483.4" y1="2587.1" x2="1483.4" y2="2598.5" stroke="#000" stroke-width="1.3"/>
<text x="1495.9" y="2619.6" font-size="22.7" text-anchor="end" font-family='"Liberation Sans", Arial, sans-serif' textLength="28.8" lengthAdjust="spacingAndGlyphs" transform="rotate(-45 1495.9 2619.6)">60</text>
<line x1="1528.9" y1="2587.1" x2="1528.9" y2="2598.5" stroke="#000" stroke-width="1.3"/>
<text x="1541.4" y="2619.6" font-size="22.7" text-anchor="end" font-family='"Liberation Sans", Arial, sans-serif' textLength="28.8" lengthAdjust="spacingAndGlyphs" transform="rotate(-45 1541.4 2619.6)">80</text>
<line x1="1574.4" y1="2587.1" x2="1574.4" y2="2598.5" stroke="#000" stroke-width="1.3"/>
<text x="1586.9" y="2619.6" font-size="22.7" text-anchor="end" font-family='"Liberation Sans", Arial, sans-serif' textLength="43.2" lengthAdjust="spacingAndGlyphs" transform="rotate(-45 1586.9 2619.6)">100</text>
<line x1="1619.8" y1="2587.1" x2="1619.8" y2="2598.5" stroke="#000" stroke-width="1.3"/>
<text x="1632.3" y="2619.6" font-size="22.7" text-anchor="end" font-family='"Liberation Sans", Arial, sans-serif' textLength="43.2" lengthAdjust="spacingAndGlyphs" transform="rotate(-45 1632.3 2619.6)">120</text>
<circle cx="1347.1" cy="2564.4" r="5.9" fill="#000000" stroke="#fff" stroke-width="0.7"/>
<circle cx="1347.1" cy="2419.9" r="5.9" fill="#0033ff" stroke="#fff" stroke-width="0.7"/>
<circle cx="1407.1" cy="2429.6" r="5.9" fill="#0033ff" stroke="#fff" stroke-width="0.7"/>
<circle cx="1365.6" cy="2448.1" r="5.9" fill="#0033ff" stroke="#fff" stroke-width="0.7"/>
<circle cx="1347.1" cy="2572.5" r="5.9" fill="#0033ff" stroke="#fff" stroke-width="0.7"/>
<circle cx="1347.1" cy="2577.3" r="5.9" fill="#0033ff" stroke="#fff" stroke-width="0.7"/>
<circle cx="1347.1" cy="2364" r="5.9" fill="#9a3cf5" stroke="#fff" stroke-width="0.7"/>
<circle cx="1432.8" cy="2385.1" r="5.9" fill="#9a3cf5" stroke="#fff" stroke-width="0.7"/>
<circle cx="1347.1" cy="2406.9" r="5.9" fill="#9a3cf5" stroke="#fff" stroke-width="0.7"/>
<circle cx="1363.3" cy="2449.7" r="5.9" fill="#9a3cf5" stroke="#fff" stroke-width="0.7"/>
<circle cx="1347.1" cy="2459.8" r="5.9" fill="#9a3cf5" stroke="#fff" stroke-width="0.7"/>
<circle cx="1379.2" cy="2493.9" r="5.9" fill="#9a3cf5" stroke="#fff" stroke-width="0.7"/>
<circle cx="1347.1" cy="2545.8" r="5.9" fill="#9a3cf5" stroke="#fff" stroke-width="0.7"/>
<circle cx="1437.7" cy="2566.9" r="5.9" fill="#9a3cf5" stroke="#fff" stroke-width="0.7"/>
<circle cx="1347.1" cy="2587.1" r="5.9" fill="#9a3cf5" stroke="#fff" stroke-width="0.7"/>
<circle cx="1371.1" cy="2357.2" r="5.9" fill="#ff2a00" stroke="#fff" stroke-width="0.7"/>
<circle cx="1363" cy="2362.1" r="5.9" fill="#ff2a00" stroke="#fff" stroke-width="0.7"/>
<circle cx="1415.9" cy="2373.1" r="5.9" fill="#ff2a00" stroke="#fff" stroke-width="0.7"/>
<circle cx="1580.5" cy="2377" r="5.9" fill="#ff2a00" stroke="#fff" stroke-width="0.7"/>
<circle cx="1349.4" cy="2389.7" r="5.9" fill="#ff2a00" stroke="#fff" stroke-width="0.7"/>
<circle cx="1347.1" cy="2434.5" r="5.9" fill="#ff2a00" stroke="#fff" stroke-width="0.7"/>
<circle cx="1347.1" cy="2476.7" r="5.9" fill="#ff2a00" stroke="#fff" stroke-width="0.7"/>
<circle cx="1417.5" cy="2482.2" r="5.9" fill="#ff2a00" stroke="#fff" stroke-width="0.7"/>
<circle cx="1347.1" cy="2566.6" r="5.9" fill="#ff2a00" stroke="#fff" stroke-width="0.7"/>
<circle cx="1347.1" cy="2585.5" r="5.9" fill="#ff2a00" stroke="#fff" stroke-width="0.7"/>
<circle cx="1363.3" cy="2584.5" r="5.9" fill="#ff2a00" stroke="#fff" stroke-width="0.7"/>
<text x="1483.6" y="2689.4" font-size="27" text-anchor="middle" font-family='"Liberation Sans", Arial, sans-serif'>Neutralization (ED<tspan font-size="18.360000000000003" dy="6">50</tspan><tspan dy="-6">)</tspan></text>
<text x="1227.4" y="2461" font-size="27" text-anchor="middle" font-weight="normal" font-family='"Liberation Sans", Arial, sans-serif' transform="rotate(-90 1227.4 2461)">S-Flow</text>
<text x="1259.9" y="2461" font-size="27" text-anchor="middle" font-weight="normal" font-family='"Liberation Sans", Arial, sans-serif' transform="rotate(-90 1259.9 2461)">IgG binding (%)</text>
<text x="1491.6" y="2546.5" font-size="20" font-family='"Liberation Sans", Arial, sans-serif'><tspan font-style="italic">σ</tspan> = 0.56</text>
<text x="1491.6" y="2571.8" font-size="20" font-family='"Liberation Sans", Arial, sans-serif'><tspan font-style="italic">P</tspan> = 1.1 × 10<tspan font-size="14.8" dy="-9">−4</tspan></text>
</svg></body></html>
